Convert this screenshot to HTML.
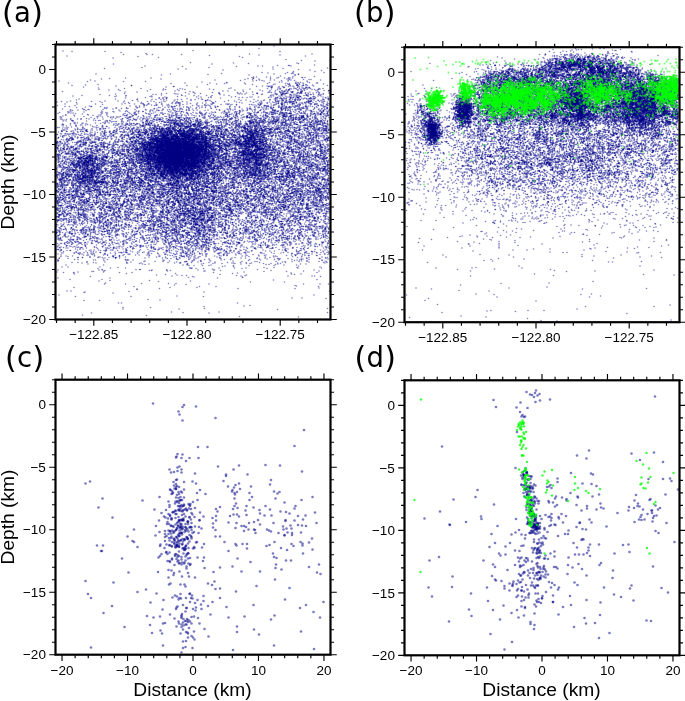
<!DOCTYPE html><html><head><meta charset="utf-8"><style>html,body{margin:0;padding:0;background:#fff}svg{display:block}text{font-family:"Liberation Sans",Arial,sans-serif;font-size:13.5px;fill:#000}.big{font-family:"DejaVu Sans",sans-serif;font-size:27.5px}.pp{font-size:30px}.big{letter-spacing:0.3px}.ax{font-size:19.2px}</style></head><body>
<svg width="685" height="701" viewBox="0 0 685 701">
<defs><marker id="n" markerUnits="userSpaceOnUse" markerWidth="3.2" markerHeight="3.2" refX="1.6" refY="1.6" overflow="visible"><circle cx="1.6" cy="1.6" r="1.6" fill="#000088" fill-opacity="0.5"/></marker><marker id="g" markerUnits="userSpaceOnUse" markerWidth="4" markerHeight="4" refX="2" refY="2" overflow="visible"><circle cx="2" cy="2" r="2" fill="#00ff00" fill-opacity="0.55"/></marker><marker id="N" markerUnits="userSpaceOnUse" markerWidth="5.2" markerHeight="5.2" refX="2.6" refY="2.6" overflow="visible"><circle cx="2.6" cy="2.6" r="2.6" fill="#000088" fill-opacity="0.52"/></marker><marker id="G" markerUnits="userSpaceOnUse" markerWidth="4.8" markerHeight="4.8" refX="2.4" refY="2.4" overflow="visible"><circle cx="2.4" cy="2.4" r="2.4" fill="#00ff00" fill-opacity="0.75"/></marker></defs><path transform="scale(0.5)" d="m472 92 76 0-30 5-132 4 174 2-350 0-66 0-18-1 116 3 50 2-45 2 47 0 11 0 58 0 136-1 125 0-64 2-42 0-99 1-285 1 142 1 203 0 132-1-126 3-168 0-91 1 346 3 31 2 27 1-249 3 216 2-3-1-97 1-30-1-240 2 197 0 205 2-50 1-2 0-22 0-265 1 75 1 108 0 43-1 9 0 57 0-36 2-128 1-134 0-75 2 357 0 89-1-58 3-51-1-174 0-16 0 90 2 174 0 23 1-13 2-43 0-63 2 51 0 11 0 62 0-62 2-3 0-12 0-35-1-93 1-251 1 149 0 75 1 132-1 42 1 7-1 0 1-7 2-92-1-175 0 238 2 25 1 43 0-19 2-5 0-1 0-47 0-16-1-8 0-20 0-6 0-3 1-285 2 32-1 51 0 194 1 11 0 0-1 34 1 13-1 15 0 8 0 1 0 2 0 5 0 37 3-4 0-11 0-28 0-5-1-56 0-13 1-15 0-168-1-119 0-22 2 249 0 51 1 32 0 6-1 5 1 17-1 8 0 14 1 14-1 5 0 7 1 52-1-27 2-38 0-48 0-22 0-215 1-44 0-57-1-15 1-57-1 286 2 49 1 86 0 20-1 5 0 28 0 4 1 5 0 14-1 4 1 16 1-2 0-27 0-8 1-6 0-1-1-12 1-4 0-4 0-36 0-46-1-35 0-5 1-29-1-50 0-28 1-205-1 59 3 219 0 18-1 58 0 14 1 42 0 3-1 27 1 2 0 15-1 1 1 4 0 8-1 5 1 35-1 8 3-30-1-10 1-3-1-5 1-1 0-11 0-1-1 0 1-14 0-8 0-198 0-111 0 0 0-92-1-27 1 88 1 115 1 1 0 165 0 12-1 9 0 3 1 1 0 2-1 4 0 0 1 14 0 7 0 12 0 4-1 5 0 10 0 1 0 7 0 23 0-8 3-1 0-5-1-1 1-13-1-4 1-7-1-19 1-1-1-1 1-23 0-1 0-1-1-148 0-62 0-165 0 30 2 52 1 33 0 78 0 98 0 4-1 73 1 21-1 3 0 2 1 19 0 8 0 3 0 8 0 5-1 2 0 2 1 2 0 2-1 3 0 3 0 3 1 17 0 8 0-6 1-3 1-1 0-7 0-5 0-10 0-6 0-6 0-9-1-10 0-4 1-1 0-5 0-13 0-5 0-12-1-43 0-73 1-8-1-49 1-5-1-10 1-24 0-4-1-26 1-64 0-39 0 20 1 22 1 86-1 32 1 112-1 16 0 34 0 20 1 11 0 13 0 8 0 5-1 1 0 18 0 0 0 6 0 7 1 23 0 16 0 10 0 0 0-1 1-22 0-30 0-1 0-2 1-16 0-4 0-6-1-1 1-5 0-1-1-1 1-4-1-5 1-34-1-38 1-31-1-10 0-66 1-30-1-55 0-170 1 125 1 24 0 97 1 15-1 2 1 37 0 13 0 37 0 30-1 31 1 2-1 2 0 3 1 7-1 10 0 1 1 3 0 2-1 17 1 1-1 1 0 10 1 2 0 4 0 1-1 0 0 2 0 7 1 9-1 13 1 4-1 21 2-19 0-1 0-12 0-10 0-5 1-8-1 0 1-2-1-2 1-4 0-9-1-10 0-2 0-1 0-1 1-1 0-3-1-2 1-1 0-3 0-11 0-36 0-1-1 0 1-21-1-12 0-5 1-37 0-1 0-37 0-11 0-41 0-16 0-10 0-74 0-49 2 31-1 75 1 6 0 40-1 4 0 22 0 62 1 39-1 5 0 6 0 16 1 17 0 2-1 25 0 3 1 1-1 0 1 10 0 2-1 0 0 3 0 11 1 1 0 9 0 3-1 24 0 4 1 1 0 5 0 10 0 1 0 4 0 4-1 1 0-7 3-25-1-2 0 0 1-1-1-4 1-10 0-3 0-8-1-4 0-13 0-7 0 0 0-1 0-16 0-3 0-2 1-83 0-10-1-24 1-11 0-25 0-24 0-1-1-40 0-71 1-33 0-55 0-18 1 84 1 3-1 19 0 48 1 3-1 52 1 16-1 26 0 25 1 49 0 76-1 11 0 7 0 7 1 8-1 3 0 7 0 3 0 0 0 6 1 2 0 0 0 15-1 0 0 11 1 2 0 7-1 6 0 14 2-5 1-5-1-15 1-5-1-5 1-23-1-1 1-1 0-1-1 0 1-1 0-7-1 0 1-5 0-2-1-4 0-8 1-7-1-6 1 0 0-3 0-9-1-3 0-3 1-20-1-13 0-4 0-6 1-9 0-7 0-15-1-41 1-5 0-15-1-9 0-59 1-4-1-4 1-22-1-13 1-40 1 67 0 1 0 7 1 7-1 0 1 41 0 23 0 44-1 110 0 1 1 7 0 3-1 1 1 5 0 4 0 1-1 7 0 1 0 1 0 3 0 6 0 5 0 2 1 5-1 5 1 2-1 3 1 5 0 1 0 3-1 0 1 6 0 0 0 2 0 22-1 5 1 0 1-1 0-8 1-2-1 0 1-21-1-3 0-3 0-5 0-8 0-5 1-1 0-4 0-4-1-2 1 0 0-5 0-5 0-1 0-9-1-5 0-1 0-2 0-8 0-3 1-2-1-9 1-32 0-30 0-73 0-2-1-13 1-8 0-19 0-8 0-27 0-6 0-10 0-8 0-29-1-1 1-43-1-73 0-5 2 112 1 68-1 17 0 32 1 29 0 1 0 3-1 1 0 4 1 37 0 25 0 10-1 24 1 11 0 2-1 11 0 11 1 5 0 9 0 1-1 0 1 7-1 0 1 17 0 1 0 4-1 1 0 3 1 17-1 1 1 4 0 7-1 8 0 1 1 5 0 15-1-8 3-1-1-4 0-5 1-7 0-9-1 0 0-2 1 0 0-1 0-2 0-1 0-4 0-24 0-2 0-2 0-3-1 0 1-2 0-2-1-6 0-6 0-3 0-4 0-3 1 0 0-4-1-30 0-10 1-11 0-32-1-20 1-18 0-8 0-12-1-46 1-11 0-6-1-18 1-3-1-19 1-6-1-7 1-19-1-27 0-13 0-26 0-10 1-17 0-42-1-18 1-9 1 20 0 19 1 51 0 43-1 10 1 26 0 36 0 4-1 22 1 7 0 4 0 4 0 14-1 99 0 6 1 28 0 12 0 4-1 16 0 6 0 3 1 3-1 2 0 4 1 7 0 6-1 0 1 2-1 0 0 2 1 2-1 3 0 1 1 0-1 3 1 3-1 6 0 1 1 16 0 1 0 3 0 2-1 2 0 1 1 8 0 18 0 2-1 9 0 1 3-9 0-13 0-4 0-8 0-2 0-3-1-6 1-7-1 0 0-4 0-7 0-5 0-1 1-2-1 0 1-5-1-11 0-5 0-2 1-5 0-1 0-21-1-1 0-10 0-3 1-37-1-56 0-2 0 0 0-1 0-13 0-7 0-10 0-14 1-21 0-2-1-1 0-3 0-3 1-7 0-32-1-15 1-11 0-4 0-23 0-9 0-120 1 24 0 37 0 14 1 39-1 25 0 17 0 2 1 7 0 3-1 25 0 1 0 13 1 29 0 8-1 19 0 17 1 12-1 2 1 18 0 10-1 3 0 1 1 2-1 6 1 9 0 26 0 4 0 13-1 1 1 4-1 0 1 2-1 19 0 6 1 4-1 1 0 10 1 1-1 0 1 1-1 1 0 9 0 9 1 2-1 3 0 7 1 2-1 2 1 6-1 15 1 2-1 6 1 1 0 2-1 2 1 8 0 11 0 1-1 5 0-3 3-1-1-9 0-4 1-5 0-1 0-24-1-12 0 0 0-6 1-25-1-5 0-6 1-8-1-3 1-11 0-5 0-2 0-9-1-1 1-9-1-4 0-33 0-12 0-42 1-3-1-3 1-4-1-15 0-9 1-25-1-1 0-6 1-19-1-20 0-1 0-1 0-3 1-6-1-10 1-4-1-1 1-138 0-35 0 15 2 9 0 40-1 3 1 1 0 18 0 59-1 12 0 7 0 46 0 11 0 3 0 4 1 1 0 5 0 1 0 9-1 37 0 2 0 6 0 7 0 10 1 9-1 5 1 1 0 24 0 10 0 9 0 34-1 15 0 2 0 3 0 1 1 2 0 1 0 6-1 20 1 2 0 1-1 3 0 3 1 1 0 6 0 6-1 2 1 3-1 1 0 1 0 2 1 1-1 3 0 0 1 13-1 0 1 2 0 4-1 4 0 4 1 8 0 11-1 3 0 2 1 3-1 3 3-1 0-4-1-3 0-13 1-5 0-15-1-2 0-5 0-3 1-6 0-8 0-1 0-7-1 0 1-2-1-1 0-1 1-1 0-3 0-2 0-13-1-2 0 0 0-10 1 0 0-6-1-8 1-10-1-5 0 0 1-2 0-6-1-1 0-9 0-21 1-20-1-28 0 0 1-20 0-7 0-11 0-12-1-4 1-3-1 0 0-7 0-21 0-2 1-7 0-7 0-10 0-3 0-29-1-9 0-4 1-3-1-58 1-43-1-18 1 12 2 44-1 1 0 3 1 19-1 1 0 10 1 10-1 0 0 3 1 18-1 35 1 37 0 4 0 10-1 3 1 15 0 14 0 7-1 22 0 2 1 36 0 11-1 24 0 5 1 2 0 24-1 3 0 4 1 9-1 1 0 1 0 18 0 2 0 0 0 0 0 1 0 4 0 0 0 3 0 0 1 3 0 6 0 15 0 3 0 2-1 4 0 1 1 2-1 1 1 6-1 1 0 14 1 15 0 5 0 5 0 1-1 4 2-5 0-4 1-7-1-5 0-1 1-10 0-13-1-2 0-10 1-2-1-2 1-4 0-3 0-6 0-8 0-6 0-4-1-3 1 0 0-1 0-1-1-16 1-1-1-1 0-8 0-4 1-5 0-5 0-11-1-2 1-6 0-3-1-5 0-11 0-14 1-9-1-5 1-2-1-21 1-48-1-7 0-5 1-8 0-4-1-6 0-9 1-7 0-13-1 0 1-12-1-6 0-17 1-21 0-44-1-20 1-28 0-2 0-7 0-2 0-26 0-16-1 20 3 11-1 16 1 66-1 15 1 39-1 9 0 3 0 10 1 3 0 1 0 6 0 11-1 12 0 3 1 9-1 14 1 4-1 2 1 8 0 7-1 16 1 6-1 23 0 0 0 10 1 12-1 5 0 13 1 8 0 7 0 1-1 15 1 10 0 1 0 24 0 1 0 2-1 1 1 1 0 1-1 0 1 13 0 7-1 0 1 4 0 1-1 4 1 1-1 9 0 11 0 1 0 10 1 4-1 4 1 2 0 19 0 5 0 1 0 1-1 10 0-1 2-4 0-6 1 0 0-6-1-2 0-11 1-4 0-1-1-1 1-11 0-4 0-9 0 0 0-6-1-5 1-6 0-19-1-5 0-1 0-1 1-1 0-5 0-20-1-2 1-22-1-20 0-4 0-2 0-5 1-3 0-14-1-8 1-49 0-36 0-1 0-5 0-4 0-1 0-3-1-8 0-5 1-31-1-6 0-14 1 0 0-8-1-1 1-4-1-18 1-4 0-11-1-14 1-23-1-61 0-2 0-4 1-17 2 19 0 30-1 34 1 3-1 7 1 16-1 30 1 12-1 0 1 30-1 11 0 29 0 11 1 11-1 5 0 7 1 12 0 13 0 14 0 10-1 3 1 4-1 1 1 15-1 4 0 2 1 5 0 2-1 11 0 9 1 1-1 28 1 2-1 5 1 1-1 0 1 1-1 10 1 3 0 2 0 3 0 5-1 2 0 1 0 1 1 2-1 0 1 1 0 3-1 11 0 1 1 3 0 1 0 6 0 10-1 8 1 9 0 4 0 5 0 25-1 3 1 7 0 0-1 1 0 11 0 1 0-1 2 0 1-1 0-6 0-3-1-2 0-7 1-7 0 0 0-1 0-4-1-2 0-1 1-11-1-1 1-3 0-4 0 0 0-8 0-12 0 0 0-2-1 0 1-1 0 0 0-2 0-3-1-1 0-2 0-2 0-3 1-1-1-2 0-1 1-3-1-4 1-3-1-2 1-1-1-6 0-4 1-4 0-2-1-10 0-10 0-10 1-2 0-1 0-1-1-2 0-2 0-17 1-5-1 0 0-4 0-5 1-10-1 0 1-6 0-5-1-24 1-8 0-8-1-1 0-1 1-1-1-6 1-2-1-10 1-7 0-2-1-12 1-7 0-8-1-2 0-14 1-5-1-2 0-2 0-14 0-4 1-10 0-2-1-14 0-9 0-8 1-10 0-35-1-11 1-53 0-5-1-4 0-6 0-20 1 49 1 10 1 27 0 11-1 34 0 8 1 8 0 6-1 1 0 2 0 1 1 24-1 1 0 2 1 14 0 12-1 0 1 10-1 3 1 12-1 3 0 10 1 12-1 28 0 0 0 5 1 2-1 12 0 29 0 0 1 2 0 5 0 0 0 3 0 11 0 0-1 1 0 5 0 7 1 12 0 2 0 1 0 8-1 23 0 6 1 5 0 1 0 1-1 1 1 1-1 4 0 8 1 1-1 6 1 2 0 0-1 1 0 1 1 4-1 8 0 8 1 6-1 15 0 4 0 9 1 3 0 5-1 4 0 4 0 0 1 1-1 0 0 0 0 1 1 5 0 3-1 7 2 0 1-2-1-1 0-4 1-8-1-6 0-5 0 0 1-10-1 0 1-6-1-1 1-7 0-8 0-6-1-6 0-2 0-2 1-2 0-7 0-1-1-3 1-1-1-1 1-2 0-3-1-5 0-27 0 0 0 0 1-4-1-6 1-9-1 0 1-2-1-1 0-7 1-1 0-18 0-11-1-1 1-4-1-12 1-3-1-25 0 0 0-6 1-11-1-4 0-2 1-16 0-4-1-7 0-5 1-3-1-6 1-5 0-4 0-2-1 0 0-4 1-1 0-3-1-1 1-24-1-5 1-3 0-1 0-24 0-14-1-5 1-2 0-12 0-1 0-3 0-3-1-32 0-16 0-12 1-9-1-29 0-16 0-1 0-5 2 23 0 19 1 26 0 2 0 5-1 15 1 25 0 13-1 6 1 5 0 12 0 10-1 11 1 3-1 10 0 19 1 3 0 5-1 1 0 4 1 19-1 30 0 7 0 0 0 9 1 9-1 1 1 11 0 2-1 10 1 10-1 1 1 3-1 1 0 3 1 8 0 5-1 2 0 1 1 13 0 5 0 0 0 1-1 1 0 0 0 9 0 1 0 3 1 7 0 10 0 2-1 5 0 2 0 1 0 1 1 8 0 1 0 2 0 8 0 5 0 5-1 2 1 0 0 1-1 1 1 0 0 2 0 1 0 2 0 6 0 0 0 1-1 1 0 0 0 5 0 5 1 10-1 2 0 0 0 0 0 1 1 2-1 0 0 7 0 1 0 0 1 5 0 10-1 16 1 6-1 2 0 4 3-6-1-5 0-5 0-9 0-2 1-1 0-1-1-4 0-9 0 0 0-8 1-1-1 0 1-1-1 0 1-2-1 0 1-1-1-1 1-3-1-1 1-1 0-4 0-1 0-5 0-3 0-2 0-2-1-3 0-5 0-6 1-1 0-7 0-5-1-3 0-4 1-2-1-5 1-4-1-2 0-3 1-3 0-15-1 0 1-6 0-2-1-1 1-3-1-1 1-1 0-3-1 0 1-1 0-6 0-3 0-14 0-2 0-13-1-1 0-7 0-5 1-5 0-2-1-2 1-8 0-3 0-3-1-10 0-5 1-16 0-1 0-14 0-2-1-9 1-3 0-1 0-2 0-3-1-1 0-1 0-7 0-4 1-2 0-15 0-14 0-1-1-16 0-5 0-6 1-20-1-2 1-1-1-2 1-6 0-13-1-3 0-2 0-6 0-1 0-4 0-1 1-16-1-23 1-60-1-2 0 3 2 50 1 16 0 6-1 36 1 14 0 9 0 1-1 12 1 8-1 11 1 2 0 6-1 5 0 4 0 4 1 7-1 2 0 4 0 6 1 8 0 5-1 16 0 2 1 1-1 0 0 1 1 8-1 2 1 1 0 4-1 1 0 3 0 0 1 1-1 2 0 3 0 10 1 1 0 13-1 0 0 2 0 10 1 7-1 4 0 3 1 13-1 13 1 2 0 1-1 1 0 1 1 7-1 4 0 6 0 11 0 6 0 4 0 6 1 7-1 0 0 3 1 1 0 2 0 0-1 9 1 1 0 15 0 1 0 1-1 5 0 2 0 2 1 9 0 4-1 6 0 5 1 2-1 3 0 3 0 1 0 4 1 4 0 3-1 1 1 2-1 5 1 3-1 12 0 7 1 10 0 6-1 3 1 0 1-6 1-10-1-1 0-3 0-2 0-8 0-1 0-1 0-5 0-2 0-2 1-1-1 0 1-3 0-5 0-1 0-1-1-1 0-5 1-1-1-1 0 0 1-4-1 0 1 0-1-2 1-5-1-3 0 0 1-8-1 0 0-3 1-9 0-2 0-2-1-3 1-2 0-5-1-5 0-9 1-1-1-1 1-5 0-8-1-3 1-2 0-1 0-3 0-3-1-17 1-8 0-6-1-8 1-2 0-1-1-7 0-1 1-3 0-1 0-3 0 0 0-4 0-7 0-3 0-2 0 0 0-28 0-2 0-5 0-8 0-8 0-5-1-4 0 0 1-5 0-1 0-2 0-10-1-1 0-4 0-5 0-4 1 0 0-5-1-8 1-3-1-1 1-1-1 0 1-1 0-9 0-1 0-12-1-5 0-5 0-6 0-7 1-2 0-2 0-1 0-7 0-4-1-12 0-3 1-18-1-18 0-28 0-16 0 0 0-7 0-13 0-1 0-8 1-9 0-3-1 7 2 15 1 2 0 42-1 4 1 6 0 3 0 14 0 5 0 25 0 12 0 3-1 6 1 7 0 13-1 8 1 0 0 1-1 0 1 2-1 5 1 3 0 2-1 6 0 1 0 1 0 2 0 5 0 14 1 3-1 1 0 0 1 2 0 3-1 0 1 0 0 1-1 2 1 1 0 1 0 2-1 1 0 3 1 1 0 4-1 1 1 4 0 2 0 6-1 0 1 4-1 4 0 0 1 10-1 4 0 0 1 17-1 3 0 23 0 8 1 5-1 3 0 3 1 2-1 13 1 0 0 3 0 24 0 3-1 3 1 7-1 1 1 6 0 2-1 1 1 3 0 2-1 3 1 0 0 7-1 3 0 6 1 1-1 5 0 2 0 1 1 1 0 2-1 5 0 4 1 4-1 1 0 0 1 3 0 2-1 3 0 3 0 1 1 2 0 10-1 1 0 2 0 8 1 0-1 0 1 7 0 1-1 9 1 3-1 7 1 2-1 6 1 0 0 5 0 3 0 5 0 4-1-4 3-12-1-1 1-2-1-2 1-1-1 0 1-4 0-2-1 0 0 0 1-5-1-1 0-7 0-14 0-4 1-9 0-4-1-8 0-7 1-1 0-8-1-8 0-1 0-1 1-1 0 0-1-1 0-3 0 0 0-3 1-1-1-2 1 0-1-7 1-6-1-3 1 0 0-2-1-5 0-2 0-6 0-1 0-3 1-3-1-2 0-1 0-1 1 0 0-1-1-2 1-1-1-5 1-10-1 0 1-5-1-3 0-3 0-1 1-3 0-13-1-4 0-8 1-5-1-2 1-10-1-2 1-10-1-9 0-2 0 0 1-3-1-4 0 0 0-2 0-1 0-4 1-4 0-2-1-6 1-4-1 0 0-11 0 0 1-2 0-5-1 0 1-1-1-5 1-5-1 0 0-4 1-2-1-3 0-7 0 0 0-2 1-1 0-4 0-11 0-9 0-7 0-10-1-27 0-11 1-11 0-3 0-4 0-5-1-7 0-3 0-38 0-27 0 0 0-14 0-6 0 24 3 56 0 4-1 5 0 8 0 20 0 4 0 12 0 26 0 1 1 1 0 5-1 3 0 0 0 4 1 5-1 2 0 8 1 14-1 1 1 1-1 0 0 2 1 3 0 1 0 1 0 4 0 3-1 4 1 2-1 0 1 1-1 1 1 17-1 1 0 3 0 2 0 1 0 1 0 1 1 4 0 11 0 2-1 2 0 0 1 2-1 0 1 2-1 3 1 5-1 2 0 0 1 2-1 2 0 0 1 2 0 2 0 12-1 6 1 5-1 1 1 4-1 5 0 1 1 5-1 2 0 5 1 7 0 1-1 8 1 18-1 2 1 0 0 1 0 0-1 1 1 2-1 1 1 1-1 0 0 0 1 0 0 4-1 1 0 1 0 0 1 2 0 0-1 4 1 1-1 1 0 2 0 0 1 2-1 1 0 1 0 4 0 1 0 5 0 1 1 1 0 1-1 2 1 3-1 1 0 2 0 2 0 0 0 1 0 1 1 5-1 0 1 2-1 3 1 2 0 1-1 1 1 1-1 1 1 1-1 1 1 11 0 2-1 3 1 3 0 5 0 6-1 0 0 0 1 1 0 2-1 1 0 2 1 3-1 5 1 2-1 3 0 3 1 1-1 0 0 5 1 4 0 2-1 1 1 1-1 5 0 3 0 1 0 4 0 0 1 6-1-1 3-3 0-2 0-1-1-3 1-5-1-6 0-2 1-2-1-2 1-2 0-5-1-3 0-4 1-13 0-12 0-1-1-6 1-2 0-4 0-4-1 0 1-1-1-6 0 0 1-3 0-11 0-4 0 0 0 0 0-3-1-4 1-3-1-8 0-1 0-9 0-1 0-2 0-3 1-4 0-4-1-3 0 0 1 0 0-3-1-5 1-1 0-1-1-2 1-8 0-3 0-3-1-4 0 0 1-3 0-5 0-1-1-11 1-4-1-8 0-3 0-4 0-18 1-2-1-2 1 0-1-5 0-4 1-1 0-4 0 0 0-6-1-1 1-7-1-3 0 0 1 0 0-7 0-1 0-2 0-2-1-4 0 0 0-1 1-1 0-1-1 0 0-2 0-2 0-1 1-1-1 0 1-2 0-3-1 0 1 0 0-1 0-1-1-1 0-1 0-2 0-1 1-1-1-2 1-1-1-17 1-19-1 0 1 0 0-2-1-3 1-1 0-6 0-5 0-8 0-4 0 0 0-6 0-1 0-4 0-3 0-5 0-2-1-8 1-13 0-14-1-7 0-2 1-8 0-10-1-19 1-6-1-2 1-9-1-5 1-2-1-7 1-16 1 1 1 49 0 53-1 9 0 1 0 5 0 8 0 2 1 1 0 1 0 6 0 2-1 8 1 3 0 6 0 12 0 1-1 0 1 0-1 3 0 1 0 0 1 2 0 3-1 7 0 7 1 12 0 5 0 0 0 5 0 10 0 1-1 0 1 0 0 4-1 0 0 1 1 1 0 0-1 1 0 8 0 1 1 0 0 1-1 2 0 4 1 2 0 3-1 1 0 3 1 0 0 4 0 1-1 1 1 0 0 0 0 0 0 2-1 1 1 0 0 1 0 4 0 1-1 1 0 0 0 2 0 1 1 3-1 1 1 3 0 7-1 0 0 8 1 1 0 20-1 0 1 9-1 2 0 1 0 0 0 3 1 5-1 4 0 5 1 5-1 0 1 2-1 2 0 1 1 10-1 1 1 2 0 0 0 4-1 1 0 2 0 5 0 1 0 4 1 3-1 1 0 2 0 0 0 0 1 7-1 2 0 8 1 2-1 2 1 6-1 6 1 5-1 7 0 2 1 6-1 1 1 2-1 3 1 11 0 2-1 2 0 1 1 0 0 2 0 0 0 15-1 0 1 10-1 0 1 2 0 0 0 4 0 3 0 6-1 1 1 1-1 2 0 0 1 2 0 0-1 5 0 0 0 9 1 1-1 2 2-4 1-3 0-6-1-1 1-9-1-2 0-4 1-6 0-3-1 0 0-5 1-1-1 0 0-3 0 0 1-1 0-1 0-2 0 0 0-6 0-3 0-15-1-2 0-1 0 0 0 0 1-5-1-1 1-1 0-4 0 0-1-3 0-2 1-1 0-1-1-4 1-4 0-29 0-6-1-2 1-3 0-1-1-2 1-3 0-3-1-3 1-2 0-6-1-3 0-2 1-1-1-9 1-1-1-4 0 0 1-1-1-6 0-2 0-5 0-1 0-7 0-9 1-3 0-1 0-2 0-5 0-5 0-8 0-4 0-2-1-9 1-3-1 0 1-1 0-3-1-2 0-3 1 0 0-2-1-1 0-1 1 0 0-4 0-7 0-9 0-1 0-3-1-1 0-1 1-1-1-2 0-1 0 0 1-1-1-1 0-1 0-1 0-2 0-2 0-1 0-4 1-3 0-1-1 0 0 0 1-5-1 0 1-3-1-3 0 0 1-3-1-10 0-1 1-6-1-1 1-3-1-1 1-4 0-1 0-2 0-3-1-4 1-3-1-1 0-2 1 0 0-4 0-10-1-3 1-4 0-5 0-1-1-7 1-1 0-4-1-11 0-1 0-3 1-4-1-22 1-11 0-13-1-10 0-7 0-3 0-9 0 0 1-11-1-14 0-3 0 9 2 19 1 33 0 20-1 8 1 1 0 28-1 0 1 38-1 4 0 0 0 1 1 2 0 1-1 21 0 0 1 2-1 0 1 3-1 1 1 3 0 3 0 8 0 12 0 0 0 1 0 7 0 1-1 0 1 2 0 5-1 2 0 0 1 0-1 1 1 1-1 0 1 3 0 1-1 3 1 1-1 3 1 0 0 1 0 1 0 0 0 1-1 0 1 2-1 1 1 2 0 1-1 0 0 0 1 1-1 1 0 4 0 1 1 2 0 0 0 5-1 1 1 0 0 2-1 0 0 1 0 0 1 1-1 9 1 1 0 2-1 0 1 3-1 3 0 4 0 2 1 1 0 1-1 1 0 4 0 3 0 0 0 10 0 0 1 4-1 1 0 1 0 2 0 11 1 8-1 1 0 0 1 3-1 0 0 3 0 0 0 2 1 4 0 0 0 2-1 3 1 1-1 4 1 2-1 0 1 0-1 1 1 1 0 2 0 1 0 4-1 3 0 1 1 1-1 0 0 2 1 1 0 0-1 1 0 3 1 3-1 1 0 0 1 1-1 5 0 2 1 1-1 1 1 2 0 3-1 1 0 5 0 7 0 7 0 5 1 7-1 3 0 7 1 7-1 11 1 8-1 13 1 1 0 1 0 3 0 1 0 2-1 1 0 1 1 1 0 5-1 14 0 1 0 2 0 2 1 0 0 4 1-2 0-1 0-6 0-3 1-4 0-6-1-5 1-2-1-5 1-1-1-6 1-7 0-8-1 0 0-4 1-6 0-1 0-1 0-4-1-3 1-3 0-1-1-4 0-5 1-4 0-4 0-3-1-1 1-3-1-1 0-7 1-6-1-6 0-3 0-2 1-1 0-1-1-4 1-4 0-3 0-4 0-1-1-6 0 0 1 0-1-3 1-3-1-7 1-1 0-1-1-1 1 0 0-1 0-1-1-2 1-2 0-2-1-2 1-1-1-4 1-3 0-6-1-6 1-10 0-3-1-3 1-4-1-1 0 0 1-2 0-1 0-1-1-4 0-1 0-1 1-3-1-1 1-9 0 0 0-3 0-1-1-1 0 0 1-2 0 0 0-4 0 0 0-2 0-2 0-5 0-1-1-3 0-10 1-2-1-1 0-1 0 0 1-2-1-2 0 0 1-1-1-2 0-4 0-3 1-5 0-4-1-2 1-3-1-1 0-1 1-1 0 0 0-4-1-1 1-2-1-2 1-1 0-1 0-10-1-5 0-7 1-4 0-3 0-5-1 0 1-10-1-1 1-8 0-4 0-3-1-7 1-6-1-8 0-2 1-4 0-1-1-6 0-2 0-8 1-24-1-2 0-8 1-4-1-4 0-22 0-23 0-7 1-10-1-8 1-3 0 15 1 3 0 22 0 10 0 1 0 3 1 15 0 9-1 7 1 6 0 4 0 1 0 7-1 16 1 6 0 4 0 0 0 7 0 6-1 0 0 9 1 1 0 2-1 6 0 13 1 8 0 6-1 2 1 3-1 0 1 2-1 1 0 3 0 0 1 2 0 0 0 0 0 4-1 0 0 4 1 1-1 1 1 1-1 0 1 0 0 3 0 3 0 0 0 1 0 4-1 1 0 0 0 1 1 3 0 2-1 1 1 1 0 3-1 0 1 7 0 0-1 5 1 1-1 0 1 7-1 1 1 2-1 0 1 2-1 1 0 4 0 1 1 2-1 1 1 1 0 1 0 2 0 5-1 0 1 0 0 1-1 3 0 1 1 4 0 3-1 0 0 1 1 1 0 1-1 2 0 1 1 3 0 1-1 1 1 2-1 2 1 9-1 9 0 0 1 0 0 1-1 1 0 0 1 1 0 3-1 2 0 15 0 0 0 4 0 6 0 1 0 8 1 4-1 5 1 1-1 0 1 1-1 1 1 3 0 1 0 1-1 4 0 0 1 9 0 1-1 2 1 1 0 3-1 3 1 3 0 0-1 0 1 1 0 8 0 3 0 0 0 2 0 1 0 6-1 3 0 2 0 4 1 2 0 1 0 1 0 1-1 2 0 4 1 3-1 2 0 2 0 3 1 12-1 7 1 1-1 1 0 5 0 0 1 10-1 2 0 0 1 2 0 1 0 1-1 10 1 3-1 1 0 3 0 5 1 1-1 1 0 1 1 4-1 2 1 2 0 0 0 4-1 0 1 2 0 5 2-2-1-5 0-2 0 0 1-2 0-4 0-5-1-1 1-1 0-1 0-1-1-3 0 0 1-4-1 0 1-3-1-4 0-5 0 0 0-1 1-6 0-3-1-4 1-1 0-3 0-9 0-1-1-7 0-4 0 0 1-1 0-8 0-1-1-7 0-1 1-2-1-2 1 0 0-2-1 0 1-2 0-1-1-1 1-5 0 0 0-1-1-1 0-1 0 0 0-1 0-1 1 0 0-1-1-6 1-2-1 0 0 0 1-3 0-3-1-1 0-4 1-4-1-1 1-2 0-2-1 0 1-6-1-1 1 0-1-2 0-5 1-1-1 0 1-2-1-1 0-1 0 0 0-2 0-12 1-2-1-1 1-2-1-5 1 0-1-2 1-11-1 0 1-1 0-1 0-1 0-1-1-3 1-5-1 0 1-1-1-5 0-1 0-2 0-3 1-1-1-3 0-2 1-5 0-7 0-8-1 0 1-5 0-1-1-1 1 0 0-3 0 0 0-1 0 0-1-1 1-1 0-2-1 0 1-1-1-1 1 0 0-2-1-3 0-1 0-1 0 0 1-1-1-1 1-6-1-4 0-1 0-1 0 0 0 0 0-5 0-1 1 0 0-1 0-8-1-1 0-1 1-2-1 0 0 0 0-1 1-1 0 0 0-4-1-1 0-2 0 0 0-1 0-1 0-1 1-1-1-1 0 0 0-5 1-3-1-1 0 0 1-1-1-2 1-2-1 0 0 0 0-1 0-5 1-5-1 0 0-1 1-3 0-3-1-2 1 0 0 0-1-7 1-1 0-2-1-2 1-5 0-4-1-3 1-2-1-8 0-1 0-1 0-5 0 0 0-3 1-1 0-6 0-9 0-32-1-5 0-2 0-26 1-8 0-3 0-3 0-4-1-1 1-5-1-15 0-10 0 3 2 0 0 4 0 19 0 19 0 2 1 1-1 0 1 9-1 3 0 9 0 6 0 10 1 18 0 0 0 4-1 2 0 0 0 14 1 12-1 5 0 5 0 3 0 2 0 4 0 4 1 5 0 1 0 3-1 1 1 1 0 4-1 3 1 1-1 1 1 2 0 5-1 0 0 2 0 1 0 0 1 1 0 6-1 1 1 1-1 2 0 0 1 0 0 1 0 1-1 2 0 1 0 0 1 0 0 3-1 2 0 3 0 1 1 0 0 0 0 2-1 0 0 1 1 1 0 6 0 2 0 0-1 2 0 1 0 0 0 2 1 2 0 2-1 0 1 1-1 0 1 0 0 1-1 0 1 1-1 1 1 0 0 2 0 2 0 0 0 1-1 1 1 0 0 6 0 1-1 1 0 1 1 1-1 1 1 1 0 0 0 2-1 0 0 1 0 0 1 1-1 0 0 1 0 0 1 1 0 1-1 0 1 1-1 6 0 0 0 0 1 2 0 4-1 0 0 1 1 5 0 10-1 1 0 5 0 0 1 5-1 5 0 0 1 1 0 4-1 0 1 6-1 6 1 1 0 2-1 0 0 1 0 2 1 6 0 1-1 1 1 2-1 5 1 3-1 9 0 1 1 0-1 2 1 1 0 2-1 2 1 4-1 0 1 0 0 2-1 2 0 2 1 1-1 1 0 2 1 2-1 1 1 2 0 0 0 1 0 1-1 0 1 0-1 1 1 5 0 1 0 0 0 3-1 0 1 2-1 0 1 1-1 0 0 0 1 2 0 2 0 0 0 1-1 4 1 3 0 3-1 0 1 8 0 2-1 11 0 10 1 1 0 1 0 3 0 0 0 1 0 12-1 3 1 1 0 2 0 3-1 0 1 1-1 0 0 0 1 10 0 1 0 9 0 9-1 1 1 2-1 0 1 4 0 2-1 2 1 5-1 3 1 1 0 1 0 2 0 1-1 0 1 1-1 3 0 1 0 1 1-4 2-1-1-6 1-4-1-3 0-7 1-3 0-7-1-6 0-2 1-2-1-8 1-14-1 0 1-2 0-1-1-4 1-4 0-1-1-1 0 0 1-1-1-2 0 0 0-3 0-3 1-7-1-3 1-2 0-8-1-6 1-1-1-2 1-7 0-1-1-2 1-2 0-2-1 0 0-2 0-6 0-3 1 0 0 0 0-2 0 0 0 0 0-3-1-2 1-4 0 0 0-1-1-1 0-1 1-1-1 0 1-1-1-1 1 0 0 0 0-6 0-1 0 0 0-1 0-2-1-3 1 0 0-1 0-2-1-3 1-2-1 0 0-5 1-4-1 0 1-1-1-6 0-4 1-2 0-2-1-3 1-4-1-3 0-1 0 0 1-3 0-3 0 0 0-2-1-3 0 0 1-5-1 0 1-4-1 0 1-1 0-2 0-5-1 0 1-1-1-8 1-1 0-1-1 0 0-2 1-1 0 0 0 0-1-2 0-3 0-2 0-1 0 0 0-3 0 0 0-1 1-1-1 0 1 0 0-2 0-1-1-2 0 0 1-2-1-1 1-1-1-2 0 0 1-1 0-1 0 0 0-1-1-4 0 0 1-1 0-1 0-3 0-2-1-2 0 0 1-1 0-2-1 0 0 0 1 0 0 0 0-1-1 0 0 0 0 0 1-1 0-1-1-3 0-1 0 0 0 0 1-3-1-2 1-1-1-1 1 0-1-1 0-1 0 0 1-3-1 0 1-2-1 0 1-1-1 0 1-1 0-3 0 0-1 0 1-5-1-2 1-1 0-1 0 0-1-1 1-3-1 0 1-2 0 0 0-1 0-3 0-1 0-1-1-1 0 0 1-2 0-2 0-6-1-5 1-3 0 0 0-12-1 0 1-1-1 0 1-1 0-6-1-1 0-5 0-1 0-3 0 0 0-12 1-6 0-3 0-7 0-4-1-9 0-11 0-5 1-29 0-1 0-1-1-1 0-6 1-1 0-3-1-1 1-6 0-8-1-3 0-2 1-8 0-1 0-9-1 0 0 0 1-1-1-6 2 30 1 9 0 25-1 3 1 6-1 5 1 10-1 4 0 2 0 2 1 6-1 0 0 1 0 6 0 0 1 1-1 1 1 3-1 2 0 8 0 5 0 0 1 2 0 2-1 3 0 5 0 3 0 5 0 2 1 4-1 1 0 2 1 1 0 1 0 1-1 2 0 2 0 2 1 1 0 0 0 2-1 1 1 1 0 2-1 1 1 1-1 0 0 1 1 1-1 3 0 6 0 0 0 1 0 3 0 1 0 0 1 1-1 6 0 1 1 2-1 1 0 1 0 0 0 1 0 1 0 3 1 1 0 1-1 0 0 0 0 2 0 0 0 1 1 1-1 0 1 2-1 1 0 0 0 0 1 4-1 1 0 0 0 0 1 0 0 1 0 0 0 1 0 1-1 1 1 0-1 1 0 4 1 2 0 2 0 6 0 3-1 0 0 2 0 2 1 1-1 1 0 0 1 1 0 1-1 1 0 0 0 2 0 0 1 2 0 0 0 1-1 1 0 2 1 2-1 1 1 1 0 0 0 1 0 1-1 0 0 0 1 3-1 0 1 3 0 1-1 8 1 0 0 1-1 1 1 0 0 0 0 2 0 2 0 1-1 0 0 0 1 3 0 1-1 4 0 0 0 1 0 0 1 1-1 0 0 0 1 1-1 0 1 0 0 7 0 2-1 6 0 3 1 6 0 1-1 1 0 5 0 1 0 8 1 7 0 4-1 0 1 5 0 1-1 0 1 4-1 13 0 0 1 1-1 2 0 1 0 1 0 2 0 1 1 1-1 1 0 0 1 0 0 3-1 0 1 1 0 3-1 1 0 0 0 2 0 2 1 2-1 0 0 1 0 1 1 2 0 3-1 2 0 1 1 9 0 1-1 2 1 1 0 2 0 1-1 3 1 1-1 1 0 4 0 4 1 4 0 1-1 0 1 1-1 1 0 2 0 5 0 1 0 2 0 7 0 2 0 6 1 5-1 0 1 2 0 3 0 16-1 4 0 5 1 1 0 3 0 1 0 4 0 2 0 13 0 6-1 3 1 2 0-1 1-3 1-4-1-4 0-2 1 0 0-3 0-4-1 0 0-4 1-3 0-9 0 0-1-1 0-1 0-1 0-3 0-8 0-4 1-3 0 0-1-12 0 0 0-1 0 0 1-1 0-1-1 0 0-7 1-3-1-3 0-3 1-2 0-1-1-2 0-7 0-1 0-3 1-1-1-2 0-6 0-1 0-2 0 0 1-2-1 0 0-4 0-2 1-5-1-1 1-1-1 0 1-1-1-1 1-1-1-7 1-1-1-2 1-1-1 0 0-1 1-1-1-1 0 0 0 0 1-2 0-1 0-2 0 0-1-1 0 0 0-2 0-2 1-1-1-2 0 0 1-1 0-2 0-4-1-1 0-7 0-2 1-3 0-11 0-4-1 0 1-3 0-4-1-2 0-1 1-3-1 0 0-4 1-1-1 0 1-6 0-4 0 0 0-1-1-6 1-2-1-1 0-2 0-1 0-1 1-1 0-2 0-2 0 0 0-2-1 0 1-6 0-2-1-4 0-4 1-3-1-1 1-2-1-3 0-1 1 0 0 0 0-1-1 0 0 0 0 0 1-1-1 0 1-2 0-3 0 0-1-1 1 0-1-3 0-2 1-1 0 0 0-2 0-1-1 0 1-1-1 0 1-1 0 0-1 0 0-1 0-1 1-1-1 0 1 0 0-1 0-1 0-1-1 0 1 0 0 0 0-1-1-1 0 0 0-1 0 0 0 0 1-4-1 0 1 0 0-1-1 0 1-1-1-5 1-2-1-1 0-1 1-1-1-1 0 0 0 0 0 0 1-4-1 0 1 0-1-1 0-1 0 0 1-1-1 0 1-3-1 0 1-3 0-2 0-1-1 0 1-1-1 0 1-2-1-1 0-3 0 0 0-1 0-2 0-4 1 0-1-1 1-2 0-2 0-2 0-1-1 0 1-1 0-4 0-4-1-1 1-2 0 0 0 0 0-3-1-7 1-3-1-10 0-1 0-1 0 0 0-9 0-21 1-3 0-9 0-2 0-12-1 0 1-1-1-7 0-11 1-10 0-11-1-6 1-14 0-3 0-2 0-13 0-10 0-7 2 1 0 8-1 7 0 4 0 2 0 3 0 2 0 5 0 5 0 2 1 4 0 12 0 3-1 3 1 7 0 8 0 13-1 5 0 1 0 13 0 5 1 3-1 14 1 0 0 7 0 4-1 2 1 5-1 0 1 1-1 1 0 1 0 3 0 2 1 6 0 0-1 2 1 2-1 0 1 0 0 3-1 7 0 0 1 1-1 4 1 1 0 0 0 1 0 4-1 3 0 0 0 2 0 2 1 8 0 1-1 3 0 1 0 3 0 0 1 1 0 1-1 1 0 0 0 0 1 1-1 1 1 0 0 0 0 2-1 3 0 0 1 0 0 1 0 1 0 1 0 1-1 2 1 2 0 0-1 1 0 0 0 1 0 1 1 1 0 2 0 0 0 1 0 1 0 3 0 2-1 0 1 0 0 5-1 0 1 1 0 1-1 0 1 1-1 0 0 0 0 1 0 0 1 0-1 0 1 1-1 0 0 0 1 1 0 0 0 1-1 1 0 1 1 0 0 0 0 2-1 0 1 2-1 1 0 0 0 0 1 1 0 1-1 2 0 0 1 1-1 0 1 0-1 1 0 1 0 0 0 0 0 0 0 2 1 1-1 2 0 0 1 1-1 2 0 0 1 1-1 3 0 1 1 0 0 1-1 1 1 1 0 1-1 1 0 0 0 0 1 0 0 2-1 0 0 2 0 0 0 0 1 0 0 3-1 0 0 1 1 2 0 1-1 0 0 2 0 0 1 3 0 1-1 0 0 1 0 0 1 1 0 1 0 1-1 1 1 1-1 1 0 8 0 2 1 4-1 0 0 5 0 1 0 0 1 0 0 2 0 1-1 2 1 5 0 6 0 2-1 2 0 1 0 0 0 4 1 1 0 7 0 2 0 1 0 7 0 9 0 0 0 2 0 0 0 1 0 0-1 2 1 0-1 1 0 3 0 2 0 0 0 0 1 0-1 0 1 3-1 4 0 0 0 3 0 0 1 0 0 1-1 0 0 2 0 2 1 1 0 5-1 1 0 1 0 2 1 3 0 1-1 3 0 1 0 7 0 15 1 1-1 8 0 3 0 0 1 3-1 9 0 1 1 9-1 4 0 4 1 2 0 3-1 11 0 0 0 2 1 0 0 5 0 1 0 5-1 2 1 2-1 9 0 6 0 2 3-5 0-4 0-4 0-4-1-2 1-3 0-4-1-2 1-3 0-1 0-3-1-1 1-2-1 0 1-1-1-5 0-9 1-2 0-5-1-1 0-2 0-1 0-8 1-2-1-3 1-2 0 0-1-6 1-3-1-7 1-1-1-5 0 0 1-1 0-4-1-1 1-2 0-3-1-11 0-2 0 0 1-1 0-2-1 0 1-1-1-1 1-2-1-2 0-3 0 0 1-3-1 0 1-1-1 0 0 0 1-4-1-1 1 0 0-1-1 0 1-1-1-1 0-1 0 0 1-1-1 0 1 0-1-1 0-1 1-5 0 0-1-2 1-1 0 0 0-3 0-1 0-2-1-1 1-5-1 0 1-1 0-7-1-1 1 0 0-1 0 0 0-3-1 0 1 0 0-1-1-3 0 0 0-6 1-2-1-3 0-2 0-1 1 0 0-1-1-2 0 0 0-5 0-1 0-4 0-1 1-1-1-1 0 0 0-2 1-1 0-1 0-2 0-1-1-1 1-1 0-1-1-6 0-1 0-6 1-3-1 0 1-2 0-1 0 0 0-1 0-2-1-1 0-2 1-1 0 0 0-2-1-1 0-1 1 0 0 0 0-1-1-1 0-1 0 0 0-1 0 0 0-3 0 0 0-2 0 0 1-3 0 0 0-2 0-1 0 0 0-1-1 0 1-1 0-1-1 0 1 0 0-1 0-1-1-1 0 0 0 0 0 0 1-1 0-1-1 0 0-2 0 0 1-1 0 0 0-1-1 0 1-1 0-1 0-1-1 0 1 0-1-1 0 0 0-1 1-1 0-1-1-4 1-1-1 0 1-1-1 0 0-1 1-1 0-1-1 0 0-1 0 0 1 0 0 0-1-1 0-1 1-1 0-3 0-1-1-1 0-1 1-1-1-2 0 0 0-1 1 0 0-1-1 0 0 0 1-1 0 0 0 0 0-1-1-2 0 0 1 0 0-1-1-1 1-1 0 0-1-1 0-1 0 0 0 0 0 0 1-1 0-1-1-2 0 0 1 0 0 0 0-2-1-2 0-1 1-2-1-2 1-1 0 0 0-2 0 0 0-3 0-2 0-2 0 0-1-5 1-2 0-1-1-4 0-5 0 0 0-2 1-3 0 0 0-1 0 0 0-1-1-1 0-5 0-1 0-4 1-11 0-2 0-1-1-1 1-3 0-1 0-5-1-1 1-2-1-14 1-1 0-2-1-5 0-7 0-2 1-1-1-8 0-12 0-1 1-3-1-2 0-5 0-14 1-3-1-1 1-13-1-10 0-5 1-4 0-7 1 4 0 0 1 3-1 11 1 5-1 6 0 26 1 5-1 0 0 4 0 9 1 10-1 2 0 1 1 8 0 2 0 4-1 2 1 4-1 14 1 7-1 9 0 0 0 1 0 8 1 7 0 0 0 1 0 3 0 1 0 5-1 1 1 11-1 7 0 0 1 1 0 5 0 1-1 1 0 0 1 2 0 2-1 2 1 0 0 2 0 1-1 0 0 2 0 0 1 1 0 1-1 1 0 1 0 0 1 1 0 1-1 0 0 0 1 1-1 0 0 0 1 2 0 0 0 2-1 0 1 1-1 0 1 1-1 2 0 4 1 2 0 1 0 1-1 0 0 1 0 1 1 1-1 0 1 1-1 0 0 0 1 2-1 0 0 0 0 0 1 1-1 0 1 1 0 2-1 0 0 0 0 0 1 1 0 0 0 1-1 0 1 1 0 0 0 3 0 1 0 0 0 1-1 1 0 1 0 0 1 1-1 0 0 0 0 0 1 2-1 0 0 0 0 0 0 0 0 1 0 0 0 0 1 1-1 0 1 1 0 0 0 0 0 2-1 0 0 2 0 0 1 2 0 1 0 1-1 0 0 0 0 0 1 0 0 1-1 1 0 1 0 1 0 1 0 0 0 0 1 0 0 3 0 1-1 1 1 3-1 0 0 1 0 1 1 0-1 1 0 0 1 1-1 0 0 0 0 1 1 2 0 1 0 0 0 0 0 1-1 0 1 3 0 0 0 1-1 2 0 1 0 1 1 1-1 1 1 1 0 0 0 0-1 1 1 1 0 1 0 5 0 2-1 3 1 3-1 2 0 4 0 1 1 0-1 1 1 1 0 3-1 2 1 1 0 1 0 11-1 1 1 1-1 2 0 7 1 0 0 4 0 5-1 4 1 3-1 1 1 1 0 2 0 0-1 1 0 0 0 0 0 0 1 1 0 1 0 1 0 2-1 0 1 2-1 0 1 1 0 0 0 2 0 5-1 1 0 0 1 1-1 0 0 0 0 1 1 1-1 0 0 1 1 1-1 1 1 0-1 3 1 2 0 2-1 0 1 0 0 2 0 1-1 1 1 3-1 0 1 0 0 0 0 7 0 8-1 0 1 3-1 3 0 0 1 2-1 7 1 5-1 3 1 6 0 4-1 0 0 6 0 4 0 0 1 1-1 0 1 3 0 4-1 1 0 3 1 4 0 2 0 0 0 6-1 0 1 4 0 3 0 6 0 15 0 1-1 0 0 0 0 4 0 0 1 4 0 6-1 2 1 6-1 3 2-1 1 0 0-9 0-4-1-12 1-4-1 0 1-1-1-5 0 0 0-9 0-1 0-6 1-9-1 0 1-13 0-1-1-3 0-1 0-3 0-2 1-3-1-4 0-2 0 0 1-5-1-9 1-7-1-15 1-1 0-1-1 0 0-1 0 0 1-1 0 0-1-4 1-1-1-4 1 0 0-2 0-4-1 0 1 0 0-1-1-1 1-1 0 0 0-1-1-2 1-1-1 0 1 0 0-1 0-1-1 0 0 0 1 0-1-1 1 0 0-1 0-1 0 0 0-3 0-1 0-3-1-3 1-1-1 0 1-2 0-1-1-1 0-3 0 0 1 0-1-2 1-1 0-2-1-2 0-3 1 0-1-1 1-2 0-2-1-2 1-2 0-1 0-2 0-3 0 0 0-7-1 0 0 0 1 0 0-2-1 0 0 0 0 0 1-2 0 0 0-3 0-6-1-1 1-3-1-3 1-1-1-2 1-1-1 0 1-1 0-2 0-3-1-3 1-3 0 0 0-1 0-3-1 0 1-1 0-1 0-1-1 0 0 0 1-1-1 0 0-2 0-3 0 0 1-1 0-1-1-2 1 0 0-2-1 0 1-1-1 0 0 0 1-1 0-1-1 0 1-1-1-1 0 0 1-1-1 0 0 0 0 0 1-1 0-1 0 0 0-1-1-1 0-2 0-1 0 0 0-1 0 0 0 0 1 0 0-1-1-1 1 0-1-1 0 0 0 0 1-1-1 0 1 0 0 0 0-2-1 0 0 0 1 0 0-1 0-1-1 0 0 0 0 0 1-1-1 0 0-1 0 0 0-1 0-1 0-1 0-2 0-4 0-1 1-1-1-1 1 0 0-1-1-1 1 0-1 0 1 0 0-1-1 0 1-1 0 0 0-1-1 0 1-1-1-1 0-2 1-1-1 0 0 0 0-1 1-1 0-1-1 0 0 0 1 0 0-1 0-1 0-2-1-1 0-1 1-1-1 0 1-1-1-1 1 0 0-1-1 0 1-1 0-2-1 0 0-1 0 0 0 0 1-1-1 0 1 0 0-1-1 0 0 0 0 0 0-1 1-1-1-1 0 0 0 0 1-3-1-6 1 0 0 0 0-3 0 0 0-1 0 0 0-1 0-1-1-3 1-1 0-1-1-1 0-3 1-2 0 0 0-2 0 0 0 0 0-1 0-3-1-3 1-1-1-1 0-11 1 0 0 0 0-1 0-2-1-5 1-1-1 0 1-2-1 0 1-2 0-1 0-1 0-4 0-9-1-1 1-3 0-1-1-4 0-7 0-3 0-19 0-15 0-6 0-13 1-4 0-5-1-2 1-2 0-2 0-6 0-1-1-5 0-6 1-2 0-16 0-9 0 0 0-1 2 18 0 5 0 2-1 1 1 3-1 10 1 7-1 7 1 1 0 4-1 2 0 2 1 6-1 8 0 5 0 2 0 1 0 3 0 4 1 2-1 2 1 4-1 7 0 2 1 9-1 11 1 0 0 1 0 9 0 6-1 1 1 2 0 3 0 3-1 1 0 4 0 6 0 0 1 2-1 1 0 0 1 2 0 0 0 2 0 3-1 5 1 1 0 6-1 1 0 0 0 1 1 1 0 2-1 1 1 2-1 1 1 2 0 0 0 2-1 0 1 1 0 1 0 2 0 0-1 1 1 2 0 0 0 0 0 1-1 0 0 1 1 1-1 0 0 0 0 1 1 1-1 0 0 0 1 1-1 0 1 1 0 0 0 1-1 0 0 0 1 1-1 1 1 1 0 1-1 0 1 0 0 1-1 0 0 2 0 0 1 0 0 0 0 1 0 1 0 2-1 0 1 2-1 0 1 0-1 1 1 0 0 0 0 1-1 0 1 0-1 1 0 1 1 0 0 0-1 2 1 1-1 1 1 0 0 0 0 1-1 0 1 1-1 0 1 1 0 0-1 2 0 0 1 1-1 1 1 1-1 0 1 3 0 0 0 1-1 0 0 1 0 0 0 0 1 1 0 1-1 1 1 1 0 1-1 0 0 0 1 1-1 0 0 1 0 0 1 1-1 0 1 1-1 1 0 2 1 2-1 0 1 0-1 0 0 0 1 1-1 2 0 0 0 2 0 2 0 0 1 0 0 1-1 0 0 0 1 2-1 1 0 0 1 1-1 0 1 0 0 0 0 1-1 0 1 0 0 1-1 1 0 0 0 0 0 0 0 0 0 0 0 0 1 1-1 0 0 0 1 0 0 3-1 0 1 1 0 1 0 2 0 1 0 0 0 1-1 1 1 0 0 1 0 1 0 0 0 1-1 1 0 2 0 0 0 2 0 0 1 0 0 1-1 0 1 0 0 1-1 0 1 4-1 0 1 1-1 2 0 0 1 0 0 3-1 3 0 3 0 1 0 3 0 3 1 3 0 6-1 2 1 14 0 8-1 1 0 3 0 1 1 4 0 0 0 8-1 1 0 0 1 0 0 3 0 0 0 2-1 1 1 1-1 0 0 0 1 1-1 1 0 1 0 3 1 1-1 0 1 1 0 3-1 0 1 0 0 1-1 1 1 1 0 1 0 0 0 4-1 5 1 1-1 4 0 4 0 0 1 1-1 3 0 0 0 0 0 1 1 4 0 7 0 11 0 4 0 6-1 5 0 0 1 0-1 5 0 3 1 2 0 0 0 3-1 0 1 0 0 6-1 10 1 1-1 1 0 2 0 7 0 1 0 1 1 5 0 2 0 1 0 1 0 3 0 2-1 0 0 6 0 0 0 5 0 1 1 9-1 6 0 1 0 0 1 2-1 1 1 1-1-3 2-1 1-2-1-1 1-1-1 0 1-17 0-6-1-1 1-3 0-5 0-1 0-3-1-9 0-8 0-5 1-2 0-2-1-2 1-3 0-3 0-17 0-1-1 0 0 0 1-1 0-5 0-1-1-5 1-7 0-2 0-1-1-5 1-1 0-5 0-1 0-3 0-1 0-1-1-2 0 0 1-1-1 0 1-1 0-1-1-1 1-1-1-2 1-1 0 0 0-1 0-1-1 0 1-2-1 0 1 0 0-2-1-3 1 0 0-1-1 0 0 0 1 0 0-1 0 0 0-1 0-1-1 0 0-1 0 0 0-1 1 0 0-1-1-1 1-4-1-1 0 0 0 0 1 0 0-2 0-6-1-5 0-2 0 0 1-1-1-2 1 0 0-2 0-6 0-1-1-3 1-2-1-3 1-3 0-1-1-2 0 0 1-2-1 0 1-9-1 0 0-1 1-1-1-1 0-1 1-4 0-3-1-3 1 0 0-2 0-1 0-1 0-1-1 0 1 0 0 0 0-4-1-4 0-1 1 0-1 0 0-2 1 0 0-1-1 0 1-1-1 0 1-1-1-1 1-1-1 0 1-1 0-3 0-1-1 0 1-1-1-1 0-1 1 0 0 0 0-1 0-1-1 0 1-2-1 0 1-1-1-1 0 0 1-2-1 0 0 0 0 0 1 0 0-1-1-1 0 0 1-1-1 0 1 0 0 0 0 0 0-1 0 0 0-1-1 0 0 0 1 0 0-1-1-1 1 0 0-1-1 0 1-1 0-1-1-1 0 0 1-1-1 0 0-1 0 0 0 0 1-1-1 0 0-1 0-1 0 0 1-1 0-1-1 0 1-1 0-1 0-1-1 0 0 0 1 0 0-1-1 0 1-1 0 0-1-1 0 0 0-2 0-2 0 0 0 0 1 0 0-1-1 0 1 0 0-1-1-1 0-1 1-1-1 0 1-1 0-1-1-2 0-1 0 0 1-1 0-1-1 0 1 0 0-1-1 0 0 0 1-1-1 0 1-1 0 0 0 0 0-1-1 0 0 0 1-1 0 0 0-1 0 0 0-1 0-1 0-1-1-1 0-1 0 0 1-1-1 0 1 0 0-1-1-2 0 0 1-1-1 0 1-1 0 0 0 0 0-1-1 0 1-3-1 0 0 0 0-1 1-1 0-1 0-2-1 0 1 0 0-1-1-1 0 0 1-1-1 0 0-3 0 0 0-1 0 0 1-1 0 0 0-2-1 0 0 0 1-1-1 0 0 0 1 0 0-2-1 0 1 0 0 0 0-1-1-1 1-1-1 0 0 0 1 0 0 0 0-1-1-2 1 0 0-1-1-1 0 0 1-1-1-1 1-1 0-7 0-2-1-1 1-5-1-2 0-2 1-1-1-5 1-7-1-5 1-1 0 0 0-2-1-10 1-10 0-1 0-5 0-9 0-10-1-7 0-7 0-2 0-1 1-2-1-2 1-1-1-2 0-8 1-3 0-1-1-1 1-3-1-5 1-21 0-1-1 0 0-1 0-1 0 0 0-5 0-2 1-3-1-1 1-10 0 4 1 5 0 4 0 2 1 0 0 4 0 2-1 17 1 2-1 3 0 1 1 4-1 4 1 2-1 3 0 17 1 1-1 1 0 5 1 0 0 26 0 7 0 7-1 10 0 13 1 3 0 1 0 2-1 1 0 2 1 0 0 8-1 1 1 1-1 1 0 0 1 2-1 1 1 2 0 7-1 1 0 1 1 1-1 3 0 1 0 0 1 2-1 1 0 1 0 0 1 2-1 0 0 0 1 0-1 2 1 0 0 1 0 0 0 0 0 2-1 0 1 0 0 1-1 0 1 1 0 1 0 3 0 0 0 1 0 0 0 1-1 0 0 1 0 0 1 0 0 3-1 1 0 0 1 0 0 0 0 0 0 0 0 1 0 3 0 0 0 0 0 0 0 1-1 0 1 1-1 0 1 0 0 0 0 1-1 0 1 1-1 0 0 0 1 1-1 1 1 0-1 0 1 1 0 0 0 1-1 0 1 1-1 1 0 1 0 1 0 2 1 1-1 1 1 0 0 0 0 1-1 0 1 1-1 1 0 0 1 0 0 1-1 1 1 0 0 1-1 1 0 1 0 1 0 0 0 0 0 1 0 1 0 0 1 1-1 0 1 0 0 1-1 1 0 1 0 0 1 1-1 0 1 1-1 0 1 1 0 1-1 0 1 2-1 0 1 1-1 1 0 0 1 4-1 0 0 1 0 0 1 2-1 0 1 1-1 0 1 0 0 1 0 0-1 1 1 1 0 0-1 2 1 1-1 0 0 0 1 1-1 0 0 1 0 0 0 0 1 0 0 2 0 2-1 0 0 1 0 2 0 0 0 6 0 0 0 2 0 0 1 1 0 1 0 1 0 2 0 2 0 0-1 2 0 0 1 0 0 0-1 0 1 1 0 2 0 0 0 2-1 2 0 1 0 6 0 1 1 1 0 1-1 0 1 1-1 0 1 1-1 0 0 2 1 1-1 2 0 0 1 1-1 2 0 1 1 0-1 6 0 5 1 3-1 3 0 0 0 1 0 4 0 1 0 1 0 1 0 0 1 1-1 1 1 2-1 1 1 1-1 0 1 1 0 1-1 5 1 2-1 0 0 0 1 1-1 6 0 3 1 1 0 1-1 1 1 2-1 0 1 1-1 0 1 1 0 1 0 2 0 3 0 2 0 3-1 0 0 1 1 0-1 4 0 5 0 1 0 0 1 4 0 1-1 0 1 1-1 5 0 0 0 1 1 2 0 3-1 4 1 5-1 14 0 5 0 1 0 16 1 1 0 1-1 4 0 1 0 0 0 3 1 3 0 0 0 3 0 12 0 0 0 5-1 8 1 2-1 3 0 5 1 2 0 2 0 5 0 3 0 3-1 2 0 4 0 2 0 0 1 3 0-4 1-4 0-13 1-2 0-2-1-4 0-3 0-4 0-3 1-2-1-1 0-3 1-3-1-5 0-2 1-11 0-3-1 0 1-1 0-6-1-1 1-2-1-3 0-1 1-3-1-3 0-1 1-3 0-1-1-12 0-5 1-6-1-1 1-9-1 0 1-1 0 0-1-1 1-1 0-2 0-1-1-4 0-1 1 0 0 0 0 0 0-2-1 0 1-2-1-1 1 0 0-1 0-2 0-2-1-1 1-1-1-1 0-1 0 0 1-1-1 0 1 0 0 0-1-2 0 0 1-1-1-1 0-1 0-1 1-1 0 0 0 0 0-1-1-1 0 0 0-2 0-2 0 0 1 0-1-1 0 0 1-1 0 0 0 0 0-1-1 0 0 0 1-1 0-1 0 0 0-1 0-3 0-2-1-3 1-2 0 0 0-1 0-1-1-3 0 0 0 0 1-5 0-1-1-2 0-3 1-1 0-6-1-1 1-6 0-3 0-1-1-1 0-4 0 0 1-4-1-6 0-1 0 0 0-2 1-5-1 0 1-1-1 0 1-2-1-3 0-2 0-1 0 0 0 0 0 0 1-1-1-1 0 0 1 0 0-3 0-1-1-2 1-2-1 0 0-1 0 0 0-2 0 0 0-2 0 0 1-3 0-2 0-2-1 0 0 0 0-1 1-1-1 0 1-1-1-1 0 0 1 0-1-1 0-1 1-1 0-2-1 0 1-1-1 0 0 0 1-1-1 0 1-1-1 0 0 0 1 0 0-1-1 0 1-2 0 0 0 0 0-1-1 0 1 0 0-1-1 0 0 0 0-1 0 0 0 0 1 0-1-2 1 0-1-1 0-1 1 0 0-2-1 0 0 0 1-1 0-1 0-1 0-2 0-1-1 0 0 0 1 0 0-1-1 0 1 0-1 0 1 0 0-1-1 0 1-1-1 0 1-1 0-2 0 0 0 0 0-1-1 0 1 0 0-1-1 0 1-1 0 0 0 0 0 0 0-1-1-1 0 0 1 0 0-1 0 0 0-1-1 0 1-3-1-1 1-1-1 0 1 0 0 0-1 0 1 0-1-1 0-1 1 0-1 0 1-2-1 0 0-1 1 0 0 0-1-1 1-1-1 0 0-1 0 0 0 0 1 0-1 0 1-1-1 0 1 0 0-1-1 0 0 0 1-1-1-1 0-1 0 0 1 0 0 0 0-1-1 0 0 0 0-1 1 0 0-1-1-1 1-1-1 0 1-1-1 0 1 0 0 0 0-1-1 0 1-1-1 0 1-1-1 0 1-1 0-1-1 0 1 0 0-1-1 0 0-1 0 0 0 0 1 0 0-1-1 0 0 0 1-1 0 0 0 0 0-2-1-1 0 0 1-3 0 0 0-1-1-1 0-1 0-1 1-1-1 0 1-2 0-3-1-1 1 0 0-5-1-5 1-3 0-3 0-2 0-1 0-2-1-4 1 0 0 0 0-3-1-3 1-1 0-1 0-1 0-1-1-7 1-1-1 0 1 0 0-7 0-1 0-1-1-2 1-2-1-9 1-2 0-9 0-31-1-5 1-2-1-10 0-9 1-3-1 0 1-1 0-2-1-2 1-20 0 0 0-1-1-13 1-1 0 0 0-5 0-1 0-1 2 1 0 3 0 4 0 8-1 3 1 13 0 5 0 3 0 3-1 1 1 4-1 3 1 3-1 1 0 3 1 1 0 0 0 7-1 6 0 0 1 1 0 1-1 2 1 1-1 0 1 2-1 11 1 0 0 5-1 0 1 11 0 12 0 3-1 1 0 1 0 1 0 18 1 1-1 3 1 4-1 2 0 0 1 5-1 1 0 1 0 1 0 0 0 11 0 0 1 1 0 3 0 1 0 0 0 1-1 0 0 2 0 0 0 0 1 1 0 0 0 0 0 3-1 0 1 1 0 1 0 1 0 1-1 1 1 2 0 0 0 1 0 0 0 2-1 0 1 2-1 0 0 0 0 2 0 4 0 0 1 0 0 1 0 1 0 1-1 0 0 1 0 0 0 0 0 0 0 1 1 2-1 0 0 0 1 1-1 0 0 0 0 0 1 1-1 0 0 0 1 0 0 0 0 1-1 0 1 1-1 1 1 0 0 2-1 0 0 1 1 1-1 0 1 1 0 1 0 0 0 1-1 0 0 0 0 0 1 1 0 0 0 1-1 0 1 0 0 0 0 2-1 0 0 1 1 0 0 1 0 0 0 0 0 1-1 0 0 0 1 0 0 1-1 0 0 0 0 0 1 1-1 0 1 0 0 2 0 0 0 1-1 0 1 1-1 0 1 1 0 0-1 0 0 1 0 0 0 1 0 1 0 0 1 1-1 0 0 0 1 0-1 1 1 0 0 1-1 0 1 2-1 1 0 0 0 1 0 1 0 0 0 0 0 0 1 0 0 1 0 0 0 1-1 1 0 0 1 0-1 1 1 1-1 1 0 0 0 1 1 0 0 1-1 0 1 1-1 0 0 0 1 0 0 1-1 0 1 0 0 0 0 0 0 1-1 0 1 0 0 0 0 0-1 1 0 0 1 0 0 0 0 1 0 1-1 1 1 1-1 1 1 0 0 0 0 0 0 1-1 0 1 0 0 1-1 0 1 0-1 0 1 1-1 0 0 0 1 0-1 0 0 2 1 0 0 1 0 2 0 1 0 1-1 0 0 1 1 0 0 1 0 0 0 1 0 0 0 2-1 3 0 0 0 1 0 0 1 0 0 1-1 0 0 0 0 0 1 1-1 0 1 2-1 0 1 0 0 1-1 0 0 0 1 1-1 0 0 0 0 0 0 1 0 0 0 1 0 0 1 2-1 0 1 0 0 1 0 1-1 0 1 0 0 1 0 0 0 1-1 0 1 0 0 0 0 1-1 0 0 0 0 0 1 1 0 1-1 1 1 1-1 0 1 0 0 0 0 2-1 2 0 0 1 1 0 2 0 4 0 3-1 3 1 2-1 0 1 1 0 2-1 3 1 0 0 1-1 5 0 1 0 6 0 2 0 1 1 2 0 5 0 1-1 1 0 0 1 0 0 2-1 3 0 1 1 0 0 1-1 2 1 1-1 0 1 0 0 2-1 2 1 0 0 1-1 0 0 1 1 0 0 2-1 0 0 5 0 0 1 5-1 2 0 0 1 2 0 1-1 0 1 1-1 1 0 1 1 1-1 3 1 1-1 2 0 1 0 0 0 0 1 1-1 0 1 0 0 1 0 1 0 2-1 1 0 1 0 0 0 1 0 4 0 2 1 0 0 1 0 1 0 0 0 0-1 0 1 2-1 0 0 1 1 0-1 7 1 1 0 11-1 1 1 7-1 0 1 2-1 1 0 4 0 2 0 10 1 1 0 2 0 1-1 0 1 1 0 3 0 1 0 3-1 4 0 2 0 1 1 2-1 1 0 0 1 1 0 1 0 3-1 3 0 1 0 3 1 3-1 4 0 0 1 9-1 0 1 3-1 1 0 1 0 6 0 2 1 2 0 3-1 5 0 8 0-13 2-1 0-3 1-5 0-8-1-1 1-5 0-4-1-2 0-4 0-5 0-1 1-3 0-1 0-9 0-1 0-9-1 0 0-18 0-6 1-3-1-3 0-8 0-1 1-6 0-1 0-1 0-2 0-2-1-1 0-1 1-2-1-1 0-2 0 0 0-1 1-1 0 0 0-3-1-2 0 0 1 0 0-1 0-1-1-1 1 0-1-1 0 0 0-1 0 0 0-1 1-1-1-3 0 0 1-3 0 0 0-1-1-1 1 0 0-2-1 0 1 0 0-1 0 0 0 0 0-1 0-1 0 0 0-1-1 0 0 0 1 0-1-2 0 0 0-1 1-2-1-2 0-1 1-1 0-1 0 0 0-1 0-1-1-2 0-1 1-3-1 0 0-2 0 0 1 0 0-1 0-2 0-2 0-2 0-6-1-1 1 0 0-1-1-2 0-1 0-3 0-3 0 0 0 0 1-2-1-2 1-1-1-1 1 0 0-2 0 0 0-1 0-1 0-10-1-1 0 0 1-6-1 0 0-1 1-4 0-1-1 0 0 0 1-1 0-2-1 0 0-1 0 0 0 0 1-2-1 0 1-2-1-1 0-1 1-2 0-1 0 0 0-3-1 0 0 0 0 0 0 0 0-1 0 0 1-1 0-1 0-3-1-2 0 0 1-1-1-2 0-1 0-1 1-1-1 0 1 0 0 0 0-1-1 0 0-1 0 0 1 0 0-1 0 0 0-1-1-1 0-2 1-2 0 0 0 0 0 0 0-1-1-1 0 0 0 0 1-1-1 0 0 0 0 0 0-2 0 0 0 0 1-1-1 0 1 0 0-1-1 0 1-1-1 0 1 0 0-1-1-2 0 0 0 0 0-1 0 0 1-1 0-1-1 0 1-1-1 0 1-1-1 0 1-1 0 0 0-1-1 0 1-3-1 0 1 0 0 0 0-1-1 0 0 0 0 0 1 0 0-1-1 0 0 0 0 0 0-1 0 0 0-1 0 0 0 0 1 0-1-1 0 0 0 0 0-1 0 0 0 0 1 0 0 0 0-1 0-1 0 0 0-1-1 0 0 0 1-1 0-1-1 0 0 0 1-1 0 0 0-1-1 0 1 0 0-1-1 0 0-1 0 0 0 0 0 0 0-1 1 0 0-1 0-1-1 0 1 0 0 0 0-3 0 0 0-1 0 0 0 0-1 0 0 0 0 0 1-1-1 0 1-1 0-1-1 0 1 0 0-1 0 0 0 0 0 0 0-1-1 0 1-1-1-1 0-1 0 0 1 0 0-1 0-1 0 0 0-1-1 0 1-1 0-1-1 0 0 0 0 0 0-3 1-1-1-1 0-1 0 0 0 0 1 0 0 0 0-2-1 0 1-2 0 0 0-1 0-1 0-1-1 0 1 0 0 0 0-1 0-1 0 0 0-1-1 0 1 0 0-2-1-1 0-1 0 0 0 0 1 0 0 0-1 0 1-1 0-1 0 0-1 0 1-1-1-2 1-2 0-4 0-2 0-1 0 0 0-1 0-1-1-1 0-1 0-1 1-1 0 0 0-1 0-1-1 0 0-2 0 0 1-4 0-1 0-2-1-1 0-4 0-2 1-13-1-21 0-1 0-13 1-3-1 0 1-3 0-1-1-2 1-4-1-2 0-16 1-1-1 0 0-2 0-7 0-1 1-1 0-2-1-1 0-2 0-11 0-2 0-17 0-6 1-5 0-1-1-9 0-2 1 1 1 5 0 3 0 6 1 2-1 4 1 4-1 14 1 2-1 6 1 1 0 1-1 3 1 2-1 1 1 0 0 3 0 20 0 0-1 2 1 3-1 6 0 0 1 0 0 5 0 9-1 1 1 2-1 0 1 3 0 4-1 5 1 1-1 1 1 13-1 1 0 3 1 7-1 2 0 2 0 3 1 1 0 2 0 1-1 2 0 8 1 1-1 2 0 0 0 2 0 1 1 1 0 0 0 1-1 1 1 1 0 1 0 1 0 0 0 1-1 0 1 3-1 0 1 0 0 1-1 1 0 0 0 2 1 0 0 1-1 1 1 0 0 0 0 0 0 1-1 1 1 1-1 0 0 3 0 0 0 0 1 3 0 1 0 1-1 0 0 0 1 0 0 1 0 1 0 1-1 1 0 0 1 1 0 1-1 0 0 1 0 0 1 1 0 0 0 1-1 1 1 0 0 1 0 0 0 1-1 1 0 0 1 0-1 1 0 0 0 0 1 1 0 2-1 0 1 0 0 0-1 1 1 0 0 0-1 0 1 1-1 0 1 0 0 0 0 0 0 1 0 0 0 1-1 0 1 1-1 0 1 0-1 0 0 0 1 0-1 0 1 0 0 1-1 1 0 0 0 1 0 0 1 1-1 0 0 1 1 0 0 0 0 1-1 0 0 0 1 1 0 1-1 0 0 0 1 1 0 0-1 2 0 0 0 0 1 0-1 0 1 0 0 1-1 0 1 0 0 1-1 0 1 0 0 0 0 1-1 0 1 0 0 0 0 1 0 0 0 1 0 0-1 1 0 0 0 0 0 1 0 0 0 0 0 1 0 0 0 0 1 0 0 1-1 0 0 0 0 1 0 0 0 0 0 1 0 0 1 0 0 1-1 0 0 0 0 0 1 0-1 1 1 1-1 0 0 0 0 0 0 0 1 1-1 0 0 0 0 0 1 1-1 1 0 0 0 0 0 0 1 2-1 0 0 0 1 0 0 0 0 1-1 0 1 1-1 1 1 0-1 0 1 1-1 0 1 1-1 1 0 0 0 0 0 1 0 0 1 0 0 0 0 1-1 0 0 0 1 0 0 0 0 1 0 1-1 0 1 0 0 1-1 0 0 0 1 0 0 0 0 0 0 1-1 1 0 0 0 1 0 0 1 1 0 0-1 0 1 1-1 0 0 1 0 0 1 1-1 0 0 0 1 2 0 1 0 0 0 1 0 0 0 1 0 1 0 1-1 0 0 1 0 0 0 0 1 0 0 0 0 2-1 0 1 1 0 1 0 0 0 0-1 2 1 3 0 0 0 1-1 0 1 1 0 1 0 0 0 1-1 0 0 0 1 1 0 0 0 0 0 1 0 1-1 0 1 5 0 0 0 0 0 0 0 1-1 1 0 0 0 0 0 0 1 1 0 0 0 1-1 0 1 1-1 1 0 1 0 0 0 0 0 2 1 1 0 2 0 1 0 1-1 1 0 1 1 1 0 2 0 1-1 1 0 1 1 7-1 1 0 0 1 6 0 3 0 0 0 1 0 1-1 1 1 7 0 1-1 1 1 1-1 2 1 3 0 3-1 0 0 0 1 2-1 2 1 1-1 0 1 1 0 2-1 0 1 0-1 0 0 1 0 1 1 1 0 0 0 1 0 1-1 0 1 1-1 0 1 1-1 2 0 0 1 1 0 1-1 0 1 2 0 3-1 0 1 2-1 0 0 0 0 1 1 0-1 1 1 0-1 3 0 0 1 1 0 3 0 0-1 1 1 1-1 0 0 2 0 0 1 0-1 1 1 1 0 0 0 1-1 2 1 2-1 3 0 1 1 1-1 3 1 1 0 2 0 1-1 0 1 3 0 2-1 1 1 1 0 4 0 2 0 2-1 5 0 5 0 2 0 1 0 2 1 0 0 9-1 7 0 2 0 0 0 5 0 0 1 1-1 0 1 4-1 7 0 4 0 1 0 1 1 1 0 4-1 1 0 1 0 0 1 12-1 9 0 1 1 4 0 9-1 1 1 3 0 2-1 6 1 3-1 0 1-9 1-6 0 0 1 0 0-1-1 0 0-4 0 0 1-12-1-4 1 0 0-3-1-1 0-3 1-2-1-4 1-2-1-1 1-1-1-3 0 0 1-5-1-4 1-12 0-5 0-4-1-4 0-5 0-1 1-5-1-1 0-8 0-3 0-2 0-4 1-1-1-5 1-3-1-1 0 0 0 0 1-1-1-2 0-2 0 0 1-5 0-2-1-1 1-1 0-1 0-1-1-1 0 0 0 0 1-2-1-1 1 0 0-1 0 0 0-1-1-1 0 0 1-1-1 0 0 0 1-4-1-2 1-3 0-1-1-1 0 0 1 0-1-1 1-1 0-1 0-1 0-1-1-1 0-2 1-2 0 0-1-1 0-3 0-3 0 0 1-1-1-3 1-4 0-3 0-4-1 0 1-1 0-1-1-2 0 0 0-1 1-1 0 0 0-1-1-2 0 0 1-1 0-1 0-2-1-2 0-2 1 0 0-4 0-2 0-1 0-1-1-1 1-1 0-1 0-2 0 0 0-4-1-1 0-1 0-2 0-1 1 0 0-1 0 0 0-2-1 0 0-1 1-1-1 0 1-3 0 0 0-1-1 0 0-1 0-1 1 0 0-2-1 0 0-1 0 0 1-1 0-1 0-2 0 0 0-1-1-1 0-2 0 0 0-1 0 0 1-1 0-1 0-1 0-1-1-1 0-1 0 0 0 0 0 0 1-2-1-1 0 0 1-1-1 0 0-1 0 0 0-1 1-1-1-1 0 0 0 0 0 0 1 0 0 0 0-1-1 0 0 0 0 0 1 0-1 0 0-1 0 0 1 0 0 0 0-1-1-1 0 0 1 0-1 0 1-1-1 0 1 0 0 0 0-1-1 0 1 0 0 0-1 0 1 0 0 0 0-1-1 0 1 0 0 0 0 0 0-1-1-1 0 0 1 0 0-1 0-1-1 0 1 0 0 0 0 0-1 0 1-1-1 0 0 0 1 0 0 0 0-1-1 0 0 0 0 0 1 0-1-1 0 0 0 0 1 0 0 0 0 0 0-1-1 0 1-1 0 0-1-1 0 0 0 0 1-1-1 0 0 0 1-2-1 0 1-1-1 0 1-1-1 0 0-1 0 0 0 0 1 0 0 0 0-1-1 0 0 0 1-1-1 0 0-1 0 0 1-1-1 0 1 0 0 0 0-1 0-1-1 0 0 0 1-1-1 0 0 0 0-1 0 0 0 0 1-1 0-1 0-1 0 0 0-1 0 0 0-2 0-1-1 0 1-1 0-1 0 0-1 0 1 0 0 0-1-1 0 0 0 0 0 0 0-1 0 0 0 0 0 0 1 0-1 0 1-1-1 0 0 0 0 0 1 0-1-1 0 0 1 0-1-1 0 0 0 0 1 0 0 0-1 0 1-1-1-1 0 0 1-1-1 0 0 0 0-1 1-1-1 0 0 0 1-1-1 0 1 0 0-3 0-1-1 0 1 0-1 0 0 0 1 0-1 0 1-1-1 0 1 0 0-1-1 0 0-2 0-1 0 0 1 0 0 0 0-1 0 0 0-1-1 0 0 0 1 0 0-1 0 0 0 0 0-1 0 0-1 0 1-1-1 0 1-1 0 0 0 0 0-2-1 0 1 0 0 0 0-1 0-1-1 0 1-1-1 0 1-1-1 0 0-1 0-1 1-1-1 0 0-1 1-3 0 0 0-2 0-1-1-2 0 0 1-1 0-1 0 0 0-1 0 0 0-1-1-1 0-1 0 0 1-3-1 0 1-2 0 0-1-1 0 0 1-2 0-1-1-1 1-6 0-5-1-1 1-4-1-1 1 0 0-3 0-3-1-2 1-5-1-1 1-1 0-2-1-3 0-2 1-2 0-2 0-5-1-1 0-7 0 0 1-1-1-2 1-6-1-3 1-8-1-1 0-3 0-2 0-7 1-10 0-6-1-1 0-6 1-2-1-3 0-6 1-1 0-10-1-15 0-3 0-4 1-8 0-4-1-3 2 4 0 0 0 10 0 7 0 2 1 5 0 2-1 3 1 1 0 8-1 3 0 1 1 2 0 2 0 3-1 11 1 2-1 3 0 2 1 0 0 1-1 3 0 2 1 3 0 3-1 0 0 2 0 4 1 2-1 3 0 0 1 2 0 1 0 14 0 2 0 20-1 5 1 2 0 6-1 2 0 0 0 6 1 2 0 2-1 3 0 6 1 1 0 2-1 1 0 2 1 0 0 0 0 2-1 0 1 1-1 0 0 1 0 1 0 0 1 1 0 2 0 1-1 0 1 0 0 4-1 0 0 1 0 1 1 0 0 1-1 1 0 0 0 0 1 1 0 2 0 2 0 0 0 0 0 1 0 1-1 0 0 1 1 1-1 0 1 2 0 0 0 1-1 0 0 0 1 0 0 1-1 0 1 1-1 0 0 0 0 0 1 0-1 0 1 1-1 0 0 0 1 0 0 1 0 0 0 1-1 0 0 1 0 0 0 0 0 1 1 1-1 0 1 1-1 0 0 0 1 0 0 1 0 0 0 0 0 1-1 0 0 0 1 0 0 2-1 0 0 0 0 0 0 0 1 1 0 0 0 0 0 1 0 0 0 0 0 1-1 0 1 0 0 1 0 0 0 0 0 1 0 0 0 1-1 0 0 0 1 1-1 0 1 0 0 1-1 0 0 0 1 0 0 0 0 1-1 0 0 0 0 1 0 0 1 2-1 0 1 1-1 0 0 0 0 0 1 1 0 1-1 0 1 0 0 1-1 1 0 0 1 1 0 0 0 0 0 0-1 0 1 1 0 1-1 0 0 0 1 1-1 0 0 0 1 1-1 0 0 1 0 0 0 0 1 0 0 0 0 1-1 0 0 0 0 1 0 0 1 0 0 0 0 1-1 0 1 0 0 1-1 0 0 0 1 1-1 0 1 0 0 2-1 0 1 0 0 0 0 1 0 0 0 0 0 0 0 1-1 0 0 0 1 1-1 0 1 1 0 1-1 0 1 0 0 0 0 1 0 1 0 1-1 0 0 0 1 0-1 1 1 0-1 2 0 0 1 1-1 0 0 1 0 0 0 0 1 1-1 0 1 1-1 0 0 0 0 0 1 0 0 0 0 1-1 0 0 1 1 1-1 0 0 0 1 0-1 1 0 0 1 0 0 1 0 0 0 0 0 1-1 0 0 0 1 1-1 0 0 1 1 2 0 1-1 0 1 0 0 2-1 0 1 0-1 1 0 1 0 0 0 0 0 0 0 0 1 0 0 1-1 1 1 1-1 0 0 0 1 1-1 0 1 0-1 1 0 0 1 1-1 0 0 0 1 1 0 0-1 0 1 1 0 0 0 0 0 2 0 1 0 1-1 1 0 0 1 0 0 1-1 0 0 1 0 1 0 1 0 1 1 1-1 0 1 0-1 0 0 0 1 1-1 0 1 0-1 3 0 1 1 0 0 1-1 0 1 1-1 0 1 0 0 0 0 1 0 1 0 1-1 0 1 1-1 0 1 2-1 0 1 0 0 2-1 1 1 0 0 1 0 0 0 1-1 0 1 2-1 0 0 1 1 2-1 1 0 2 0 2 1 1-1 1 1 0 0 1 0 1 0 0-1 1 0 0 0 0 1 3 0 2 0 3 0 3-1 3 0 0 0 1 1 3-1 0 1 0 0 6 0 6-1 1 0 7 0 0 1 0-1 2 0 2 0 0 1 1-1 2 0 0 1 3 0 1 0 1-1 1 1 0 0 2 0 0 0 3 0 0 0 1 0 1 0 1-1 0 0 1 0 2 1 1-1 0 0 1 0 0 0 2 0 0 0 1 0 3 0 0 0 1 0 0 1 1 0 1-1 1 0 0 1 1-1 0 0 0 0 0 0 0 1 4-1 0 0 0 0 1 1 1-1 5 1 1-1 3 1 0 0 1 0 0-1 1 0 1 1 3-1 0 1 2 0 1-1 1 1 0 0 5 0 1 0 2-1 3 0 12 0 1 1 2-1 0 1 5 0 4 0 1-1 11 1 1-1 3 0 1 0 3 0 8 1 0 0 4 0 2 0 1 0 3 0 1-1 1 0 17 0 2 0 5 1 2 0 3 0 5-1 2 1 4-1 1 0 2 0-4 3-4 0-4 0-2 0 0 0-2-1 0 1-1-1-7 0-4 1-4 0-7-1-2 0-6 0 0 1-7 0-6 0-1-1 0 1-3 0-2-1-9 0-2 1-1-1-4 0 0 0-1 1 0 0-1 0-7 0-4-1-5 1-8-1 0 0-1 1-4 0-4-1-1 1-1-1-1 1-4-1 0 1-2 0-3 0-5-1-1 0-1 0-2 0 0 0-1 0 0 0-2 0-1 1-1-1 0 1 0 0-2 0 0 0-2 0 0 0-1-1-4 1-1-1 0 0 0 0-1 1-3-1 0 1-1-1-1 0 0 1 0-1-2 1-1-1 0 0-1 0-1 0-1 0-2 1-2-1-4 0-3 0 0 1-10-1-1 1-9-1-2 0-3 0-5 0 0 0-1 1-2-1-6 1 0 0-2 0-3-1 0 1 0 0-9-1-3 1-1-1-3 0-1 1 0 0-2-1 0 1 0 0 0 0-1-1-2 0-1 0 0 0-1 0-1 0 0 0-1 0 0 0 0 1 0 0 0 0-1-1 0 1 0-1 0 0-3 1-1-1 0 0-1 0 0 1-1-1-1 1 0 0 0 0-1-1 0 0 0 0 0 0 0 0 0 1-2 0-1-1-1 0 0 0-1 0-1 0 0 0-1 0 0 1 0-1 0 1-2-1 0 0 0 1 0 0 0 0 0 0-1 0 0 0 0 0-1-1 0 0 0 1-2-1 0 0 0 1 0 0-1-1 0 0 0 0-1 0 0 0 0 1 0 0-1 0-1 0-1 0 0 0-1-1 0 1 0 0-1 0-1 0 0 0 0-1 0 1 0 0-1-1 0 0 0 1 0 0-1-1 0 1-1-1-1 0 0 0 0 0 0 1 0 0-1-1 0 1 0-1 0 1 0 0 0 0-1-1 0 1 0 0-1-1 0 1 0-1 0 1 0 0 0 0-1 0 0 0 0 0-1-1 0 0 0 0 0 1 0 0-1-1 0 1 0 0-1-1 0 1 0 0 0 0-1-1-1 1-1-1 0 0 0 1-1-1 0 0 0 0 0 0 0 1 0 0-2 0 0 0-1 0-1-1 0 0-1 0 0 0 0 1 0 0 0 0-1-1 0 0 0 0 0 0-1 1-1-1 0 1 0 0-1-1 0 0 0 1-1 0 0 0 0 0 0-1 0 1-2-1 0 1-1-1 0 0 0 1 0 0 0 0-1-1 0 1 0 0-1-1 0 1 0 0-1 0-1-1 0 0-1 1-1-1 0 0-1 1-1-1 0 1-1-1 0 0 0 0-1 0 0 1 0 0-1-1 0 0 0 1 0 0-1 0-1-1 0 1 0 0-2-1 0 1 0 0-1 0 0 0-1-1-1 0-1 0 0 0 0 1-1-1 0 1-1-1 0 0 0 0 0 1 0-1-2 0 0 1 0 0-2 0-1 0-1-1 0 0-1 0-1 0-1 0 0 0 0 1-1-1-1 0 0 0 0 1-1-1 0 0-1 0 0 0 0 1 0-1 0 1-1 0 0 0 0-1-1 0 0 0 0 1-1-1 0 1-1-1 0 0 0 1-1-1 0 0 0 1-1-1 0 0-1 0-2 0 0 0 0 1-1 0-1-1-1 0 0 1-1-1 0 1-1-1 0 1-1-1 0 0 0 0-1 1 0 0-2 0 0-1-2 0 0 0 0 1-1-1 0 0-3 1-1-1 0 1 0-1 0 1 0 0 0 0-2-1-1 1-2 0-1-1-2 1-1 0-3-1-1 1-1-1-7 0 0 0 0 1-4 0-2-1-3 0-1 0-5 0-3 0 0 1-1-1-6 0-4 0-1 0-5 0 0 0-3 1-5 0-3-1-4 1-5 0-4-1 0 0-1 0 0 0-2 0-4 0 0 0 0 1-3-1-3 0-8 1-1-1 0 0-2 0 0 1-28-1-9 1-8 0-2 0-1-1 0 1-1 0-5-1-8 0-1 0-6 1-7 0 0 0-2 1 2 0 1 1 5 0 5 0 0 0 1 0 2-1 5 1 1-1 4 0 8 1 4-1 0 1 1 0 1 0 1 0 4-1 12 1 1-1 3 0 2 1 3 0 3 0 0 0 2 0 2-1 8 1 5 0 9-1 8 1 10 0 0-1 22 0 6 0 4 0 1 0 6 1 1-1 1 1 4-1 1 0 1 1 2 0 0 0 3 0 1-1 0 1 1-1 2 0 0 0 2 0 0 1 3-1 0 0 1 1 1-1 0 1 1 0 0 0 2 0 0-1 1 0 0 0 1 0 0 0 2 1 1 0 1-1 1 1 0 0 1-1 0 1 2-1 0 1 0 0 0 0 1-1 0 1 1-1 1 1 2 0 0 0 1-1 1 0 0 0 1 1 0 0 2-1 0 1 1-1 0 1 0 0 1-1 0 0 0 1 0 0 1-1 0 1 1 0 0 0 0 0 1-1 0 0 0 0 1 0 1 0 1 0 0 0 1 0 0 0 0 1 1-1 0 0 0 1 1-1 0 1 1 0 0 0 1-1 0 1 0 0 0 0 2-1 0 0 0 1 1-1 0 1 2-1 1 1 0 0 2 0 0 0 0 0 1-1 1 0 0 0 0 0 0 1 1 0 0-1 1 0 0 0 0 1 1-1 0 0 0 0 0 0 0 1 0-1 1 1 1 0 0-1 0 1 1 0 1-1 0 1 0-1 0 1 0 0 1-1 0 0 0 1 1 0 0-1 0 1 0 0 1-1 0 1 0 0 0 0 1-1 0 0 0 0 0 1 1 0 1-1 0 0 0 1 0 0 0 0 1-1 0 0 1 0 0 0 1 1 0-1 1 0 0 0 0 0 0 0 0 0 0 0 0 1 0 0 0-1 0 1 0 0 2-1 0 1 0 0 0 0 0 0 0 0 1-1 0 1 0 0 1-1 0 1 0 0 0 0 0 0 1-1 0 0 0 0 0 1 1-1 0 0 0 1 1 0 0 0 0 0 0 0 0-1 1 0 0 1 1 0 0-1 1 0 0 1 0 0 0 0 1-1 0 0 1 0 0 1 1 0 1-1 0 0 0 1 0 0 1-1 0 0 0 0 1 1 0 0 0 0 0 0 0 0 1-1 0 1 2-1 1 1 0-1 1 0 0 0 0 1 0 0 2-1 1 0 0 1 0 0 0 0 0 0 1-1 0 1 0 0 1-1 0 0 0 1 0 0 1 0 0-1 0 1 0 0 1 0 0-1 1 0 0 1 1-1 0 0 0 1 1 0 1-1 0 0 0 0 0 1 1-1 0 0 0 1 2-1 0 0 0 1 1-1 1 0 0 0 1 0 0 0 0 1 1 0 0-1 0 0 0 1 1 0 2-1 0 1 1-1 0 0 0 0 1 0 0 0 1 0 0 0 0 1 0 0 0 0 1-1 0 0 0 1 0 0 1-1 1 0 1 0 0 1 1-1 0 0 0 1 2-1 2 0 0 0 1 0 0 1 1 0 0 0 1 0 2-1 1 1 0 0 0 0 0 0 1 0 3-1 2 0 1 0 0 1 2 0 1-1 0 0 1 1 1 0 3-1 0 0 0 0 3 0 1 1 2 0 1-1 6 0 0 1 1-1 0 1 2-1 0 0 2 1 1 0 1 0 5 0 0 0 4-1 6 1 3 0 0-1 1 1 2-1 0 1 1-1 1 1 7-1 2 0 0 1 0 0 2-1 1 1 2 0 0-1 1 1 2 0 1-1 1 1 2 0 2-1 0 0 0 0 0 1 1 0 1 0 2-1 2 0 6 0 9 0 0 0 2 0 1 0 0 0 1 1 2 0 0 0 2-1 2 1 0 0 1-1 0 1 1 0 1 0 2-1 0 0 8 0 1 0 1 0 1 0 1 0 4 0 1 1 1 0 11-1 0 1 3-1 12 1 1-1 1 0 3 0 0 0 0 0 4 0 1 0 8 1 4-1 4 0 1 0 0 1 1 0 7 0 3-1 8 1 2 0 2 0 4 0 1 0 2-1 9 1 11 0 1 0 6 0 2 1-1 1-2 0-12-1-2 1-1-1 0 0-5 1-5-1 0 0 0 1-3 0 0 0-3 0-8-1-6 1 0 0-3 0-10-1-2 1-5 0-3-1-1 1-1 0-2 0-1 0-4-1 0 0 0 0-2 0-8 1-8 0-5-1-3 0-1 1-1-1-2 1-1-1 0 1-1-1-11 0-1 0 0 0-2 0-1 1-1-1-3 0 0 1-1-1 0 0-2 1-1 0-1-1 0 0-1 0 0 0 0 1-1-1-1 0 0 1 0 0 0 0 0 0-2-1 0 0 0 1-1-1-1 0-1 0 0 1-1 0-1 0 0 0-1-1-1 0 0 1-1 0 0 0-1-1-5 0-1 1-3-1 0 1-1-1-1 1-1 0 0 0-1-1 0 1-3-1-1 0 0 0 0 1-1-1 0 1-3-1-3 1-6-1-5 1-1-1-1 0 0 0-1 0-1 0-6 0 0 0-2 0-1 1-2 0 0 0-1-1-5 1 0 0-1-1-1 0-1 1-1 0 0 0-3-1-2 1-1-1-2 1-1 0 0-1-2 1-4-1-3 1 0 0-1-1-1 1-1 0 0 0-1-1 0 1 0 0-1-1-1 0-1 1-1 0-1-1 0 1-5 0 0 0-1 0 0 0-2-1 0 1 0-1-1 1-1-1 0 0-2 1-1 0 0 0-1-1 0 0 0 1-1 0-1-1 0 1-1 0 0-1 0 1 0 0 0 0-1-1 0 0 0 0 0 1 0-1-2 0 0 1 0 0 0 0-1-1 0 0 0 1-1-1 0 0 0 1-1-1 0 1 0 0-1-1 0 0 0 0-2 0 0 0-1 0-1 0 0 1-1 0-1-1 0 0-1 0 0 1-1 0 0-1-1 0 0 0-1 0 0 0 0 1-1 0 0 0 0 0 0 0-1-1-1 0-1 0 0 1-1-1 0 0 0 1 0-1-1 1 0-1 0 1 0 0 0 0-1-1 0 0-1 1-1-1 0 1 0 0 0 0-1-1 0 0 0 1 0 0-1-1 0 0 0 1 0 0-2 0 0 0-1-1 0 0 0 0 0 1 0 0 0 0-1-1-1 0 0 1 0 0 0 0 0 0 0 0-1-1 0 0 0 1 0-1 0 0 0 1 0 0-1-1 0 1 0 0 0 0 0 0-1-1 0 0 0 1-1-1 0 0 0 1 0 0 0 0 0 0-4 0-1-1 0 1-1 0 0 0 0-1-1 0 0 0 0 0 0 1-1-1 0 1 0 0-1-1 0 0 0 0 0 1-1-1 0 0 0 0 0 0 0 1 0 0 0 0-1-1 0 0 0 1 0 0 0-1 0 0-1 0 0 0-1 0 0 0 0 1 0 0-1 0-1 0-1-1 0 0 0 1 0 0 0 0-1-1 0 0 0 1 0 0 0 0-1-1 0 1 0 0-1-1-1 1 0 0 0 0 0 0 0 0-1-1 0 1 0-1 0 1-1 0-1-1 0 1 0-1-1 0-1 1 0 0-1-1 0 0 0 0 0 0 0 0 0 1-1-1 0 1-1-1 0 0 0 1-1 0 0-1 0 1 0 0 0 0-1-1 0 1 0-1 0 1-1-1 0 1-1 0 0 0 0 0-1-1 0 1-1 0-1-1 0 1 0 0-1-1 0 1 0 0-2-1 0 1 0 0 0-1-2 0 0 0 0 1 0-1 0 1-1-1 0 0 0 0 0 0 0 0-1 0 0 1-1-1 0 0 0 0-1 1 0-1 0 1-1 0 0 0-1 0 0 0-1-1-1 0 0 0-2 0 0 0 0 0-1 1-2-1 0 0 0 0 0 1-1-1 0 0 0 1-1-1 0 1-1-1-1 1-3-1 0 1-1 0-1-1-1 1 0 0-1-1 0 1-2 0-1-1-1 1-1 0-1 0 0 0-2 0-1 0-2 0-1 0 0 0-2-1 0 0-1 1 0 0-1 0-1-1 0 1 0 0-3-1-3 1-3-1-1 0-1 0-1 0 0 0-1 0-2 0 0 1-1 0-1 0-1 0-3-1-1 0-2 1 0-1-1 0-5 1-1 0-2 0-5 0-4-1-1 0-2 1-4-1-2 1-8 0-1 0-1-1-2 0-2 1 0 0-7-1-6 0-4 1-5-1 0 1-1 0-7-1-1 1-9-1 0 0-1 1-4 0-2-1-4 0-12 0-2 0-5 0 0 1-1 0-1 0-1 0-8-1-2 0-1 0-4 0 0 1-1 0-4 0-1 0-1-1-6 1-5 0 5 2 3-1 18 1 4-1 1 1 1-1 7 1 12-1 5 0 12 1 3 0 1-1 5 1 1-1 1 0 0 1 2-1 2 0 0 0 1 0 3 0 7 0 3 0 5 1 9 0 2-1 0 1 2-1 5 1 2 0 7-1 1 0 0 1 2-1 0 0 5 0 0 0 3 0 0 0 2 0 1 1 2-1 3 1 5-1 2 0 2 0 1 0 1 0 0 1 1-1 1 0 2 1 2-1 2 1 2 0 1 0 0 0 2-1 1 0 1 0 0 1 0 0 1-1 1 0 1 0 1 0 1 0 0 0 2 0 1 1 0 0 0 0 1 0 0 0 1 0 0-1 0 1 1-1 0 1 1 0 1 0 1-1 1 1 0 0 1-1 0 1 3 0 1-1 1 1 0-1 1 0 1 1 0 0 0 0 1 0 0 0 2 0 1-1 0 0 0 1 0 0 0 0 1-1 0 1 2-1 0 1 0 0 1-1 0 1 2-1 0 1 0 0 0 0 0 0 1-1 0 0 0 1 1-1 1 0 0 1 0 0 0 0 1 0 0 0 0 0 1-1 1 0 0 1 0 0 1-1 0 0 1 0 0 1 0-1 1 0 0 0 0 1 0 0 1-1 0 1 1-1 0 0 0 1 0 0 1-1 0 0 0 0 0 1 0 0 0 0 1-1 0 1 1-1 0 0 0 1 0 0 0-1 0 1 1-1 0 1 1-1 0 0 0 0 0 1 1-1 0 0 0 1 1 0 0 0 0 0 0 0 1-1 1 0 0 1 0 0 0 0 1-1 0 0 0 0 0 1 0 0 0 0 1-1 0 0 0 0 0 0 0 1 0-1 0 1 1-1 0 0 0 1 1-1 0 1 0-1 0 0 1 0 0 1 0 0 0-1 0 0 1 1 0 0 0 0 1-1 0 0 0 0 1 0 0 0 0 1 1-1 0 0 0 0 1 0 0 0 0 0 0 1 1-1 0 0 0 1 0 0 1-1 0 1 1 0 0 0 0 0 0-1 0 1 1 0 0 0 1-1 0 0 0 0 0 1 0-1 1 0 0 1 0 0 0 0 1 0 0 0 1 0 0 0 1-1 0 1 1-1 0 0 1 0 0 1 2-1 0 0 0 1 1-1 0 0 0 1 1-1 0 0 0 0 0 0 0 1 1 0 0 0 1-1 0 0 0 0 0 0 0 1 1 0 1 0 0 0 1-1 0 1 1-1 0 0 0 1 0 0 0 0 0 0 1-1 0 0 0 0 0 0 0 1 0 0 0-1 1 0 0 0 0 1 0 0 1-1 0 0 0 1 0 0 0 0 0 0 1 0 0 0 1-1 0 1 0 0 0-1 0 0 1 0 0 1 1-1 2 0 1 0 0 1 0 0 0-1 1 1 1-1 0 0 0 1 0 0 1-1 1 0 0 0 0 0 0 0 0 0 0 1 0 0 1-1 0 1 3-1 0 1 1 0 1-1 0 0 1 0 0 0 0 1 2-1 1 0 0 0 0 0 0 1 0 0 1-1 0 1 0 0 1 0 0 0 0 0 0 0 1-1 1 0 0 1 0 0 0 0 1-1 0 1 0 0 1 0 1 0 0 0 0 0 1-1 1 0 3 0 0 0 0 0 0 1 1-1 0 0 1 1 1-1 0 1 4 0 0-1 1 1 4-1 1 0 1 0 1 1 0 0 1-1 1 0 1 0 2 0 0 0 0 1 2-1 2 1 1 0 2-1 1 1 1 0 1-1 2 1 1 0 1 0 8 0 1 0 1 0 1 0 1-1 7 0 6 0 2 0 3 1 1-1 5 1 5 0 0 0 2 0 1 0 1-1 1 0 0 1 3 0 1 0 1 0 1 0 1-1 0 0 1 1 1-1 1 0 3 0 0 1 1 0 4 0 0 0 1-1 0 0 1 1 0 0 2-1 2 0 0 0 1 0 0 1 0-1 0 1 0 0 2-1 2 0 0 0 4 0 2 1 2-1 1 1 3-1 1 0 0 1 1 0 2 0 1 0 2-1 0 1 1-1 1 0 1 0 1 0 1 1 0 0 1 0 1-1 1 0 2 0 3 1 0 0 5 0 3 0 4 0 6 0 2-1 6 0 6 0 1 0 0 1 3-1 6 0 5 0 6 0 2 1 5-1 7 1 5 0 5-1 2 0 5 0 0 1 7 0 0 0 1 0 2-1 3 1 1-1 3 0 2 1 1-1 2 0 1 3-2-1-1 1-4 0-1-1-1 0-4 1-3 0-1 0-1 0-2-1-5 1-12 0-7 0-6-1 0 1-5-1-3 0-10 1-3 0-1 0-1 0-2 0-1 0-3 0-2 0-2 0-6-1-1 0-5 1-4 0-2-1-4 0-3 1-3 0-3-1-10 0-1 1 0 0-3 0-4 0-1-1-1 1-3-1-2 0-1 0-3 0-1 0-1 1 0 0-2-1 0 1-2-1-1 0 0 0-1 0 0 1-1 0-2 0 0 0-3-1-2 1-2-1-1 0 0 1-1-1-2 0-3 0 0 1 0 0 0 0-2-1-1 0 0 1 0 0-1-1-1 1-1 0-1 0-5-1 0 0 0 1-4 0-2 0-2 0-1 0-1 0-9 0-1 0-2-1-3 0-1 0-6 0-1 1-1-1-5 0-2 1-5 0-2-1-2 0 0 1-4-1 0 1-4-1 0 1-1 0-1-1 0 0 0 1-4-1 0 1-1 0-1 0 0 0 0 0 0-1-1 0-1 0 0 1-1-1 0 1-1-1 0 0-1 1-2 0 0 0 0 0-1 0-1-1 0 1-2-1 0 1-1-1 0 0-1 1-1-1 0 1-1-1-1 0 0 0 0 0-1 0 0 0 0 0 0 0-1 1 0 0 0 0-1-1 0 1-1-1 0 0 0 1-1-1 0 1 0 0-2-1 0 1-1-1 0 0 0 0 0 0 0 1-1-1-1 0 0 0 0 0 0 0-1 0 0 0 0 1-1-1 0 0 0 1-1 0 0 0-1-1 0 0 0 0-1 0 0 1 0 0 0 0-1-1 0 0 0 0 0 1 0 0-1-1 0 1 0 0-1-1 0 1-1-1 0 0 0 1 0-1 0 1 0 0 0-1-1 0 0 1 0 0 0 0 0-1 0 1-1 0 0-1-2 0 0 0-2 0 0 0-1 1 0 0-1-1 0 1-1 0 0 0-1-1 0 1 0-1 0 1 0 0 0 0-1-1 0 1 0 0 0 0-1-1 0 1 0 0-1-1-1 0 0 1 0 0 0 0-1 0 0 0-1-1-1 1-1-1 0 1-1 0 0 0 0 0-1-1 0 1 0 0-1-1 0 1-1 0-1-1 0 0 0 0 0 0 0 1 0-1 0 1 0 0 0 0-1-1-1 0 0 1 0 0 0 0-1-1 0 0 0 0 0 0 0 1-1-1 0 1 0 0 0 0 0 0-1-1 0 0 0 0 0 1 0-1 0 0 0 1 0 0-1-1 0 0 0 1 0-1 0 1 0-1 0 1-1 0 0 0 0 0 0 0-1-1 0 0 0 1 0 0 0-1-1 0 0 0-1 0 0 1 0 0-1-1 0 0 0 1 0 0-1 0-1 0 0-1-1 1-1-1 0 1-1-1 0 0 0 0 0 1 0 0 0-1 0 0 0 1 0 0 0 0-1 0-1-1 0 1 0 0 0 0-1-1-1 0 0 0 0 1 0 0 0 0-1-1 0 0 0 1-1-1 0 1 0 0 0 0-1-1 0 1 0 0-1-1 0 1 0 0-1 0 0 0-2-1-1 1-1-1-2 0-1 1-1-1 0 0-1 0-1 0 0 0 0 1 0 0-2 0-1-1 0 0 0 0-3 0 0 1 0 0 0 0-1-1 0 0 0 1-1-1 0 0 0 1-1 0-1-1-1 0-2 1-1-1 0 1-1-1-1 0-1 0-2 0-1 1-1-1-2 0-1 0-1 1-3 0 0 0 0 0-2-1-1 1-2-1-1 1-3-1 0 1-1-1-2 1 0-1-4 0 0 0-2 1 0-1-1 0-1 0-2 0-3 1-1 0-8 0 0 0-1 0-2-1-5 1-1 0-2 0-2-1-3 0-3 1-2-1-2 1-1 0-6-1-2 0-1 0-2 0-4 0-12 1-5-1-5 0-1 0 0 1-1 0-3-1-2 1-6-1-1 0 0 0-4 1-3-1-3 1 0 0-5 0-1 0-2-1-1 0 0 1-3 0-2 0-2 0-2 0-2-1-8 1-4-1-2 1-1-1-7 0-4 0-3 0-4 0-1 0-1 0-4 0 6 3 6 0 1 0 4-1 1 0 12 0 1 1 2 0 3-1 3 1 3-1 0 0 1 1 2-1 1 1 9 0 0 0 5-1 2 1 0 0 1 0 5 0 2 0 2-1 0 1 9-1 4 1 7-1 1 0 2 0 10 0 11 1 0 0 3 0 3-1 0 1 5 0 2-1 12 0 2 0 1 1 0 0 9-1 2 0 2 0 0 1 9-1 4 1 1-1 1 1 2-1 2 1 2-1 1 1 0 0 1 0 1 0 2-1 1 1 1 0 1 0 0 0 1-1 0 0 0 1 0 0 3-1 1 0 0 0 0 1 1 0 1-1 2 0 0 0 0 1 1-1 1 0 0 1 0 0 0 0 1 0 1-1 0 1 0 0 1 0 0 0 1-1 0 0 0 0 0 1 0 0 1-1 1 1 0 0 1-1 0 1 1 0 0 0 0-1 0 1 1-1 0 0 0 1 0 0 0 0 0-1 1 0 0 1 2-1 0 0 0 0 2 0 0 1 0 0 1-1 0 0 0 1 1 0 0 0 1 0 0 0 0 0 1-1 0 0 0 0 0 1 0 0 0 0 0 0 0 0 1 0 0 0 1-1 0 0 0 1 0 0 0-1 0 1 1-1 0 0 0 0 1 0 0 0 0 1 1-1 0 1 0 0 1-1 0 0 1 1 1 0 0-1 1 0 0 0 0 0 1 1 0 0 0-1 1 0 0 1 0-1 0 1 1-1 0 0 0 1 0-1 0 1 0 0 0 0 1 0 0 0 1-1 0 1 0 0 0 0 2-1 0 1 0 0 1-1 0 1 0 0 1-1 0 0 1 0 0 0 0 1 0 0 1-1 0 1 0-1 1 0 0 0 0 0 0 0 2 0 0 1 0 0 1-1 1 0 0 1 1-1 0 0 0 1 0 0 0 0 0 0 0 0 0 0 1-1 0 0 0 1 0 0 1 0 0 0 1-1 0 0 0 0 0 1 0 0 1-1 0 1 0 0 0 0 0 0 1 0 0 0 1-1 0 0 0 0 0 1 0 0 0 0 0 0 1-1 0 1 0 0 0-1 1 0 0 1 1-1 0 1 0 0 2-1 0 0 0 0 0 0 0 0 1 0 0 1 2-1 0 0 0 1 0 0 1-1 0 0 0 0 1 0 0 1 0-1 0 1 0 0 0 0 1 0 0 0 0 0 1-1 0 0 0 1 0 0 0 0 1-1 0 0 0 1 1-1 0 1 1 0 0 0 1-1 0 0 1 0 0 0 0 0 0 1 0-1 0 0 0 1 0 0 1-1 0 0 0 0 0 1 1-1 0 0 0 0 0 1 1-1 0 0 0 0 1 0 0 0 0 1 1-1 0 0 0 1 0 0 1-1 0 0 0 1 0 0 1-1 0 0 1 0 1 0 0 0 0 1 0 0 1-1 0 1 0 0 0 0 1-1 0 0 0 0 0 1 1-1 0 1 1-1 0 0 1 0 0 1 0 0 1-1 1 0 0 0 0 0 1 0 0 1 0 0 1-1 0 1 1-1 0 0 3 0 0 0 0 0 1 1 0 0 1-1 0 0 2 0 2 0 0 1 1-1 0 1 3-1 0 1 0 0 0 0 1 0 0-1 1 1 2-1 0 0 3 0 0 0 0 1 1 0 0-1 1 1 0 0 0 0 1 0 1 0 1-1 2 0 1 0 1 1 2-1 3 0 0 0 3 1 2-1 2 0 1 0 1 0 3 0 1 1 2-1 1 0 7 1 1 0 10-1 2 1 1-1 3 1 1 0 1-1 4 1 2-1 2 0 0 1 1-1 1 0 0 1 0 0 1 0 1 0 2-1 0 1 1 0 0 0 3-1 0 1 1-1 1 0 0 1 3 0 2 0 0-1 3 0 1 0 0 0 1 0 0 1 0-1 1 0 0 1 1-1 0 1 1 0 1 0 4-1 3 0 0 0 0 1 4 0 3-1 0 1 2 0 1-1 3 0 1 0 0 0 0 0 1 0 0 1 1-1 1 1 0-1 2 0 1 0 3 0 5 1 1 0 1 0 2 0 4 0 5-1 1 1 1-1 3 0 3 0 4 1 1 0 3 0 7-1 7 1 1-1 3 0 3 0 1 1 1-1 1 0 1 0 1 1 2 0 0 0 1-1 1 0 3 1 4-1 1 0 2 1 6-1 0 0 5 0 21 0 3 0 2 1 2-1 8 3-4-1-1 0-2 0-5 1-1-1 0 1-2-1 0 1-9-1 0 1-1-1 0 1 0-1-9 0-4 1-3-1-1 0-4 1-5 0-4 0-4 0-5-1-1 0-6 0-1 0-9 1-3-1-4 0-1 1-1 0-1 0-6 0-1-1 0 1 0 0-3-1-1 0-4 0-2 0 0 0-3 0-2 0-4 1 0 0-2-1-3 0-3 0-5 1-1 0-1 0-3-1 0 1-4-1 0 1-1 0-2 0-2 0 0 0-1-1 0 0 0 0-1 1 0 0 0 0-1 0-2 0-2-1 0 0 0 1-2 0-1-1 0 0-1 1-1-1-1 1-2-1 0 1 0-1-1 1-1-1-1 0-2 0-1 0 0 0 0 1-3-1 0 1-1-1-1 0-1 1 0 0-1 0-2-1-4 0 0 1 0-1-2 1-2-1 0 0-15 0 0 1-5 0-1 0-2 0-1-1-2 0 0 1-11-1 0 1-3 0-1 0-3 0-1-1 0 0 0 1-2-1 0 1-1-1 0 1-2-1-2 0 0 1-2 0-1-1-1 0-3 1 0 0-1-1 0 1-1-1-1 1-1-1 0 0 0 1 0 0-1 0-1-1 0 1-2 0-1-1-3 0 0 0 0 1-3-1-1 0 0 1 0 0-1-1 0 0-1 0 0 0 0 0 0 1-1-1 0 0 0 1-1-1-1 0-1 1 0 0-3-1 0 0 0 1 0 0 0 0-2-1 0 0 0 0 0 1 0 0 0 0-1-1 0 0 0 0 0 1-1-1 0 0 0 1-1 0-1 0 0 0 0-1 0 1 0 0-1 0-1-1 0 1 0-1-1 1-1-1-1 0 0 0 0 1 0 0-1-1 0 1 0-1 0 1-1-1 0 1-1-1 0 0 0 1 0 0 0-1-1 0 0 1 0 0 0 0 0-1 0 1 0 0 0 0-1-1 0 0 0 1 0 0-1-1 0 1 0 0 0 0-1 0-1-1 0 0 0 1 0 0 0 0-1-1 0 0-1 0 0 0-1 0 0 0 0 0 0 1-1-1-1 0-1 0 0 1 0 0-1 0 0 0-1-1 0 0 0 0 0 1-1-1 0 1 0 0-1-1 0 0 0 1-1-1 0 1 0 0-1 0 0 0-1-1 0 0 0 0 0 1 0 0-1 0 0 0 0 0-1 0 0 0 0-1 0 1 0 0 0 0 0 0-1-1 0 0 0 1 0 0-1 0-1-1 0 1 0 0 0-1 0 1-1-1 0 0 0 1-1 0 0 0-1-1 0 0 0 0-2 0 0 0 0 1 0 0-1 0 0 0-1-1 0 0 0 0 0 1 0 0-1-1 0 0-1 0 0 0 0 1-1-1 0 1 0 0 0 0 0 0 0 0-1-1 0 1 0 0 0-1-1 0 0 1 0 0-1-1 0 0 0 0 0 1 0 0-1-1 0 0 0 0 0 0 0 0 0 0 0 1 0 0-1-1-1 0 0 0 0 1-1-1 0 0-1 0 0 1 0 0 0 0 0 0-1-1 0 1-1-1 0 1-1-1 0 0 0 0 0 1 0-1-1 0 0 0 0 0 0 0 0 1 0-1-1 0-2 1 0 0-1-1 0 0 0 0 0 0 0 1-1-1 0 0 0 0 0 1-1-1 0 0-1 1 0 0-1-1 0 1 0 0-1 0-1-1 0 1-1-1 0 1 0 0-1-1 0 1-1-1-1 0-1 0 0 1 0 0-1-1-1 0 0 0 0 0 0 1 0 0-1-1-1 0-1 1-2 0 0-1-1 0-1 1-2-1-3 1 0 0-1 0-1 0 0 0-1 0-4 0 0 0-2-1-1 1 0 0-2 0-1-1-5 0 0 1 0 0-3-1-1 0-1 1-2-1 0 1-1-1-1 1-2-1-1 1-4-1-3 0-4 0 0 1-2 0-1-1-4 1-5 0-5 0-3 0-2-1 0 0 0 1-5 0-1-1 0 1-2 0-5 0-1-1 0 0-1 0 0 1-2-1-6 0 0 0-3 1-6-1-3 0-8 0-3 1-4 0-1 0-1 0-1-1-2 0-2 0-9 1-4 0-8 0-3 0-8 0-1 0-3 0-1-1-1 0-2 0-3 1-2-1-1 0-1 1 0 0-1-1-2 1 0 0-1 0-9 0 0 0-9 2 1 0 2-1 1 1 1 0 11-1 3 1 3 0 6 0 3 0 1 0 3 0 1 0 1-1 0 1 1-1 6 0 3 1 2 0 3 0 1 0 1-1 5 0 6 1 3-1 3 0 5 0 2 0 9 0 3 1 6 0 4 0 1-1 15 0 1 1 3-1 3 1 0 0 6-1 1 1 1-1 0 1 1 0 1-1 1 0 3 1 5 0 5-1 9 0 1 1 0 0 1-1 2 0 0 1 1 0 1 0 3 0 0 0 3 0 1 0 0 0 1-1 4 0 2 0 3 0 0 1 0-1 1 1 0-1 0 1 2 0 0 0 2 0 0-1 1 0 0 1 1 0 0 0 1-1 1 0 1 1 1-1 1 0 0 1 0 0 1 0 0-1 1 0 1 1 0 0 1-1 0 0 1 1 4-1 0 1 1-1 1 0 0 1 1-1 0 1 0 0 1-1 1 0 0 0 0 1 1-1 1 0 1 1 0 0 1-1 0 1 1-1 0 1 1 0 0-1 1 0 0 1 0 0 0-1 0 1 1-1 0 1 1-1 0 0 1 1 1-1 0 0 0 1 1-1 0 0 1 0 0 0 1 0 0 1 0 0 1 0 1-1 0 1 0 0 1-1 0 1 0-1 1 1 1-1 0 0 0 1 0-1 0 1 1 0 1-1 0 1 0 0 0-1 0 0 1 0 0 0 0 1 0 0 0 0 1 0 1-1 0 1 1-1 0 0 0 1 0 0 0 0 0 0 0 0 0 0 0 0 1 0 0-1 0 1 0 0 1-1 0 1 0 0 0 0 1-1 0 1 0 0 1 0 1-1 0 1 0 0 1-1 0 0 1 0 0 0 0 0 0 1 1-1 0 0 0 0 1 1 1-1 0 0 0 0 0 1 0 0 1-1 0 1 0-1 1 0 0 1 1-1 1 0 0 0 0 0 1 0 0 1 0-1 0 1 0 0 1-1 0 0 0 0 0 1 1-1 0 0 0 1 1 0 1-1 0 0 0 1 0-1 0 1 2-1 0 0 0 0 0 1 0-1 0 1 1-1 1 0 0 0 0 0 0 1 0 0 1 0 0 0 1 0 0 0 0 0 1-1 0 1 0 0 0 0 1 0 0 0 0 0 0 0 0 0 1-1 0 0 0 0 0 1 0 0 0-1 0 1 0 0 0 0 1-1 1 1 0 0 1-1 0 1 0 0 1-1 0 1 1-1 0 0 0 1 0 0 1 0 1-1 0 0 0 0 0 1 0 0 0 0 1-1 0 1 0 0 1-1 0 0 0 1 0 0 0 0 1-1 0 1 0 0 0 0 1 0 0 0 1 0 0 0 1-1 0 1 1-1 0 1 0 0 0 0 1-1 0 0 0 0 0 1 2-1 1 0 1 0 0 0 0 1 1-1 0 0 0 1 0 0 1 0 0 0 1-1 0 0 0 1 0 0 1 0 1 0 0-1 1 0 0 0 0 0 1 0 0 1 0 0 0 0 0 0 1 0 1 0 0 0 1 0 1-1 1 0 0 1 1 0 1-1 1 0 1 0 0 0 1 0 0 0 0 0 0 0 1 1 0 0 1 0 1-1 0 0 0 0 0 0 3 0 1 0 1 0 1 0 0 0 1 0 2 1 0 0 0 0 1-1 0 0 1 0 0 1 1-1 3 0 1 0 3 1 0 0 2-1 0 1 0 0 3-1 1 1 1-1 0 0 6 1 4 0 0 0 1-1 0 0 1 0 1 1 2-1 0 1 1-1 1 0 3 0 2 0 9 0 0 1 2 0 5 0 2-1 0 1 7-1 0 1 2 0 1-1 0 0 0 1 0 0 0 0 1-1 0 1 1-1 0 1 1-1 0 1 0 0 1 0 1-1 2 0 1 1 0-1 0 1 2-1 0 1 1-1 0 1 2-1 0 1 1-1 0 0 0 1 2 0 1-1 0 0 0 1 0 0 1 0 2 0 0 0 1-1 0 1 1 0 3 0 1-1 0 1 0 0 1-1 1 1 2-1 1 1 1-1 0 1 1-1 1 0 0 1 1 0 0 0 0-1 0 1 1-1 1 0 0 1 1-1 1 1 3 0 4-1 0 1 2-1 3 1 2 0 2-1 0 1 2-1 11 1 1-1 5 0 5 0 1 0 2 0 1 0 0 1 1-1 4 0 0 1 3 0 6-1 4 0 10 1 0 0 3 0 1-1 0 1 5 0 4 0 1-1 2 0 1 0 9 1 6 0 5 0 2 0 4-1 6 0 2 1 5-1 5 2-8 0 0 1-4-1-4 1-1 0-1 0-1-1-4 0-1 1-3-1 0 1 0 0-1 0-2-1-3 1-1-1-3 0-2 1-1-1-3 0-1 0 0 1-8-1-6 0-1 1-4 0-9 0 0 0-1 0 0 0-4 0-2 0-14-1-2 1-6-1-1 0 0 1-3-1 0 1-3 0-2-1 0 1-3 0-3 0-1-1 0 1-3-1-1 1-1 0-2 0-3-1 0 0-1 1-1 0-1-1 0 0-1 0 0 1-1-1-1 1-2-1-2 0 0 1-3-1-1 1-1-1 0 0-1 1-1 0-1-1 0 0-1 0-4 0 0 0 0 1-1-1-2 0 0 1 0 0-3 0-1-1 0 0-1 0 0 1-1-1 0 1 0 0-2-1-2 0-1 0-2 0 0 1 0 0-1-1-1 0-4 1-1 0 0 0-2-1-1 0 0 1-1 0-1-1 0 1 0 0-2 0-2 0-1 0-2-1-3 0-3 0-1 1-2-1-7 1-1 0-2-1-10 0 0 0-1 1-1-1-1 1-3-1-2 1-1 0-1 0-1-1-1 0-1 1-1 0-2-1-1 1-1-1-1 0-1 1 0-1-2 0 0 1-2-1-3 0 0 1-1-1 0 1-1 0-1 0 0 0-1-1-1 1-1-1 0 0 0 0-1 0 0 0 0 1-2-1-1 0 0 1 0 0-1-1 0 0 0 0 0 1-1-1-1 0 0 0-1 1-2-1 0 1-1-1 0 0 0 0-1 0-1 1 0-1 0 1-2 0 0 0 0 0-1 0 0 0-1-1-1 0 0 0-1 0 0 0 0 1-1 0-1 0-1 0-1 0 0 0-1-1 0 0 0 0 0 0 0 1 0 0-1-1 0 0-1 0 0 1-1 0 0 0-1-1 0 0-1 0 0 0 0 1-1 0-1-1 0 0 0 0 0 1-1-1 0 0 0 1-1-1 0 0 0 0-1 0 0 1 0 0 0 0-1-1 0 0 0 1 0 0-1-1 0 1 0 0 0 0-1-1 0 0 0 1 0 0 0 0-2-1 0 0 0 1 0-1 0 1 0-1 0 1-1 0-1-1 0 0 0 1-1-1 0 1-1-1 0 0 0 1 0 0-1-1 0 0-1 0 0 0 0 1 0 0-1 0 0 0-1 0 0 0-1-1 0 0 0 0-1 0-1 0 0 0 0 0 0 0 0 1 0 0-1-1 0 1 0-1 0 1-1 0-1 0 0 0 0 0-1-1 0 0 0 1-1-1 0 0 0 0 0 1 0 0 0-1 0 1-1-1 0 0 0 1 0-1 0 1 0 0 0 0-1-1 0 1 0 0-1 0 0 0 0 0-1-1 0 0 0 1-1-1 0 0 0 0 0 1 0 0 0-1 0 1-1-1 0 0-1 0 0 1-1-1 0 0-1 0 0 0 0 1-1-1 0 0 0 0-3 0 0 1 0 0-1-1 0 0 0 0 0 0 0 1 0 0 0 0 0 0 0 0-1-1 0 0-1 1-1-1 0 0 0 1-1-1 0 0 0 0 0 1-1-1 0 1 0 0 0 0 0 0-1 0 0 0-1 0-1-1 0 1 0-1-1 0 0 1-1-1 0 0 0 0-1 1 0 0-1 0 0 0-1-1-1 1 0 0 0 0 0-1-1 0-1 0-1 0 0 0 0 1 0 0-1-1 0 1 0 0-1-1 0 0-1 1-1 0-1 0-1-1 0 0 0 0-1 0 0 0 0 1-1-1-1 0-1 1-1 0-2 0-1-1 0 1-1 0-1 0 0 0-1-1 0 0-1 0 0 1 0 0 0 0-1-1-1 0-1 1-2 0 0 0-2 0 0 0 0 0-1 0-1-1-1 0 0 1-1 0-1 0-1-1 0 0-1 1-1 0-1-1 0 1-1 0 0 0-1 0 0-1-1 1-2-1-1 1 0 0-1-1 0 0 0 1-1-1 0 0 0 1-2-1 0 0-1 0-1 0-1 0-1 0 0 1-2-1-2 0 0 1-7-1-2 0-3 1-4 0 0-1-2 1-3 0-4-1 0 1-8 0-3 0-2-1 0 0-7 1-4 0-10 0-5-1-2 0-2 1-5 0-2 0-1-1 0 0-5 1-7 0-1-1-1 0-1 1 0 0-2-1 0 1-2 0-1-1 0 1-3-1-1 0-3 1-2 0-7-1-1 0-7 1-1 0-2-1-1 1-2-1-3 0-5 0-19 0-1 1-3 0-1 0-1-1 1 3 4 0 6-1 14 1 4 0 1 0 7 0 3-1 7 1 3 0 1-1 1 1 0 0 2-1 0 1 4-1 0 0 3 1 0 0 2 0 1-1 1 0 1 0 0 1 3 0 2 0 0 0 3-1 2 1 1-1 1 1 14 0 2 0 2 0 0-1 1 1 3 0 3 0 7-1 0 0 7 1 8 0 4-1 5 1 1 0 1-1 1 0 5 0 3 1 2-1 0 1 2-1 3 0 1 0 4 0 0 1 2-1 1 1 2-1 1 1 2 0 1 0 0 0 3-1 0 0 1 1 1 0 5 0 2 0 1-1 1 0 1 1 0-1 1 1 1 0 1-1 0 0 0 0 0 1 1-1 0 1 0 0 1-1 0 1 1-1 1 1 0 0 1 0 0 0 3 0 0 0 1-1 0 0 0 1 1-1 0 0 1 1 0 0 2-1 1 0 0 1 1 0 2 0 1-1 0 1 1 0 0 0 1-1 0 1 1 0 0-1 0 1 1-1 1 0 0 0 0 1 1-1 0 1 0-1 0 1 0 0 1-1 1 0 0 1 0 0 1-1 0 1 0 0 0-1 0 1 1-1 0 0 0 0 0 0 1 1 0 0 1-1 0 0 1 0 0 0 0 0 0 1 1 0 0-1 1 0 0 1 1 0 0 0 0 0 1-1 0 1 0 0 1 0 0-1 0 1 0 0 0-1 0 1 1-1 0 0 0 0 0 1 1 0 0-1 1 0 0 0 0 0 0 1 0 0 0 0 0 0 0 0 1-1 1 0 0 1 1 0 1-1 0 1 1-1 0 1 1-1 0 1 1 0 1-1 0 0 1 0 0 1 0 0 0-1 1 0 0 0 0 0 0 1 0 0 0-1 0 1 0-1 0 1 1 0 1-1 0 0 1 1 0 0 2-1 0 0 0 1 0 0 1 0 0 0 1-1 0 1 0 0 0-1 0 0 1 1 0 0 0 0 0 0 1-1 0 0 0 1 1 0 1-1 0 0 0 1 0-1 0 1 0 0 0 0 0 0 1-1 0 0 1 0 0 0 1 0 2 0 0 0 0 0 0 1 1 0 1-1 0 0 0 0 0 0 1 0 0 0 0 0 0 0 0 0 0 1 0 0 0 0 1 0 0 0 1-1 0 0 0 0 0 1 1-1 0 0 0 1 1-1 0 0 0 1 2-1 1 0 0 1 1-1 0 0 1 1 0 0 0 0 0 0 1-1 0 0 0 1 0 0 0 0 0-1 1 0 0 1 0 0 1-1 0 1 0 0 1 0 0-1 0 1 0 0 0 0 1-1 0 0 0 1 0-1 0 1 1-1 0 1 0 0 1-1 0 0 0 1 0-1 0 1 0 0 2 0 0 0 1-1 1 0 0 1 0 0 1-1 0 0 0 1 0 0 1-1 0 0 1 0 0 1 1-1 0 1 0 0 1-1 0 1 0 0 1 0 0-1 0 1 1-1 0 0 1 0 1 0 0 0 0 1 0 0 1-1 0 0 1 0 2 0 0 1 0 0 1 0 1-1 0 1 1 0 0 0 1 0 1-1 0 1 1 0 1 0 0 0 1-1 1 1 0 0 1-1 0 1 2 0 1-1 0 0 1 0 0 1 1-1 0 1 1 0 1 0 1 0 0 0 1 0 1-1 2 0 0 1 0 0 0 0 1 0 1-1 0 1 1 0 3 0 1-1 1 1 4-1 1 1 1 0 3 0 1-1 1 0 0 1 2 0 8 0 1-1 0 0 1 0 0 1 6-1 0 1 2 0 3 0 2 0 3-1 1 1 3 0 0 0 2 0 9-1 3 0 0 0 2 0 0 1 3 0 1 0 3-1 0 0 0 0 1 1 6-1 3 0 1 0 0 1 0 0 1-1 0 0 0 0 0 1 1-1 1 1 1-1 0 1 0 0 1-1 0 1 1-1 5 0 1 1 2-1 3 0 4 1 0 0 2-1 0 1 0 0 2 0 2 0 2-1 9 1 1-1 1 0 1 1 1-1 7 1 2 0 0 0 1-1 9 0 4 1 5 0 12 0 1-1 6 0 0 0 3 1 1-1 2 1 1 0 1 0 2-1 1 0 0 0 2 1 3 0 1 0 1 0 2 0 1 0 1 0 6-1 1 0 3 1 4 0 2 0 2 0 5-1 5 0 3 1 1-1 8 0-4 3 0 0-5-1-2 0 0 1-5 0-3-1-1 1-1-1 0 1-1-1-5 0 0 1-1 0-8 0-2 0-3 0-5-1-4 1-1-1-1 0-6 1 0 0-1 0-5-1-6 1-4 0-8 0-6 0-1-1 0 1-2 0-5-1-7 0 0 1-1-1-2 1-6 0-2-1-2 1-4 0 0 0-2-1-2 0-1 0 0 1-4 0-1-1-1 0 0 1 0-1-1 1-1 0-1-1 0 0-1 1-1-1-1 0 0 1-1-1-1 0-1 1 0-1-1 1-1-1 0 1-2-1 0 0 0 1-2-1 0 0-1 1-1-1 0 0-2 1-2-1-1 0 0 0 0 1-1-1-1 1-1-1-2 0-1 0 0 1-2 0-1-1-2 0 0 1-1 0-1-1-1 1-4-1-3 0-3 0-2 0-2 1-1 0-1-1-2 0-1 1-1-1-2 0-4 1-3-1-4 0 0 0-5 1 0-1-3 0 0 0-2 0-1 0-1 0 0 1-1 0-5 0-1-1-2 1-1-1 0 1-1-1-3 1-1 0-1-1-3 0-1 0-2 1-3-1-1 0-1 1 0 0-1-1-1 0-2 1-2-1 0 0-1 0-2 1-1 0-2-1 0 0-1 1 0 0 0-1-1 0 0 1-2 0 0 0 0 0-1 0 0 0-2-1-1 0 0 1-1-1-1 0 0 1-1-1 0 0 0 0 0 0 0 0 0 1-1-1 0 1 0-1 0 1-1-1 0 1-1 0 0 0-1-1-1 0 0 1-1-1 0 1 0 0-1 0-1-1 0 0-1 0 0 1-1-1-1 0 0 1-1 0 0 0 0 0-1-1 0 0-1 0-1 0 0 0 0 1 0 0-1 0 0 0-1-1 0 0 0 0 0 0 0 0 0 0 0 1 0 0-1-1 0 0 0 1 0-1 0 0 0 1-1-1 0 0 0 1 0 0-1-1 0 0 0 1-1 0-2-1 0 0-1 1 0 0 0 0-1-1 0 1 0 0 0 0-1-1 0 0 0 1-1 0 0 0 0 0-1-1 0 1-1 0 0 0-1-1-1 1 0 0-1-1 0 0 0 1 0 0-2-1 0 0 0 0 0 0 0 1 0 0-1-1 0 0 0 1 0 0 0 0 0 0 0 0-1 0 0 0 0 0 0 0 0 0-1-1 0 1 0 0 0 0-1-1 0 1 0 0 0 0-1-1 0 1 0 0-1-1 0 0 0 0 0 1 0 0 0 0 0 0-1-1 0 0 0 0 0 1 0 0 0 0 0-1 0 1-1 0 0 0-1-1 0 0 0 1 0 0-1-1-1 0 0 0 0 0 0 1 0-1 0 0 0 1-1-1 0 0 0 1-1-1 0 0 0 1 0 0 0 0-1-1 0 1 0-1 0 0 0 1 0 0 0 0 0 0-1 0-1-1 0 0 0 0 0 1 0 0 0-1 0 1 0 0 0 0-1-1 0 1 0 0-1-1 0 1 0-1 0 0-1 0 0 0 0 1-1-1 0 1-1 0 0 0 0 0 0 0-1-1 0 1 0-1 0 1-1-1 0 1-1-1-1 0 0 1 0 0 0 0-1 0-1 0 0-1-1 0 0 1 0 0-1 0 0 0-1-1-1 0 0 0 0 1 0 0-1 0 0 0 0 0-1-1-1 0 0 0 0 0 0 0 0 1 0 0-1 0 0 0-1-1 0 0 0 0 0 1 0 0 0 0-1-1 0 0 0 0-1 0 0 1-1-1 0 0 0 1 0 0 0-1 0 1-1-1 0 1-2-1 0 1 0-1 0 1-1 0 0 0-1-1 0 1 0 0-1-1 0 1 0-1-1 1 0 0 0 0-1-1 0 0 0 1-1-1-2 1-1-1 0 1 0 0-2 0 0 0-1 0-2-1 0 0-1 1 0 0-3-1 0 1-2 0-2 0 0-1-1 0-1 0-1 0-1 0 0 1-1 0-1 0-1 0-1-1 0 0-2 0 0 0 0 1-1-1-1 1-1-1 0 0-6 1-1 0-1-1 0 0-3 1-1-1-5 1-1 0 0 0-1-1-6 0-4 0-1 1-2 0-6 0-22 0 0 0-2 0-2 0-6 0-1 0-1-1 0 0 0 0-1 0-1 1-3-1 0 0-3 0-2 0-6 1-3-1 0 1-1-1-1 1-2 0-6 0-1 0-2-1-1 0 0 0 0 0-1 0 0 0-3 0 0 1 0 0-2 0-1 0-1 0-8 0-1 0-2-1-3 0-1 1 0 0-6-1 0 1-1 0-12-1-5 0-3 0 0 0-1 0-1 1-3-1-8 0 0 1-3-1 3 3 1-1 3 1 8 0 6 0 3 0 5 0 4 0 6 0 3-1 0 0 1 1 1 0 0 0 1 0 0 0 1-1 0 0 0 1 1-1 1 0 2 0 0 0 3 1 0-1 0 1 1 0 0 0 1 0 1 0 2-1 1 1 0 0 0 0 0 0 1 0 0 0 1 0 0 0 0 0 1-1 2 0 1 1 1 0 1-1 0 1 1-1 1 0 1 1 0 0 0 0 1-1 2 1 1 0 1 0 1 0 1-1 0 0 1 0 2 1 5-1 1 1 4-1 0 0 1 1 1-1 2 0 5 0 0 0 1 0 6 1 5-1 14 1 2-1 1 1 2 0 1-1 8 0 0 1 2-1 1 1 5-1 1 1 2-1 6 0 2 0 1 1 2 0 2 0 2 0 2-1 1 0 2 0 2 0 1 0 0 1 3 0 3-1 0 1 1-1 0 1 0 0 1 0 1 0 1-1 0 0 0 1 0 0 1 0 2-1 1 0 1 0 1 0 0 0 1 0 0 1 0 0 2 0 1-1 0 1 2 0 0-1 0 0 1 0 1 0 0 0 2 0 1 1 1-1 0 1 0-1 1 1 1-1 1 1 0 0 0-1 0 1 0 0 2 0 0 0 0 0 0-1 1 1 1-1 0 1 1-1 0 0 0 0 0 0 0 1 0 0 1 0 0-1 0 1 1-1 0 0 0 0 0 0 0 1 1-1 0 0 0 1 1-1 0 0 0 0 0 1 1-1 1 0 0 0 0 0 0 1 0 0 2-1 0 0 0 0 0 1 1-1 1 1 0 0 1-1 1 0 1 1 1 0 0 0 1-1 0 0 0 1 0 0 1 0 1-1 0 0 0 0 0 0 1 0 0 0 1 0 0 1 0 0 1-1 0 0 0 1 0 0 1-1 0 0 0 1 0 0 1 0 0 0 1-1 0 0 0 0 0 0 1 0 0 0 0 1 0 0 0 0 1-1 0 1 1 0 0-1 0 1 0 0 1-1 0 1 0 0 1-1 0 1 0 0 0 0 0 0 1-1 0 0 1 0 0 0 0 0 0 1 1-1 0 0 0 0 0 1 0 0 0 0 0 0 0 0 1-1 0 0 0 1 0 0 0 0 1 0 0 0 0 0 1 0 0 0 1-1 0 0 0 1 0 0 1-1 1 0 0 0 0 1 0 0 0 0 0 0 0 0 1-1 0 1 0 0 1-1 0 1 0 0 1-1 0 0 1 0 0 1 1-1 0 1 0 0 0 0 1-1 1 0 0 0 0 0 0 1 1-1 1 0 2 0 0 0 1 0 0 1 1-1 0 1 1-1 0 0 1 0 1 1 0 0 0 0 0-1 1 0 0 0 0 0 0 0 0 1 0 0 1-1 0 0 0 0 0 0 0 1 1-1 0 1 1-1 0 1 0 0 0 0 1 0 0 0 1-1 0 0 0 0 1 0 1 0 0 1 1-1 0 1 0 0 1-1 0 1 1-1 0 1 0-1 0 0 0 1 1-1 0 1 1 0 1 0 0 0 1-1 1 1 1 0 0 0 0-1 1 0 1 1 0 0 1-1 1 0 0 0 1 0 1 1 1 0 2-1 1 0 1 0 0 1 1-1 0 1 1 0 2-1 1 0 0 0 0 1 0 0 0 0 1 0 1 0 1-1 0 0 1 0 1 0 0 0 0 1 0 0 1-1 1 0 1 0 0 0 0 1 1-1 2 1 0 0 4 0 1-1 1 1 0 0 1 0 1-1 1 0 4 0 3 0 1 0 0 0 2 1 2-1 1 1 1 0 3-1 1 1 3-1 1 1 1-1 0 1 13 0 3 0 1-1 2 1 4-1 1 1 1-1 1 0 2 0 0 0 0 0 1 0 0 0 5 1 1-1 0 1 1-1 0 0 3 1 0 0 3-1 2 1 3-1 0 1 1 0 1 0 1-1 0 1 2-1 1 1 1-1 0 0 1 0 2 0 1 1 0-1 1 0 2 0 0 0 0 0 2 1 1-1 0 1 1-1 0 1 1 0 1 0 2-1 0 1 1-1 1 0 1 0 2 0 0 0 2 0 3 1 1 0 3-1 2 1 0 0 2-1 9 0 1 1 3 0 2 0 1-1 4 0 3 0 1 0 2 0 15 0 3 1 2-1 1 1 3-1 1 0 5 1 3 0 1-1 1 1 0 0 5-1 3 1 4 0 2-1 5 0 5 1 7 0 10 0 1 0 3-1 0 1 1 0 2 0 1 0 1-1 1 1 1 0 1-1 0 0 1 0 4 2-10 1-2 0-1 0-6-1-7 1-5-1 0 0-3 1-11 0-1-1-2 1-2 0-1 0-2 0-4 0-2-1-2 1-4-1 0 1-9 0-11-1-2 0-3 1-3-1-3 0-4 0-7 1-3 0-3-1 0 0-1 0 0 1-3 0 0 0-4 0-3-1-1 1-1 0-2-1-4 1-3-1-1 0-1 0-1 0-3 0-1 1-3 0 0 0-1-1-1 0-1 0 0 1-2-1-1 0-1 0-2 0-2 0-2 0-1 0-1 1-1-1-1 1-1 0 0 0-1-1 0 1 0 0-1 0 0 0-1-1-1 1 0-1 0 1-1-1-2 0-1 1-1-1-2 0-1 0-4 1-3-1-2 1-4-1-4 0-1 0-3 0-3 0-2 1 0-1 0 1-3 0 0 0-2 0-1-1-1 0-4 0-1 0-3 0-4 1-2-1-1 0-2 1-5-1-1 0 0 1 0 0-1-1 0 1-1-1 0 1-2-1-3 0-1 0 0 1-2-1-1 0-2 0 0 0-1 0-1 1-1 0 0 0 0 0-2-1 0 0-1 1-2 0 0 0-1-1-1 1 0 0-1 0-2 0 0 0 0 0 0 0-1-1 0 0-1 0 0 1-1-1-3 1 0-1-1 1-1-1-1 0-1 1-1-1-1 0 0 1-1 0 0 0 0 0-1-1 0 1-1-1 0 0 0 0 0 1 0-1-1 0 0 1-1 0-1-1 0 1 0 0-1 0 0 0-1-1 0 0 0 1 0 0 0 0-1-1-1 0-2 0-1 0 0 0-1 0 0 1-1-1 0 0 0 1-1-1 0 0 0 0 0 0-1 0 0 0 0 1-1-1-3 0 0 0 0 1-1-1 0 0-1 0 0 1-1 0 0 0-1-1 0 0 0 1 0 0 0-1 0 1 0 0-1 0 0-1-1 0-1 0-1 1-1-1 0 0 0 1 0 0 0 0 0 0-1-1 0 0 0 1-1-1-1 1 0 0-1-1 0 1 0-1-1 0 0 0 0 0 0 1 0 0-1-1 0 0 0 0 0 0 0 1-1-1 0 0 0 1 0 0 0 0-1-1 0 0-1 0 0 0 0 1 0 0-1-1-1 0 0 0 0 1 0 0 0 0-1 0 0 0 0 0 0 0 0 0-1-1-1 0 0 0 0 1 0 0 0 0-1-1 0 0 0 0 0 1 0 0-1-1 0 1-1 0 0 0 0-1-1 0 0 0 0 0 0 1-1-1 0 1-1 0-1-1 0 0-1 0 0 0-1 1 0 0-1-1 0 1 0 0 0-1-1 1-1-1 0 1 0 0-1-1 0 0-1 0 0 1 0-1 0 0-1 1 0 0-1 0 0-1-1 0 0 1-1 0-1-1 0 1 0 0-1-1 0 0-2 0-1 0 0 1 0 0 0 0-2-1 0 1-1-1 0 1-3-1 0 0 0 1-1-1 0 0 0 1-1-1-1 1 0-1-1 0 0 1 0 0-2-1-1 0 0 0 0 0-2 0-1 0 0 1 0 0-2-1 0 1-1 0 0-1 0 1-2-1 0 0 0 1 0 0-1-1 0 1-1-1 0 0-1 0 0 0-2 1 0 0 0 0-1 0 0 0-3-1-2 1 0-1 0 1-1 0-2 0-2-1 0 1-1 0-1-1-1 1-1-1 0 1 0 0-3 0-1 0-4 0 0 0-1 0-5 0-1 0-2-1-1 0 0 0-3 1-1 0-1-1 0 1-9-1-1 1 0 0-8-1-1 1-7 0-3-1-11 1-11-1-2 0 0 1 0 0-2-1-4 0-1 1 0-1-4 0 0 0-1 1-1-1 0 1-1 0 0 0 0 0-5 0-5 0-2 0-1 0-2 0-4 0-1-1 0 0-3 1-5-1-2 0-1 1-12-1-3 0-5 0-2 1-3 0 0 0-3-1-7 0-7 1-1-1-3 0 0 2 3 1 9 0 5-1 11 1 0 0 7-1 4 0 4 0 2 1 1-1 2 0 1 1 1-1 0 1 1-1 3 1 2-1 0 1 1 0 0 0 0 0 1 0 1 0 3-1 1 1 1 0 1 0 1 0 1-1 0 0 0 1 1-1 0 1 0 0 2-1 0 1 1-1 0 0 4 0 0 1 6-1 0 1 5 0 3-1 1 0 2 0 1 0 1 1 0-1 1 0 2 0 1 1 4 0 7-1 5 0 2 1 0 0 3 0 2-1 1 1 3 0 1-1 8 1 11 0 1 0 2 0 2 0 1-1 0 0 2 0 2 0 4 1 2 0 3 0 1-1 2 1 1-1 1 0 0 0 0 0 1 0 2 1 2-1 1 1 1 0 1-1 2 1 1 0 0 0 1-1 0 1 0 0 1-1 3 0 2 1 1 0 1 0 1 0 0 0 1 0 0-1 1 0 1 0 1 0 1 0 0 1 1 0 1-1 0 0 1 0 1 1 1 0 0 0 1-1 0 0 1 1 1 0 0 0 0 0 1-1 0 0 0 0 1 0 0 0 1 1 0 0 1 0 2-1 0 0 1 1 0 0 1-1 0 1 0 0 2-1 1 0 0 0 0 0 0 1 0 0 0 0 1-1 0 1 1-1 0 0 1 1 1 0 2-1 0 0 1 0 0 0 0 1 0 0 0 0 1-1 1 0 0 1 1-1 1 0 0 1 0 0 0-1 1 1 1-1 0 1 0-1 0 1 1-1 0 1 0-1 1 0 0 1 0 0 0-1 0 0 1 0 0 1 0 0 0 0 0 0 0-1 1 1 0 0 0 0 0 0 1-1 0 1 1-1 0 1 0 0 1 0 1 0 0 0 0 0 0 0 1 0 1-1 0 0 0 0 0 1 0 0 1 0 1-1 0 1 1-1 0 1 1-1 0 1 0 0 0 0 0-1 0 1 1 0 0 0 1-1 0 0 0 1 0 0 1-1 0 1 0 0 1-1 1 0 1 0 0 0 0 0 0 1 0 0 1 0 1-1 0 0 0 0 0 0 0 1 1 0 1-1 1 1 0-1 0 1 0 0 1-1 1 0 0 0 0 0 1 0 1 0 1 0 0 0 1 0 0 0 0 0 0 1 0 0 1-1 1 0 0 0 0 0 0 1 1 0 0 0 1-1 0 1 0 0 2 0 1 0 1 0 1-1 0 0 0 1 2-1 0 1 0 0 1 0 1 0 0 0 2 0 0 0 1-1 0 1 0 0 1-1 0 0 1 1 0-1 0 1 0 0 1-1 0 0 0 0 2 0 0 0 0 1 0 0 0 0 0-1 1 0 0 0 2 0 0 1 1-1 0 0 0 0 0 1 0 0 0 0 1-1 2 1 1 0 0 0 2-1 1 0 0 0 1 1 2 0 0 0 1-1 0 1 2-1 0 0 1 1 3-1 1 1 2-1 0 0 3 1 4-1 0 1 2-1 1 0 1 1 1 0 0-1 0 1 4-1 3 0 1 1 3 0 4 0 2 0 0-1 1 0 0 1 1-1 2 1 1-1 5 0 0 1 7-1 7 1 3-1 1 0 0 1 2-1 1 1 2 0 2-1 3 0 0 1 2 0 1-1 1 0 0 0 1 0 0 1 1 0 3-1 0 1 2 0 1-1 0 0 2 0 0 0 0 0 0 1 1 0 1-1 0 0 1 1 2-1 2 0 1 1 2-1 2 0 2 1 0 0 1-1 0 1 0 0 1-1 1 0 0 1 0 0 1 0 1-1 1 1 1-1 1 1 2-1 3 1 2-1 1 1 9-1 1 0 0 1 3 0 2-1 2 0 0 1 0 0 2-1 1 0 2 0 1 0 1 1 2-1 2 1 4-1 1 0 0 1 3-1 0 0 2 0 9 0 0 1 5-1 0 0 8 0 5 1 2-1 4 0 8 0 1 0 2 0 5 1 1-1 3 0 0 0 4 0 6 0 3 1 3 0 1 0 7-1 5 0 0 0 4 0 5 1 2 1-3 0-2 0-1 0-4 1-1-1 0 1-5 0-9 0-2-1-11 1-4-1-6 1-4-1-2 0-3 0-4 0-1 0 0 1 0 0-5-1-3 0-2 0-2 1-1-1-3 0-6 1-1-1-5 0-1 1 0 0-5-1 0 0 0 1-1 0 0 0-2 0-3 0-3 0-1 0-1-1 0 1-5 0-4-1-6 1-7-1 0 0-4 0-1 0-2 0 0 1-1-1 0 0-4 1-1-1-2 0 0 0-1 0-1 1 0 0-2-1 0 1 0 0-4-1-4 1-1-1-3 1 0 0 0 0-2-1-3 0-5 0-1 1-1-1 0 1-6-1 0 0-3 1-1 0-1-1 0 0-1 0-2 1-1-1-4 0-1 1 0 0-2-1 0 0 0 1-2-1-1 0-1 0-1 1-1-1-1 1-2 0-1 0-3-1-2 0-8 1-2 0-1 0-1-1 0 1-2 0-4-1-5 0 0 0-1 0 0 0-1 0-3 0 0 0-2 1 0 0 0-1 0 1-2-1 0 1 0 0-4 0-2 0-2-1 0 0-1 0 0 0 0 1 0 0-1 0 0 0-5-1 0 1-1-1 0 0 0 1-1-1 0 1-2-1-1 1 0 0 0 0-1-1 0 1 0 0-1-1 0 0-1 0 0 0-1 0-1 0 0 0-1 0-1 1 0 0-2 0 0 0 0 0 0 0-1 0 0 0-1-1-2 0 0 1-1-1 0 1-1-1-1 1-1 0 0 0-1-1-1 0-1 1 0 0-1 0-1-1 0 1 0-1 0 0 0 1 0 0-1 0 0-1 0 0-1 0 0 1-1 0 0 0-1-1 0 0 0 0 0 1-1 0 0-1 0 1-1-1-2 0 0 1 0 0-2-1 0 0 0 1-1-1 0 0 0 1-1-1 0 1-1-1-1 1 0 0-1 0-1-1 0 1 0 0-1 0 0-1-1 0 0 1 0 0-1-1 0 1 0 0-1 0 0 0 0 0-1-1 0 0 0 1 0 0-1-1-1 1 0 0-2-1 0 0 0 1-1 0 0 0 0 0-1-1-1 0 0 0 0 0 0 0 0 1 0 0 0 0-1 0-2 0-1 0 0 0-1 0 0 0-2-1 0 0 0 0 0 0 0 1 0-1-1 0 0 1-1 0 0 0-1-1 0 0-2 0 0 0 0 1 0 0-2-1 0 1 0 0-1-1 0 0-1 0 0 0-1 0 0 0 0 1-1 0 0 0-1-1-1 1 0 0-1-1 0 1-1-1 0 0 0 0 0 1-1-1 0 1-1-1 0 1 0 0-1-1 0 1-1-1 0 1-1 0-1 0-1-1 0 0 0 1 0 0-1-1 0 1 0-1 0 1 0 0-2-1 0 0 0 0-1 0-1 0 0 1-2 0-1 0-2 0-1-1 0 0-2 1-1 0-1 0-3 0-1-1 0 0-1 0-2 1-1-1 0 0-1 1-2 0-1-1-1 1 0 0 0 0-2 0-1-1-1 0-1 1-2-1-4 1-4-1-1 0-2 1-2 0-4 0-1 0-3 0-5-1-3 1-4 0 0 0-2 0-4 0-11 0-1-1-9 1-7 0-1-1-4 0-1 0-1 0-6 1-1 0-2-1-2 0-3 0-6 0 0 1 0 0-4-1 0 1-1-1 0 0-1 0-2 0 0 1-2 0-1-1-2 1 0 0 0 0 0 0-1 0-1 0-1 0-1-1-1 0-1 1-1-1-3 1-3-1 0 1-3 0-4-1 0 1-1-1-1 0-3 0-2 0-2 0-1 0-1 0-1 1-5-1-8 0 0 1-3 0-4-1-1 0 0 1-4 0-2 0-2 1 1 1 12 0 4 0 3-1 3 1 3-1 2 1 2 0 3 0 6-1 1 0 0 1 2-1 0 0 0 0 2 0 2 0 0 0 0 0 2 0 2 1 1-1 0 1 2-1 0 1 0 0 1 0 0-1 1 1 1 0 2-1 0 0 0 1 0 0 1 0 1 0 0 0 2 0 0 0 3 0 4-1 2 0 2 1 1 0 5 0 6-1 5 0 1 0 0 1 2-1 1 0 4 0 3 1 2 0 1-1 2 0 1 0 0 0 2 1 1-1 3 0 1 1 2-1 2 0 0 0 1 1 0 0 3-1 1 1 2-1 4 0 5 0 0 1 5 0 2 0 1-1 1 0 3 0 0 1 3-1 2 1 0 0 5-1 4 1 2-1 1 0 0 1 3 0 0 0 1 0 1-1 1 0 1 0 2 0 7 0 0 1 2-1 0 1 0 0 0 0 0 0 0 0 1-1 1 0 0 0 0 1 2-1 1 0 4 0 0 1 3-1 0 1 0 0 1-1 3 0 0 1 1-1 0 0 1 1 0 0 2-1 0 1 0 0 1 0 1 0 0-1 0 1 0 0 1-1 0 1 1-1 0 1 1-1 0 1 0 0 1 0 1-1 0 1 0 0 0-1 0 1 0 0 1-1 0 0 1 0 0 1 0 0 0 0 1 0 0 0 1-1 0 1 1-1 0 0 1 1 1-1 0 1 0 0 1 0 1-1 0 0 1 1 1-1 0 0 1 1 0 0 0 0 0 0 0 0 1-1 0 0 2 0 0 0 0 1 1-1 0 1 0 0 0 0 1 0 1-1 0 1 0 0 2-1 0 0 0 1 1-1 0 1 1-1 0 1 0 0 1 0 0 0 1-1 0 0 0 1 1-1 0 1 1-1 0 1 0 0 1-1 0 1 0-1 0 1 0 0 1-1 0 1 0 0 1-1 0 0 0 1 1 0 0 0 2-1 0 1 0 0 1-1 0 1 1 0 0 0 1-1 0 1 0 0 1-1 0 1 0 0 1-1 1 1 0 0 1-1 0 0 1 1 0-1 0 0 1 0 0 0 0 1 1-1 0 0 0 1 1-1 0 1 0 0 1-1 0 0 0 0 1 0 1 1 0 0 0 0 1-1 0 0 1 0 1 1 0-1 1 1 1-1 0 1 1-1 0 1 0 0 2-1 1 0 0 1 1 0 2-1 1 1 0 0 1-1 0 0 1 1 0 0 0 0 0 0 0-1 1 1 0 0 0 0 0 0 1-1 1 0 0 0 2 0 0 1 1 0 1 0 0 0 1 0 1 0 0 0 0 0 1-1 0 1 1-1 0 0 0 1 1-1 0 0 1 0 0 1 1 0 1-1 0 1 2-1 0 1 1 0 0 0 0 0 1-1 0 0 0 1 1 0 0-1 1 1 0 0 0 0 1-1 1 1 1 0 1 0 2-1 1 0 1 1 1-1 3 0 1 1 2-1 2 0 1 0 0 1 1-1 0 1 2-1 4 0 1 1 2-1 2 0 0 1 2 0 2 0 1-1 1 1 3-1 2 0 4 0 0 0 1 0 0 0 1 1 0 0 0 0 1-1 1 1 2-1 2 0 0 0 3 0 2 0 4 1 2 0 4 0 7-1 1 0 0 0 2 0 4 0 0 1 1-1 0 1 1 0 2 0 1-1 2 0 1 0 0 0 2 0 1 1 2 0 0 0 1-1 1 1 1-1 1 0 2 1 2 0 1 0 1-1 1 1 1 0 0 0 1-1 1 1 2 0 3-1 2 0 0 1 1 0 1-1 0 0 0 1 6 0 2-1 4 0 2 1 7-1 3 1 5-1 0 1 5 0 1-1 0 1 2 0 6 0 3-1 4 1 1-1 1 1 2 0 10-1 0 1 1 0 2-1 2 0 1 0 4 1 2-1 3 1 3-1 1 0 0 1 3 0 3 0 2-1 3 0 2 1 5 0 2 0 10-1 2 0 6 0 10 1 1-1 0 1-6 1 0 0 0 1-2-1-6 0-14 1-2-1-2 0-2 1-4-1 0 0-1 0-2 1-3-1-2 0-1 0-6 0-9 1-4 0-3 0-11-1-2 1-4-1-1 0-2 0-10 0-5 1-1-1-2 1-1 0-3-1-5 0-4 0 0 0 0 0-1 1 0-1-1 1 0 0-2-1-2 0-6 0 0 1-2 0-1-1-1 1-2-1 0 0 0 1-2 0-2-1 0 1-1 0 0 0-1 0-1 0-1 0 0 0-1-1-1 0-5 0-4 0-1 0 0 0 0 1-3 0-2-1 0 1-2-1 0 1-3 0 0 0-1-1 0 1 0 0 0 0-1 0-1-1-2 1 0 0-1 0-2-1 0 1-1-1-1 1-4-1 0 1-7 0-1-1-3 1-2-1 0 1-1-1 0 1-1 0-1-1-3 0-3 0 0 1-2-1 0 0-2 0-1 0-3 0-2 1-2 0-2 0-4-1-6 0 0 0 0 1-1 0-2-1 0 0 0 0-1 0 0 1-1 0 0 0-2-1 0 1-6-1 0 0-1 0-2 1-1 0-1-1 0 1-1-1 0 0-1 1 0 0-1-1 0 1 0-1 0 1-1-1 0 1-1-1 0 1-1-1 0 1-1-1-2 0-1 0-3 0 0 1-1-1 0 1 0 0-1 0-1 0 0 0 0 0-1-1 0 0 0 0 0 0-1 0 0 0 0 0 0 1-1 0-1-1 0 0 0 0 0 1 0 0-1 0 0 0 0 0-1 0 0 0 0 0-1 0 0 0 0-1-1 0 0 0 0 0 0 0 0 1-1-1-1 0 0 0-1 0-1 1 0 0 0 0 0 0-1-1 0 1 0 0 0 0-1-1 0 1 0 0-1-1 0 0 0 0 0 0-1 0 0 1 0 0 0 0 0 0 0 0-1 0 0-1-1 0 0 1 0 0-1-1 0 1-1-1 0 1-1 0 0 0-1-1 0 0 0 1-1 0 0 0-1-1 0 1-2-1 0 0 0 0 0 1-1-1-1 1-1 0 0 0-1-1 0 1 0 0-1-1 0 1-1-1 0 0 0 0 0 0 0 0 0 0 0 1-1-1 0 0 0 0 0 1 0 0 0 0-1-1 0 0 0 1 0 0 0 0 0 0-1-1 0 0 0 0 0 1 0 0 0 0 0 0-1-1 0 0-1 1 0 0 0-1 0 1 0 0-1-1 0 1 0 0 0 0-1-1 0 0 0 0 0 0 0 0-1 1-1-1 0 1 0 0-1-1 0 1 0 0-1 0 0 0-1-1 0 0 0 0 0 1 0 0 0 0 0 0 0 0 0 0-1-1 0 1 0 0 0-1-1 0 0 0 0 0 0 0 0 1-1 0 0-1-1 0-1 0 0 1 0 0-1 0 0-1 0 1 0 0 0 0-1-1 0 0 0 1 0 0 0 0-1-1 0 0 0 0 0 1 0-1-1 0 0 1-1-1 0 0 0 1-1-1 0 1-1 0 0-1-1 0-1 0 0 0 0 1 0 0-1-1 0 0-1 0 0 0 0 1-1-1 0 1-1-1 0 0 0 1 0 0-1-1 0 1 0 0-1-1 0 1-1-1 0 0-3 0 0 1-1 0-1 0-1-1-2 0 0 1-1-1 0 1-2 0 0 0-1 0-1-1-1 1-1-1-1 0 0 0-1 0 0 0-1 0 0 0 0 0 0 0-3 0-1 0 0 1-1 0-5-1 0 1 0 0-1 0-1 0-1 0-1-1-1 0 0 1 0 0-1-1-1 1-1 0 0-1-2 1 0 0-4-1-2 0-3 0-1 1-2 0-1-1 0 0-2 1-1-1 0 0-5 0-1 1-2 0 0 0-2-1 0 1-3-1-2 1-1-1-1 1-3-1-2 1-2 0 0-1-1 0-3 1-2 0-9-1 0 0-4 1-3-1-5 1-1 0-2-1-1 0-4 1-3 0-1-1-2 1-2-1-2 0-1 0-1 0-4 0-1 1-1 0-1 0-5 0-1 0-1 0-2-1-1 0 0 1-2-1 0 1-1-1-3 1 0-1-4 0 0 1 0 0 0 0-3-1-2 0-1 0-2 0 0 1 0 0-1 0-1-1 0 1-2 0-2 0-2-1-2 0 0 0-1 0-2 1-2 0 0-1-1 1-3 0-2-1-2 0 0 1-1 0-2-1 0 1 0 0-6-1-8 0-1 0-2 1-4-1-1 1-3 2 12-1 2 0 1 1 5-1 3 1 4-1 1 1 1 0 3 0 3-1 0 1 3-1 0 0 0 1 2-1 0 1 0 0 1 0 4-1 2 0 0 1 2 0 0 0 1-1 1 0 1 1 0 0 2 0 1-1 0 0 0 0 0 1 1 0 2-1 2 1 1 0 2 0 2-1 0 0 1 1 1 0 0 0 1-1 1 1 1-1 6 0 0 1 1-1 0 1 2 0 2-1 3 0 0 0 0 1 1-1 2 0 2 1 1-1 1 0 1 0 0 1 5 0 7 0 5-1 8 1 1 0 7 0 1 0 1 0 3-1 0 0 1 1 2-1 1 1 15-1 0 1 3 0 0 0 12-1 0 1 1 0 1-1 4 0 1 0 0 0 1 1 4 0 0 0 2-1 1 0 0 0 0 0 1 1 3-1 0 1 2-1 1 0 1 0 1 0 0 1 2 0 1-1 3 0 0 1 0 0 2 0 2 0 1-1 0 1 0 0 1-1 0 1 0 0 1 0 1-1 0 1 2 0 0 0 0-1 0 1 1 0 1-1 1 1 1-1 0 1 1 0 1-1 0 0 1 1 1-1 1 1 1 0 0 0 0-1 1 0 0 0 0 0 1 1 1-1 0 1 0 0 2-1 0 0 0 1 1 0 1-1 0 0 0 1 1-1 1 0 0 0 1 0 0 0 0 0 0 0 1 1 1 0 1 0 0-1 0 1 1 0 1 0 0-1 0 0 1 0 0 1 0 0 1 0 1-1 0 0 0 0 0 0 0 0 0 1 0 0 0 0 1-1 0 0 0 1 0 0 1 0 0-1 0 1 1 0 0 0 1-1 1 0 1 0 0 1 0 0 0 0 2-1 0 1 0 0 0 0 0 0 1-1 0 1 1 0 1-1 0 1 0 0 0-1 0 1 0 0 1-1 0 1 1-1 0 0 0 1 3 0 0-1 0 1 2 0 1 0 0 0 1-1 0 1 1-1 0 0 0 1 1 0 0-1 0 1 0 0 1-1 0 1 0 0 1-1 0 0 0 1 0 0 1-1 0 0 0 1 1-1 1 0 0 1 1-1 1 0 0 1 1-1 0 0 0 0 0 1 1 0 0 0 1-1 1 0 0 0 0 1 0 0 1-1 0 1 0 0 0 0 0 0 1 0 0 0 1-1 0 0 2 1 0-1 2 0 0 0 0 0 1 0 0 0 0 1 1 0 1 0 1-1 1 1 3-1 0 0 0 1 1 0 1 0 2-1 2 0 0 1 0 0 1-1 1 1 0 0 2 0 1 0 1-1 1 1 2-1 0 1 3 0 0 0 0 0 2-1 0 1 1 0 2 0 1 0 1-1 0 0 5 0 3 0 10 0 1 0 2 0 0 0 0 1 2-1 4 0 0 0 4 1 1 0 3 0 2-1 1 0 0 0 2 0 1 0 9 0 0 0 2 1 2 0 1-1 2 0 0 0 3 1 3 0 1-1 1 0 1 1 4 0 0 0 2-1 1 0 1 1 4 0 4-1 1 1 2-1 0 1 1 0 1-1 3 0 0 1 0 0 1 0 1-1 1 0 1 1 1-1 0 1 1-1 2 0 0 1 1-1 0 0 0 0 2 1 3-1 0 1 1 0 2-1 1 1 1 0 1-1 1 0 1 1 1-1 2 0 0 0 0 0 4 0 0 0 5 0 1 0 2 1 2 0 3-1 0 1 13-1 2 0 0 1 7-1 1 1 13-1 0 0 2 0 7 0 5 0 1 0 0 1 4-1 1 1 6-1 6 1 0 0 7-1 1 0 0 1 3-1 4 0 3 0 4 1 1-1 5 1 4-1 1 1 0 0 0 0 3 0-3 2-2-1 0 1-13-1-2 0-3 1-1-1-1 0-3 0-3 0-1 1-2 0 0-1-2 0-3 0 0 0-3 1-2 0-1-1 0 1-4-1-8 1-8-1-4 1-6 0-1-1-3 0-3 1-2 0-2 0 0 0 0 0-3 0 0 0-2-1-4 1-4-1-4 1-9-1-5 1-1-1-7 0 0 1-1-1-1 0 0 1 0-1-1 1 0 0-2-1-1 1-2-1 0 1-1 0-2-1-2 0 0 1-1-1 0 1-1-1 0 0-1 0 0 1-1-1-1 1 0 0 0 0-4-1 0 0 0 0-1 1-5-1-1 0-2 0-3 1-2-1 0 0-2 1-1-1 0 0-2 1-3-1-6 1-1-1-2 1-1 0-2-1 0 1-3-1-3 0-2 1-1-1-3 1-4 0-1-1-1 1-1 0 0 0 0 0-2-1-2 0 0 1 0 0-4-1-3 0 0 1-2-1 0 0-3 0 0 1-2-1 0 0-2 0-3 0-1 1-1-1-3 0 0 1-1 0-4-1-3 1-2 0-1-1 0 1-1-1 0 1-1-1 0 1 0-1 0 1-2 0-1 0-1 0-1-1-3 1-2 0-1-1-1 1-3 0-1 0-2-1 0 1 0 0-2 0 0 0-3-1 0 0-1 0 0 1-2-1 0 1-1 0-1-1 0 0 0 1-1 0 0-1 0 1-1-1 0 0 0 1 0 0-1-1-1 1-1-1 0 1 0 0 0 0-1 0-1 0 0 0-1-1 0 0 0 0-1 0-1 0 0 0 0 0 0 1-1-1-1 0 0 1 0 0 0-1 0 1-1-1 0 0 0 0 0 1-2-1 0 0 0 0 0 0-2 0 0 1 0 0-1-1 0 1-2 0-1-1 0 0 0 1 0 0-1-1 0 0 0 0 0 1 0 0 0 0-1-1-1 0-1 1-1 0 0-1-1 0 0 0 0 0-1 0 0 0 0 1 0 0-2 0-1-1-1 0 0 1-1 0-1-1 0 1-1-1 0 0-1 0 0 0 0 1 0 0 0 0-1 0-1-1 0 1-1-1 0 0 0 1 0-1-1 0 0 0 0 0 0 0 0 1-1 0 0-1 0 1-1 0 0 0 0 0-1 0 0 0 0 0 0 0-1-1 0 1-1-1 0 0 0 0-1 0-1 0 0 1-1 0 0 0-1-1 0 1-1 0-1-1 0 1 0 0-1-1 0 1-1-1 0 1-1 0-1 0 0 0 0 0-1 0-1 0 0 0 0 0-1-1 0 0 0 0 0 1-2 0 0 0 0 0-1-1 0 0 0 1-1-1-1 1 0 0-1-1-4 0 0 0 0 1 0 0-2 0 0 0-2 0-1-1-1 1-1 0-1-1 0 0 0 1-2 0-1 0-1-1 0 1-3 0-3-1-2 1-1 0-1-1 0 1 0-1-3 1-1-1-3 1-1-1-3 0-8 1 0 0-9-1 0 1-1 0-3-1-4 0 0 1 0 0-6-1-4 1-2 0 0 0-1-1 0 1-4 0-8-1-2 0-5 1-1-1-1 1-3 0-2 0-5 0-7-1-4 0-3 1-2-1-1 0-4 1-2 0-2 0-1-1 0 1-1-1-6 1-1-1-1 0 0 1-1 0-3-1 0 0-2 0-2 0 0 1-2-1 0 1-1-1 0 1-4 0 0 0-2 0-1-1-2 0 0 1-5-1-2 0 0 1 0 0-4-1-2 0-2 0 0 0 0 1-1-1-1 0-1 0-1 0-4 0 0 0-1 0-4 1-11-1-1 0-5 0-1 0-3 1 3 1 1 1 1-1 1 0 5 1 9-1 3 1 8-1 0 0 5 1 1-1 1 0 0 1 1-1 0 1 2-1 3 0 0 0 1 1 1-1 0 0 3 0 0 1 3-1 2 0 2 0 0 1 1-1 1 0 1 0 0 1 1-1 0 1 6-1 2 0 1 0 2 1 1-1 0 1 1-1 2 0 4 1 1-1 3 0 1 1 2-1 1 1 2-1 0 0 2 0 1 0 8 0 1 0 5 1 3-1 0 1 2 0 1 0 1-1 0 0 3 1 1-1 0 0 3 1 1 0 2-1 5 0 1 1 1 0 3 0 0 0 2 0 2-1 5 1 9-1 2 0 0 0 0 0 4 1 1-1 0 1 5-1 0 0 2 0 3 0 0 1 1-1 0 0 3 0 0 1 1 0 3 0 5 0 0 0 4-1 0 1 1 0 1 0 1-1 2 1 0 0 1 0 2-1 2 0 0 1 0 0 1-1 0 1 0-1 1 0 2 1 1 0 0 0 2-1 1 0 1 0 1 0 0 1 0 0 1 0 1 0 2-1 2 1 1-1 1 1 0-1 0 0 0 1 1 0 1-1 0 1 1-1 0 0 0 1 1-1 0 1 2-1 0 1 1-1 0 1 0 0 1 0 1 0 0 0 1 0 1-1 0 0 0 0 1 0 0 1 0 0 1-1 0 1 0 0 1-1 0 1 3-1 1 1 1-1 1 1 0-1 1 1 1-1 1 0 0 0 0 1 0 0 1 0 1-1 0 0 0 1 0 0 0-1 1 0 0 0 0 1 0 0 1-1 0 1 1-1 0 1 1-1 0 1 1 0 0-1 1 0 0 0 2 0 0 0 0 1 1-1 0 1 0 0 1 0 1 0 0 0 0 0 0 0 2-1 0 0 1 0 1 0 0 0 0 0 1 0 0 1 0 0 0 0 0-1 1 0 1 1 0 0 1-1 0 1 0 0 1-1 0 1 2 0 1-1 0 0 0 0 0 0 1 0 0 0 0 1 1-1 0 1 1-1 0 0 1 0 1 0 0 1 0 0 1-1 0 0 1 0 0 0 0 0 0 0 0 0 0 1 1 0 0 0 1-1 0 0 0 0 1 1 0-1 0 1 1 0 0 0 1-1 0 1 0 0 1 0 0 0 1-1 1 1 0 0 1-1 1 0 0 1 0 0 0 0 1-1 0 0 0 1 2-1 0 1 0 0 1 0 0 0 1 0 1 0 1-1 0 1 1 0 2 0 2-1 1 1 1-1 0 0 0 0 1 1 0 0 3-1 3 1 1-1 1 1 1 0 1 0 2-1 0 0 1 1 1-1 0 0 5 0 0 0 2 1 0 0 2 0 0 0 2-1 1 0 3 0 0 1 0 0 2 0 1 0 0-1 2 1 0 0 1 0 4-1 1 1 2 0 3 0 5-1 1 0 1 1 1-1 1 1 0-1 11 0 3 1 3-1 0 0 0 1 1-1 4 0 1 0 0 1 2 0 0 0 1-1 1 1 1-1 1 0 0 1 2-1 1 1 2-1 2 0 1 1 1 0 7-1 0 0 1 0 0 0 2 1 1 0 0 0 2-1 0 1 5-1 5 1 2 0 2 0 2-1 1 0 3 1 4-1 0 0 2 0 6 1 2-1 2 1 2 0 3-1 0 1 2-1 1 0 3 1 2-1 1 1 2 0 1-1 3 0 0 0 0 1 9 0 2-1 3 1 5-1 1 1 2-1 7 1 9-1 10 1 1 0 0 0 1 0 2-1 0 1 1-1 1 1 1-1 4 1 5-1 13 1 0 0 2 0 2 0 3 0 3-1 0 3-2-1-4 0-1 0 0 1-6-1-5 1-2-1-2 0 0 0-1 1-1-1-1 0 0 0-10 0-4 1-1 0-4 0-13-1-1 0-6 0 0 1 0 0-4-1-6 0 0 0-2 0-10 1-1-1-5 0-6 1-4 0-1-1 0 1-1-1-4 1 0 0-1-1-4 0-3 1-1 0-5-1 0 0-2 0-2 0 0 1-3 0-2-1-5 1-1 0-1-1-3 0 0 1-1 0-1 0-2 0-4 0 0 0-3-1 0 1-1 0-2-1 0 1-1 0-2-1-2 1 0-1-1 1 0-1-6 0 0 0 0 1-2-1-1 1-1-1-1 1-5 0-3-1-1 1-1 0-1 0-2-1-3 1 0 0-3 0 0 0-4-1-4 1-1 0-14-1-6 0 0 1 0 0-2-1 0 1-7-1 0 1-1 0-1-1-8 0 0 1 0 0-1 0-1-1-2 1-1-1-3 0-1 1-2-1-1 1-1-1 0 0-4 1-1 0-1 0 0 0-1 0-1-1 0 1-1-1 0 0 0 1-1-1-2 1 0 0-1 0-2-1 0 0-1 1-1-1 0 1 0 0-2 0-2-1-1 0 0 1-1-1-1 0-1 0 0 1 0 0 0 0-1-1 0 1-1-1 0 1-1 0 0 0-1 0-1-1 0 1-1-1-2 1-1-1-1 0 0 0 0 1-1-1 0 1-1-1 0 0 0 1 0 0-1-1 0 0-1 1 0 0 0 0-2-1 0 0-1 0 0 1 0 0-2-1-1 0 0 1-1-1 0 0-2 0 0 0 0 0 0 1 0 0 0-1-1 1-1-1-1 0 0 0 0 1-1 0 0 0-1-1 0 0 0 1 0 0-2 0 0 0 0-1-1 0 0 0 0 0 0 1 0 0-1-1 0 0 0 0 0 1-1-1-1 0-1 0 0 1-1 0 0-1-1 1-1 0 0 0-1-1-1 0-1 1 0 0-1-1 0 1 0-1 0 1-1-1 0 0 0 1-1 0 0 0 0 0-1-1-1 0 0 1 0 0-1-1 0 1 0 0 0 0-1-1 0 1-1-1 0 1-1-1 0 0 0 1-1 0-2 0-2-1 0 1 0 0 0 0-3 0 0 0-3 0 0 0-2-1 0 1 0 0-1-1-2 0 0 1 0-1 0 0-1 1-1-1 0 1-1-1-1 1 0 0-1-1 0 0-5 0-1 0-1 0-3 0-1 1-2-1 0 0-1 0-2 0-3 0-6 1-2-1-3 1 0 0-8 0 0 0-8-1-1 1-3 0-6 0-12 0-6-1-2 0-2 1-1-1-2 0-4 0-1 0-20 1-3 0-2 0-2-1-1 1-1-1-1 1 0 0-1-1-2 0-1 0-1 1 0-1-8 0-2 1-2-1-1 1-2-1-3 0 0 0-2 1-3 0 0-1-3 0-1 1-2-1 0 1-3-1-2 1-1-1-1 0-3 0 0 0-1 0-5 1-4-1-1 0-3 1-2 0-1 0-2-1-1 1-2-1-1 1-3 0-3 0-4-1-3 3 1-1 16 1 2-1 3 0 2 1 3-1 4 0 7 0 0 0 1 0 7 1 1-1 0 1 1-1 4 0 2 0 2 0 0 1 4-1 0 0 1 1 0 0 1-1 3 0 5 0 0 1 0 0 0 0 2-1 1 0 1 0 0 0 6 0 1 0 0 1 2-1 0 1 2-1 1 1 0 0 4-1 6 1 1 0 1-1 2 1 3 0 9 0 3 0 5 0 1 0 3-1 3 0 2 1 11-1 1 1 4-1 3 1 3-1 3 0 1 1 3-1 3 0 8 1 0 0 0 0 4 0 3 0 3 0 2-1 0 1 4 0 1 0 1 0 0 0 1-1 0 0 1 0 0 0 0 1 2 0 1 0 2-1 1 0 3 1 1-1 0 0 0 1 1 0 1-1 2 0 1 1 0 0 0 0 1 0 2-1 0 1 1-1 0 0 0 0 1 1 4-1 0 1 1-1 2 0 0 1 0 0 0 0 2-1 0 0 0 0 1 0 0 1 0-1 0 0 1 0 1 1 2 0 1 0 0 0 1 0 0 0 1-1 0 1 0 0 1-1 1 0 0 1 0-1 1 0 0 0 0 1 1-1 1 1 0 0 1-1 0 1 1-1 2 0 0 0 0 1 1-1 0 1 1 0 0-1 1 1 1 0 1 0 0 0 0 0 2-1 0 0 1 0 0 1 1-1 0 0 0 0 1 1 2 0 0 0 2 0 0 0 1-1 0 0 1 0 0 0 0 1 1 0 0 0 2-1 0 0 1 1 1 0 1-1 2 1 1 0 2-1 0 0 1 0 0 1 0 0 1 0 0 0 1 0 2 0 1 0 0 0 1 0 0 0 1 0 0 0 0 0 1-1 0 0 0 1 0 0 0 0 1-1 1 0 2 0 0 1 0 0 1-1 1 0 0 1 1-1 0 1 0 0 1 0 3-1 0 1 1-1 3 0 0 1 0 0 2 0 1-1 1 0 0 0 1 1 2-1 3 1 2 0 8 0 1-1 1 0 0 1 1-1 0 1 1-1 1 0 1 0 1 1 2-1 0 1 1-1 0 0 0 1 1 0 4-1 0 1 1-1 1 1 2 0 3-1 0 1 1 0 1-1 0 0 1 0 1 0 1 0 0 0 2 1 3-1 4 0 4 0 4 0 2 0 2 0 0 1 2-1 1 0 0 0 0 1 2-1 1 1 1 0 2-1 4 0 2 0 1 1 6 0 2 0 0 0 1 0 1 0 1 0 4-1 3 1 0 0 2-1 1 0 0 0 2 0 1 1 2 0 1-1 2 0 1 0 0 1 0-1 2 0 1 1 3-1 0 1 0-1 6 1 1-1 4 1 3 0 2-1 0 0 0 1 2 0 1 0 2 0 2-1 1 0 24 1 1-1 1 1 2-1 3 1 1 0 2 0 0 0 2-1 7 1 1-1 1 1 2 0 0 0 3-1 2 0 0 1 3 0 1-1 0 1 2 0 2-1 9 0 1 0 1 0 7 1 1-1 2 0 3 1 3 0 4 0 1-1 3 1 2 0 2 0 2-1 0 1 3 0 1 0 1 0 0 0 0 0 6 0 3 0 0 0-3 1-3 1-2-1-1 1-2-1 0 1-1 0-5-1-2 1-3-1-2 1-8-1-5 0-3 0-1 0-4 0 0 1-5 0-2 0-8 0-1-1-1 1-1 0-3 0-7 0 0 0-1 0-3-1 0 1-5 0-6-1-4 0-2 0 0 1-7-1-3 1-3 0 0 0-2-1-1 1-1-1 0 1-4-1-2 1-1 0-1-1-3 0-1 0 0 0-3 1-4-1-3 0 0 1-4 0-1 0-2-1-1 1-2-1 0 0-1 0 0 0 0 1-2-1-1 1-2 0-2 0-1 0-1-1-2 1-2-1-1 1-6 0-3 0-3-1-4 0 0 0-1 0-6 0-1 0-3 0-1 0-1 1-1-1 0 1-2-1-6 1-4 0-1-1-3 0 0 1-4 0-1 0-1-1-2 1-5-1-3 0-2 0-1 1-2-1-1 0-2 0-3 0 0 1-1 0-1-1-1 1-1 0 0 0-3 0-1 0-1 0-1-1-2 0-1 0-1 0 0 1-1 0-1-1 0 0-4 0 0 1-2 0-2-1 0 0 0 1-4-1-1 0-2 0-1 0-1 1-7-1-1 1-1-1-1 1-1 0 0 0 0 0-1-1-2 1-1 0-2-1 0 1-2-1-1 1-1-1 0 1-1-1 0 1-1 0 0 0-1-1-1 0-1 1 0 0-1-1 0 1 0-1 0 1-1-1 0 1-1-1 0 1-1 0-1-1 0 0-1 0 0 1-1 0-1-1 0 1-1 0-1 0-1-1 0 1-1-1-1 0 0 1-1 0-1-1 0 1 0 0 0 0-1-1 0 0 0 1-1-1 0 0 0 0-1 0 0 0 0 0 0 1 0 0-2 0 0 0 0 0 0 0-1 0-1-1 0 1 0 0-1 0-1-1 0 0 0 0 0 1-1 0 0-1 0 1-1 0-1-1 0 1 0 0-1-1 0 1-1 0 0 0 0 0-1-1 0 1-2 0-2-1-2 1 0 0-3-1 0 0-1 1-1 0-1 0-2 0-3 0 0 0-2-1 0 1-1-1 0 0 0 0-1 0-1 1 0 0-1 0-1 0-3-1 0 1-4 0 0 0-1-1-2 1-2-1 0 0-2 1 0-1-1 0 0 1-1-1 0 0-2 0 0 1 0-1-2 1-3-1 0 1 0 0-4-1-1 0-3 1-3-1-7 1-1 0-6-1-2 0-1 1 0-1-2 1-1 0-1-1-1 1 0 0-2-1-7 1-2 0-4 0-3 0-2-1 0 1-1 0-3 0-5 0-1-1-3 0-12 1-2 0-10-1-2 0-3 1 0 0-1 0-1-1-2 0-2 0-1 1-1-1-3 1-3-1-1 1-2 0-2 0-1-1 0 1 0 0-1-1-1 0 0 0-3 0 0 0-2 0 0 0 0 1-1 0-1-1-1 1-3-1-4 0-6 0-2 1-4 0-1 0-1-1-3 1-2-1 0 1-4 0-1 0-7-1-2 0-1 0-11 2 9 0 1 0 3 0 6 0 4 1 3-1 3 0 2 0 0 0 3 1 0 0 0-1 1 0 0 1 0 0 2 0 0 0 2-1 2 0 5 1 1 0 1-1 3 0 1 0 1 1 1 0 3-1 1 1 3-1 0 1 2-1 2 1 1 0 1 0 0 0 1-1 1 0 0 1 1 0 1-1 0 0 1 1 2 0 1-1 0 1 2 0 1 0 1-1 0 0 4 0 0 1 3-1 0 0 3 1 0-1 8 0 1 1 0-1 9 0 0 0 2 0 1 0 1 1 3 0 4-1 0 0 0 0 8 1 1 0 5-1 1 1 2-1 3 1 0 0 3-1 2 0 0 1 5-1 3 0 8 1 0 0 1-1 3 0 1 0 4 0 4 0 0 0 0 1 3-1 5 1 1 0 4-1 0 1 0 0 1-1 4 0 2 1 2 0 1-1 3 0 3 0 1 1 1-1 0 1 1 0 0 0 5-1 0 1 3 0 2-1 0 1 0-1 1 0 0 1 1-1 1 0 1 1 0-1 2 0 0 1 0 0 1-1 0 1 1 0 0 0 1-1 1 0 0 1 3-1 0 1 2-1 0 1 0 0 2-1 0 1 0 0 1-1 0 1 0 0 0 0 1-1 0 1 1-1 0 0 0 1 1 0 1-1 1 0 0 0 1 0 0 0 0 1 1-1 1 0 0 1 1-1 1 1 0 0 1-1 0 1 1-1 0 0 1 0 0 0 1 1 0 0 1 0 2-1 2 1 1 0 1-1 0 1 0 0 1-1 2 0 1 0 1 0 0 0 0 0 0 1 0-1 0 1 0 0 1-1 0 1 1 0 2-1 1 0 0 0 0 1 1-1 1 1 1-1 0 1 0 0 1-1 0 1 1-1 0 0 1 0 0 0 1 0 0 1 1 0 0 0 2-1 0 1 1-1 0 0 2 1 0 0 3 0 1-1 0 1 1 0 1-1 0 0 1 0 1 1 2-1 0 0 0 0 1 0 0 1 2 0 0-1 0 1 1 0 1-1 3 0 0 0 3 1 2 0 0 0 1-1 0 0 2 0 0 1 7-1 4 1 6 0 4-1 1 1 10 0 7 0 7-1 4 1 2 0 0 0 6 0 2-1 4 1 3 0 4-1 0 1 3 0 2 0 1-1 2 1 1-1 1 0 3 0 0 1 3 0 3-1 0 0 0 1 2-1 2 1 1-1 2 1 0 0 4 0 0 0 4-1 0 0 0 0 3 1 2 0 2 0 2-1 1 0 3 0 9 1 0 0 2 0 3-1 1 0 2 1 13 0 2 0 1 0 6-1 2 1 3 0 9 0 2-1 7 0 2 0 0 1 4 0 4-1 2 0 0 0 2 0 7 1 2-1 4 0 1 1 1-1 2 1 5-1 1 1 3-1 2 0 2 0 0 1 1 0 5 0 0 0 1 0 1 0 3-1 1 1 2-1 1 0 3 1-1 1 0 1-1-1-4 0-3 0-4 0-1 1-17-1-13 0-2 1 0 0-2 0-3-1-7 1-2 0-2-1-7 1 0-1-1 0-4 1-6-1 0 0-1 1 0 0-2-1 0 0-2 0-3 1-4 0-3-1-1 1-2 0-4-1-1 0-5 0 0 0 0 1-2 0-8 0-1-1-7 0-3 0-1 1 0 0-4-1 0 1-2-1-2 0-1 0 0 0 0 1-1-1 0 1-3 0-1-1-2 0-1 0-4 0 0 1-1-1-1 0-4 1-2-1-2 0-2 0-3 0 0 0-1 0 0 1-3-1-1 0-7 0 0 1-4 0-1-1-1 0-4 1-7-1-3 0-7 1-2-1-7 1-1-1-4 0-1 1-1-1 0 1-3-1-2 0-2 1-1-1-14 0-4 1 0 0-1-1-1 0-2 0 0 1-2-1 0 0 0 0 0 0-1 0-2 1-1 0-1-1 0 0 0 0-2 1 0 0-3 0-3 0-1 0-1-1 0 1-1 0-2 0 0 0-1-1 0 1-1 0-1 0 0 0-3-1-1 0-1 1-3-1-1 1-1 0 0 0-1 0-1-1-1 0 0 0 0 1-1-1 0 0-1 0 0 0 0 1-1-1-2 0-1 1-2-1 0 1-2-1-1 0-1 0 0 0-1 0 0 1-1 0-2-1 0 0 0 1 0 0-1 0-1-1-1 0 0 0 0 0-1 0 0 1-2-1-2 1-1 0-1 0 0 0-1 0 0 0-1 0 0 0-1-1-1 0 0 1 0 0-1-1 0 0-2 0 0 0 0 1 0 0-1-1-1 0-1 1 0 0 0 0-1-1-2 0-2 0 0 1-1-1 0 1 0 0-1 0-1-1-2 0 0 1 0 0-1-1-2 1-1 0-1-1 0 0-1 0-2 1 0-1-1 1 0 0-1-1-1 1-2-1-3 1-1-1-1 0 0 0-2 0 0 1 0 0-1-1-2 0-1 0-1 0-2 0-1 0-3 0-2 0-3 1-1 0 0 0-1 0-2-1-1 1-1-1 0 0-2 1-5 0-4 0-1-1-6 1-1-1-1 0-1 1 0 0-5-1-1 1-6 0-8 0-2 0-1 0-2 0-1 0-2 0-3-1-9 0-1 1-1 0-2-1-2 0-1 0-4 1-2-1-3 0 0 1-1 0-1 0-5-1-8 0 0 0-1 1-2 0-1 0-1 0-1-1-1 0-1 0 0 1-2 0 0 0-1 0-1-1 0 0-2 0 0 0-1 1 0 0-1 0-3-1-1 0 0 1 0 0-1 0-5-1-1 0 0 1-6-1-1 1-2-1-2 0-3 0-1 0-2 0-2 1 0 0-6-1 0 0-2 0-3 1-2-1-9 0 0 1-8 0-1 2 4 0 0 0 9 0 0 0 3-1 2 1 3-1 5 1 1-1 6 0 0 1 0 0 5 0 3 0 3-1 0 1 2 0 3-1 2 0 1 0 1 1 0 0 0 0 4-1 0 1 2-1 0 0 3 0 0 1 1 0 6-1 0 1 0 0 2-1 1 0 2 0 1 1 1-1 0 1 2 0 3 0 1 0 2 0 1-1 3 0 0 0 1 1 2 0 0 0 1-1 8 1 5 0 8-1 1 1 1 0 2 0 3-1 0 1 0 0 2 0 2-1 6 1 1-1 4 1 0-1 1 0 5 1 1 0 1-1 2 0 1 1 4 0 2-1 4 0 4 1 1 0 2-1 2 1 2-1 10 0 1 1 1 0 4 0 4-1 2 1 3 0 2-1 1 0 4 1 2 0 0 0 4-1 1 0 1 1 2-1 0 1 0-1 0 1 1-1 4 0 0 1 2 0 0 0 2-1 2 1 1-1 1 0 0 0 1 1 3 0 0 0 0 0 1-1 1 0 0 1 1-1 1 1 2 0 0 0 0 0 1-1 0 1 1 0 1-1 1 0 0 0 0 1 0 0 2-1 0 1 1 0 0 0 1 0 0 0 1 0 0 0 0-1 2 1 1-1 1 0 0 1 1 0 1-1 0 1 0 0 1-1 0 1 0 0 2-1 1 1 3-1 1 1 1 0 0 0 1-1 2 0 0 1 1 0 3-1 2 1 1-1 3 0 0 1 2-1 1 0 0 1 2-1 1 0 2 0 0 0 0 1 0-1 2 0 0 0 2 0 1 0 0 0 2 1 1-1 0 0 5 1 0 0 1 0 2-1 0 1 3 0 0 0 1 0 0-1 0 1 1 0 2 0 4 0 0 0 1-1 4 0 1 1 1-1 1 0 2 1 1-1 0 1 1 0 2-1 6 0 2 0 3 0 0 1 8-1 1 0 0 1 3-1 3 1 0 0 7-1 2 0 4 0 3 1 2 0 2 0 9-1 2 1 1-1 4 1 0 0 2 0 0 0 3-1 1 0 0 0 0 1 0 0 1-1 1 0 1 1 1-1 4 0 2 0 0 0 1 0 0 0 0 0 1 0 6 1 0 0 2-1 0 1 0 0 1-1 1 0 6 1 0 0 1 0 3 0 3-1 1 0 0 0 0 1 4-1 3 1 1-1 1 0 2 1 4-1 20 1 5 0 1 0 0 0 0 0 1-1 0 1 9 0 2 0 2-1 1 0 2 0 0 1 2-1 1 0 1 0 4 1 1 0 0 0 3-1 1 0 0 1 2 0 3 0 3-1 5 1 1-1 5 0 3 0 8 1 4-1 10 0 2 0 2 1 4 2-3-1-1 1-2-1-2 0-9 1-5 0-1-1 0 0-1 0-3 1 0 0-4-1-4 1-4-1-4 0-9 0-1 1-1 0-6 0 0 0-11-1-2 0-1 0 0 1-2-1 0 1-1-1-4 0-1 0-1 1-1-1 0 1-2 0-1-1-6 0 0 1-2-1-3 1-1-1-3 1 0 0-1 0-6 0 0-1-1 1 0 0-5-1-1 0-2 1 0-1-1 0-4 1 0 0-1 0-5-1-2 1 0 0-4-1-3 1 0-1-1 0-2 0-1 1-1-1-4 1 0 0-1-1-3 0 0 1 0 0-1-1 0 1-2-1-3 1 0-1-3 0 0 1-2-1-3 0 0 0 0 1-2-1-3 1 0 0-1-1 0 0-1 1-2 0-3 0-1-1-7 0 0 0-3 1-1-1-1 0 0 1-4 0-1-1-3 1-4 0-1-1 0 0-1 0-2 1-7 0-2-1-2 0 0 1-4-1-3 0 0 1 0 0-3 0-2-1 0 1-2-1-1 0-1 0-2 1-1-1-1 1 0 0-1 0-4-1-3 1 0 0-5-1-6 0-1 1-3-1-4 1-1-1-1 0 0 0 0 1-2 0-1-1 0 1-1-1 0 0-1 1-1-1 0 0 0 1-1 0-1-1-1 1 0 0-1-1 0 0 0 1-2-1-1 0-1 0-2 0-1 1 0 0-1-1 0 1 0 0 0 0 0 0-2-1 0 1-1 0-1-1 0 1 0 0 0 0-1 0-1 0 0 0-1 0-2 0 0 0-1-1 0 0 0 0 0 0 0 0-1 0 0 0 0 1 0-1 0 1-1-1 0 1 0 0-1-1 0 1-1-1 0 0 0 0-1 1-1-1 0 1-4-1-1 0 0 1 0 0-1 0-1-1 0 1-4 0 0 0-2-1 0 1-1-1 0 0 0 0-1 1-1-1-1 0 0 0 0 0-2 1-1 0-1-1-1 0 0 0-2 0 0 1-1-1 0 1-1 0-1-1-2 0-1 0-1 1-1-1 0 1-1-1 0 0-1 0-2 0 0 1 0 0-1 0-1 0 0 0-4 0-1-1 0 0 0 1-3 0 0 0-2 0-2 0-3 0-1-1-1 1 0 0-1-1-2 0-1 1-3-1-1 1-2-1 0 0-1 1 0-1-1 1-1-1-6 0-6 1-3 0-2-1-1 0-2 1-2 0-1 0-1-1-2 1-3 0-6 0-1-1-4 0-6 1-4 0-1-1-2 0 0 0-1 0-5 0-1 0-2 0-2 0 0 1-4-1-1 1-1-1 0 1-2-1-1 0-2 1-3 0-6-1-3 1-4 0-1-1-1 0 0 0-4 0 0 0-3 1-1-1-1 1 0-1-1 1-1-1-1 0-1 1-1-1 0 1-1-1-1 0-1 0-2 0 0 0-1 0-1 1-4 0-3 0-1 0-1-1 0 1-1 0-3-1-5 0-1 0-3 0 0 0-12 1-7-1 0 1-4 0-2-1-3 0-1 1 0 0-5-1-1 0-1 1-5 2 1 0 2-1 3 1 3-1 0 0 2 0 1 0 6 0 1 0 2 0 0 1 3 0 0 0 1-1 3 1 0 0 3-1 4 1 0 0 1 0 2-1 3 1 0 0 2 0 2 0 4 0 1-1 0 0 0 1 0 0 1-1 1 0 4 1 1-1 1 1 2-1 3 0 3 1 0 0 2-1 1 0 0 0 0 1 3 0 2 0 1-1 6 0 0 1 0 0 1-1 0 1 5 0 1-1 8 0 14 0 3 1 1 0 5-1 3 1 2 0 2 0 2-1 5 0 0 1 1-1 4 0 3 0 0 1 2-1 6 0 3 1 3-1 0 0 4 0 8 0 1 0 0 1 2 0 3 0 3-1 1 1 4 0 3-1 1 0 0 1 3 0 1-1 0 1 0-1 0 1 4 0 1-1 0 0 0 0 1 0 0 0 0 0 1 0 1 0 1 1 6-1 0 0 1 0 3 0 0 0 0 1 1-1 0 0 1 0 1 0 0 0 1 1 0-1 0 1 0 0 1-1 1 1 1-1 0 1 0 0 2 0 2 0 1-1 0 1 0 0 3-1 1 0 1 0 0 1 2-1 0 1 2-1 1 1 0 0 0 0 1 0 0-1 0 1 0 0 1 0 1 0 2 0 0-1 2 0 1 0 1 0 1 1 2-1 2 1 1 0 1-1 0 0 0 1 2 0 0 0 2 0 1 0 1-1 0 1 1-1 1 0 0 0 1 0 0 1 0 0 1 0 0 0 1-1 0 1 1-1 0 0 0 0 1 1 3-1 0 0 0 1 1 0 1-1 0 0 0 0 1 1 1-1 0 1 2-1 0 0 2 0 0 0 2 1 0 0 5-1 0 0 0 1 0-1 2 0 0 1 1-1 2 0 1 0 0 1 1 0 1-1 0 1 0 0 1 0 3 0 3-1 0 1 1-1 2 0 0 1 2 0 1-1 0 1 2-1 1 0 6 1 1-1 1 1 1-1 1 0 0 1 1-1 1 1 2-1 0 1 4 0 0 0 3 0 0 0 3-1 0 0 4 1 1 0 3-1 8 0 5 1 1-1 6 0 2 0 0 1 2 0 5-1 0 1 3-1 0 1 3-1 1 1 0 0 3-1 2 0 3 1 1-1 0 1 2-1 0 1 5-1 0 1 2 0 1-1 1 0 0 1 2-1 0 0 0 1 3-1 1 0 0 1 2-1 0 1 1-1 2 1 1 0 4-1 2 1 2-1 1 0 3 1 4-1 2 0 5 1 6 0 4-1 0 1 4 0 1 0 0 0 6-1 3 1 0 0 2-1 0 1 1-1 7 0 1 0 0 0 2 0 0 0 3 1 1-1 4 0 2 0 4 0 1 0 1 0 5 0 5 0 0 1 1 0 6 0 8 0 7 0 2 0 5 0 4 0 0 0 3-1 0 1 8-1 2 1 6-1 2 0 2 3-3-1-3 0-13 0-3 0-4 1-2 0-3-1-9 1-1 0-6 0-1 0-2 0-5 0-3 0-2 0-1-1-2 1-3 0-3 0 0 0-2-1 0 1-1-1 0 1-3-1-3 0 0 1-1-1-3 1-1-1 0 0-7 1-3-1-21 0-3 0-1 0-1 0-1 0-5 1 0 0-1 0-1-1 0 0-1 1-1-1 0 0 0 1-2 0-1 0-3 0 0 0-2-1-1 1-3 0 0-1-2 0-1 1 0 0-3-1 0 1 0 0-1-1 0 1-2-1 0 1-1-1-2 0 0 1-1-1-2 1 0 0-2 0-3 0-3-1-4 0 0 0-5 1 0 0-8 0-2 0-1-1-2 1-2 0-3-1-3 0-4 1-5-1-3 0-3 0-1 1 0 0-1-1-5 1-2 0-4-1 0 1-5-1 0 1-2-1-1 0-1 1-1 0-4-1-3 1-2 0-1 0 0 0-1 0-4-1-1 1-1-1 0 1 0 0-1 0-1-1-3 0-1 1-2-1-2 0 0 1 0-1 0 1-2 0-1-1-3 1-4 0-1-1-1 0-2 0 0 0 0 1-1-1 0 1-1 0 0 0-1-1-1 0-1 0 0 1-1-1-1 1-4-1 0 0-1 0 0 1-1 0-1 0-1-1 0 0 0 0 0 1-2 0 0-1-1 0-1 0 0 1-1 0-4-1 0 1-3 0-1-1-2 0 0 1-2 0-2 0-1-1 0 1 0 0-1 0-1-1 0 1-1-1-3 0-1 0 0 1-2 0-1 0-5 0-1 0-1 0 0 0-1 0 0-1-5 1-2-1 0 0-1 1 0 0-1 0-1-1 0 0 0 0-1 1-5-1-2 1 0 0-2 0-2 0-1-1 0 0 0 1-2-1-1 1-3-1-3 1-1-1-1 1-2-1-3 1-1-1 0 1-4-1-1 0-3 0-9 0-1 1-2 0-1-1-7 1-3 0-3 0-1-1-1 1-2-1-4 1-5 0-5 0-2 0-2 0-1-1-1 1-3-1-9 0 0 1-5 0-1 0-3 0-1-1-2 1 0 0-10 0-5-1-4 0-1 1-3-1-2 0 0 0-1 0 0 0-1 1-1-1-1 1-2 0-1 0-1 0-1 0-3 0-1-1 0 1-1-1 0 1-3 0-3 0-3-1-1 1-4 0-2 0-1-1-2 1-1 0-6-1-2 0 0 1-4 0-3-1 0 0-2 0 0 0-1 0-4 0-1 0 0 1-2-1-1 0 0 1-7-1-3 0 0 0 0 2 0 1 5-1 4 0 1 1 7 0 0 0 1 0 4-1 1 1 1 0 1-1 1 0 0 1 3 0 8-1 2 0 2 1 1-1 0 1 0 0 2-1 2 0 0 1 1-1 4 0 2 0 0 0 0 0 0 0 1 0 0 1 1 0 1 0 3-1 1 1 1 0 1-1 2 1 1 0 2-1 2 0 1 0 0 0 1 0 1 0 2 1 3 0 1 0 0 0 1 0 1-1 3 0 0 1 1 0 2-1 4 1 1-1 1 1 1-1 0 0 5 0 2 1 2-1 0 0 3 1 1 0 3-1 3 1 6-1 0 1 4-1 3 0 4 0 1 1 11-1 1 0 0 1 1-1 3 1 1 0 10 0 5 0 6-1 0 1 1 0 2-1 4 0 0 1 2 0 0 0 1-1 1 1 1-1 0 0 4 0 5 0 0 1 2-1 9 1 1-1 1 0 0 0 6 0 0 0 1 0 1 1 0 0 0 0 1-1 1 0 1 0 0 1 1 0 3-1 1 0 2 0 1 0 1 0 2 1 4-1 0 1 2 0 1-1 2 0 0 0 2 1 1 0 1-1 0 0 0 1 2 0 0 0 3 0 0-1 1 0 0 0 1 0 2 0 0 1 1-1 1 0 0 1 2 0 1 0 2-1 2 0 2 1 0-1 1 1 2-1 5 0 0 1 0 0 2-1 1 0 1 0 1 0 0 1 1 0 1-1 0 0 1 1 1-1 3 1 1-1 2 0 1 0 1 0 0 0 0 1 3 0 4 0 2 0 3 0 6 0 2 0 1 0 7 0 1-1 4 1 0 0 5 0 0 0 1-1 3 1 3 0 4-1 5 1 1 0 9-1 0 0 10 1 2 0 3-1 1 0 1 0 2 0 1 0 1 1 0 0 4-1 3 0 2 0 0 0 0 1 2-1 4 1 0 0 3-1 5 0 1 0 6 0 0 0 1 1 4 0 2 0 1-1 0 1 2 0 1 0 4-1 2 1 1-1 2 0 4 0 1 0 1 0 0 1 6-1 10 1 1-1 5 0 0 1 0 0 1 0 3 0 1-1 0 1 0 0 4-1 3 0 0 1 1-1 1 1 1 0 1 0 3-1 2 0 1 0 0 1 3 0 1 0 4-1 0 1 9 0 2-1 2 0 2 1 1-1 3 1 1 0 2-1 4 1 4-1 0 1 1 0 1 0 3-1 3 1 3-1 0 1 4-1 1 1 8 0 5 0 2-1 7 0 0 3-11 0-1-1-5 0-1 0-7 0 0 1-1 0-3 0 0 0-2 0-1-1 0 1-4 0-5-1-4 1-10-1-3 1-10-1-1 1-1-1 0 0 0 1-3-1-3 1 0 0-4 0-1-1 0 0-1 1-2 0-6-1 0 0-2 0 0 0-1 0-2 1-2-1-2 1 0 0-1 0-2-1 0 0-1 0-2 0 0 0-1 0-1 1-1-1-3 0-9 0-2 0-2 0-1 1 0 0-1-1-5 1-1-1-2 0-7 0-7 1 0 0-5-1 0 0-1 1-1 0-1 0-3-1 0 0-1 1 0 0-1-1-2 1-4-1-2 0-1 1 0-1 0 1-7-1-2 0-1 0 0 1-1 0-8 0 0 0 0 0-1-1 0 1-1 0-5-1-8 1-1 0 0 0-4 0 0 0-5-1-2 0-3 0-1 1-4-1-2 1-2 0 0-1-3 1-3 0-6 0 0 0-3-1-3 0-1 0-2 1-2 0-3-1 0 0-1 0 0 1-2-1-2 0-1 0-1 0 0 1-1-1 0 0-2 1-3-1 0 0-6 0 0 0 0 1-1-1 0 1-1-1 0 0-2 0-1 1 0 0-3-1-2 1 0 0-4-1 0 1-3-1-2 1-4-1 0 1-2 0-1 0-2 0 0 0-2-1 0 1-1 0-1-1-3 0 0 0 0 0-1 0-1 1-2 0-1-1 0 1-1-1 0 1 0 0-1 0-5-1-2 1-3-1-1 0-2 0 0 1-1 0-2-1-2 0-3 0-1 0-1 0-1 1-3 0-2-1-1 0-4 0-2 0-1 1-4-1-1 0 0 0-3 0 0 1-3 0-2 0-2-1-1 1-11 0-1 0 0 0-7 0-1 0 0 0-4-1-3 1-2 0-1-1-2 1-1-1 0 1-3 0 0 0-6 0-4-1-4 0-1 1-2 0-4-1-1 1-2-1-4 1-3 0-6 0-3-1-3 1-1 0-3-1-4 0-4 1-2-1-3 0-1 0-1 1-4-1-1 0 0 0-1 0-1 0 0 0-1 0 0 1-1 0 0 0-1 0 0 0-2 0-1 0-1 0-2 0 0 0 0-1-1 0-1 0-1 0 0 1-1-1 0 0 0 1-1 0-1-1 0 0-1 1-1-1 0 1-1-1-1 0 0 0-4 0-3 1 0 0-2-1-2 0-3 1-1-1-2 0 0 0-1 1-3-1-6 1-6-1-1 0-2 1-1 0-1 0-2 0 0-1-2 0-8 1 0 1 5 0 2 1 3-1 0 1 2-1 1 1 5-1 0 1 2 0 11-1 0 1 5-1 1 1 3-1 0 1 2-1 1 0 1 1 2-1 0 1 1 0 1 0 2-1 0 1 1-1 0 0 1 0 1 0 2 0 1 0 2 1 1 0 5-1 0 1 5-1 1 0 9 0 0 1 1-1 2 0 1 0 2 0 4 0 4 1 0 0 1-1 2 1 3-1 1 0 6 1 5 0 1 0 2-1 2 0 3 1 2 0 15 0 4-1 4 1 1 0 1-1 3 1 1 0 3 0 1 0 4 0 1-1 0 0 5 0 0 0 0 1 1-1 0 1 4 0 4 0 4-1 1 0 0 0 1 0 1 0 4 0 4 0 1 0 1 0 0 1 1 0 2-1 4 0 0 1 4-1 2 1 0-1 1 1 0 0 2 0 1-1 4 0 0 0 0 1 1 0 1-1 1 1 0 0 0 0 1 0 1-1 0 0 0 0 5 1 1 0 3 0 1 0 2-1 1 0 0 0 1 0 1 1 1 0 0 0 0 0 3 0 2-1 3 1 1-1 0 0 0 1 0 0 1-1 0 0 1 0 1 0 1 0 0 0 1 1 4 0 2-1 7 0 0 0 0 0 0 1 1-1 1 0 0 1 2-1 2 0 1 1 1-1 0 1 0 0 1 0 0 0 0 0 1 0 3-1 2 0 1 0 0 1 1-1 2 1 1-1 0 1 1-1 4 1 2 0 0-1 4 1 1 0 3 0 4-1 2 1 2-1 9 1 1-1 1 0 1 0 0 1 6 0 2 0 0 0 2-1 2 0 0 0 3 0 2 1 4 0 3 0 2-1 3 0 2 1 3 0 1 0 2-1 5 0 3 0 8 0 4 0 1 0 2 1 1 0 4-1 2 0 10 1 2-1 3 0 0 0 4 1 0-1 2 0 0 0 0 1 4 0 1-1 0 1 2 0 2 0 3-1 1 0 1 0 4 0 3 0 2 0 3 1 2-1 6 1 1 0 7 0 3 0 6-1 5 1 6-1 10 0 0 0 5 1 8-1 3 0 4 0 3 0 0 0 3 1 0-1 4 0 2 1 1 0 2 0 1-1 2 0 0 1 0 0 3-1 3 0 1 1 3-1 2 1 1-1 4 0 2 1 2 0 8 0 2 0-2 1-2 1-3 0-1-1-1 1-1-1-2 0 0 1-1 0-10-1-2 0-2 0-3 1-8 0-1-1-4 1-9-1-1 0-1 0-1 0 0 1-10 0-3-1-2 0-4 1-5-1-3 1-3-1 0 0-1 0-2 0-2 0 0 1-5 0-3-1-1 1 0 0 0 0-2-1-2 1-1 0-4 0-6 0-3-1-1 0-2 1 0-1-2 0-1 1-1 0-5-1-1 1-1-1-2 1-2-1 0 1-4-1 0 1-2-1 0 1-3-1-1 0-4 1-1-1-7 1-5-1-2 0-7 0-3 1 0 0-2-1-9 0-3 1-1-1-3 0 0 1-2-1-3 0-2 0-1 0-5 0-2 0-6 1-5-1-1 1-1 0-1 0-4-1 0 1-4-1-1 0-5 1-2 0 0-1-2 1-2 0-3-1-1 0-1 0 0 0-3 1-3-1-5 1-2-1-2 1 0-1-2 0 0 0-5 0 0 1 0 0-1-1-1 1 0-1 0 1-2 0 0-1-1 0 0 1-4-1-1 0-1 0-1 1-2-1-1 0 0 1-1-1-1 0 0 1-2-1-1 0-5 0-4 1-3-1-3 1-1 0-3-1 0 0-1 1-1 0-2 0-6 0-3 0 0 0-2-1-2 0-1 0-1 0-5 1-6 0-4-1-4 0-1 1-1-1 0 1-1 0-13-1 0 1-5-1-1 0-1 0 0 1 0 0-7 0 0 0-1 0-2 0 0 0-16-1 0 0-1 1-1-1-4 1-1-1-4 0-7 0-4 1-1 0-5-1-2 0-4 0-5 0-4 0-12 1 0 0-1-1-2 0-1 0 0 1-1 0-1 0-1 0-6-1-1 1-7-1-2 0 0 0-2 0-3 0-1 0 0 0-2 0 0 1-2-1-1 1 0 0-1 0-3-1-1 0-4 0-1 0-1 0-1 1-1-1 0 0 0 1-1 0-1-1-1 1-1-1 0 1-3 0-2-1-1 1-2-1-3 1 0 0-7 0 0 0-5-1-2 0-8 0-1 1-2-1 0 0 0 1-2 0-1-1-1 1-1 0 2 2 1 0 1-1 2 0 3 1 1-1 2 0 1 1 3 0 3-1 1 1 1 0 2-1 1 0 5 0 0 1 2 0 4-1 1 1 0 0 4-1 1 0 7 0 0 1 2-1 0 1 2-1 1 1 1 0 1-1 0 1 2 0 1-1 1 1 3-1 1 0 3 0 0 1 1-1 0 1 1-1 1 0 2 0 0 1 2 0 3-1 0 0 0 0 0 1 4 0 8-1 0 1 3-1 7 0 9 0 1 1 0 0 1 0 0 0 6 0 3 0 1-1 7 1 4-1 2 0 0 1 1-1 2 0 1 1 2-1 0 1 1 0 4-1 3 1 1 0 1-1 0 1 4-1 5 1 3 0 1-1 5 1 1 0 0 0 1 0 0 0 1 0 6-1 1 0 2 1 2-1 2 0 0 0 2 0 0 0 1 0 0 1 1 0 2 0 1 0 2-1 4 1 1-1 11 0 0 1 1-1 2 0 0 1 3 0 3 0 3-1 2 1 2-1 0 1 1-1 0 1 1 0 2 0 1-1 1 0 3 1 1-1 2 0 2 1 0 0 0 0 1 0 2 0 0 0 3-1 1 1 2-1 0 1 2-1 4 0 0 0 1 0 2 1 0 0 1-1 1 0 1 0 1 0 0 1 2-1 1 0 0 1 2-1 2 0 0 0 4 1 1 0 4-1 5 1 4 0 4 0 3 0 6-1 2 0 1 1 8 0 1-1 2 1 3-1 5 1 2 0 2 0 0 0 2 0 0 0 1-1 0 1 20 0 2-1 1 0 3 0 1 1 1 0 3-1 5 0 5 1 1 0 8-1 0 1 3-1 2 0 4 1 5 0 3 0 4 0 0-1 7 0 15 0 11 0 4 1 7 0 2-1 4 0 0 0 3 1 0 0 1 0 2-1 2 1 0 0 2-1 7 0 2 0 0 0 4 0 4 0 1 0 10 0 3 0 0 0 0 1 3 0 3 0 4-1 1 1 1-1 2 1 4-1 0 0 2 0 1 1 3-1 6 0 9 0 0 0 6 1 4-1 1 1 1 0 1-1 1 2-1 0-7 0-12 1-15-1-3 1-3 0-13 0-8-1-9 1-2-1 0 1-1 0 0 0-4-1-2 1-7-1-5 0-3 0-2 1-1-1 0 1-9 0-7 0-1-1-1 1-4-1-1 1-5 0-3 0-1-1-2 0-3 0 0 1-1-1-1 0-1 0 0 1-1 0-9 0 0 0 0-1-1 0-2 0-5 1-6-1-3 0-2 0-1 0-1 0-3 0 0 1-13 0 0 0-6-1-2 1-8-1-5 0-5 0-3 0-4 0-5 0-1 1-6-1-1 0 0 1-2-1 0 1 0 0-8 0 0 0-2-1 0 0-2 0 0 1-3 0-2-1-1 1-2-1 0 1-4 0-4-1 0 1-3-1-4 1 0-1-4 0-2 1 0 0-1 0-1 0-8 0-2 0-2 0-4-1-2 1-1 0-1 0-4 0-2 0-1-1 0 0 0 1-1 0-1 0-2 0-3 0-5-1-7 1 0-1-3 1-5 0-2-1-5 1-3 0-1-1-2 1-2 0-2-1-1 1-1 0-3 0-1 0-2 0-1 0-1-1-2 0-2 0-9 1-1-1-1 1-2-1 0 1-2-1-1 0-2 1-1-1-6 0-2 0-4 1 0 0-5 0-2 0-2 0-1 0-2 0-2-1-2 1-2 0-5 0-1 0-1 0-1 0-5 0-4-1-3 1-1 0-1 0-8-1-6 1-1 0-1-1-1 1-2 0-1 0-2 0-1 0 0 0-2-1-1 1 0 0 0-1-2 0-1 0-5 0-1 1-1-1-1 1 0 0 0 0-4 0-2-1-2 1-1-1 0 0-1 0 0 0-1 1-2 0-4-1-1 0-2 0 0 1-1 0-1-1 0 0-1 0 0 1-1-1 0 1-1-1-1 1-1 0-1 0-2 0-1 0-2-1-1 0 0 1-4-1-2 0-4 1-2-1-9 1-3-1-2 0-1 1-5-1-1 1-2-1-1 3 3 0 0-1 2 0 4 0 1 1 1-1 5 1 3-1 0 0 15 1 1-1 2 0 3 1 0 0 2 0 1 0 0 0 4-1 4 0 0 1 0 0 5-1 0 0 0 1 1-1 1 1 2 0 4-1 2 0 2 0 2 0 1 1 0 0 1-1 0 1 1-1 2 1 1-1 0 0 0 0 1 1 1 0 1-1 0 0 0 1 1 0 2-1 1 0 0 1 1-1 0 1 1-1 0 1 1-1 0 1 2-1 0 0 0 1 1 0 3 0 2 0 3-1 1 0 2 0 1 1 5-1 1 1 1 0 2 0 1 0 1-1 0 1 5-1 0 0 0 1 1-1 12 1 1 0 3 0 3-1 5 0 2 0 2 0 2 1 0 0 1-1 1 0 1 1 1 0 5 0 0 0 1 0 3-1 0 0 2 1 0 0 0 0 1 0 5 0 2 0 6 0 5-1 1 1 8 0 2-1 2 1 1-1 1 0 0 0 2 0 4 1 14 0 3-1 1 0 3 1 4-1 0 0 4 0 2 0 0 1 3-1 0 0 1 1 1-1 1 0 3 0 3 0 0 1 0 0 2-1 1 1 2-1 10 0 0 1 1 0 6-1 0 1 0 0 2-1 0 1 3 0 1-1 3 0 2 1 1-1 0 1 1 0 2 0 6 0 1 0 2 0 2 0 1-1 5 0 4 1 1 0 0-1 3 1 2 0 0 0 2 0 2 0 1-1 1 0 3 1 1-1 1 0 20 0 2 0 0 1 2-1 2 0 0 1 3 0 3 0 2 0 4 0 1-1 2 1 8-1 6 1 13-1 0 0 1 0 4 0 1 1 0 0 1 0 3-1 0 1 3 0 5-1 4 1 13-1 5 0 5 0 1 1 7-1 7 0 1 0 1 0 1 0 3 1 4-1 1 0 2 0 5 0 2 1 3 0 5 0 2-1 12 0 3 0 1 0 6 1 3 0 2 0 1-1 4 0 4 0 4 1 5-1 6 1 4-1 2 0 3 2-1 1 0 0-5-1-4 0-7 0 0 1-1 0-1-1-6 1-2 0-2-1-3 1-3 0-1 0-2-1 0 0-8 1-7-1-2 1-3 0-4-1 0 1-2 0-7 0-2 0 0-1-6 0-2 1-10-1-3 0-3 1-7 0-5-1-1 0-2 0-5 0-2 0-5 1-2-1-7 1-7 0-1-1 0 1-8-1-3 0 0 0 0 0-5 1 0 0-3-1 0 1-1-1-3 1-4-1-4 1-5-1-1 0-3 0 0 1-2 0-8-1-2 0-3 0-5 1 0 0-4 0-6-1 0 0-3 1-1 0-6-1-3 0-1 1-5-1-2 0-1 1-3-1-1 0-1 0 0 0 0 1-4-1-1 1-1 0-1-1-3 1-1 0-1-1 0 1-10 0-1-1-2 1 0 0-1-1-1 0 0 1 0 0-4 0-3 0-4 0-1-1 0 0-2 0-4 1-1 0-5-1-2 0-4 1-1 0-5-1 0 1-2 0-2-1-2 0-1 0 0 1 0 0-1-1 0 1-1 0-1-1 0 1-2 0-2-1-2 0 0 0 0 1-1-1-1 1-3 0 0 0-1 0-2 0-9 0-6 0-7-1-1 1-12 0-1-1 0 1-1-1-1 0-3 0-2 0-1 0-2 0-1 1-2-1-2 0 0 1-3-1 0 1-8 0-1-1-3 0-2 0-2 1-2 0-1-1-4 0-2 0-2 0 0 1-1 0-1-1-1 0-1 1-12 0-1 0 0 0-1-1-1 0-1 0-3 1-1-1-5 1-7 0-1-1-1 0-1 0-1 1-2-1-2 0-2 1-2 0-1-1-4 1-3-1-2 0-1 0 0 0-1 0 0 1-1 0-1 0-2-1-1 1-2-1-2 0-1 0-2 1-1 0-1-1-5 1-2 0-2 0-1 0-1-1-2 0 0 1-1-1-1 0-2 1-2-1-2 0 0 1-6 0-1 0-4-1 0 0-2 0-1 0 0 0-5 1-14-1-1 0-8 1 0 0-1 0 0 2 5-1 4 1 1-1 0 0 3 0 0 0 2 1 6-1 0 1 9 0 2 0 3-1 1 1 2-1 7 1 1-1 1 0 1 1 6-1 3 0 3 1 2-1 1 0 2 1 1-1 1 0 1 1 1 0 4-1 3 0 1 1 2 0 1-1 7 1 0 0 2 0 1 0 8-1 2 0 0 1 4 0 9-1 6 1 1-1 6 1 1 0 0 0 3-1 1 1 2-1 3 0 1 0 4 0 5 1 3-1 2 1 1-1 2 0 3 1 2 0 7 0 0-1 7 1 9-1 2 1 2 0 5 0 1 0 0 0 4 0 3 0 2-1 1 0 1 0 1 1 1 0 1 0 2-1 1 0 1 0 6 0 3 1 0 0 3-1 0 1 1-1 0 0 0 1 2-1 1 0 1 1 0 0 2 0 0 0 2 0 0 0 1 0 3-1 0 0 3 1 2-1 3 0 0 0 6 1 0 0 2-1 6 1 7 0 2 0 2-1 2 1 1-1 0 1 1 0 1 0 2-1 4 1 5-1 0 1 2 0 0-1 1 1 2-1 2 0 6 0 0 1 6 0 0-1 1 0 0 0 4 1 6 0 0 0 1-1 2 0 2 1 1 0 8 0 11 0 2-1 3 0 8 1 2-1 1 0 8 0 5 0 5 0 2 0 2 0 6 0 4 1 2 0 1-1 1 0 4 0 2 0 2 0 1 0 1 0 5 1 2-1 2 1 3-1 17 0 6 0 14 0 0 1 0 0 2 0 1 0 1-1 0 0 5 1 1 0 5-1 5 1 8 0 3 0 2 0 4-1 1 0 5 0 4 1 3 0 1 0 2-1 7 1 8-1 2 0 4 1 4-1 1 1 9-1 0 1 2-1 3 1 1 0 1 0-2 1-2 0-3 0 0 1-4-1 0 1-1 0-1-1-4 0-4 1-1 0 0-1-3 0-7 1-1 0-2-1-1 0 0 1-1-1-3 0-4 1-4 0-3-1-2 1-1-1 0 0-3 1 0 0-4 0-3-1-2 0-15 0-2 1-3 0-2-1-12 0-1 0-3 0-4 1-1-1-8 1-3 0 0 0 0 0-1-1-3 0 0 0-6 0 0 1-10 0-8 0-1 0 0 0-7 0-4-1-2 0 0 1-5-1-5 0-5 1-3-1-2 1-8-1-3 0-1 0 0 0 0 1-3-1-1 1-4-1-4 1-3 0 0 0-8 0-4-1-3 1-1 0-6 0 0 0-4 0-10 0-3 0-1-1-2 1-2-1 0 1-2-1-4 1-1 0-6 0-1-1-2 0-11 0-2 0 0 0-3 0 0 1-1-1-2 0 0 1-4-1 0 0-1 0-1 0-1 0-2 0-2 1 0-1 0 1-2-1-3 0-1 0-1 0 0 1 0 0-2 0-1 0-3 0-1-1-1 0 0 0-1 1-2-1 0 1-4 0-1 0-1 0-5 0 0-1-4 0-2 1-2 0-1 0-2-1-5 1-5-1-2 0-2 1-3 0-2 0-2-1 0 0-1 0 0 1-2 0-5-1-2 1-4-1-2 0 0 1-2 0-1 0-2-1-3 0-1 0 0 0-5 0-3 1-1-1-1 0-12 0-6 1-1 0-4 0-6 0-2 0-2-1-5 0 0 1-3-1 0 1-1 0-7 0-1-1-5 0-1 1-3-1-13 1-2-1-2 1-1-1-2 1-10-1-1 1-2 0-2-1-2 0-3 0-3 1-1 0-7 0-2 0-5-1 0 1 0 0-1 0-2 0-1-1-7 0-2 1-1-1 0 1-2 0-1-1-2 1-4-1-3 0-3 0-2 0-2 0 1 2 1 1 2 0 3-1 1 0 2 0 0 0 1 0 1 0 20 1 5-1 4 1 0 0 1-1 2 0 0 1 1-1 1 0 5 1 4 0 3 0 0 0 0 0 1-1 0 1 0-1 2 1 1-1 1 1 1-1 3 0 6 1 2-1 0 1 0 0 2-1 4 0 0 0 1 1 1-1 2 0 2 1 1 0 7 0 3-1 6 1 3-1 0 1 3-1 1 1 3 0 2-1 1 0 8 0 3 0 6 0 0 1 3 0 0 0 2 0 2-1 4 0 1 1 1-1 0 0 9 1 1-1 1 1 4-1 0 1 3-1 2 0 0 0 0 1 3-1 1 1 1 0 3 0 0 0 6 0 1-1 1 0 3 0 1 0 1 0 2 0 5 1 3-1 6 0 3 0 4 0 0 0 2 0 0 1 1-1 1 0 0 1 8-1 7 1 3-1 0 1 2-1 5 0 2 0 0 1 1-1 2 0 1 1 3 0 2-1 2 1 0 0 3-1 4 1 3-1 0 0 0 1 2-1 3 0 0 0 2 1 1-1 4 0 1 1 5-1 1 1 2 0 5-1 0 1 2 0 1-1 1 1 3 0 0 0 2-1 0 1 1 0 1 0 1-1 0 0 7 1 4 0 0 0 4 0 0 0 0 0 15-1 6 0 3 1 3-1 1 1 1 0 4-1 4 1 1-1 0 1 23-1 2 0 3 0 1 1 1 0 1-1 4 0 1 1 0 0 1-1 1 1 10 0 0 0 6-1 0 1 0-1 6 1 4-1 2 1 0 0 2-1 1 1 7 0 2-1 5 1 9-1 3 1 7 0 4-1 2 0 1 0 0 0 5 1 2 0 2-1 1 0 0 1 3 0 6 0 1-1 3 0 6 0 1 1 3-1 1 1 4-1 3 1 0 0 0 0 9 0 2-1 8 0 4 1 5 0 3-1 1 1 5 0 4 0 0 1-6 0-1 0-5 0-2 0-11 0-1 0-2 1-1-1-2 1-2-1-2 1-4 0-13-1-2 0-1 1-1-1-10 0-9 1-1-1-3 1 0 0-4-1-12 0 0 1-2 0-2 0-1-1-9 0-1 0-1 0-1 1-2-1-9 0-1 0-1 1-1-1-1 1-1 0-2 0-8-1-2 1-8 0-3-1-3 1-3 0-12-1-8 0 0 1-1 0-5-1 0 1 0 0-2-1-2 1-2-1-4 0-2 1-1 0-10-1-1 1-2-1 0 1-1 0-3-1 0 0-3 0-2 0-2 0 0 1-2 0-5-1-2 1-3-1-4 0-3 1-2-1 0 1 0 0-3 0 0-1 0 1-2-1 0 0 0 1-3 0-2 0-11 0-2-1-1 0-1 1-1 0 0 0-8 0 0 0-1 0-7-1-1 0 0 1-1 0 0-1-3 0 0 1-1-1 0 1-2 0 0-1-4 1-2 0-2-1 0 0-1 1 0 0-6-1-1 0 0 0-3 1-1 0-3 0 0 0 0 0-2 0-4 0-3 0-3-1 0 1-2-1-6 0-3 1 0-1-1 1-8-1-4 0-2 0-2 0 0 0-1 1-2 0-4-1-5 0-2 0-5 0-7 1-2 0-8-1 0 0-4 1-3 0-3-1-3 1-6-1-3 1-3-1 0 1 0-1-3 0-14 0-4 1-7 0-2 0 0 0-1-1-2 0-2 1 0 0-6-1-4 0-1 1-3-1-1 0-1 0-7 1-1-1 0 1-2 0-1 0-4 0-1 0-7 0-3 0-3-1-3 0-2 1-4 0-8 0-1-1-6 1-8 0-3-1-4 1 0 0-4-1-6 1-1-1 10 2 5 1 11-1 2 1 3-1 2 0 4 0 3 0 1 1 3-1 2 0 9 0 1 1 5-1 2 1 0 0 2-1 2 0 6 1 0 0 3-1 1 1 3-1 5 0 8 1 5-1 9 1 2 0 3 0 3 0 4-1 1 0 2 1 7-1 3 0 3 0 1 0 3 1 1-1 5 0 6 0 2 0 4 1 1 0 1-1 0 0 2 1 4-1 3 0 5 1 6 0 2-1 3 1 2 0 2-1 1 0 1 0 1 1 7 0 7-1 3 1 3-1 0 0 2 1 1-1 0 1 2 0 7-1 4 0 0 1 1-1 2 0 2 1 1-1 2 0 2 1 2 0 0 0 1 0 1-1 0 1 1 0 2-1 1 1 3 0 6-1 1 0 0 0 1 1 0 0 5-1 1 1 1-1 6 0 1 1 2 0 4 0 0 0 2-1 1 1 8 0 1 0 2-1 1 1 0 0 4 0 10-1 0 0 3 1 2-1 5 0 1 0 1 0 0 1 1-1 0 0 4 1 2 0 3 0 1-1 3 0 3 1 4-1 5 0 3 0 2 0 0 1 5-1 1 0 0 1 1-1 0 1 23 0 1 0 7 0 13 0 6-1 1 0 0 1 3 0 2 0 1-1 3 0 7 0 3 0 5 0 1 1 1-1 0 1 0-1 4 0 1 1 5-1 3 1 8-1 11 1 1 0 1 0 5 0 1-1 3 1 1 0 4 0 2 0 4 0 1 0 5 0 6 0 8 0 0 0 1 0 4 0 1 0 5-1 4 0 0 0 0 1 2-1 1 0 1 1 5-1 0 0 3 1 0 0 2-1 0 1 4 0 1 0 1 0 0 0 2 0 1 0 0 1-8 0-2 0-4 0-3 1-1-1 0 0-1 1-2-1 0 0 0 1-3-1-2 0-1 1-15 0-4-1-9 1-5-1-1 0-2 1-3-1-1 0-1 1-1 0-2-1-1 1-14 0-7-1-4 0 0 0-5 0 0 0-4 0-6 1 0 0-2-1-2 1-2-1-11 1-1 0-1 0 0 0-4-1 0 1-6 0-1-1 0 0-7 0-1 0 0 1-2-1 0 1-2-1-2 1-8-1 0 1-1 0-1 0-5-1-11 1-3 0-15 0-1 0-5-1-2 0-4 0-4 1-9-1-5 0-2 0-3 0-1 0 0 1-8 0-1 0-6 0-1 0 0 0-3-1 0 0-4 0 0 1-2 0 0 0 0 0-1-1-3 1-6-1-2 1 0 0-1-1 0 1 0 0-7 0-1-1-4 1-3 0-6 0-1-1-3 1-1-1-1 0-9 0-3 1-3 0-1 0-3 0-4 0-1 0-2 0-2 0-1 0-2 0-2 0-1 0-3 0 0 0-2 0-1 0-2 0-2 0-5 0-2 0 0-1-6 1-1 0-1 0 0 0-1-1-3 0 0 1-1 0-1-1 0 1-2 0-2-1-7 1-2-1 0 1-2 0-6-1-5 1-5 0-5-1-1 0-1 1-12-1-5 1-1 0-1-1-1 1-4-1 0 0-2 0-9 0-5 0 0 0-14 0 0 1-2-1 0 0-2 1-1 0-3 0-1 0 0 0-1 0-8 0-2-1-1 0-2 1-1 0-4 0-2 0-8-1 0 1-2-1-4 1-3-1 0 0 0 0-4 0-6 1-10 0-4 0-1-1-4 0-3 1 0 0-2-1-2 0 0 0-4 3 0 0 2 0 4-1 9 0 1 1 0 0 0 0 1-1 8 0 1 0 2 0 6 1 3-1 1 0 1 1 2 0 0 0 3 0 1-1 2 1 5 0 2 0 10-1 1 0 1 0 4 1 2 0 1 0 2 0 1-1 1 0 0 1 3-1 1 0 0 1 1-1 2 1 1 0 3 0 3-1 1 0 10 1 5-1 4 1 4 0 1 0 1 0 5-1 1 0 3 0 4 0 2 1 2-1 2 1 1 0 1-1 2 0 9 0 3 0 1 0 2 0 8 0 3 0 2 0 4 0 11 0 2 1 1 0 2-1 5 1 5-1 16 0 1 1 2-1 0 0 8 0 1 0 4 1 2 0 2-1 3 1 3 0 1-1 0 0 2 1 0 0 11 0 3-1 0 1 1-1 2 1 0 0 3 0 10-1 0 1 0 0 0 0 2-1 1 1 1 0 3 0 0 0 1-1 3 1 1 0 1 0 4-1 2 0 9 1 1 0 1 0 1-1 8 1 1 0 1 0 2 0 3-1 0 1 1 0 3 0 3-1 8 0 2 0 2 1 2 0 3-1 0 0 10 1 9 0 8-1 1 0 3 1 2 0 14 0 1-1 1 1 1 0 7-1 2 0 0 1 1 0 6 0 0 0 2 0 1-1 4 1 1 0 14-1 1 1 3-1 0 0 2 1 0 0 1 0 3 0 1 0 5-1 4 1 1-1 4 0 6 0 1 0 0 1 1-1 0 0 6 0 0 1 2-1 7 1 2 0 2 0 3 0 2-1 4 1 4 0 5-1 2 1 0 0 5 0 11 0 0-1 0 1 1-1 2 1 2-1 0 1 0 0 3-1 13 1 4-1 1 1 1-1 0 2-1 1-7-1-1 0 0 0-2 1-5 0-1 0-2-1-1 0-3 1-2 0-1-1 0 1-3-1-3 0 0 0-2 1-1 0-4-1-1 1-1-1-2 0-3 1-2-1-6 1-1 0-1-1-1 1-1 0-3 0-3 0-1 0-1-1-2 0-1 1-1 0 0 0-3 0-8 0 0-1-4 0-2 0-17 1-1-1-3 0-3 1-3 0-5 0-1-1-2 1-3-1-2 0-4 0-7 1 0 0-1 0-2-1-1 1-6 0-2-1-1 0-1 1 0 0-5 0-1 0-1 0-1-1 0 1-5-1 0 1-1 0-2-1-3 0 0 0-1 1-1-1-2 0-4 0-1 0-5 0-1 1-8 0-14-1-1 1-4-1 0 1-1 0-2 0-2-1 0 1-8-1-1 0-2 1-1 0 0 0-1 0-2 0-1-1 0 0 0 1-1-1-1 0 0 0 0 0 0 1-4-1-6 0 0 1-2 0-1 0-4-1-1 1-1 0-3-1-4 0-1 1-1-1-1 0-1 0-1 0-4 0-3 0-6 1-1-1-4 0-14 0 0 0-6 0 0 0-1 1-2 0-1 0-3-1-1 0-1 0 0 1-1 0-2 0-3-1-1 1-1-1 0 1-1 0-4 0-7-1-2 0-2 1-3-1 0 1-2-1-1 1-10-1-2 0-3 1-4-1-2 1-2-1-3 0 0 1-3-1-7 0-6 1 0 0-1-1-2 0-8 0-11 0-2 1-1-1-3 1-1-1 0 1-4-1-1 1 0 0-2-1-6 0-3 0-2 1-3-1-2 1-5-1-7 0-2 1-1 0-1 0-5 0-4 0-8 0-6 0-1-1-1 0 0 1-1 0-3-1 0 1-1-1-2 1 0 0-1-1-3 0-1 0-12 0 0 1-2 0 0 0-2 0-1 0-2 0-2-1 0 0-1 1-3 0-5 0 0-1-6 0-4 0-4 0-7 1 0 0-3 0 0 1 2 1 6-1 1 1 0 0 4-1 2 1 1 0 3-1 3 0 2 1 2-1 5 0 2 0 5 1 2-1 2 1 4 0 2-1 5 1 3 0 3-1 5 0 4 0 1 0 7 1 3-1 1 0 4 0 1 0 0 1 1-1 0 1 1 0 4-1 1 0 1 1 3-1 2 1 1 0 1-1 0 0 1 0 1 1 0 0 4 0 1-1 6 0 4 0 1 0 4 0 1 1 9-1 1 1 1 0 8-1 2 1 3 0 1-1 0 0 3 0 4 1 15-1 1 0 0 1 5-1 5 1 0 0 1 0 8-1 0 1 0 0 2-1 1 1 0 0 7-1 1 1 2-1 2 1 5 0 1-1 2 1 1 0 2-1 4 1 1-1 0 0 2 1 3-1 7 1 2 0 4-1 1 1 1 0 3 0 1-1 2 0 1 0 0 0 4 0 7 1 0-1 4 0 0 1 2 0 0 0 8-1 2 1 4 0 5 0 6-1 1 0 2 0 2 0 2 0 1 0 3 0 1 0 10 0 1 1 0 0 1 0 1 0 1-1 2 1 1-1 3 0 2 1 1 0 0 0 3-1 6 0 0 0 1 1 7-1 1 1 1-1 2 0 1 1 1 0 10 0 8-1 1 1 7-1 2 0 4 1 6-1 2 0 12 0 1 1 3-1 2 0 4 1 0 0 5-1 1 0 0 0 2 0 5 0 0 1 8-1 4 0 3 1 0 0 4-1 5 0 5 0 8 1 9-1 1 1 2 0 0 0 5 0 2 0 2-1 2 0 0 0 7 1 6 0 6 0 0 0 4 0 1-1 1 1 4 0 1 0 3-1 0 1 7 0 1-1 2 0 0 1 0 0 2-1 2 0 0 0 4 1 5-1 3 1 1 0 2 0 0 2-4 0-3-1-4 0-6 1-2 0-6-1-1 0 0 0-4 0-9 1-6 0 0-1-4 0-4 0 0 1-7 0-7 0-3-1-2 1-1-1-2 0 0 0-1 1-1 0-1 0-1 0-3-1-3 1-1-1-7 0-1 1-6-1-3 0-1 1-12 0-5-1-4 1-1-1-3 0-8 1-8-1 0 1-3-1-1 1-2 0-7 0-14-1-4 1-2 0-3-1 0 1-1-1-2 1-4-1 0 1-2 0-2-1 0 0-4 1-3-1 0 1-1-1-2 1-2-1 0 0 0 1-3-1 0 0-1 1 0 0-3 0-4 0-3-1-1 0-2 0-5 0-7 1-5 0-6 0-2 0-1-1 0 1-4 0-2 0-4 0-1 0 0 0-4 0-4 0-1-1-1 1-2 0-1-1-1 0-5 1-3 0-1-1 0 1-5-1 0 1-1-1 0 1 0 0-2 0-1-1-1 0 0 1-3-1-1 0-1 1-1-1-4 1-3 0-2-1 0 0-1 0-5 0-2 1-1 0-1-1-1 1-5 0-1 0-1 0-4-1 0 0 0 1-5 0-3-1 0 1-4 0-1 0-1 0-7 0-3-1-1 0 0 0-1 0 0 1-1 0-2-1-2 1-3-1-1 0-3 1-5-1-1 1-3 0-9 0-4 0-4 0-16-1-1 1-5-1 0 1-2-1-3 1-29-1-3 1-7 0 0 0-3 0-3-1-10 0-5 1-4 0-1-1-2 0-6 1-4 0-1 0-1 0-7-1-2 0 0 1-9 0-12-1-6 0 0 1-3-1-2 0-1 2 1 1 6-1 2 1 5 0 3 0 1 0 1 0 1 0 0 0 1-1 3 1 6 0 1 0 3-1 1 1 1-1 6 0 1 0 2 1 1 0 1 0 1-1 0 0 0 0 2 0 0 1 9-1 1 1 0-1 4 0 4 0 7 0 4 1 0 0 2 0 1 0 0 0 5 0 3 0 1 0 1 0 4-1 0 0 3 1 1-1 0 1 2-1 0 1 1 0 4 0 1 0 3 0 0 0 3-1 2 1 10-1 1 1 4-1 19 1 7 0 3-1 8 1 3-1 4 0 0 0 5 1 9 0 1 0 1 0 4-1 4 0 3 1 3-1 1 0 0 1 1 0 1-1 6 1 1 0 1 0 5 0 1 0 0 0 2-1 6 1 2 0 1-1 1 0 7 1 9 0 6 0 1-1 0 0 0 0 1 0 1 1 2-1 1 0 0 0 2 0 3 0 1 1 1-1 2 1 2 0 1-1 5 0 2 0 1 0 0 0 9 0 3 1 4-1 2 1 2-1 3 0 3 0 10 0 7 0 7 1 1-1 4 0 8 1 1 0 0 0 8 0 2-1 5 1 3-1 3 0 3 1 2-1 0 0 0 1 2-1 0 1 20 0 5 0 3 0 1-1 1 0 0 1 4-1 1 1 3-1 0 1 2-1 1 1 8 0 4-1 1 1 9 0 3 0 2-1 3 0 2 0 0 0 2 1 1 0 2 0 4-1 0 1 4-1 10 1 3-1 2 0 1 0 3 1 2-1 0 0 1 0 0 0 0 1 1-1 3 1 3 0 1-1 6 1 2 0 1 0 7-1 4 0 0 1 5-1 2 0 1 1 1-1 6 0 0 1 1-1 10 0 1 1 3-1 0 2-5 1-7 0-1-1-3 1-2 0 0 0-7-1-4 1-3-1 0 0-1 1-3-1-1 0-9 0-2 0-3 1-6-1 0 1-9-1 0 1-1 0-4-1 0 1-8-1-3 1-4-1-5 1-5 0-2 0-5-1-5 0-3 1-7 0-6-1 0 0-8 1-1 0-5-1-3 0-1 0-6 1-9 0-1 0-3 0-2-1-1 1 0 0-2 0-4-1-2 0-5 1-2-1-4 0-8 0-12 0-2 1-1 0-6-1-3 0-1 0 0 0-6 1-5-1-1 0-3 0-5 1-2 0-5 0-1-1 0 1 0 0-1-1-10 0 0 0-6 0 0 1 0 0-3-1-2 0 0 1-2-1-10 0-1 0-2 0-8 0-6 0 0 0-1 0 0 1-5-1-1 0 0 1-1-1 0 1-1-1-1 0-6 1-3 0-5-1-7 1-3-1-2 1-4-1-1 1-1-1-2 0 0 1-14-1-3 0-2 0-1 1-3-1-3 1-4 0 0 0-3 0-3 0-1 0 0-1-13 0-1 0-3 0-1 0-3 1-1-1 0 1-1 0-1-1 0 0-5 1-1-1-1 0-4 0-3 0-2 1-9-1-4 0-10 1 0 0-1-1-2 0-3 0-3 1-1 0-5-1-2 0 0 0-3 0-2 1-1 0-4-1-1 0-1 1-6 0-3-1-2 1-11-1-5 1-8-1-5 1-3 0-2 0 0 0-1-1-1 1-5-1-3 0-1 0-1 1-1 0-4-1-4 1-1 0-4-1-1 1-4 0 1 2 10-1 1 1 15-1 3 0 1 0 3 1 4-1 1 0 0 0 2 1 1 0 1 0 0-1 4 0 4 1 1-1 18 0 8 0 0 0 2 1 10 0 3 0 10 0 11 0 3-1 1 1 3 0 1-1 3 1 1-1 1 0 2 0 2 1 2-1 4 1 1 0 0 0 3-1 3 1 4-1 1 0 2 0 3 0 0 1 5 0 5 0 1 0 2 0 1 0 2 0 0 0 3 0 2-1 1 1 7 0 4-1 1 1 2 0 3-1 5 0 1 1 2 0 1 0 3 0 5 0 2-1 1 0 0 1 0 0 8-1 1 0 7 1 1-1 4 1 2 0 3 0 3-1 1 1 1 0 3-1 0 0 0 1 1-1 0 1 2 0 6 0 0 0 1-1 5 1 3-1 2 0 1 1 1 0 1 0 1 0 1-1 0 0 0 1 2 0 1-1 0 0 1 0 4 0 0 1 3-1 2 1 1-1 3 0 1 1 4-1 0 1 4-1 3 1 3-1 2 1 2-1 1 1 1 0 0 0 2-1 3 1 5-1 2 1 4-1 1 1 2-1 1 1 1 0 3-1 0 0 3 0 1 1 8 0 1-1 4 0 1 0 5 0 0 1 2-1 1 1 6 0 7 0 4-1 1 1 3 0 0 0 6-1 2 0 4 1 0 0 4-1 0 1 0 0 8 0 2-1 3 0 1 0 0 0 1 1 1-1 1 1 3 0 5-1 0 1 2 0 2-1 0 0 6 1 3 0 5-1 1 0 5 1 11 0 2 0 3-1 1 0 2 1 1 0 0-1 1 1 3 0 2-1 6 0 4 1 4-1 0 1 1-1 2 1 3-1 5 0 9 0 9 1 6-1 1 0 1 1 1-1 1 0 1 0 1 1 2-1 3 1 3 0 2 0 4 0 1 1 0 1-2-1-1 1-3-1 0 0-4 1-5-1-2 1-6 0 0 0-4-1-2 0-6 0-1 1-2 0-2-1-1 0-6 1-1 0-2 0-6-1 0 1-3-1-1 0-5 1-2-1-5 0-2 0-1 1-6 0-1-1-1 0-2 0-2 0 0 1 0 0-1-1-1 0-1 1-8 0 0 0-4-1-1 0-1 0-2 1-6-1 0 0-3 1-1 0-6-1-6 0 0 0 0 1 0-1-4 1-4-1-2 1-1-1-3 0-3 0-3 0-11 1-1-1-1 0-1 1-1 0-3 0-1 0-5 0-1-1-7 1-4-1-5 1-10 0-3-1-2 1-1 0-12 0-1-1-1 0-4 0-1 1-1-1-2 0-1 1-2-1 0 1-8 0 0 0-1 0-6 0-2 0-2-1-2 1-6 0-10-1-1 0-1 0-5 1-1-1-3 1-2-1 0 0-7 1-6 0-2-1-7 0-5 0 0 0-3 1-1 0-2-1-4 0-3 0-2 0 0 1-8 0-2-1-3 1-2-1 0 1-1-1-1 0-2 0-1 1-1 0-6-1-1 0-1 0-6 1-2-1-1 1-2-1-4 0-1 1-2 0-1 0-1 0 0 0-7 0-1 0-1-1-6 0 0 1-5-1-3 0-9 0-1 1-22 0-4 0-1 0 0-1-21 0-6 1-3-1-1 0-2 0 0 0-3 0-1 1-2 0-3-1-4 0 0 0-1 1-9 0-3-1-2 0-1 0 0 0 0 1-2 0-2-1-2 0-3 0-4 0 0 1-1 0-4 0-1-1-3 0-3 0-2 0-4 1-2-1-1 0-1 1-5 0-3 0 0 0 0-1-1 1-4 0-2 0-1 2 4-1 10 1 0 0 4 0 7 0 0-1 1 0 5 1 2-1 0 0 1 0 1 1 2-1 8 1 2-1 13 1 3 0 2 0 7-1 8 1 0 0 2-1 4 1 8-1 3 0 0 0 3 1 10 0 2-1 5 1 0 0 4-1 3 1 2-1 2 0 9 1 7 0 9-1 2 0 3 0 6 0 0 0 3 0 1 1 2 0 1-1 5 1 0 0 4 0 3 0 1-1 3 0 4 1 5-1 0 0 13 0 0 0 11 0 8 1 5 0 2-1 1 0 0 1 2 0 2-1 1 1 1 0 3-1 2 0 3 0 1 1 5-1 3 0 1 1 1-1 4 0 0 1 2-1 1 1 3-1 1 0 6 0 1 1 1-1 0 0 0 0 1 0 1 1 2-1 1 1 0 0 3 0 0 0 1-1 0 1 2-1 1 0 1 1 4-1 2 1 1-1 1 0 11 0 0 1 2-1 1 1 1-1 0 0 8 1 7-1 0 1 1 0 5-1 5 1 4 0 8 0 1 0 5 0 1-1 2 1 14-1 1 1 2 0 3-1 0 0 3 1 5 0 3 0 0-1 2 0 6 0 1 0 1 1 3 0 7-1 0 1 2-1 2 1 1 0 9-1 2 0 1 1 2-1 0 0 0 0 1 0 4 0 1 1 5 0 8 0 4 0 1 0 9 0 2 0 2-1 3 0 2 1 6-1 4 0 2 0 2 1 2-1 2 1 2-1 8 0 1 0 10 0 1 1 3-1 0 0 10 1 1-1 0 0 2 0 0 0 3 0 3 0 0 1 5-1 2 1 0 0 0 2-5-1-7 1-4 0-1 0-7-1-1 0-5 1-4 0-5-1-3 0-2 1-7 0 0 0-5 0 0 0-3-1-4 0-9 1-4-1-3 0-1 0-1 1-1 0-2-1-3 1-11 0-3 0-3-1-6 1 0 0-5 0-6 0 0 0-16 0-2 0-5-1-1 0-1 1 0 0-3-1-3 1-2 0-2-1-7 0-10 1-4 0-4-1-2 1-4 0-4 0-3 0-1-1-1 0-5 1-4 0-1 0-5-1-4 0-2 0-2 0-1 0-2 1-2 0-5-1 0 1-1-1-5 0-3 1-1-1 0 1 0 0-3 0-7-1-5 0-1 1-5 0-4-1-3 0-1 0 0 1-1-1 0 1-1-1-8 1-1 0-1-1-1 1-1 0-1 0-3 0-2 0 0 0-2-1-1 0-8 0-3 0-1 1-4 0-2 0-7-1 0 0-2 0-1 1-4-1-3 1-3-1-9 0-7 0 0 1-1 0-7 0-4 0 0 0-1-1-10 0-1 1-1 0-3 0-1-1-6 0-7 1-3 0-6-1-4 1-2 0-2 0-3-1-11 0-1 0-3 0-17 0-3 0-3 0-4 1-6 0-2 0-20 0-1-1-2 0-4 0-1 1-3 0-4 0-3 0-4 0 0-1-8 1-6 0-2 0-12 0-4-1-1 1 0-1-1 1-4-1-2 0 0 0-5 0 1 3 2 0 1-1 2 0 3 0 0 1 4-1 4 1 3-1 15 1 0-1 1 1 11 0 1 0 1-1 1 1 5 0 1-1 4 0 1 1 1 0 4-1 8 0 1 1 5 0 1-1 3 0 7 1 8-1 1 1 11 0 3-1 4 0 0 1 7-1 0 1 1 0 9-1 8 0 0 1 1 0 6-1 0 0 2 1 4-1 1 0 1 0 2 0 6 1 0-1 2 0 0 1 2-1 2 0 2 0 1 0 3 0 6 1 1-1 9 0 1 0 4 1 1-1 1 1 0 0 2-1 1 1 2-1 2 0 2 1 1 0 6-1 5 1 2 0 1-1 0 1 14 0 1-1 0 0 0 1 2 0 0 0 1-1 0 1 5-1 0 1 1 0 1-1 3 0 1 0 7 1 1 0 1 0 2 0 5-1 3 1 0 0 1-1 1 1 4-1 3 0 1 1 3 0 2-1 6 1 4 0 6 0 2 0 4-1 2 1 1-1 0 0 0 0 7 0 3 0 6 0 2 0 1 1 1-1 0 1 1-1 3 0 2 0 14 0 0 1 1 0 1-1 2 1 2-1 0 1 0 0 7 0 3 0 0 0 2 0 4-1 2 1 3-1 7 1 1-1 2 0 1 1 6 0 0 0 7-1 1 0 1 1 4-1 3 0 2 0 11 0 1 1 8-1 7 0 1 1 1-1 7 0 1 1 2-1 0 0 5 0 0 0 3 0 8 1 5 0 5-1 2 0 0 1 1 0 2-1 1 0 6 1 1 0 1-1 1 0 9 0 0 1 1-1 2 0 8 0 3 0 2 1 2-1 0 0 4 0 0 1 3-1 0 1 4-1 6 0 0 1 1-1-10 2-2 0-2 0-12 1-2-1-9 0-10 1-1-1-1 0 0 0-13 0-2 0-8 1-2-1-2 1 0 0-2-1 0 0-4 0 0 1-1 0 0 0-3 0-1-1-4 0-4 1-1 0-1 0-1-1-1 1-4 0-2-1-3 0-1 0-1 0-1 0-4 0-11 1-8 0-2-1-2 0-13 1-4 0-1 0-2 0 0 0-6 0-3 0-14 0-3 0-13 0-1-1-1 0 0 1-2 0-6-1-1 1-1 0-3-1-1 1-5 0-1 0-3-1 0 1-5-1-3 0-8 0-1 1-1 0 0-1-1 1-5 0-7 0 0 0-1 0-4-1-8 1-4 0-4-1-5 0-3 0-1 1-1-1-6 0-3 0-2 0-1 1-1 0-5-1-4 0-2 1-7-1-1 0-1 1-3-1-1 0 0 1-6-1-4 0-2 0-2 0-1 1-3 0-1-1 0 1-1 0-2-1-2 0-1 0-8 0-4 0-1 1-11 0-1-1-1 1-1-1 0 1-5-1-2 0-5 0 0 0-5 0-5 0 0 1-3-1-1 1-5-1 0 1-1-1-1 1-8 0-5 0-5 0-1 0-3-1-3 1-5 0-9 0-4 0-2 0-1-1-3 1-5-1-6 0-9 1-1-1 0 0-1 1-1-1 0 1 0 0-1 0-3 0-3 0-1-1-1 0-1 1-3-1-5 1-9-1-1 0-2 1-4-1-2 0-1 1-2 0-2 0-5 0 0 0-1-1-9 1-4-1 0 1-2 1 1 0 2 0 0 1 2 0 1-1 3 1 9 0 8-1 2 0 7 0 1 0 4 1 1-1 5 0 5 1 2 0 2 0 1-1 0 1 2 0 2-1 1 1 7 0 3 0 3-1 2 1 1 0 3-1 0 1 2-1 2 1 0 0 9 0 5-1 1 1 1-1 5 1 2 0 5-1 3 0 5 1 1 0 13 0 1-1 1 1 1 0 2-1 2 0 7 1 1-1 20 1 2 0 9-1 1 0 0 0 5 1 1 0 2-1 4 1 2 0 12-1 7 1 2-1 4 0 0 0 4 0 1 0 0 0 4 0 1 0 1 0 1 0 0 0 2 0 1 1 3-1 5 0 0 0 0 0 1 0 0 1 0 0 1 0 0 0 3-1 3 0 2 0 1 0 2 0 0 1 7 0 1-1 1 1 0 0 1-1 2 0 1 1 6-1 0 0 4 0 3 1 3-1 0 0 9 1 1 0 1-1 2 1 2 0 2-1 5 1 2 0 1 0 4 0 1 0 1 0 8-1 2 1 0 0 1-1 1 1 4 0 4 0 1-1 1 1 6 0 2 0 2 0 4-1 5 0 2 0 0 1 1 0 1 0 1-1 0 0 0 1 1-1 4 0 0 0 5 0 9 0 0 1 0 0 3-1 16 0 4 1 4-1 11 1 1 0 1 0 2-1 13 0 4 1 6-1 0 1 0 0 0 0 1-1 2 1 2-1 0 1 2 0 1 0 1 0 13-1 5 0 3 1 0 0 7-1 1 1 4-1 7 0 13 0 2 0 2 1 1-1 0 0 2 0 3 1 1-1 4 0 3 0 3 1 2-1 2 1 12 1-4 1 0 0-9-1-6 0-5 0 0 1-2-1-2 1-1-1-2 1-4 0-1-1-6 1-3-1-10 1-1 0-1 0 0-1-5 0-1 0-6 1-2-1-15 0 0 0-20 1-3-1-4 1 0 0-3 0-2 0-2 0-2-1-2 0-7 0-2 0-2 1-1 0-1-1 0 1-5-1-5 0-7 1-3-1-1 1-4 0 0 0-2-1-4 1-5 0-8-1-6 0-1 0-16 1-11-1 0 0-2 1-1-1-7 1-1-1-5 0-3 0-1 1-2 0-3-1-3 0-1 0-1 0-4 1-2 0-3-1-3 0-3 0-1 1-1-1-1 0 0 1-3 0-3-1-2 0-1 1-3 0-3 0-7 0-1 0-1-1-2 1 0 0-4 0-3-1-3 1-1 0-11-1 0 1-6-1-4 0 0 1-1-1 0 0-1 0-16 0 0 0 0 0-4 0 0 1-1 0-2 0-7-1-5 0-3 0-1 0-1 1-4 0-5-1-1 0 0 1-4-1-2 0 0 0-4 1-12-1-1 1-1-1-6 1-1-1-6 0-1 1-6 0-8 0-2 0-1 0-4 0-13-1 0 1-1 0-1 0-3 0-1 0-6-1-6 0-1 0-1 0-3 1-11-1-6 1-3 0-2 0-5-1-3 1 0-1-2 0-1 1-4-1-16 1-2-1-1 1-3-1-6 1-9 0-1 0 1 1 14 1 9-1 2 0 2 0 4 1 1 0 3 0 5 0 4 0 2 0 6-1 4 0 4 0 1 0 7 1 0 0 1 0 0 0 6-1 1 1 0 0 9 0 1-1 3 1 1 0 4-1 8 0 1 0 2 0 2 1 4 0 1-1 5 0 2 0 0 0 3 0 5 1 2-1 1 0 1 1 11 0 5-1 0 1 0 0 2 0 1-1 4 1 3-1 2 0 2 1 6 0 1 0 2 0 7-1 0 1 6-1 2 0 2 1 1 0 2-1 6 0 5 0 2 0 2 0 2 1 1 0 1-1 2 0 2 0 0 1 4-1 1 1 2-1 1 0 1 1 7 0 1 0 3-1 0 0 1 0 0 0 0 0 1 0 8 1 2 0 0 0 6-1 2 0 1 0 2 1 1 0 3-1 2 1 9-1 1 1 6-1 1 0 1 0 0 0 2 0 0 1 1-1 2 1 1-1 3 0 4 1 10 0 6-1 2 0 0 1 4 0 6-1 3 0 0 1 1-1 4 0 2 1 9-1 2 0 0 0 1 1 1 0 1-1 6 0 2 1 0 0 6-1 4 1 3-1 1 0 1 0 3 0 3 1 6 0 1-1 5 0 3 0 1 0 2 0 5 1 11-1 1 0 1 1 4 0 1-1 4 1 3-1 2 0 4 1 8-1 8 1 2-1 0 1 4 0 0 0 3-1 7 1 5-1 1 0 2 0 1 1 0 0 2 0 3-1 5 1 6 0 2-1 1 0 3 0 0 0 1 0 5 0 0 1 2-1 0 1 1-1 10 0 1 1 10 0 1-1 7 0 3 1 3 0 0 0 7-1 1 0-2 2-2 1-2 0-1-1-5 0 0 0 0 1-1-1-1 1-2 0-2-1-6 1-1 0-1-1-1 0 0 1-2 0-1-1 0 1-3-1-5 1-5-1-2 1-1-1-8 1-1-1-2 0-3 1-5-1-3 0-1 0-10 0-1 0 0 0-7 0-1 1-1 0-2-1 0 1-2-1-4 1-4-1-1 0 0 1-10 0-4-1-12 0-4 0-4 1-1 0-3-1-2 0-1 1-4-1-3 0-3 1 0 0 0 0-1-1-2 0-1 0-8 1-8-1-2 0 0 1-3-1-3 1-1-1 0 1 0 0 0 0-1-1 0 0-4 0-2 0-4 0-4 0-1 1-2 0-4-1-2 1-1 0-11-1-3 0-1 0-3 0-1 0 0 1-5 0-1-1-12 0-4 0 0 0-2 1-1-1-1 0-3 0-2 0 0 0-3 0-1 0-8 0-2 0-4 0 0 1-3-1-3 0 0 1-3-1-1 0 0 1-1-1-2 1-3-1-1 1-5 0-2-1 0 0-3 0-8 0-1 1 0 0-2 0-1 0-8-1-7 0-1 1-5-1-4 1-5-1-6 1-2 0-3-1 0 1-1 0-6 0-2 0-4 0-5-1-5 0-2 1-1-1-2 0-2 1-2 0-7-1-2 1-7-1-2 0 0 1-9-1 0 1-1-1-1 0-1 1-1-1 0 1-4-1-3 0 0 1-2-1-2 0-5 1-3-1-3 0-10 1-1 0-3 0-24-1-2 0-2 1-3 0-4-1-2 1-3-1 0 0-3 1-4 0-7 0-9 0-16 0-3-1 0 1-2 0-1 0-2 0-2-1 1 2 3 0 2 0 12 0 2 0 0 1 2 0 1-1 0 0 3 1 0-1 5 1 5 0 1-1 11 1 8 0 7-1 6 0 1 1 2-1 10 0 1 0 1 1 7-1 0 1 6 0 3-1 2 1 1 0 3 0 10-1 13 0 0 1 4 0 2 0 1-1 0 1 8-1 9 0 8 0 0 1 6 0 4 0 2-1 12 1 4-1 3 1 4-1 6 0 6 1 2 0 0-1 1 1 2-1 4 0 0 0 6 1 2 0 2 0 14-1 1 1 3-1 3 0 1 1 1-1 2 0 2 0 1 0 0 1 10 0 1 0 1 0 1-1 8 0 3 1 7-1 3 1 4-1 1 1 2 0 1-1 5 0 2 1 12-1 2 0 5 1 1-1 4 0 8 0 1 1 1-1 1 0 2 1 0 0 3-1 5 1 2-1 1 1 2 0 1-1 1 0 4 0 0 1 4 0 0-1 2 1 5-1 0 1 6 0 4 0 3 0 9-1 4 1 0-1 3 1 9 0 2 0 1 0 2-1 0 0 0 1 8-1 16 0 9 1 1 0 1 0 0 0 6 0 0 0 5-1 0 1 1 0 7-1 3 0 4 1 1 0 13-1 8 0 1 0 2 0 2 0 6 0 4 1 4-1 0 0 3 1 0 0 3 0 4 0 8 0 8 2-2 0-4 0-5-1-2 0-3 0-4 0-12 1-10 0-2-1-1 1 0 0-16 0-3 0-16-1 0 1-2 0-3-1-2 0-2 0 0 1-1 0 0 0-1-1-1 0-5 0-2 0-2 0-4 1-2-1-2 1-9 0-3-1-3 0 0 1-4-1-2 1 0 0-6-1-11 0-1 1-1-1 0 1-6 0-2 0-10-1-7 1-2-1-11 0-7 0-4 1-1 0-3-1-3 0-4 0-6 0-3 0-12 1-5 0-2-1 0 1-3 0-5-1-2 0-2 0-8 1-6-1-4 1 0 0 0 0-4-1 0 0 0 1-1 0 0 0-1 0 0-1-1 0-12 0-2 1-5 0-4 0-2-1 0 1-5-1-4 1-1-1-4 0 0 1 0 0-2-1-1 1-7 0 0 0-2 0 0 0-7 0-1-1 0 0-4 1-18 0-5 0-8 0-2 0-4-1-1 0-4 0 0 0-1 1-12-1-2 0-2 0 0 0-3 0-17 0-1 0-4 0-2 1-2 0-2 0-3-1-3 1-1-1 0 0-4 1-1-1 0 0-1 0-1 1-2-1 0 0-2 0 0 1 0 0-7-1-1 1-2-1-6 0-2 1 0 0-11 0-1-1 0 0-1 1-1 0-3-1-9 0-5 0 0 1-2-1-1 1-8 0 0 0-3 0-1 0-3-1 0 0-1 0 0 1-1-1-1 1-1 0-7 0-1-1 0 1-2-1-7 1-3-1-7 1 0 2 2 0 3-1 0 1 5-1 5 0 7 1 4-1 2 1 1 0 5-1 7 1 1-1 5 0 9 1 1 0 3-1 7 0 6 0 12 1 0 0 4-1 1 1 2 0 11 0 1-1 2 0 0 1 1-1 4 1 6 0 6 0 0 0 0 0 1 0 2-1 3 0 9 0 0 1 2 0 4-1 10 0 6 0 7 1 6-1 6 1 0-1 1 0 0 1 1 0 6 0 1-1 6 0 3 1 11 0 4 0 5 0 8 0 7 0 1-1 5 0 8 1 1 0 3 0 0 0 0 0 3 0 3 0 2-1 2 1 1 0 1-1 4 1 2 0 3 0 2-1 1 1 2-1 1 1 3 0 6-1 0 1 3 0 1-1 7 0 0 0 2 1 1-1 1 1 2-1 1 0 2 1 1-1 0 1 8 0 3 0 5 0 4 0 1-1 3 0 1 0 1 0 2 1 2 0 5 0 1-1 2 0 1 0 1 1 11 0 4-1 2 0 1 1 1 0 1 0 6 0 2-1 3 0 3 1 12 0 1 0 1-1 3 0 10 0 1 0 2 1 7-1 2 1 10-1 5 0 3 1 0-1 2 1 3-1 2 0 0 1 2 0 0 0 5 0 1-1 2 0 7 0 8 0 1 0 1 1 3-1 4 1 4-1 0 0 3 1 3-1 1 0 6 0 0 1 3 0 2-1 1 1 1 0 2-1 0 1 2-1 0 0 11 0 3 1 6-1 9 1 2-1 2 1 3 0 0 2-1 0-3-1-5 0 0 1-7-1-2 0-2 1-5 0 0 0-1-1-1 0-1 0-13 1-2-1 0 0-1 1 0 0-8-1-3 0 0 1-3-1-2 1-3-1-5 0-1 1-5-1-1 0-7 0-2 1-1-1 0 1-6 0-5 0-6 0-1 0-5 0 0-1-1 0-1 1-4 0-3-1-2 0-1 0 0 0-3 1-2 0-3 0-3-1-4 1-4-1-13 0-8 0-3 1-7-1 0 0-1 0-5 1-4 0-3 0-1-1-3 0-3 0-2 1-2 0-3 0 0 0-1-1 0 0 0 1-1 0-1 0-3-1 0 1-2 0-4-1-2 1-1-1-18 1-1-1-5 1-2-1 0 1-1-1 0 1 0 0-2-1-2 0-4 1-2-1-3 1 0-1-4 1-2 0-1-1-1 1-2 0-4-1 0 1-1 0-5-1-1 0-3 0-6 0-1 1-3-1-2 0 0 1-5 0-4-1-1 1 0 0-3 0-1-1-3 0-8 1-1-1-1 0-8 0-1 1-8 0-1 0-19-1-2 0-1 0-3 0-3 0-14 1-4 0-2 0-2-1-2 0-5 0-2 0-2 1-1 0-1 0-2-1 0 1-3-1-1 0-10 0-2 1-5 0-2 0-5-1-4 1 0 0 0-1 0 0-4 0 0 0-13 1-2-1-7 0-2 1-9 0-5 0-1-1-3 0-6 0-2 1-2 0-4-1-1 0-1 1-1 0-1 0-2-1-1 1-2-1-1 1-1 0-3-1-6 0-4 0-1 1-10 0-5 0-3-1-11 0 0 1-1-1 2 2 1 1 1-1 3 0 1 1 5 0 5 0 7 0 3 0 8 0 5 0 3 0 5 0 5 0 2 0 1 0 7-1 1 0 3 0 1 0 6 1 1-1 13 0 0 0 1 0 5 1 1-1 6 0 2 1 3 0 0 0 1-1 1 1 7 0 9 0 0 0 12-1 7 1 8-1 1 1 19-1 3 0 1 0 13 0 2 1 0 0 3 0 3 0 3-1 3 1 11 0 2-1 7 0 1 1 1-1 10 0 3 1 1-1 0 0 0 1 2 0 1 0 0-1 3 0 2 0 5 1 1 0 2 0 6-1 0 1 2 0 2-1 1 1 2-1 1 0 0 1 4 0 0 0 1 0 4-1 4 0 5 1 3 0 2 0 2-1 3 1 3-1 1 0 0 1 3 0 1-1 2 0 2 0 2 1 1 0 3 0 4-1 2 1 8 0 1-1 0 1 1 0 4 0 1 0 8-1 1 1 1-1 0 1 1 0 2-1 4 1 1 0 12 0 11-1 1 0 1 0 2 0 2 0 2 0 7 1 1-1 0 0 3 0 0 1 3-1 7 0 0 0 10 1 2 0 1 0 0-1 5 0 7 0 2 0 7 1 4 0 8 0 4-1 0 0 2 0 9 1 0 0 4-1 11 0 2 0 1 0 0 1 23 0 13-1 4 0 4 0 1 0 2 0 4 1 10 1-1 1-3 0-2-1 0 1-9-1-1 1-6 0-8-1-4 0-5 0-1 1-1-1 0 0-2 1-5 0-1 0-2-1-7 1-4-1-7 0 0 1-8-1-3 1-2-1-1 0-15 0-1 0-9 1-4 0-1-1-2 0-3 1-4-1-3 1-3-1-4 0-5 1-7 0-5 0-3 0 0 0-1 0-2-1-4 1-7 0-2-1-11 0-7 1-2-1-7 1 0-1-1 1-1-1 0 0-13 1-4-1-9 1-5-1-3 1-13-1 0 0-1 1-3-1 0 1-1 0-1-1-4 1-1 0 0 0 0-1-2 1-2 0-1 0-4-1-3 0-1 0-2 1-2 0-6-1 0 0-2 1-1-1-1 0 0 1-1-1 0 0-1 0-2 1-3 0-2 0-2-1 0 1-2 0-3 0 0 0-6 0-6-1 0 1-2 0-4-1 0 0-3 0-3 0 0 0 0 0-2 0-2 0-1 1-7-1 0 1-1-1-3 0 0 1-7-1-6 0-1 0-3 0 0 1-11-1-2 1-1-1 0 1-5 0-24-1-6 1-3-1-2 1 0 0-9 0-1-1 0 1-3 0-1-1-9 0-6 0 0 0-3 0-7 1-1-1-36 0-2 0-5 1-1-1-10 0-13 0-7 1-7-1 0 1-2 0-2 0-5 0-1 0-1 1 6 1 5 0 1 0 18 0 4 0 5 0 0 0 9 0 2-1 8 0 6 1 7-1 1 1 8 0 5 0 0 0 6-1 5 0 13 0 1 0 3 1 1-1 0 1 1-1 8 0 8 1 2-1 3 0 0 1 3 0 3-1 0 0 2 0 3 1 2 0 8 0 10 0 2 0 7-1 5 0 3 0 4 1 4-1 1 0 2 0 8 0 1 0 1 0 1 0 0 1 1 0 1-1 0 0 6 0 0 1 1-1 5 1 0 0 1 0 1-1 9 1 7-1 0 1 1-1 1 1 12 0 1-1 2 0 4 1 2-1 0 0 2 1 1 0 2 0 4-1 0 1 1-1 2 1 2 0 1-1 3 0 0 1 1-1 2 0 1 0 1 1 2-1 2 1 0-1 1 0 3 0 6 1 0 0 4 0 8 0 0 0 4-1 18 1 2-1 0 1 2-1 1 1 3-1 4 0 0 0 2 1 9-1 3 0 5 1 3-1 3 1 8-1 4 1 3 0 2 0 5-1 3 0 3 1 2-1 1 0 1 0 5 1 2 0 1-1 2 0 1 1 0 0 1-1 3 1 3 0 0 0 2-1 3 1 3 0 1 0 3-1 0 1 13 0 0 0 1 0 1 0 17-1 3 0 3 0 5 0 0 0 2 0 2 1 1-1 0 1 1-1 0 1 1-1 2 0 4 1 2-1 3 0 11 0 12 1 2-1 2 1 1 0 2 0 18 1-4 0-1 0-2 1-1-1-3 1-1 0-7 0-13 0-2 0 0-1-1 1-5 0-2-1-2 1-1-1-5 0-19 0-2 1-8-1-3 0-16 0-5 0-12 0-11 0-1 0-3 0-4 0-1 0-3 0-18 0-1 0-4 0 0 1-5 0-8-1-3 1-2 0-1-1-10 1-3-1 0 1-1 0-1-1-1 0-21 0-1 1-1-1 0 1-2-1 0 0-4 0-2 0-4 0-2 1 0 0-1-1-1 1-5-1-1 0-3 0-4 1-1 0-1-1-2 1 0 0 0 0-2-1 0 1-2 0 0 0-2-1-3 0-4 0 0 0-6 1-2-1-4 1-1 0-3-1-2 1-4-1 0 1-1 0-2-1 0 1 0 0-2-1-2 0 0 1-1 0-1-1-1 1-1 0-2 0-6-1-6 1-4-1-4 0-2 1 0-1-1 0-9 0 0 1-5-1-12 0-3 0 0 0-13 1-2-1-3 0-7 1-9-1-8 1 0 0-2-1-5 1-18-1 0 0-5 0 0 0-6 0 0 1-2-1-1 1-10 0-1-1-4 0-6 1-4 0-1-1-14 1-19 0-1 0-3-1-4 1-1 0-1 0-5-1-10 1-1 0 0-1-2 0-3 1-4-1-5 1-1 0-10-1-1 0 0 1 3 2 1 0 2 0 0 0 3 0 1-1 3 0 6 0 1 1 2-1 1 0 5 0 16 1 0 0 3 0 0 0 7 0 1-1 1 0 2 0 13 1 1 0 2-1 8 0 6 0 1 0 3 1 2 0 2-1 2 0 0 1 1-1 0 0 6 0 4 1 4 0 1 0 1-1 0 1 6-1 7 0 7 0 1 1 1-1 2 1 2 0 5-1 1 1 9-1 2 1 3 0 3 0 3-1 0 1 0-1 2 1 1 0 5 0 8 0 4 0 5-1 0 0 12 0 1 0 3 0 4 1 3-1 6 1 5 0 3 0 5 0 0 0 2 0 0-1 8 0 2 0 1 0 4 0 3 0 0 0 1 0 0 1 3-1 1 1 0 0 1-1 0 0 3 0 5 0 1 1 1 0 2-1 2 0 1 0 6 0 0 0 5 0 0 0 1 1 1-1 0 0 1 0 2 0 3 0 5 0 1 0 3 0 12 0 2 1 4 0 1 0 6 0 4 0 4 0 4-1 0 0 7 0 1 1 9 0 5-1 7 0 13 1 4 0 1-1 21 1 2-1 9 0 0 1 1-1 2 1 5-1 0 1 3 0 7-1 1 1 2-1 2 1 3-1 1 1 8-1 5 0 8 0 5 1 10-1 4 1 0 0 1-1 2 1 12 0 3-1 1 0 0 1 3-1 10 0 0 1 20-1 0 2-3 1-22 0-3-1-5 1-13-1-16 1-3 0-1-1 0 1-4-1-18 1-2 0-8-1-2 0-5 0-2 0-1 0-1 0-1 0-3 0-7 0 0 1-4 0-4-1-10 0-6 1 0 0-6-1-5 0-19 1-6 0-1 0-4-1 0 1-8-1 0 1-2-1 0 1-3 0-1 0 0 0-1-1-2 0-12 0-7 0 0 1-2-1-2 1-2-1-1 1-2-1-3 0-4 1 0 0-1-1-5 0-1 0-2 0 0 1-1 0-2 0-2-1-2 0-4 0-3 0-1 0-2 1 0 0 0 0-1 0-2-1 0 0 0 1-1-1 0 0-3 1-3 0-2 0 0 0-1-1-6 1-2-1-1 0-3 0-2 0 0 0-2 1-1 0-3-1-1 1-1-1-2 0-3 1-4 0-4 0-7-1 0 1-2 0-1-1-5 0-3 1-1-1-2 0-13 1-2-1-1 0-8 1-8-1 0 1-1 0-3-1-1 1-1 0-4 0-3-1-1 1-6-1-9 1-2-1 0 1-4-1-2 1-9-1-4 1 0 0-2-1-6 1-4 0-2-1-2 1-3 0-2-1-9 1-8-1 0 1-2-1-10 0 0 1-1-1-6 0-6 0-3 0-1 0-2 1-2-1 0 0-3 0 0 0-1 0-1 0 0 1-5-1-1 0-3 0-8 0-6 1-5-1 0 0-6 0-1 1-5-1-2 0-1 1-1-1-5 3 3 0 0 0 3-1 9 1 0 0 2 0 2-1 10 0 5 0 1 0 3 1 6 0 2 0 8 0 2-1 2 1 2 0 13-1 2 1 11-1 1 1 3-1 0 1 2 0 7-1 1 1 4 0 12-1 2 1 2 0 2 0 1 0 1 0 2-1 0 1 6 0 5-1 2 1 5-1 18 0 0 1 5-1 22 1 0 0 2-1 3 1 0-1 2 1 1-1 2 0 5 1 1 0 4 0 2 0 4 0 7-1 12 1 5-1 1 1 2 0 0 0 3-1 0 1 2-1 7 0 2 0 1 0 1 1 1-1 5 1 1-1 1 1 0 0 1-1 9 1 2-1 0 1 0 0 0 0 6 0 2 0 0-1 1 1 1-1 2 1 3-1 3 0 1 0 5 1 1-1 6 0 1 0 0 0 1 0 1 0 5 1 10 0 1-1 5 0 0 1 0 0 1-1 0 1 3 0 2 0 1 0 8-1 2 1 1 0 5-1 4 0 0 0 4 0 1 1 18-1 0 0 1 0 2 1 5-1 7 0 4 1 12-1 1 0 3 1 4-1 6 1 7 0 3-1 0 0 1 1 4-1 3 0 7 1 7-1 9 0 2 1 0 0 1-1 2 1 3-1 3 0 1 1 1-1 1 0 5 1 0 0 1 0 1-1 3 1 3 0 3-1 4 0 1 0 1 1 2 0 5-1 0 1 9-1 7 1 6-1 1 0 3 1 1-1 6 3-2-1-5 0-14 0-1 1 0 0-6 0-1-1 0 1-2 0-3-1-4 0-6 1-2-1-2 0-1 0-4 0-3 1-2 0-9 0-1-1 0 0-9 0 0 0-21 1-4 0-4 0-5 0 0 0-12-1-5 1-9-1-6 0-1 1-2 0-1 0-8-1 0 0-1 0-9 1-1 0-17-1-17 0-6 1-1-1-1 1-7 0-3-1-2 1-1-1-7 1-3 0-1-1 0 0-1 0-1 0 0 1-1-1-2 1 0 0-1-1-1 1-3-1 0 1-7 0-1-1-8 1-1 0-2 0-2 0-11-1-2 0-2 0-4 1-1-1-1 0-5 1-9 0-1-1-3 1-1 0-1-1-10 1-1-1-1 1-8 0-1 0-2 0-2-1 0 1-3-1-1 0 0 0-3 1-3-1 0 1-5-1-7 0-1 1-1 0-1-1-1 1-8-1-5 1-7 0-7-1 0 1-4 0-2 0 0 0-11-1-1 0-4 0-1 1-8-1-4 1 0 0-4 0-4 0-7 0-3 0-11-1-2 1-2 0-3-1-2 0-2 1-3-1 0 1-5 0 0 0-17-1-6 1 0 0-2-1 0 0-5 1-3-1 0 1-5 0-4 0-3-1-2 1-4 0-1-1-1 1-22-1-1 0 0 1-4 0 10 2 5 0 4 0 5 0 18-1 2 0 1 1 8 0 7-1 1 0 6 0 3 1 10 0 1-1 6 0 0 0 6 1 1 0 3-1 12 1 2-1 7 0 2 1 7-1 1 0 11 0 0 1 3-1 1 1 0 0 10 0 1-1 9 1 6 0 0-1 14 0 3 0 0 1 5 0 7-1 2 0 3 0 3 0 4 0 6 1 5-1 1 1 0 0 1-1 2 1 8 0 1-1 3 0 1 0 1 1 3-1 0 1 4-1 7 1 0 0 3-1 4 1 3-1 2 1 2-1 4 1 0 0 1 0 1-1 0 0 0 1 1 0 0 0 1-1 1 0 0 1 0 0 2 0 3 0 0 0 1-1 1 1 2 0 2-1 2 0 2 0 2 1 1-1 2 0 4 0 5 0 1 1 0 0 4 0 1-1 9 1 0 0 0 0 24-1 1 0 4 1 15 0 16 0 6 0 3-1 10 0 4 0 18 0 1 1 4-1 1 1 7 0 3 0 1-1 0 1 4-1 9 1 4 0 2-1 7 1 0-1 3 0 8 1 5-1 1 1 1 0 3-1 2 0 1 0 0 0 8 0 2 1 2-1 3 0 12 1 1 0 0 0 1 0 1-1 5 1 1 0 13-1 8 2-1 1-3-1-3 0-1 1-8 0-7 0-15 0-14 0-4 0-1 0 0 0-2 0-6 0-2-1-1 1-3-1-9 1-4 0-3-1-4 0-2 1-11-1-4 0 0 0-2 1 0 0-2 0-6-1 0 1-1-1-15 0-3 0-17 1-12-1-7 1-8-1-2 0-9 1-2 0-1-1-11 1-3 0-3-1-1 1-2-1-2 0-5 1-7-1 0 0-1 1-5 0-2 0-3 0-1 0-2 0-5 0-2-1 0 0-2 1 0 0 0 0-2-1 0 1-1 0-1 0-1 0-3 0-2-1 0 0-1 0-1 1-1-1-1 1-1 0-1 0-3 0 0 0-3-1-8 1 0 0-5 0-2-1 0 1-3 0-3 0 0 0-9 0-5 0-9 0-5 0-1 0-13-1-2 1-2 0-3-1 0 0-6 1-5 0-27-1-6 0-2 0-7 0 0 1 0 0-4-1-7 1-1-1-1 0-6 0-9 1-1 0-8-1-3 0-5 1-6-1-5 1-6 0-4-1 0 1-2-1-4 1-1-1-1 0-7 0-4 1-1 0-1-1-3 0-1 1-1-1-11 1-8-1-2 0-1 1-4 0-4 0-6-1-1 0-2 0-2 1-1 0-3-1-3 0-2 0-5 2 0 0 2 1 1-1 0 0 1 1 3 0 4-1 2 1 6-1 3 1 3-1 5 0 7 0 7 0 2 0 0 0 9 1 4 0 9 0 2 0 7 0 4 0 3 0 3 0 5-1 9 0 0 0 0 1 2-1 6 0 2 0 3 0 5 1 2-1 10 0 6 0 2 0 2 1 3-1 3 0 3 0 3 1 3 0 11 0 1-1 9 1 5 0 1-1 2 1 1 0 2-1 3 1 9-1 0 1 0 0 5 0 1 0 1-1 8 0 6 0 2 1 0 0 8-1 0 0 2 1 2-1 0 1 1 0 5-1 0 1 2-1 3 1 1-1 3 1 1-1 0 1 2 0 1-1 0 1 0 0 3 0 4-1 3 1 3 0 2-1 0 1 5-1 4 0 1 0 5 1 0-1 3 1 1-1 1 1 1-1 0 0 1 0 2 1 1 0 4-1 4 0 0 1 2-1 1 0 0 1 1 0 1 0 1-1 2 1 3 0 1-1 4 0 6 0 13 1 1 0 2 0 2 0 6-1 9 0 1 0 8 0 9 1 6 0 9 0 7-1 0 1 1 0 1 0 7 0 1 0 1 0 3-1 2 0 6 1 11-1 3 0 1 0 1 0 8 0 0 1 12-1 7 1 0 0 1-1 4 1 3 0 2 0 10 0 1 0 9-1 7 0 1 1 1 0 4-1 7 1 2-1 1 1 3 0 11-1 4 1 11 0-8 2-14-1-3 1-2-1-1 0-5 0-1 0-6 0 0 0-20 0-2 0-5 0 0 1-5 0-2-1-4 1-5-1-1 1-1 0-1-1-6 1-3 0 0 0-1 0 0 0-2 0-13-1-10 1-9-1-1 0-4 1-5 0-9-1-1 1-1-1-4 0-5 0-1 0-2 0-9 0-2 1-5-1-2 0-20 1-6 0-1 0-7 0-6-1-7 0-5 0-9 0 0 0-1 0 0 1 0 0-2 0-1-1-1 1-3 0-4 0-5 0-5-1 0 1 0 0-4 0-1-1 0 0 0 0-1 1-1 0-2-1-3 0 0 0-8 1-4-1-3 0-3 0-3 0-2 1-1-1-9 1-1-1-2 0-2 0-1 1-2-1-1 0-15 0-2 0 0 0-1 0-1 1-1-1-3 0-1 0 0 0-9 1-1-1-4 1-1-1-2 1-1 0-2 0-1-1 0 0-7 0-1 1-2 0-2-1-7 0-1 1-1-1-1 1-2-1 0 0-7 0-23 0-3 0 0 0-1 1-7-1-4 1-9-1-5 1-1-1-7 0-2 1-3-1 0 1-4-1-6 0-1 0-8 0-5 1-9 0-1-1-6 0-6 0-4 0-6 1-1-1-4 1-15 0-8-1 0 2 18 0 4 1 1-1 1 0 8 1 0-1 2 0 1 0 1 1 2 0 12-1 10 0 7 0 2 0 2 0 3 0 1 1 1 0 1 0 3-1 4 0 1 1 2 0 2-1 5 1 1-1 1 1 1-1 4 1 4-1 1 1 8 0 3-1 1 1 4-1 7 0 1 0 14 1 19 0 14 0 7 0 4-1 4 0 3 0 0 0 1 0 1 0 2 0 3 0 9 1 1 0 2 0 5-1 9 0 2 0 2 0 0 1 2-1 1 0 2 0 7 0 7 0 0 1 10-1 2 0 1 1 8-1 1 0 2 0 1 1 3 0 1 0 3-1 3 1 1-1 2 1 6-1 0 1 5 0 8-1 1 1 1 0 2-1 5 1 4 0 3 0 1-1 1 1 16 0 4-1 4 1 0 0 4-1 9 1 10 0 4-1 3 0 1 1 4-1 0 1 5-1 5 0 4 1 9 0 5-1 17 1 3-1 10 0 0 0 22 0 0 0 10 0 1 1 6 0 1 0 13-1 11 1 17 0 1-1 7 0 2 0 9 0 0 3-3-1-3 1-2 0-17 0-11-1-3 0-18 1 0 0-1-1-1 0-10 0-6 0-4 1-2 0-3-1-9 1 0 0-1 0-17-1-4 1-7 0-14-1-3 0-11 0-3 0-2 1-3-1-9 1-1 0-7-1-11 1-7-1-4 0-9 1 0-1-1 0-5 0-1 1-8-1-7 0-4 1-2-1-2 0-8 0-2 0 0 1-2 0-1-1-4 1-2-1 0 0-11 1 0 0-1-1-1 1-2-1-5 0 0 1-1-1-4 1 0-1-3 1-2-1-1 0 0 1-1-1 0 0-1 0-1 1-6-1-2 0-2 0-1 1-1-1-14 0-1 0-1 0-8 0-5 0-4 0 0 1-2-1 0 1-2 0-8 0-3 0-2 0-3 0-11 0-7 0 0 0-11 0-10-1-13 0-2 1-26-1-1 1-1-1 0 0-2 0-3 1-4-1-6 1-1-1-6 0-1 1-8 0-3-1-13 1-6-1-3 1-3-1 0 1-4 0-10 0-21-1-15 3 0 0 9-1 5 1 10 0 7 0 4-1 2 0 2 0 13 1 18 0 24-1 1 1 5-1 4 1 5 0 11 0 4-1 7 1 7-1 1 1 1 0 4 0 30-1 1 1 1 0 2 0 10 0 1 0 4-1 0 1 3 0 1 0 6 0 1 0 4 0 2-1 7 0 2 1 1-1 1 1 0 0 1-1 8 1 1-1 2 0 3 0 2 0 2 1 8-1 1 1 9 0 3-1 5 1 2-1 1 0 0 1 5-1 0 1 3 0 1 0 0 0 2-1 0 1 1-1 1 0 0 1 0 0 1 0 2-1 4 1 2-1 1 0 1 1 10 0 8-1 3 1 6 0 5-1 0 0 3 1 3 0 7 0 2 0 0 0 11 0 2 0 6-1 9 0 1 0 12 1 9 0 0 0 2 0 6-1 3 1 7 0 2-1 1 1 1 0 9 0 6-1 2 0 17 0 2 0 1 0 1 1 6 0 1 0 2-1 4 0 8 1 10-1 1 0 6 0 1 1 7-1 9 1 0 0 11 0 1-1 2 1 20-1 2 2-8 1-15-1-7 0 0 0-2 0-1 0-3 0-6 0-15 0-6 1-3 0-5 0-3 0-2 0-2-1-7 1-1-1-4 0-13 0 0 1-1 0-5 0 0 0-1 0-8-1-2 0-3 0-3 0-3 0 0 0-1 0-5 1-1 0-7-1-2 1-22-1 0 1-3 0-7-1 0 1-9 0-12-1-5 1-6-1 0 1-1 0-2-1-5 0-1 1-6-1-2 1-3-1 0 1-2-1-3 1-3-1-5 0-4 1-2 0-1 0-2-1-3 1-2 0-4-1-1 0-2 0 0 0-5 1-15-1 0 0-6 1-1-1 0 0-3 1-1-1-6 1-3 0-1-1-2 0-3 0-6 0-2 0-1 0 0 0-4 1-4 0-1-1-1 0-4 1 0 0-6 0-2-1-4 1-1-1-1 0-1 1-8 0-4 0 0 0-2 0-1 0-2-1 0 1-4 0-2-1-1 0-5 0-6 1-9 0-4-1-1 0 0 0-4 1-4-1-7 0-1 1-5-1 0 1-4 0 0-1-1 0-2 0-3 1-6-1-1 0-5 0-1 0-1 1-1-1 0 1-9 0-4-1-2 0-9 1-5-1-10 1-12-1-6 0-9 1-6-1-5 0-9 0-10 0-3 3 9 0 1-1 1 0 5 1 18-1 23 1 11 0 8 0 14 0 3 0 1-1 0 0 5 0 2 0 3 0 13 0 3 1 6 0 4-1 6 1 2 0 10 0 20-1 3 0 4 0 3 1 10-1 3 0 3 1 1 0 1-1 8 1 0 0 3 0 1 0 2-1 4 0 13 0 3 1 3-1 7 1 4-1 0 0 4 1 5-1 2 1 1-1 1 1 2-1 11 1 1 0 4-1 0 1 0 0 10-1 1 0 0 0 0 0 5 0 4 0 0 1 1 0 5-1 2 0 4 1 17 0 2 0 0-1 1 1 2 0 4 0 12-1 0 0 1 0 8 0 5 1 19 0 1-1 1 1 7 0 3-1 7 0 6 1 4 0 1-1 1 1 12 0 0 0 6 0 2 0 6 0 4-1 0 0 2 1 0-1 7 0 1 1 2-1 12 0 2 0 11 0 10 0 4 0 1 1 2 0 1 0 4 0 1 0 2-1 2 1 4 0 6-1 2 1 0 0 1-1 5 1 4 0 1 0 1 0 1 0 3-1 10 1 5 1-3 1-4-1-1 1-3-1-2 0-2 0-12 0-15 0-1 1-4-1-11 0-2 1-19-1-1 0-12 1-1-1-1 1-1-1 0 1-1 0-3 0-15 0 0 0-11 0-9-1-9 0-1 1-2 0-8 0-4-1-4 1-4 0-6 0-15-1-22 0 0 1-1 0-6-1-1 0-6 1-6-1-6 0-3 0 0 1-1-1-2 1-1-1-2 1-2-1-3 0 0 0-1 1-2 0-2 0-1 0-2-1-8 1-1 0-3 0 0 0-1-1 0 1-1-1-3 0 0 1-10 0-11-1 0 1 0 0-2-1 0 1-3 0-5 0-1 0-2-1 0 0-5 1-4 0-5 0-1-1-1 1-2 0-2 0-2-1-1 1-1 0-2-1-5 0-1 0-4 1-15 0-3 0-7 0-1-1-3 0 0 0-3 1-4-1-1 1-16-1-4 0-1 0-5 1-6 0-18-1 0 1-3 0-4-1-4 0-2 0-8 1-6-1-1 0-3 0-2 1-4-1-3 0 0 1-11-1-3 1-4 0-4 0-13-1-1 0-9 1-25 0 2 1 2 1 9-1 0 1 12-1 0 0 23 1 0 0 2-1 9 0 3 0 8 1 11-1 2 1 7 0 2 0 0 0 5-1 6 1 1 0 3-1 2 1 2-1 10 1 4-1 1 0 4 0 0 1 20-1 3 0 0 0 1 0 5 1 3-1 1 1 7-1 0 1 10-1 1 1 2-1 1 1 0 0 4-1 1 1 1-1 14 1 1-1 5 1 5 0 1-1 4 1 7 0 4 0 8 0 3-1 5 0 10 0 3 1 1-1 2 1 2-1 0 0 0 1 9-1 3 0 3 0 0 0 3 1 4-1 2 1 1-1 1 1 1-1 6 0 6 0 3 0 1 0 2 0 21 1 1-1 0 0 7 1 0-1 2 0 7 0 8 0 6 1 1 0 5 0 3-1 1 0 6 0 8 0 6 0 13 0 6 1 3-1 5 0 3 0 19 0 8 1 12 0 5 0 1 0 17 0 14 0 2-1 3 0 2 1 9-1 3 0 4 1 2-1 3 0 0 1 6 0 1 0 0 0 7 0 0 1-1 0-6 0 0 1-2 0-17-1-9 1 0 0-3 0-1-1-2 1-6 0-4 0-1-1-2 0-4 1-4 0-1 0-7 0-5 0-1 0-7-1-8 1-13 0-5-1-5 1-1-1-5 1-1-1-13 0-6 1-1-1-17 1-3-1-2 1-2-1 0 1-1-1-11 0-6 1-5 0-4 0-9-1-9 0-3 0 0 0-14 0-2 0-2 0-5 1-3 0 0 0-2-1-5 1-3 0-5 0-5 0-1-1-4 0 0 0-1 0 0 1-3 0-3-1-2 0-2 1-1 0-22 0 0 0-7-1-1 1-1-1-1 1-2-1 0 0-1 1-3 0-6-1-9 1-5-1-6 1-4 0-1 0-3 0-3 0 0 0-5 0-1-1-4 1 0 0-6 0-13-1-6 0-8 1-7 0-8 0-10 0-2 0-1-1-4 0-1 0-23 0-1 1-3-1-7 0-8 0-1 1-1-1 0 1-3 0-1 0-4-1 0 1 0 0-7 0-7 0-2 0-13 0-3-1-1 1-1 0-4-1-9 1-4 0-1 0-7-1-6 2 2 0 3 1 4-1 10 0 16 1 5-1 0 1 6 0 1-1 2 1 1-1 2 0 2 0 0 1 4-1 0 0 2 0 8 1 6 0 11 0 14-1 1 0 2 1 1-1 2 1 0 0 5-1 0 1 2-1 6 1 2-1 3 1 7 0 22 0 11-1 8 1 9-1 3 1 1-1 2 1 4 0 3-1 7 0 3 0 4 1 4 0 6-1 1 0 5 1 2 0 3-1 1 0 2 0 0 1 1 0 3-1 0 0 0 1 4-1 1 1 3-1 8 1 1 0 3-1 0 1 2-1 3 1 7-1 5 0 3 1 4 0 4-1 0 1 1-1 0 0 3 1 1 0 1 0 3 0 3-1 2 1 3-1 3 1 1-1 1 0 1 0 1 0 0 0 5 1 1-1 2 1 1-1 0 0 8 1 6 0 2-1 4 0 0 0 0 1 1-1 14 0 7 0 1 1 6-1 6 1 4-1 1 0 1 0 1 0 0 1 4-1 0 1 8 0 3 0 1-1 7 1 9-1 2 0 3 0 1 0 3 0 13 0 6 1 6 0 4 0 1-1 1 0 4 0 4 1 2-1 0 0 3 0 4 1 4 0 9 0 6 0 1-1 11 1 2-1 1 1 5-1 4 0 5 0 1 1 4-1 12 0 2 1 4 0 5 2-4 0-4 0-3-1-1 1-8 0-2-1-9 1-16 0-7 0-6-1-5 0-9 0-4 1-3 0-5 0-6 0-9 0-17-1-1 0-8 0-16 1-2 0-3-1 0 0-1 1-1 0-9 0-4 0-2-1 0 0-2 1-12 0-8 0-2-1-5 0-9 0-22 1-3-1-3 0-3 0-3 1-1 0-9-1-3 0-4 1-4-1-1 0-1 0-1 0 0 0-1 1-1 0-2-1-8 0-8 0-7 0-1 1-1-1-1 1-3 0-4-1-6 1 0 0 0 0-2 0-1 0-9-1-7 0 0 1-1-1-6 1-2-1-10 0-5 0-2 0-3 1-2 0-12 0-5 0-4-1-7 0 0 1-1 0-2 0-7 0-1 0-18 0-10-1-2 0-2 0-8 1-5-1-4 0 0 1-3 0-2 0-1 0 0 0-4 0-1 0-2-1-5 1-6-1-5 0-6 0-1 0-3 0-4 1-9 0-1-1-18 0-24 1-1 0-2-1-3 2 0 1 6 0 5 0 9-1 5 0 0 0 2 0 9 0 6 1 6 0 4-1 2 0 0 1 4-1 9 1 3 0 3 0 1-1 2 0 16 0 10 1 7 0 7-1 0 0 3 0 24 1 7 0 5-1 10 1 7 0 11-1 4 0 14 0 2 0 2 1 6-1 0 1 3-1 0 0 2 0 1 1 1 0 0-1 0 1 10-1 0 0 7 1 1-1 3 1 1 0 3-1 1 0 0 0 15 1 3 0 1 0 1-1 0 1 1 0 3-1 3 1 9 0 2 0 1 0 3 0 1 0 7-1 0 1 3-1 5 0 7 0 1 1 3 0 2-1 1 0 5 1 4-1 2 1 1-1 0 1 1-1 5 0 0 1 3 0 4-1 5 0 6 0 1 1 13 0 1 0 7-1 5 0 7 1 3-1 1 0 2 1 6-1 5 0 4 0 9 0 2 1 9-1 4 1 3 0 2-1 1 0 0 1 5 0 9 0 2 0 9 0 15-1 6 1 3 0 1 0 2-1 12 1 9-1 1 1 4 0 0 0 17-1 5 0 6 0 0 1 0 2-1 0-6 0-10 0-3-1-6 0 0 0-3 1-28 0-1-1-1 1-12-1-1 1-5 0-8-1-5 1-3 0-6-1-10 1-12-1-1 1-8 0-11-1-3 0-8 0-2 1-1 0-1 0-2 0-3-1-5 0-3 0-2 0-3 1-2-1-1 1-7 0-1 0-5 0-3-1-9 0 0 1-1 0-1-1-1 1-1-1-25 0-11 1-1-1 0 1-6-1-2 0-7 0 0 0-1 1 0-1-6 1-1 0-1-1-1 1-1-1-13 0 0 1-2-1-1 0-1 0-12 0-2 1-2-1-3 1-3 0-2-1-1 0-1 0 0 0-1 1-5-1-3 1-4-1-9 0-2 1-1 0-5-1 0 1-3-1-1 1-31-1-7 1-20-1-1 0-5 1-3 0-24-1-2 0-3 1 0 0-17-1-8 0-9 1-9-1-1 0 0 1-5 0-3-1-12 1-6 0-1 0-1 0-3 0-1-1-1 0-7 0-12 0-6 0 0 0 7 3 9-1 2 1 12-1 1 1 6-1 9 1 7-1 4 1 6-1 0 1 5 0 10-1 3 1 2 0 7-1 0 0 5 1 1 0 9 0 1 0 2-1 10 0 4 0 0 1 10 0 3 0 7 0 7-1 5 1 3-1 0 1 2-1 2 0 7 1 0-1 20 1 4 0 3-1 8 0 6 0 2 1 8-1 1 1 0-1 2 0 2 0 13 1 5 0 1 0 2 0 2 0 4 0 1 0 8 0 2-1 1 0 3 1 12 0 4-1 4 0 0 1 1-1 1 0 1 0 4 1 5-1 0 1 3-1 4 1 1 0 1-1 7 1 1 0 5 0 2-1 11 0 20 0 2 1 11 0 7-1 6 0 6 1 11 0 0 0 6 0 1 0 5-1 5 0 5 1 8 0 0 0 1-1 1 0 3 0 0 0 2 1 8-1 11 0 1 0 17 0 1 0 13 0 4 1 2-1 7 0 15 1 3 0 9 0 9-1 0 1 5-1 2 3-1 0-5 0-4 0-15 0-1 0-1 0-5 0-7 0-3 0-7-1-5 1 0 0-9 0-19 0-1 0-2 0-2-1-4 0-1 1-2 0-12-1-4 1-11-1-9 0-6 1 0 0-7 0-23-1-15 1-4 0 0 0 0 0-7-1 0 0-2 1-6-1-7 0-2 0-9 1-2-1-3 0-2 0-3 1-3-1-3 1-7-1-3 1-1-1 0 1-1-1-1 0-9 0-1 0-5 0-12 0 0 0-1 0-2 1-1-1-5 1-3 0-2 0 0 0-3-1-2 0-5 1-3-1-2 1-4-1-3 0-4 1-2 0-5 0-2 0-6-1-3 1-10-1-3 1-8 0-3-1-2 0-3 1 0 0-8 0-15 0-1-1-4 1-12 0-5 0-9-1-3 0-2 0 0 0-9 1-19-1-1 0-29 0 0 0-45 1-1-1-10 0-2 1-1 0 0 1 12 0 3 1 6-1 9 0 2 0 1 0 19 0 2 1 1 0 0 0 2 0 5-1 3 0 4 1 5 0 22 0 5 0 2 0 1 0 11-1 0 0 16 1 5 0 13-1 21 1 27-1 10 1 3 0 3 0 3 0 3 0 0 0 4 0 2-1 4 0 7 1 1-1 8 1 5-1 0 1 8 0 7-1 2 0 0 1 4-1 0 1 0 0 1-1 4 0 1 0 2 0 3 0 2 0 0 0 2 1 4-1 2 1 1-1 4 1 2 0 12 0 2-1 5 0 20 0 0 0 6 0 1 1 4 0 2-1 3 0 16 1 13 0 6 0 3-1 3 0 9 0 1 0 4 0 14 1 1 0 10 0 9 0 16 0 0 0 3-1 1 0 4 1 7 0 5-1 0 0 1 1 8-1 1 0 1 1 6 0 15-1 2 1 9-1 9 1 4-1 4 1 3 2-7 0-3-1-1 1-4 0-9-1-3 0-14 0-8 1-12 0-7-1-2 1-16 0-5 0 0 0-2 0-2-1-6 0-4 1-1-1-15 0-8 1-9 0-1-1-3 1-7 0-1 0-3 0-6-1-7 0-11 1-8 0-9 0-5-1-3 0-1 0-7 1-9-1-20 1-2 0-7 0-2-1-2 0-1 0-8 1 0 0-5-1-2 0-3 0-4 0-9 1 0 0-2-1-5 1 0-1-2 0-2 1-1-1-8 0-10 1-13 0-2-1-13 1-2 0-3-1 0 1-2 0-2-1-9 1-12 0-2-1-3 1-12-1 0 1-7-1-3 0-6 0-2 0-27 1-5-1-12 0-15 1-4-1-2 1-5-1-11 0-1 1-3 0-9 0-2-1-1 0-12 0-7 0-3 0-7 0-4 1-7-1 3 2 3 1 1 0 20 0 18-1 22 1 1 0 4-1 3 1 4-1 2 0 1 0 8 1 22-1 7 0 25 1 2 0 2-1 12 1 8-1 4 0 2 1 5-1 2 1 4-1 5 0 7 1 6 0 4-1 11 0 0 1 0-1 6 1 7 0 0 0 2-1 6 0 2 0 4 0 2 1 16 0 7-1 1 0 4 1 6 0 2-1 1 1 19-1 2 1 5-1 4 0 6 1 8-1 2 0 5 1 0-1 1 1 2 0 12-1 2 0 4 1 5-1 8 0 4 0 9 0 1 1 2-1 6 0 18 0 4 1 19-1 7 1 10-1 1 0 5 0 3 0 3 0 0 1 3 0 1-1 8 1 2 0 8-1 1 0 1 0 1 1 8 0 9 0 0 0 3 0 12 0 9 0 13 0 5 0-23 1-4 1-10-1-3 1-4 0-17-1-7 1-3-1-5 0-5 0-3 1-1-1-1 0-3 1-11-1-12 0-4 0-4 1-6-1-13 1-6 0-1-1-2 0 0 1-2-1 0 1-9-1-15 0-5 0-2 0-3 1-37-1-4 0-4 1-7 0-1 0-7 0-1 0-1-1 0 0 0 1-4-1-1 0-3 0 0 1-1-1-5 1-3 0-3 0-1 0-2 0-7-1-1 1-1-1 0 0 0 0-10 0-11 0-5 1 0 0-1-1-5 1-7-1-7 1 0 0-9-1-2 0-8 0 0 0-4 0 0 1-2-1-10 1-12-1 0 1-3-1-16 1-4 0-8-1-2 1-2 0-30 0-4 0-17 0-4-1-4 0-15 0-6 1-11-1-1 0-2 0-4 0 0 0-1 1-7 0-1 0-3 0-6 0-16-1-4 0-2 0 3 2 2 0 3 0 1 1 15-1 2 0 4 0 2 0 20 1 13-1 5 1 4 0 5 0 11-1 7 1 8-1 0 1 2-1 6 0 6 1 4-1 9 1 3 0 9 0 2-1 18 0 10 1 3 0 5 0 2 0 6-1 9 1 11-1 3 0 2 1 1-1 5 1 10-1 1 1 3-1 0 1 11 0 7-1 3 1 9 0 12-1 1 1 2 0 6-1 10 0 1 0 6 0 1 0 0 0 4 0 33 1 1 0 5-1 17 0 3 1 2 0 27 0 3 0 1 0 22-1 1 0 5 1 8 0 2 0 3-1 1 0 1 1 6-1 1 0 11 1 17-1 5 0 9 0 43 0 7 1 0 2-6 0-34-1-2 0-14 0-11 1-3-1-28 0-4 0-2 0-16 1-10 0-13-1-1 0-6 1-3 0-4 0-5-1-6 1-21-1-5 0-10 1-11-1-14 1-8-1-6 0-2 1-1 0-5 0-2 0-1-1-9 1-5-1-1 0-3 1-7-1-1 1-1-1 0 1-9 0-1-1-3 1-1 0-5-1-1 0-2 0-1 0-2 1-1-1 0 1-3-1-2 1-3 0-10-1-1 1-1-1-13 1-2 0-6-1-4 1-1 0-15 0-16-1-1 0-1 1-5 0-14 0-6 0-1 0-21 0-30 0-2 0-1 0-7-1-28 1-2-1-4 1 0 0-8 0-2-1-5 1-3 2 2-1 4 1 5 0 2 0 6 0 3-1 3 0 13 1 1 0 5-1 7 1 12-1 3 1 3-1 5 0 0 1 2-1 0 1 2-1 15 1 4 0 12-1 7 0 20 1 11-1 16 1 7-1 2 1 4 0 18-1 5 1 2 0 4-1 5 0 0 1 9-1 6 0 2 1 14 0 0 0 2-1 3 0 1 1 1-1 3 0 3 1 9-1 0 1 1-1 9 0 2 0 2 1 0 0 3-1 1 1 1 0 4 0 3 0 3-1 3 0 20 1 2-1 0 1 2-1 4 1 10-1 8 0 1 1 2 0 1 0 1 0 0 0 10 0 10-1 6 1 7-1 12 1 4 0 15-1 8 1 7 0 8 0 3 0 1-1 1 1 2-1 7 0 0 1 2-1 23 1 13-1 1 1 3-1 1 0 21 0 2 1 1-1 1 1 10 1-1 1-1-1-10 0-14 1-10 0-2-1-5 1-8-1-2 1-21-1-2 0-9 1-28-1-13 0-1 1-8 0-42-1-1 1-1-1-1 1-10-1-6 0-3 1-1 0-1-1-4 0-2 0-5 0-8 1-5 0-3 0-1-1-10 1-1-1-1 0-2 1-16-1-2 0-1 1-2 0-1 0-2 0-3 0-3-1-6 1-2-1-4 1-3 0 0 0-10-1-2 1-3 0-13-1-2 0-1 1-1-1-9 1-15-1-18 0-2 1-3 0-27-1-8 0-1 0-2 0-5 0-11 0-2 1-2 0-8-1-5 1-6-1-10 1-6-1-12 1-2 0-14-1-6 0-2 0-1 0-1 0-13 1-8-1-3 1-6-1 0 1-6 0-2 0-6 0 15 2 13 0 1-1 13 0 7 1 10-1 31 0 5 1 16 0 12-1 8 0 0 1 2-1 16 0 8 1 30 0 6 0 3 0 17-1 2 1 8 0 5 0 1-1 7 0 11 0 0 1 1-1 10 0 1 1 7 0 11-1 4 0 9 0 2 1 2 0 2 0 0-1 11 1 0 0 6-1 2 0 15 1 15-1 1 0 5 0 3 0 6 1 9 0 21-1 3 0 3 0 20 1 15 0 7 0 11 0 3 0 8-1 5 0 2 1 9-1 2 0 5 0 19 1 16-1 6 1 5-1 11 2-16 0-10 0-7 0-6 0-9 1-27 0-5-1-7 0-2 1-4 0-13-1-4 1-8 0-2-1-4 1-5-1-5 1 0 0-1-1-3 0-35 1-9-1-56 0-4 1-1 0-3 0-2-1-2 1-3 0-3-1-5 0 0 1-1 0-4-1-2 0-3 1-4-1-3 1-1 0-37-1-42 1-15 0-1 0-1 0-5 0-1-1-53 0-3 1-7-1-18 0-23 0 0 0-16 0-20 1-1 0-15-1-2 2 17 1 6-1 3 1 7 0 22-1 0 1 34 0 2-1 11 0 20 1 2-1 7 0 13 0 3 1 5-1 4 1 9-1 3 1 2-1 1 0 5 0 10 0 1 1 30-1 7 0 1 0 4 1 3 0 4-1 2 0 4 1 3 0 22 0 2-1 5 0 1 1 5 0 7-1 0 1 3-1 2 1 9-1 3 1 11-1 11 1 10 0 2-1 1 1 4 0 4 0 10-1 11 0 20 0 18 0 13 0 0 1 4-1 26 0 39 1 6-1 11 0 9 1 1 0 4 0 9-1 7 1 8 0-3 1-3 1-1-1-43 1-15 0-8 0-16-1-4 1-14 0-16-1 0 0-2 1-1 0-11-1-2 1-4-1-10 0-4 0-9 1-5-1-7 0-17 0-6 1-24 0-5-1 0 1-3 0-10 0-3 0-1-1-5 1-4-1-1 0-3 1-17 0-8-1-4 0-1 0-4 1-2-1-2 1-10 0-3-1-1 0-5 1-3-1-4 0-3 0-6 1-18-1-2 1-3 0-1 0-8 0-13-1-1 0-14 1-5-1 0 0-6 1-11-1-10 0-6 0-1 1-6 0-16-1-12 1-4-1 0 0-25 1-1 0-6-1-2 1-3-1-6 0-19 1-5-1-3 1-4-1 5 2 12 0 4 0 24 0 1 0 12 0 22 1 16-1 3 0 1 0 3 1 9-1 0 1 3-1 3 1 5-1 28 1 2 0 35 0 4-1 11 0 4 0 1 1 11-1 6 1 11-1 3 1 9-1 7 0 1 1 3-1 12 1 6-1 2 0 4 1 7-1 7 1 6 0 12 0 1 0 4-1 4 0 4 1 17-1 11 1 1 0 23 0 14-1 0 1 1 0 1-1 13 0 16 1 3 0 2-1 0 0 1 0 26 1 13-1 1 0 15 1 6 0 8 0 2-1 30 0 11 0 1 1-6 1-23 1-23-1-4 0-27 0-6 0-12 1-46-1-24 1-16-1-18 0-10 1-1-1-3 1-3-1 0 0 0 1-2-1-8 0-9 0-1 0-1 0 0 1-3 0-9 0-1-1-3 0-9 0-11 0-2 0-2 0-3 0-8 0-4 1-4 0-10-1-9 0-12 1-7-1-2 1-6 0 0-1-2 0-1 0-12 1-15 0-16-1-13 0 0 0-6 0-33 1-47-1-6 1-9-1-34 1-1 0-2 0 8 1 0 0 1 0 11 1 6 0 1 0 14-1 24 1 3-1 6 0 9 0 4 1 7 0 3 0 1-1 1 1 8-1 3 0 2 0 9 1 18-1 1 1 25 0 37-1 17 0 0 1 5-1 5 1 21-1 3 1 9-1 2 0 8 0 1 1 4-1 19 1 8 0 15-1 1 0 7 0 8 1 0-1 12 0 1 1 6 0 12-1 2 1 10-1 12 1 22-1 39 0 5 0 1 1 0-1 22 0 7 1 2 0 7-1 32 0 9 0 6 2-10 0-17 1-5 0-1 0-11 0-15 0-3 0-1-1-20 0-1 0-23 0-9 0-9 0-28 0-11 0-15 1-9 0-7-1-2 0-6 1-1 0-5-1-16 0-3 0-16 1-1-1-7 0-8 1-11 0-5-1-3 0-6 1-6-1-10 1-3-1-13 0-4 0 0 0-3 0-24 1-3-1-3 0-2 0-39 0-9 0 0 0-41 1-24 0-5 0-10-1-45 1-7-1 32 2 1 0 7 1 8 0 7 0 17-1 8 1 1 0 29-1 8 1 3 0 2 0 4-1 4 1 2 0 1 0 11-1 10 0 3 0 7 1 3-1 9 0 31 1 5-1 6 1 26-1 1 1 1-1 8 0 6 1 4-1 1 0 24 0 19 0 13 1 10-1 2 1 10 0 11 0 4-1 9 1 2 0 5-1 3 0 23 1 22 0 24 0 9 0 22-1 12 1 0 0 3-1 12 0 8 1 9 0 5-1 7 1 4-1 0 1 0 2-24-1-16 1-4 0-13 0-3 0-2 0-2-1-10 1 0 0-22-1-14 1-20 0-4-1-2 0-31 0-13 1 0 0-19-1-3 1-6-1-10 0-2 0 0 1-3 0-31 0-4 0-1-1-10 0-8 1-7-1-1 1-1-1 0 1-4-1-5 0-2 0-8 0-6 1-5-1-26 1-1-1-12 1-5-1-2 0-21 1-31-1-13 1-10-1-11 1-1 0-21 0-2-1-4 0-22 1-3 0-1-1-7 0-1 0-22 0-3 0-7 2 43 1 5-1 11 0 8 0 2 1 25 0 38 0 8-1 2 1 2-1 36 0 34 0 0 1 2-1 17 1 2 0 3-1 8 0 9 0 5 1 2 0 6-1 1 1 4-1 11 0 11 0 2 0 1 0 23 0 10 1 1-1 6 0 17 0 11 0 10 0 14 1 84 0 4 0 11 0 4-1 15 0 16 1 9-1 1 0 6 1-22 2-1 0-15 0-1 0-7 0-19 0 0 0-8-1-10 1-41-1-3 1-12-1-23 1-22-1-18 1 0-1-6 0-1 1-8 0-27 0-7-1-15 1-10 0-6-1-1 1-10 0-3 0-15 0-5 0-5-1-17 0-19 1-1-1-4 0-16 0-7 0-25 1-7 0-9-1-4 1-11-1 0 0-8 0-18 0-12 0-3 1-7-1-45 0 0 3 10-1 4 1 9-1 35 1 9-1 36 1 2 0 12-1 0 1 79 0 2-1 32 1 10-1 2 1 1 0 2 0 1-1 6 1 4 0 5-1 17 1 12 0 17-1 13 0 42 0 7 0 7 1 20-1 29 0 4 0 3 1 31 0 19-1 51 3-4 0-7-1-26 1-15-1-8 1-47-1-8 1-9-1-61 1-31 0-5-1-37 0-7 0-2 0-11 1-8-1-10 1-6-1-5 0-17 0-18 0-15 0-47 0-18 1-2 0-4-1-9 1-13 0-5-1-3 0-1 1-16 0-15 0 0 0-9 0 0 0-38 2 1-1 17 1 74-1 21 0 0 0 8 0 51 0 35 0 7 0 3 1 7 0 11 0 7 0 21-1 11 1 4-1 44 0 2 1 22-1 18 0 9 0 23 1 1-1 15 0 25 1 2 0 3 0 16 0 37-1 1 1 25 0 1 0 12 0 4 1-38 1-12-1-3 1-1-1-18 1-25 0-10 0-15-1-15 0-20 1-37-1-1 1-12 0-31-1-9 1-21-1 0 1-10-1 0 1-22 0-1 0-2-1-102 1-36 0-8-1-51 1-7 0-34 1 1 0 1 1 70-1 4 0 17 1 43-1 3 0 1 0 2 0 9 0 60 0 2 1 60 0 13 0 18-1 23 0 55 1 24-1 36 0 32 1 5-1 5 0 15 1 30-1 0 1 9 2-3-1-12 1-24 0-11-1-5 1-14 0-14 0-18 0-38 0-4 0-26 0-18-1-45 0-19 0 0 1-17-1-1 0-11 1 0 0-3 0-31-1-13 1-16 0-20-1-2 1-114 0-58 0 28 2 12 0 18 0 13 0 23-1 43 0 9 0 74 1 17-1 8 1 9-1 13 1 13-1 22 1 12-1 25 1 26 0 11 0 27 0 46-1 6 1 47-1 29 1 7 0-4 1-89 1-6-1-13 1-15 0-24-1-3 1-7 0-23 0-3-1-3 0-20 1-14-1-4 1-19 0-32 0-14-1-2 0-10 0-67 0-3 1-24-1-2 0-61 0-28 0 12 2 109 0 5 1 8-1 76 1 1-1 28 0 79 0 50 1 6 0 13 0 5-1 45 0 11 0-19 2-25 0-20 1-50 0-31 0-45-1-4 1-13 0-17 0-10 0-3-1-9 0-159 0-75 0 313 3 5-1 17 1 130-1 43 2-46 1-46 0-20 0-292 0-36-1-64 0-12 0 72 3 25-1 30 0 128 0 2 0 2 1 1-1 8 1 15 0 31-1 31 0 15 1 8-1 42 1 62-1 47 0-128 3-90-1-144 1-2 0-7 0-68 0-88 1 82 0 7 0 5 1 89 0 4 0 1-1 29 0 1 0 7 1 55-1 31 0 2 0 12 1 101 0 86-1 10 2-31 0-34 1-45 0-118-1-2 0-73 0-127 0-21 1-3 0-70 1 13 1 21 0 8-1 51 0 32 1 25 0 163 0 61-1 146 1-52 1-107 0-10 1-114 0-98 0-106-1 2 2 182 1 109 0 143-1 6 1 13-1-109 2-3 1-17 0-100 0-9 0-10-1-41 0-132 3 163-1 41 1 97-1 94 0 48 0 5 0 12 1-156 1 0 1-97-1-11 1-261 1 104 0 215 0 199 3-430 0-64 0 80 2 79 0 248-1-166 2-64 1-119-1 303 2 68 0-217 3-15 0-54 0-72-1-2 2 42 0 121 1 46-1 189 0 33 0 17 0-67 3-241-1-81 3 131 0 33 0 161-1 44 1-243 2-54 0-192 0 171 2 157 0 114 0 48-1-364 3 0-1 385 4-401 1-116-1-8 0 34 3 2-1 238 0-182 2 402 4-510 0 33 3 111 0 92-1 53 1 177 3 20 0 48 1-356 2-128 2 31 0 121-1 155 6-232 0-6 0 263 5-92 2 80-1-187 3-55 0 163 2 246 0-100 2-197-1-112 0 97 6 23 1 72-1 217 1-237 1-235 0 110 5-128-1 314 3 118 1" fill="none" marker-start="url(#n)" marker-mid="url(#n)" marker-end="url(#n)"/><path transform="scale(0.5)" d="m1151 97 49 0 8 0 33 2-56-1-22 1-6 0-51 0 38 1 9 0 72 0 5 1 2 0 31 2-47 0-75-1-8 1-7-1-27 1 9 2 13 0 26-1 69 1 48-1-39 3-7 0-3 0-30 0-2 0-13-1-28 1-63 2 12-1 0 1 31 0 8 0 4 0 6 0 3 0 10-1 3 0 29 0 0 1 20 0 27-1 3 1 81 2-88 0-13 0-3-1-1 0-5 0-10 1-8 0-9-1-6 0-11 0-5 0-1 0-5 1-1 0-4-1-4 1-8-1-4 1-1-1-15 1-5 0-19-1 15 2 4 1 10 0 5 0 4 0 11-1 2 0 3 0 5 1 5 0 11 0 5-1 6 1 3-1 1 1 2-1 5 1 8-1 1 0 1 1 1 0 14 0 1-1 13 0 1 0 22 3-4-1-1 1-7-1-1 0-2 0-12 0-10 0-9 1-8 0-2-1 0 0-4 0-3 1-6-1-2 0 0 1-1-1-1 0 0 0 0 1-2-1-3 0-1 1-1 0-9-1-1 0-5 0-5 0-1 1-2-1-2 1-13 0 0 0-4-1 0 1-6 0-7-1-28 1-91-1 9 2 84 1 21 0 1 0 1 0 3 0 4 0 11 0 1-1 2 1 2 0 4 0 3-1 2 0 1 0 3 1 5-1 4 1 1 0 0 0 3 0 1-1 4 0 3 1 1 0 7-1 0 0 6 0 2 0 2 0 2 0 0 0 1 1 1 0 4 0 3 0 1-1 8 0 2 0 1 1 2 0 1-1 11 1 0 0 10-1 10 0 3 1 16-1 15 2-7 1-5 0-30-1-3 0-11 1-3 0-1 0-5 0-1-1 0 1-10-1-2 0 0 1-3 0-1 0-4 0-2-1-3 0-1 1-6 0-1-1-7 1-1 0-1-1 0 1 0 0-1 0 0 0 0 0 0 0-1-1 0 1-3-1 0 1-3 0-1 0 0 0-1-1-1 0-1 0 0 1 0 0-1-1 0 0 0 1 0 0-1 0-4-1-5 1 0 0-3 0-4 0-1-1-4 0-1 1-4 0-7-1 0 1-8-1 0 0-1 1-1 0-1-1-4 0-2 0-1 0-4 0 0 1-5 0-18-1-8 1-40-1-48 3 115 0 5 0 3 0 2 0 8-1 2 1 2-1 1 0 1 0 11 0 2 1 2 0 2 0 1 0 1-1 1 1 5 0 1-1 0 1 7 0 1-1 1 0 1 0 0 1 3-1 0 0 2 0 0 1 1 0 1 0 1 0 2 0 2 0 1-1 6 0 1 0 4 1 0 0 1-1 1 1 3-1 2 0 1 0 3 0 2 1 11 0 0 0 2 0 1-1 1 0 3 0 2 1 4-1 1 1 1-1 5 0 2 0 0 1 2-1 14 1 17 0 11 0-6 2-31 0-1-1-4 1-5 0-2-1-1 0-5 0-3 0-1 0-6 1-4-1-1 0 0 1-1 0 0 0-3-1-3 0-2 1-1 0-1 0-3 0 0 0-1 0-1 0-1-1 0 1 0 0-2 0-1-1 0 1-3 0-4 0-1-1 0 1-1 0 0 0-1 0-2 0 0 0-1 0-1 0-4 0 0 0 0 0-5 0 0 0-1-1 0 1-1-1-2 1-2 0-2-1 0 1-1-1-6 0 0 1 0 0-3 0-6-1-2 0 0 1-1 0-3-1-2 1-2 0-4 0 0 0-6-1 0 1-1-1 0 1-1 0-11 0-2-1-1 0-8 0-79 0-17 3 89-1 1 0 2 0 4 1 1-1 4 1 3 0 1 0 2 0 0 0 1-1 3 1 2 0 4 0 1-1 0 1 0 0 1-1 4 0 2 1 1-1 0 0 3 0 0 1 2 0 0 0 0 0 1 0 0 0 1 0 0 0 3-1 3 0 1 1 1 0 1 0 1-1 2 0 1 0 1 0 0 0 1 1 2 0 3 0 2-1 0 1 1-1 1 1 3-1 0 1 2-1 0 1 1-1 0 1 2 0 0 0 1-1 3 0 3 1 1 0 2-1 1 1 1 0 1-1 0 1 7-1 0 0 0 1 2-1 1 0 0 0 1 0 1 0 1 1 1-1 3 1 2-1 6 0 3 0 2 1 1-1 1 1 2 0 2-1 2 0 3 0 3 0 3 0 4 1 2-1 3 1 1-1 0 1 14 0 0 0 7-1 3 1 16 1-3 0-1 0-14 0-8 0-1 1-2 0-3-1-1 1-6-1-1 0-1 0-1 0-2 1-2-1-1 0 0 1-2 0-1 0-2 0-1-1 0 0-2 0 0 1-1 0-1-1 0 1-2 0-1 0-3 0-3-1 0 0-1 0 0 1-1 0-1-1-2 0-3 1-1 0-7-1-1 0 0 0-2 1-2 0-1 0 0 0-1 0-3 0-1-1 0 0-2 1-3-1 0 1 0 0-2-1 0 1 0 0-1-1 0 0-1 0 0 0-4 1 0 0-1-1-1 0 0 1 0 0-2-1 0 0 0 0 0 1-1-1 0 0-1 0 0 0-1 0-1 1-1-1 0 0-2 0 0 1 0 0-1-1-1 0-1 0-1 0 0 0 0 1-1 0-1-1-1 1 0 0-1 0 0-1-1 0-3 1-1-1 0 1-1-1-2 1-2-1 0 1-1 0-5 0-1 0 0 0-1 0 0 0 0 0-1-1 0 0 0 1-1 0-1-1 0 0-1 0 0 0-2 1-2-1-1 1-3 0 0-1 0 1-1-1 0 0-8 0 0 0 0 1-3 0-2 0-1-1-1 1-6-1-17 0-20 0-9 0-25 0-8 0-25 0-127 1 113 2 8 0 35 0 20-1 6 1 4-1 36 0 11 0 0 0 1 0 0 1 3-1 4 1 3 0 0 0 2 0 2 0 3 0 1 0 4-1 0 1 2-1 1 0 1 1 2-1 1 0 2 0 0 1 1 0 1-1 0 1 3-1 0 1 4 0 1 0 2-1 1 0 0 1 0 0 3 0 1-1 0 1 0 0 1-1 0 1 1-1 1 1 1-1 0 0 0 1 0 0 1-1 0 0 0 1 1-1 0 0 0 1 1-1 1 1 2 0 0-1 1 0 0 1 2-1 1 0 0 1 1 0 1-1 0 0 1 1 1-1 4 0 1 0 1 0 1 1 1 0 6-1 3 1 0-1 0 1 2-1 1 0 1 0 1 0 0 0 0 0 2 0 0 1 6 0 2-1 0 0 5 0 1 0 2 0 5 1 0 0 2-1 5 0 4 0 1 0 0 0 0 1 2 0 2-1 4 0 0 0 1 1 1-1 8 1 0 0 2-1 0 0 5 0 1 0 10 0 5 1 3 0 39 0-26 1-6 0-12 0 0 0-4 0-5 0-1 0 0 1-1 0-1 0-3 0-1 0-1-1-3 0-3 0-5 0-1 0 0 0-1 1-1-1-2 1 0 0-3-1 0 1-2 0-1 0-5-1-3 1-2-1-4 1-2 0-3-1 0 1-3-1 0 1-1-1-2 1 0 0-3 0-4 0-2 0-1 0-1 0 0 0-1 0-1-1 0 1-1-1-1 0 0 1-1 0 0 0-1 0-2 0-1-1-3 0 0 1-2-1-1 0-1 1-1-1-2 1-1-1 0 1-1-1 0 1-2-1 0 0 0 1 0 0-4-1 0 1-1-1 0 1-1-1-1 0-1 0 0 0-1 0 0 0 0 0 0 1-2 0-1-1 0 0 0 1-1-1 0 1-1 0-1 0-2-1 0 1-1 0-1 0-1-1-1 1-1 0 0 0-2 0-2-1-1 0-2 0 0 1-2 0-2-1 0 0-1 1-1-1-1 0 0 1 0 0-4-1 0 0-3 0-1 0-3 0 0 1-1 0-3-1-3 0-1 1 0 0-4 0-1-1 0 1-2-1-1 0-4 0 0 1-1 0-1 0-7-1-5 0-2 1-1 0-7 0-9 0-1 0-4 0-6-1-4 0-18 0-12 0-2 1-2 0-10-1-8 1-1-1 0 1 0 0-24-1-6 0-22 3 38-1 34 1 10-1 1 0 1 0 0 1 3 0 22 0 2-1 8 0 5 1 1-1 0 0 11 0 10 0 3 1 1-1 5 1 3-1 1 1 1-1 2 0 0 1 1 0 1 0 2-1 3 1 3-1 0 1 1 0 1-1 2 0 3 0 6 0 1 0 0 0 1 1 0 0 2-1 0 0 1 1 1-1 1 1 0 0 1-1 4 0 1 0 1 0 1 0 1 1 1-1 0 1 0 0 0 0 0 0 1-1 0 0 0 1 1-1 0 0 0 1 2-1 0 1 3 0 2 0 1-1 1 1 4-1 2 0 0 0 1 0 0 1 2 0 1-1 0 1 1-1 2 0 0 1 1-1 2 0 2 1 1-1 1 1 1-1 2 1 1 0 1-1 1 1 1-1 0 0 0 0 1 1 1 0 2-1 0 1 1-1 0 1 0 0 1-1 0 0 1 1 2 0 1 0 3-1 2 1 1 0 0-1 0 1 0 0 4 0 0 0 1 0 0 0 1 0 3-1 2 0 1 0 1 0 1 1 0 0 5 0 1-1 0 1 1 0 5-1 0 0 0 0 0 1 1 0 2-1 0 1 2 0 0-1 2 0 1 1 1-1 2 1 4 0 0 0 1-1 5 1 0 0 1 0 1 0 2-1 0 1 2-1 7 1 3-1 3 0 0 0 4 0 10 3-1 0-1-1-4 1-1 0-4 0-2 0-1-1-1 1-2 0-1 0-3-1-1 1-4 0-3 0-3 0 0 0-2-1-5 1-4 0-2-1-4 0 0 0-1 1-1-1-2 0 0 1-3-1-10 1 0 0-1-1-1 0 0 1 0 0-2-1-2 1-2 0-1 0-1 0 0 0-1-1-1 0 0 0 0 1-1-1 0 1-1-1 0 0 0 1 0 0-2-1 0 0-4 1-1 0-1 0-2-1 0 0 0 1 0 0-1 0-2 0-1-1 0 0 0 1-2 0 0 0-1-1 0 0-1 1-3-1-2 1-2-1-2 1-1 0-1-1 0 1-3-1-1 1 0 0-1 0-1-1 0 1-1-1-1 0 0 1 0 0-4-1-2 0-3 0-7 0-1 0 0 0-1 0 0 1 0 0-1 0 0 0-1-1 0 1-1 0-3-1 0 1-1-1-1 0 0 0-1 0 0 1-1 0-1-1 0 0 0 1-1-1-1 1 0 0-2-1-1 0 0 0 0 1-2-1-2 1-5 0-1-1-2 1-5-1-3 0-1 0 0 1-1-1-2 1-3-1-3 1-2-1 0 1-2 0-4-1-1 0 0 0 0 1-2 0-10-1 0 0-5 1-30 0-31 0-23-1-7 0-1 1-39-1 20 3 20 0 2 0 14-1 13 0 14 0 1 1 4 0 1 0 20 0 1 0 4-1 1 1 10 0 14-1 4 0 0 1 6 0 1-1 1 1 3 0 4 0 4 0 2-1 1 0 0 0 5 0 2 0 1 1 0 0 2 0 0 0 1-1 2 1 1 0 0 0 1 0 0 0 1 0 1-1 1 0 0 0 0 0 0 0 1 0 1 1 2-1 0 0 3 0 1 0 0 1 0 0 1-1 1 0 5 0 0 1 2-1 1 1 4-1 0 1 0 0 3-1 1 1 1 0 3 0 4 0 2-1 2 1 4-1 3 1 4-1 1 0 0 0 0 0 0 1 1 0 1-1 2 0 6 1 1-1 1 0 0 1 0 0 3 0 1 0 2 0 1-1 0 1 1-1 0 0 1 1 0 0 0 0 5-1 1 1 0 0 0 0 0 0 1 0 0 0 1 0 1 0 2-1 0 1 1 0 1-1 0 1 1 0 1-1 0 1 0-1 2 0 7 0 1 0 3 0 1 0 1 1 1-1 0 0 0 1 1 0 0 0 6-1 1 0 0 1 0 0 0 0 1-1 0 1 2-1 1 1 0 0 0 0 3-1 0 1 0 0 3-1 4 1 0 0 3-1 1 1 3-1 0 1 1 0 3-1 0 0 0 1 2-1 0 0 9 1 1-1 1 0 2 0 6 0 10 0 17 3-18-1-7 0-3 1-1 0-6-1-11 1-1 0-2 0-2-1-2 0-11 0-2 0-2 0-1 1-1 0-1-1-1 0-1 1-3-1-1 1-5 0-1 0 0 0-1-1-1 1-2-1 0 1-1 0 0 0-1 0-4 0-2-1-1 1-2-1 0 1-1-1 0 0-1 1 0-1 0 1-1-1 0 1 0 0-1-1 0 1-3 0 0 0-1-1 0 0-6 0-1 0-1 0-1 0 0 0-2 0-1 1 0 0 0 0-1-1 0 1-1-1 0 0-1 0 0 1-1-1-7 0 0 0 0 1-1 0-1-1-1 1-3 0-1 0-2-1-2 0-1 1 0-1 0 1-3 0-3 0-1 0-1-1-2 0-1 0-2 1-1-1 0 1 0 0-3 0-1-1-1 0 0 1 0 0-2-1-1 0 0 0-4 0 0 0 0 1-4 0-2 0-4-1 0 1-1 0-1 0-1 0-2 0-1 0-1 0-1-1 0 0-1 1-2-1-1 0-1 0 0 1 0 0-2-1-2 0-2 0 0 0-2 1-3-1 0 0-2 1-1-1 0 1-6 0-1-1-3 0 0 0-3 1-1 0-1-1-2 0-2 1 0 0 0 0 0 0 0 0-2-1-4 1-1-1 0 1-3 0-1 0-1-1-5 1-6-1-1 0-7 0-1 1-1-1-3 1-15-1-2 1-1 0-3 0-1-1-2 0-1 1-1-1-25 1-9 0-19 0-13-1 17 2 32 0 4 1 7 0 2-1 2 0 2 0 1 0 1 0 4 1 1-1 1 1 4 0 1-1 1 1 5-1 6 0 7 0 0 0 0 0 3 0 1 0 2 1 1-1 5 0 5 1 2 0 2 0 2-1 7 1 0 0 0 0 2-1 1 0 2 0 1 1 1-1 2 0 1 1 1-1 1 1 1-1 4 0 1 0 0 1 2 0 4 0 6 0 1 0 5 0 3-1 3 0 0 0 2 1 1-1 0 0 2 1 1 0 2-1 1 0 1 0 4 0 0 1 3-1 1 1 4-1 2 0 1 1 3-1 1 1 5-1 6 1 1-1 0 1 2 0 1-1 1 0 2 0 3 0 2 0 3 0 0 1 2 0 1 0 1-1 0 0 0 0 1 0 1 1 1-1 1 0 1 0 0 0 1 0 0 1 1-1 2 0 0 1 0 0 3 0 0 0 3 0 1-1 0 0 1 0 0 1 2-1 0 1 0 0 1-1 0 0 0 1 1-1 0 0 1 1 2-1 1 1 1 0 3-1 0 0 0 1 1 0 0 0 6 0 1-1 0 1 4-1 0 1 0-1 0 1 1-1 1 1 2 0 1 0 1-1 0 0 0 1 1-1 1 0 1 1 1 0 3-1 0 1 2 0 5-1 1 1 1-1 0 0 0 1 8-1 2 0 0 1 1 0 8-1 3 0 1 1 5-1 1 0 0 1 0 0 5-1 1 0 3 0 0 1 15 0 7 2-25-1-1 0-5 1-12-1 0 0-2 0-3 1 0 0-1 0-12 0 0 0-1 0-2-1 0 0 0 1-1-1-2 0-2 1-1-1-6 0 0 1-1-1 0 0-1 0 0 0-2 0 0 0 0 1-1 0-1-1-2 1 0 0-1-1-1 0 0 1-2-1 0 1-2-1 0 1-2 0-1 0 0 0-1-1-2 1-1 0-1-1 0 0 0 1 0 0-2 0-1-1-1 0-1 0-1 0 0 0 0 1-2 0-6 0-1-1-2 0-1 1-1-1 0 0-2 1 0-1-1 0 0 1-1-1 0 0 0 1 0 0 0 0 0 0-1-1 0 0 0 1-3 0-1-1-3 1-2-1-1 0-5 0-1 1-1-1-1 0-2 0 0 0-1 1-1 0-7-1-8 0 0 0-4 0-4 0-1 1-1-1 0 1-1-1 0 0-1 0-1 0-1 1-4 0-4 0-2-1-4 0-2 0 0 1-1-1 0 1-2-1 0 1-3-1-2 0-1 1-1 0 0 0-2-1-2 1 0 0-3 0-1 0-2-1-1 0-1 0 0 0 0 1-5-1-5 1-3 0-2-1-1 0-2 0-2 1-7 0-5 0-1-1 0 0-2 1-2-1-2 0-5 0-1 1-4 0 0 0-2-1 0 1 0 0-4 0-4-1-5 0-3 1-1-1-2 1 0 0-6 0-1 0-1 0-1 0-6 0 0-1 0 1-2 0-2-1-8 1-2 0-3 0-1 0-2 0-6-1-4 0-5 0-1 1-18 0-131 0 102 2 25-1 29 0 4 0 6 1 2-1 8 1 0 0 6 0 0 0 1 0 1 0 6-1 1 0 2 0 2 0 0 1 0 0 2 0 7-1 0 1 2 0 3-1 2 1 1 0 1-1 3 1 0 0 2 0 1-1 0 1 3 0 2 0 1-1 4 1 1 0 2 0 1-1 2 1 7 0 0 0 9-1 4 0 0 0 0 0 0 1 0 0 1-1 2 1 6-1 0 1 2-1 3 0 0 1 1 0 1 0 1-1 1 0 4 1 0 0 1-1 1 1 1 0 1-1 0 1 1-1 1 1 0 0 1 0 1-1 2 1 0 0 1 0 2 0 1-1 1 1 1 0 1 0 1-1 0 1 1-1 4 0 10 1 2-1 0 0 0 0 2 1 1 0 15 0 1-1 1 0 3 0 0 0 1 1 1 0 1-1 0 0 4 0 1 0 7 0 1 1 3 0 0 0 1-1 0 1 0 0 1 0 3 0 1 0 1 0 1 0 1-1 1 1 0 0 2 0 1-1 0 1 2-1 0 0 0 0 2 0 2 0 0 0 1 0 1 1 0 0 1-1 0 1 1-1 0 1 0 0 1-1 0 1 1 0 0-1 1 0 0 0 1 0 0 0 0 1 0 0 1-1 0 0 0 1 0 0 1-1 0 0 0 1 1-1 0 0 0 1 0 0 1-1 2 1 1-1 0 1 1-1 1 0 0 1 1 0 1 0 1 0 0 0 4 0 0 0 1-1 1 1 3-1 0 1 1-1 1 1 0 0 2-1 0 1 1 0 3 0 0-1 1 0 2 1 2 0 2-1 0 0 2 1 2-1 0 1 3 0 1 0 2 0 4-1 0 0 2 1 2 0 1-1 1 0 1 0 0 0 1 0 1 0 0 0 0 0 0 0 2 1 2-1 0 0 2 1 0 0 2-1 7 1 1-1 3 0 9 0 2 0 1 1 7 0 12-1 16 0-23 3-5-1-3 0-5 1-7 0-1 0-5 0-2-1 0 1-4-1-6 1-1-1-3 0-1 0-1 0-1 1-2-1-1 1-3 0-1-1 0 0-1 1-1-1-1 0-1 1 0 0-2-1-1 1-3 0-2 0 0 0-1-1 0 1-3 0-6-1 0 0 0 0 0 1-1-1 0 1-1-1 0 1-1-1 0 1-1 0 0 0-1-1-1 0 0 0 0 0-2 0 0 0 0 1-5-1-2 0 0 1-3-1 0 1-1-1 0 0 0 0 0 1-2-1 0 1-2-1 0 1-1 0-1-1-1 0 0 1-3 0 0 0-1 0-1 0-1-1-1 0 0 0 0 1 0 0-1-1-2 0 0 0-5 0 0 0 0 0-1 0-2 0 0 1 0 0-1-1 0 0 0 1-1 0-2-1-1 0-1 1-2-1-4 1 0 0-1-1-5 0-4 1-5-1-1 1-1-1 0 1-5-1-2 0-8 0-2 0-4 0-8 0-2 1-2 0-5-1-6 1-5-1 0 1-1-1 0 1-1-1-7 0 0 0-1 0-3 0-1 1-9 0-2-1 0 0-2 1-1 0-7-1-3 0 0 1-7-1-1 1 0 0-1 0-5 0-4-1-2 0-1 1 0 0-1-1 0 1-1-1-6 1-3-1-3 1-2-1 0 0-4 0-8 1-4-1 0 1-1 0-1-1 0 0-1 1-4-1-7 0-1 1-2-1 0 1-2 0-1-1-5 0-5 0-1 1-3 0-4-1-1 1-2-1-6 0-4 0-48 1 14 2 23-1 16 0 8 0 2 0 0 1 0 0 1 0 1 0 2-1 5 1 1-1 1 1 3-1 5 1 3-1 3 0 1 0 0 1 2-1 0 1 1-1 1 0 0 1 6-1 1 0 2 1 6-1 5 1 1-1 0 1 5-1 3 0 1 1 0 0 2-1 0 0 1 1 1-1 3 1 3 0 1 0 4 0 6-1 0 0 1 0 1 1 5 0 6-1 2 1 1-1 0 1 2 0 2-1 1 0 0 1 6-1 2 1 0-1 1 0 4 1 2-1 4 0 0 0 1 1 1-1 0 0 2 0 0 1 1-1 0 0 1 1 2-1 0 1 3-1 4 1 3 0 2-1 1 1 2-1 2 1 1-1 4 0 2 1 0 0 1 0 0 0 2 0 1-1 0 1 0 0 0 0 1 0 5 0 3-1 1 0 1 1 0 0 0 0 1-1 0 0 1 0 1 0 2 0 0 1 1-1 0 1 1-1 1 0 0 1 1-1 0 0 2 0 2 0 0 1 4 0 1 0 3 0 0-1 2 1 0-1 0 1 1-1 0 0 0 1 1-1 0 1 0 0 0 0 5-1 1 0 1 1 0 0 2 0 1-1 1 0 1 1 1 0 4-1 1 0 5 1 0 0 0 0 1-1 2 0 1 0 0 1 3-1 0 0 0 1 1 0 1-1 0 0 0 0 0 1 4-1 1 0 1 1 1 0 2 0 1 0 1-1 0 0 1 0 3 0 1 0 1 1 1 0 1-1 4 1 1-1 0 1 3 0 5-1 6 0 2 1 1 0 1-1 0 0 1 0 1 1 1-1 5 1 1-1 0 0 2 1 1 0 1 0 3-1 0 0 1 1 4-1 0 0 0 1 1-1 3 1 2-1 0 1 1-1 0 1 1 0 5-1 5 0 0 1 5 0 2-1 1 1 4-1 1 0 2 1 1 0 2 0 1 0 4 0 3 0 7-1 1 1 2 0 29 2-34 0-9-1-4 1-1 0-1 0-2-1-1 0-2 1-2 0 0 0-4 0-15-1-4 0-1 1-1 0-1 0 0 0-2-1-5 1-2 0-2-1 0 1-1 0-1 0-6-1 0 1-6-1 0 1 0 0-1 0-1-1 0 1-3 0-1 0-2-1-2 0-5 1-3-1 0 1-2-1 0 1-1 0 0 0-1-1-1 0-2 1-2-1-1 1-2 0-2-1 0 0 0 1-2-1-2 1-2-1-7 0 0 1 0 0-1-1 0 1-1-1 0 1-2-1 0 0-2 1-1-1 0 0 0 1-1-1 0 1-2-1-1 1-3-1-1 1-2-1 0 0-1 1-1-1 0 0-1 1-3 0-1-1 0 1-1-1 0 1-1-1 0 1-1 0 0 0-1-1-1 0-1 0-1 0-1 0-1 1-2 0-1 0-5 0-1-1-2 0 0 1-2-1-1 1-1-1-2 1-1-1-2 1-1-1 0 0-1 0 0 1-3 0-2 0-1-1 0 0 0 1-3-1-1 1-1-1-2 1-7-1 0 1-3 0-1 0 0 0-2-1-1 0-1 1-1 0-1-1-2 0 0 0 0 1-2-1-1 1 0 0-2 0-1-1-1 1-2-1 0 1 0 0-1-1-3 1-3 0-1-1 0 0 0 1-3 0-2 0-2-1-1 1-4-1-1 1-4-1-1 1-4 0-1-1-2 1-1 0-1-1-1 0-4 0-2 0 0 1-1 0 0-1 0 0-4 0-3 1-3-1 0 1-1 0 0 0-2-1 0 1-4-1-8 0-2 1-5-1-1 0-7 1-4 0 0 0-1-1-1 0 0 1-5-1-2 0-4 1-1-1 0 1-4-1-2 1 0 0-1 0-1-1-1 0-4 1-2 0-2-1-1 0-8 0 0 1-4-1 0 1-1-1 0 1-7-1-26 3 21 0 7 0 1 0 2-1 2 1 4 0 4-1 0 0 1 1 1 0 4 0 3 0 1-1 0 1 2 0 2 0 2 0 0 0 1 0 9 0 1 0 2-1 1 1 1-1 0 1 1-1 0 0 0 1 2-1 1 0 6 0 0 1 3 0 1-1 3 1 3-1 5 0 0 1 3 0 4-1 1 1 0 0 1 0 0 0 2-1 0 0 1 0 0 0 4 0 1 1 1 0 1 0 1 0 5 0 1 0 1-1 1 0 2 1 3-1 3 1 1-1 0 0 1 1 1-1 2 0 3 0 2 0 0 0 0 1 0 0 0 0 1 0 1 0 1-1 4 1 3-1 0 1 4-1 2 1 2-1 0 0 2 0 1 0 1 0 1 1 1-1 1 1 1-1 0 1 0 0 1-1 1 1 2 0 4-1 1 1 2-1 4 0 1 0 1 0 0 1 1 0 0 0 2 0 0 0 2 0 1-1 5 0 4 0 0 0 7 0 1 1 0 0 3 0 1-1 0 1 1-1 7 0 0 0 0 0 4 0 0 0 1 1 0 0 1-1 5 1 2-1 0 1 1-1 0 1 1-1 0 0 2 0 1 0 0 0 1 1 0 0 1-1 1 0 1 0 2 1 0 0 4-1 2 0 2 0 2 0 0 0 0 1 4-1 1 1 1 0 1-1 1 0 2 0 1 0 0 0 0 0 0 1 2-1 2 0 3 1 1-1 0 1 3-1 0 1 1-1 3 1 2-1 2 1 1-1 1 1 1-1 0 1 1-1 1 1 2 0 1 0 0-1 4 0 2 0 1 1 3 0 2-1 0 1 0 0 1-1 1 0 1 1 2 0 0 0 1 0 1 0 3 0 1-1 0 0 2 0 2 0 2 0 1 1 0 0 1 0 3-1 0 1 3-1 1 1 4-1 0 0 2 1 5 0 1-1 0 1 1 0 1-1 1 1 8-1 1 1 3-1 1 1 1-1 0 0 0 1 0 0 2 0 1 0 1-1 2 1 9 0 3-1 6 1 5 0 19-1-1 2-12 1-9-1-3 0-6 1-2 0-1-1-3 0 0 0-1 1-1 0-2-1-10 0-2 0 0 1-6-1-3 1-3-1-2 1-4-1-2 0-2 1-4-1 0 1-1 0-3-1-3 0 0 0-3 0-1 0-1 1-3-1-3 1-2-1 0 0 0 1-4-1-4 1-1-1-1 0-2 0-1 1-1 0-1-1-2 1-6-1-4 0-1 0-2 0 0 1-1 0-2 0-1-1-1 0 0 1-1-1-1 1-8-1 0 1-1-1-1 0 0 0-1 0-3 0 0 0-4 0-1 1-3-1-5 0-1 1-2-1-1 0 0 0 0 0-2 0 0 1-1 0-1 0-2 0-2-1-1 0 0 1-5-1 0 1-1 0-2-1-3 0 0 1-3-1-5 1-3-1 0 1-1-1-2 1-2 0 0-1-1 1-3-1-1 1-1-1 0 1 0 0-1 0-2 0-3-1 0 0 0 1-3 0-2-1-1 0-3 0-2 1-6-1-2 0 0 1-1-1-2 0-1 0 0 0-1 0-2 0-1 1-4 0-1-1-6 0-3 1-2-1 0 1-2-1-2 1-5 0-1-1-1 0 0 0-3 0 0 1-1 0-1-1 0 1-2 0-1-1-3 1 0-1-1 1-2-1 0 1-1-1 0 1-6-1-3 0 0 1-1 0 0 0-1 0-1 0 0-1 0 1-2 0 0 0-5 0-3 0-5 0-1-1-3 1-2 0-1 0-1-1 0 0-1 1 0 0 0 0-1-1-1 0 0 1-2 0-1-1-6 0-3 0 0 1-1-1-1 0 0 1-1-1-2 0-1 0-4 0-1 0 0 1-1-1-1 1-4-1-2 1-2-1-4 0-1 1-2 0-1-1-1 0-2 1-2 0-3-1-1 1-1-1-2 0-1 1-3-1-2 0-2 1-1-1-3 1-4 0-3 0-50 2 49-1 5 1 2-1 12 1 1-1 2 0 1 1 1-1 1 0 0 0 3 0 1 0 1 1 1 0 6-1 6 1 1-1 5 1 1 0 1-1 3 1 1-1 0 1 7 0 3-1 0 0 1 1 2 0 2-1 0 1 1 0 1-1 1 1 0 0 1 0 2-1 0 0 1 1 1 0 2 0 6-1 0 1 3 0 5-1 2 0 0 0 0 1 4-1 1 1 0 0 2-1 1 1 1-1 2 1 0 0 1 0 0 0 6-1 0 0 0 0 0 0 0 1 4-1 4 1 1-1 1 1 1-1 5 1 1 0 2-1 1 1 2-1 2 0 2 1 8-1 2 0 1 0 8 1 3-1 0 1 1 0 1-1 4 0 3 1 0 0 1 0 3-1 0 1 4 0 3-1 1 1 2-1 3 0 4 1 2-1 2 0 2 1 3 0 1-1 1 0 3 0 2 0 1 0 2 0 0 1 5 0 1 0 2-1 4 0 4 1 2-1 3 0 0 1 0 0 1 0 0 0 1 0 1 0 0 0 6-1 1 1 3 0 3 0 2-1 3 0 0 0 0 0 0 0 2 0 1 0 1 0 4 1 1-1 1 0 1 0 3 0 1 1 1 0 2 0 1-1 1 1 4-1 0 0 1 0 0 1 1-1 1 0 0 0 1 0 1 0 4 0 1 0 0 1 1-1 0 0 1 0 0 1 9-1 0 0 1 1 1-1 2 0 6 1 1-1 0 1 4-1 0 1 2-1 7 0 0 0 0 0 0 1 2-1 3 0 1 1 0 0 13-1 1 1 0 0 4 0 1-1 1 0 0 0 1 0 0 1 1 0 2-1 1 1 6 0 1-1 5 1 0 0 1 0 1 0 3-1 1 0 2 0 3 0 3 1 11-1 9 1 4 1-3 1-6 0 0 0-4 0-4-1-7 0 0 1-1-1-6 0-1 0-7 1-5-1-1 0-1 0-2 1-2-1-1 0-1 1-1-1-1 0-1 1-1-1 0 1-1-1 0 1 0 0-2 0-1 0-1 0-1 0-3 0-3-1-1 0 0 1-1-1-3 1-3 0-2-1 0 0 0 1 0 0-2-1 0 1-5 0-1-1-3 1-1-1-7 0-2 0 0 1-3-1-1 1-5 0-1 0-5 0 0 0-1-1-1 1-2-1-3 0-1 0-1 1-1-1 0 0-4 1-2-1 0 1-1-1-4 0-1 0-2 1-1 0 0-1 0 1-2 0-1 0-1 0-1-1-1 0-1 0-1 1-1-1-2 1 0 0-1 0-3-1-1 0-1 0 0 1-1-1-1 0-1 1-1 0 0-1 0 1-1-1-2 0-2 0-2 0-1 1-1 0 0 0 0 0 0 0-1-1 0 1 0 0-1-1 0 0-1 1 0 0-2-1 0 1 0 0-2 0 0-1-2 0 0 1 0 0-1-1 0 0 0 1-1-1 0 0-1 0-3 0 0 1-2 0 0-1-1 0 0 0 0 1-1-1-1 0-3 0-3 1-1 0-1-1-2 0-4 0-1 1-1 0 0 0-3 0-1-1 0 0 0 1-3 0-2-1 0 1-2 0-2-1 0 1-1 0-1-1-5 1-1 0-1-1-4 1-4-1-10 0 0 0-4 1-3-1-2 1-1-1-2 1 0 0-4-1-9 0-1 0 0 0-3 0 0 1-2 0-5 0-3 0-1-1-3 1-2 0-1 0-2-1-1 1-1 0-6 0-1-1-2 1-1 0 0 0-2 0-1-1 0 1-1-1 0 0 0 0-1 0 0 0 0 1 0 0-3-1-2 0 0 1-3 0-1 0-1 0-1-1-1 1 0 0 0 0-2-1-1 1-2-1 0 0-3 0-1 1-1-1-5 0 0 0-3 0-1 0 0 0-2 1 0 0-3-1 0 0-2 1-1 0 0 0-4-1 0 1-2-1-6 0 0 0-1 1-6 0-1-1-2 1-3-1 0 1-4-1 0 0-2 1-1 0 0 0-3 0-2-1-3 1-10 0-10-1-3 1-77 2 68-1 15 0 1 0 3 1 3-1 3 0 0 1 5-1 0 0 3 0 0 1 6-1 2 1 1 0 3-1 2 0 0 1 5 0 3-1 2 1 1 0 0 0 0 0 1-1 3 0 2 0 1 0 0 1 1-1 0 1 3-1 3 0 1 0 1 1 0 0 3-1 0 0 0 1 2 0 1 0 1-1 0 1 0 0 1-1 0 0 0 0 2 0 0 1 1-1 3 1 4 0 1-1 0 0 1 0 0 1 5 0 2 0 2 0 1-1 1 0 2 0 3 0 1 1 0 0 1 0 1-1 3 0 1 0 2 1 0 0 2-1 1 0 2 0 0 1 1 0 0 0 1-1 0 0 0 1 1 0 0 0 4 0 4 0 1-1 0 1 1 0 0 0 1-1 0 1 0 0 1 0 7 0 2-1 3 0 0 1 2-1 2 1 1 0 3-1 0 0 0 1 5-1 1 1 2-1 1 0 0 1 1 0 4-1 0 0 1 1 0 0 4 0 7 0 3-1 0 1 8 0 0 0 1 0 1 0 2-1 3 0 6 1 7 0 1-1 3 1 0 0 1 0 0 0 7-1 1 0 1 1 1 0 1 0 1 0 1-1 2 0 4 0 4 0 4 1 0 0 1-1 1 0 0 1 0 0 1 0 2-1 0 0 0 1 2 0 0 0 0 0 2-1 1 0 1 1 4 0 1-1 2 0 2 0 0 0 1 0 1 1 2-1 1 0 0 0 1 1 2-1 0 0 4 1 1-1 0 1 1-1 0 0 1 0 0 1 1 0 1-1 1 0 2 1 0 0 7-1 3 1 1-1 1 0 1 1 1-1 0 1 1-1 0 1 2 0 2 0 1-1 1 0 9 1 2-1 2 1 1 0 3-1 1 1 2-1 0 1 1-1 3 0 1 1 3-1 1 0 1 1 1-1 2 0 1 0 3 0 1 1 3 0 0 0 13-1 1 0 0 1 2 0 5-1 2 0 2 0 0 1 4 0 1 0 3 0 0 0 1-1 2 0 1 0 4 1 1 0 5 0 1-1 2 1 12 0 3-1 4 0 1 2-1 0 0 1-10-1-2 1-2 0-8-1-10 1-3-1-1 0-1 0 0 1-1-1 0 1 0 0 0 0-1-1-1 1 0 0-1-1-1 0 0 0 0 1 0 0 0 0-3-1-1 1 0 0-3-1-4 0-1 0 0 1 0 0-1-1 0 0-4 1-6 0 0 0-4 0-4-1 0 1-1-1 0 1 0 0-1 0-1 0-1 0 0 0-1-1-3 1-1 0-4 0-2-1-9 0-1 1-1-1-3 1 0 0-1 0 0 0 0-1-9 0-1 0-1 0 0 1-1 0-1-1-3 1-1 0-1-1-2 0-4 1-3 0 0 0-4 0-4-1-2 1-1-1 0 1-2 0-1 0-1-1 0 1-1-1-1 0 0 0 0 0 0 1-1 0-1 0 0 0-2-1 0 1-1-1 0 1-6-1 0 1-1-1 0 0-1 0-2 1 0 0-2-1-2 0-3 1-1 0-1-1-1 0-1 0 0 1-1-1-2 0-1 0-3 0-3 0-1 0-4 0-4 0 0 1-1 0-2-1 0 1-1 0-1 0-1 0-1-1 0 0 0 1-1 0-3 0-1 0-1 0-1 0-4 0-1-1-2 1-1 0-1 0-7-1-1 1-1-1-2 1-2 0-4-1 0 0-1 0-4 0-3 1 0-1 0 0 0 0-4 1-4 0 0 0-3-1 0 1-1 0 0 0-2-1 0 0-4 1-1 0 0 0-1-1 0 0 0 1 0 0-1 0-6 0-2-1 0 1-2-1 0 1-1 0-3-1-2 1-4-1-1 0-4 0 0 0-5 1-1 0-2-1 0 0-2 0-1 0-2 0-2 1-1-1 0 1-3 0-4-1 0 0-3 0-2 0 0 1-1-1 0 0 0 1-1-1 0 1-1-1-1 0-2 1-7-1-1 1-2 0 0 0-2-1-1 1-2 0 0 0 0 0 0 0-2-1 0 1-2 0-6-1-4 0-1 1-2 0-1 0-2-1-2 1-1-1-2 1-2 0-1-1-6 0-3 1-2-1 0 0-2 0-3 1 0 0 0-1-5 0-4 1-3 0-2 0-5-1-1 3 0 0 6-1 2 1 2-1 0 1 2 0 1-1 0 1 1 0 7-1 2 0 0 1 0 0 1-1 2 0 0 0 5 0 2 1 7 0 1-1 2 0 1 1 4-1 0 1 1-1 2 0 0 1 0 0 2 0 1 0 1-1 0 1 1 0 2-1 1 0 1 0 5 0 1 1 2 0 4-1 2 0 2 0 0 0 1 0 3 0 4 1 1 0 1-1 3 1 0 0 1-1 0 0 1 0 0 0 2 0 0 1 1-1 0 0 2 1 2 0 0-1 2 1 0 0 1 0 1-1 1 0 0 1 1-1 1 0 0 1 0 0 0 0 2 0 0-1 0 1 2-1 0 1 2-1 1 1 1-1 0 1 1 0 1-1 2 0 1 1 1-1 3 1 2 0 1-1 0 1 5-1 2 1 3 0 2-1 0 1 2 0 2 0 0 0 1-1 1 0 1 0 5 0 1 1 1-1 2 1 2-1 1 0 6 0 0 0 2 1 6 0 2 0 6 0 7-1 5 0 1 0 3 0 0 0 0 1 1-1 0 1 1 0 1-1 1 0 2 0 1 0 0 1 1 0 0 0 1-1 0 1 0 0 0 0 2 0 0 0 1-1 0 1 1 0 1 0 0 0 1-1 1 0 4 0 0 1 1 0 1-1 0 0 3 0 4 0 0 0 4 1 0 0 1 0 1-1 0 0 0 1 2 0 1-1 0 0 1 0 2 0 1 0 0 1 1 0 2-1 0 1 0 0 0 0 1-1 1 0 0 1 1 0 1 0 0 0 1-1 0 0 0 0 0 0 0 1 3 0 1-1 0 0 4 0 0 1 0 0 1 0 3 0 1 0 0-1 0 1 3-1 0 1 2-1 1 0 3 0 2 0 3 0 2 0 1 0 0 1 7-1 0 0 1 0 1 0 4 1 4-1 2 0 0 0 2 1 0 0 2-1 0 1 4 0 1-1 2 0 3 0 1 0 0 1 5 0 2-1 0 1 2-1 0 0 0 1 5 0 0 0 0 0 2-1 1 1 1-1 0 1 5-1 5 1 2 0 4 0 1 0 6 0 1 0 1 0 0 0 2-1 1 0 0 1 2 0 3-1 0 1 2 0 6-1 6 0 0 1 5 0 6 0 1-1 6 1 1-1 2 0 5 2-1 1-8 0-1-1-4 1-4-1-5 0-1 1-2-1-1 1-2 0-1 0-3 0-1 0-5-1 0 0 0 1-1-1-1 1-1 0 0 0-5 0-1-1-1 0 0 0-2 0-1 0 0 0-4 0 0 1 0 0-3 0-2 0-4-1-1 0-4 1-2 0-1-1-1 0 0 1-9 0-2 0 0 0-5-1 0 1-1 0-1-1 0 1-2 0-2 0-1 0-1-1 0 1 0 0-2-1-3 0-2 0-4 1-4-1 0 1 0 0-1-1 0 1-1-1-5 1 0 0-1-1 0 1-1 0-2-1-1 0-3 0-2 1-1-1 0 0-1 0-6 0-1 1-1 0-1 0 0-1-1 1-1-1-1 1-2-1 0 1-1-1 0 1-2 0-1-1 0 0 0 1-1-1-4 0-1 0 0 0 0 1-4-1-2 0-1 1 0 0-4 0-1 0-4 0-1-1-1 1 0 0-2 0-3 0-3-1-1 0 0 1-3 0 0 0-1-1 0 0 0 1-1 0-1-1-1 0-2 1-1-1-1 1 0 0-3 0-2-1 0 1 0 0-1 0-1-1-2 0 0 0 0 1-1 0 0-1-2 1-2-1-1 1 0 0-2 0-1-1-1 0 0 0 0 1 0-1-1 0 0 1-3 0-2-1 0 1-2 0-2 0-3-1-1 1-6 0 0 0-1 0-3-1 0 0-4 0-4 0-1 1 0 0-2 0-1-1 0 1-1-1 0 1-1-1 0 1-1 0-1-1-1 0-1 0-1 1 0 0-1-1 0 0-1 0 0 0 0 1-5 0-1-1-10 1-3-1 0 0-2 0 0 1-2 0-1-1-3 0 0 0-7 0-1 1-2 0 0-1-1 0 0 0 0 1-2-1 0 1-3 0-1 0-2 0-1-1-1 1-2 0-1 0-1-1 0 0-5 0 0 1-1-1 0 1-1 0-3-1-2 1-1 0-4-1 0 1-1-1-1 1-1 0-1-1-3 0-2 1-3 0-2 0-2-1-2 0-1 0-1 0-4 1-2-1-1 0-3 0 0 1-3-1-4 0-2 1-2 0-6-1 0 0 0 1-5 0-2-1-1 0-1 1-2-1 0 1-1 0-2-1-3 0-11 0 1 3 5-1 4 0 1 0 0 0 1 1 3 0 1-1 0 1 1-1 2 0 0 1 5 0 0 0 3-1 1 0 1 0 3 0 2 1 1 0 1 0 0 0 1-1 5 1 2-1 2 1 2-1 1 0 1 1 1 0 1 0 2-1 1 1 0 0 2 0 2 0 2-1 0 0 3 0 4 0 0 1 2-1 0 1 5-1 1 0 4 0 4 0 1 1 1-1 0 0 0 1 3-1 1 0 0 0 1 0 2 1 0 0 1-1 0 0 1 1 5 0 4-1 1 1 1 0 1-1 5 0 0 1 6-1 2 1 3-1 4 0 3 1 6-1 1 0 2 0 0 1 0 0 3-1 1 0 1 0 0 0 1 1 1-1 0 1 1 0 0 0 3-1 4 0 1 0 1 1 6-1 0 1 4-1 2 0 3 0 4 1 1-1 0 1 3 0 0-1 4 1 1 0 0 0 5-1 0 0 1 0 1 0 1 1 1 0 1-1 1 1 1-1 0 0 0 1 1 0 1-1 1 1 1-1 0 0 1 0 1 0 1 1 1-1 1 1 1-1 0 1 1 0 2-1 0 0 0 1 4-1 3 0 0 0 2 1 0-1 2 1 1 0 1-1 1 0 4 0 3 0 0 0 2 0 0 0 1 0 0 0 1 0 0 1 2-1 0 0 1 0 0 0 0 1 1-1 0 1 0 0 1 0 1 0 2-1 3 1 3 0 5 0 9-1 2 1 1-1 0 0 4 0 0 1 0 0 1-1 2 0 5 0 0 0 3 1 3-1 4 1 3 0 1-1 1 1 1-1 0 1 1-1 1 1 1 0 1 0 2-1 0 0 2 0 0 0 2 0 2 0 3 0 1 1 3 0 1 0 0 0 1-1 0 1 0 0 3 0 3-1 1 0 1 1 3 0 2-1 0 1 3-1 0 0 1 0 2 1 0 0 2-1 0 0 1 0 0 1 1 0 4-1 0 0 1 0 0 1 1-1 2 0 0 1 3-1 2 1 0-1 0 1 0 0 2-1 0 0 2 0 0 1 2-1 1 0 0 1 2 0 3 0 0-1 0 1 1-1 1 0 0 0 1 1 2-1 2 0 0 1 0 0 1 0 8-1 0 1 2-1 0 1 1 0 1-1 1 1 3-1 3 0 0 1 1 0 1 0 1 0 5-1 3 1 2-1-3 2-1 0-2 1-2-1 0 0 0 1-1-1 0 0-4 0 0 0-1 0-1 1-2-1-1 1 0-1-3 0-3 0 0 0-2 1-8 0-2 0-1 0-1 0-5-1-2 0-1 0 0 0-2 0-1 1-1-1-7 1-3-1-1 1-2-1-2 0-1 1 0 0-2-1 0 1-1 0-3 0-1-1-1 1-1 0-1-1-2 0 0 1 0 0 0 0-1-1-1 0 0 0-3 1-2 0-2-1 0 1 0 0-2-1-1 1-2-1 0 1-2-1-2 1-2-1 0 1-1 0-2 0-1-1-1 0-1 0 0 1 0 0-2 0-3 0-1 0-1 0-1 0-1-1-4 0 0 1-4 0-1 0 0 0-3-1-2 1-1-1-3 1-1-1-5 1-2-1-1 1-1 0 0 0-2-1-1 1-1 0-2-1-1 0 0 0 0 0-1 0 0 1-1-1-1 1-1-1 0 0 0 1-2-1-1 0-1 0 0 1-2-1 0 0 0 1-4-1-3 0-2 0 0 0-3 0-3 1-3 0-5 0-1 0-1-1 0 0 0 1-2-1 0 0 0 0-2 1-2-1-1 1 0 0-1-1 0 0-1 0-3 1-1-1-1 1-2 0-3-1-3 1 0 0 0 0-3-1 0 0-1 0 0 1-1-1 0 0-1 1 0 0-3 0-2-1 0 1-1 0-1 0 0 0-2 0-1-1-1 0 0 1-2-1 0 0-3 0-1 1-5-1 0 1-1 0 0 0-7-1 0 0-1 0 0 1-4-1-2 0-1 0-2 0-1 0 0 1-1 0-5-1-5 1-2 0-2-1 0 1-2 0-2 0-1 0-1 0-1 0-3 0-5-1 0 0 0 0 0 1-1 0-1 0-1 0-1-1-1 1-2 0-1 0-1-1 0 1-4 0-1 0-2-1 0 1-2-1-2 0-1 1-1-1 0 1 0 0-4 0-1 0-4-1 0 0 0 1-1 0-2-1-2 0-7 0-3 1 0 0-2-1-2 1-2-1-1 1-1-1-1 0-4 1-2-1-1 0-2 1-2-1-3 0 0 1-1 0-1-1-1 1-1 0 0-1 0 0 0 1-2-1-3 0 0 1-1 0-2-1-1 1-4 0-4 0-1-1-5 0-3 0-1 0-1 1-2 0-4 0-6-1-2 0-3 1-2 0-1 0-6-1-99 0 101 2 1 0 1 0 17 0 1 0 2 1 1-1 0 0 0 0 1 0 1 0 1 1 1-1 2 1 2 0 1-1 1 1 5 0 2 0 1-1 4 0 2 1 0 0 5-1 3 1 1 0 1-1 6 1 0 0 2-1 6 1 1-1 0 0 5 0 3 1 2-1 3 1 0 0 1-1 0 1 0 0 4 0 3 0 1-1 0 1 1 0 0 0 2 0 2 0 8-1 1 0 1 0 1 0 0 1 2 0 1-1 4 1 1-1 2 1 4 0 6-1 4 0 0 0 1 0 2 0 1 1 2-1 0 1 1 0 1 0 1-1 1 0 0 0 2 0 1 1 3 0 3 0 4 0 2-1 0 1 0 0 1-1 2 0 0 0 4 1 0 0 1 0 2 0 0 0 2 0 1-1 6 0 0 1 2-1 2 0 2 0 1 0 0 0 0 1 1-1 0 0 2 1 1-1 0 0 0 1 1 0 1-1 1 1 2-1 6 0 2 0 0 1 4 0 0 0 2-1 1 0 0 0 2 0 2 0 0 1 4 0 2-1 1 0 0 1 0 0 1 0 1-1 0 1 0 0 1-1 0 1 1-1 1 1 0 0 1-1 0 0 0 0 0 1 6 0 2 0 4-1 2 0 0 0 0 1 1-1 1 1 0 0 1-1 0 0 0 1 1 0 2 0 1 0 1 0 2-1 0 0 0 1 1-1 0 0 1 1 4-1 1 0 0 0 1 1 1-1 1 0 0 0 1 0 0 1 1 0 2-1 3 0 0 1 1-1 1 0 1 0 0 0 3 1 1-1 0 0 0 1 0 0 2-1 0 0 1 0 0 0 1 0 1 0 0 1 2-1 0 1 4 0 0 0 8 0 4-1 0 1 1 0 1-1 2 1 3 0 1-1 0 1 4 0 0 0 1 0 1-1 2 1 1-1 0 0 2 0 0 0 1 1 2-1 0 0 0 0 2 1 2-1 2 0 1 1 2-1 0 0 2 0 1 0 0 1 2 0 3-1 0 0 0 1 1-1 1 1 1-1 3 1 2-1 1 1 5 0 4-1 3 0 2 0 1 0 3 0 0 0 0 1 4 0 1-1 0 1 1-1 0 0 0 0 2 1 4 0 0 0 3 0 1-1 2 0 2 1 1 0 1 0 1 0 0 0 1-1 2 1 1 0 1-1 0 0 4 0 0 1 1-1 5 0 4 0 0 1 2 0-1 1 0 1-3-1-1 0 0 0-1 1-3-1-2 1-2-1-1 1-2-1-1 0-7 0 0 0-4 1-3 0-3 0-6-1-2 0 0 1-1-1-1 0 0 0 0 1-5-1 0 1 0 0-3 0-1 0-1-1-2 1-3 0-2-1-1 0-1 1-1-1-3 1-1-1 0 1-1-1 0 0 0 0-3 1-1 0 0 0 0 0-2 0-2-1-1 1-2-1-6 0-1 0-1 1-3-1 0 1-1-1-1 0-1 0 0 1-1 0 0 0-1-1-1 0-1 0 0 0-1 0-1 0 0 0 0 1-1-1-1 1-1-1 0 1 0 0-2 0-3-1-1 1-1 0-1 0 0 0-1 0-1 0-1 0-2-1-2 1 0 0-1-1 0 1-3 0-1-1-4 1-2-1-4 0-1 1-1-1 0 0-1 0 0 0-2 1-1 0 0 0-1 0 0 0-2-1 0 0-2 0-2 0-1 0 0 1 0 0-4 0 0-1 0 0-1 0 0 1-2-1 0 1-1 0 0 0-2-1-2 1-3-1 0 0 0 1-1 0-1-1-3 0 0 1-1-1 0 0-1 1-1-1-1 0 0 1-2 0-1-1-1 0-3 0 0 0 0 1-1 0-1 0-1 0-1 0-1-1 0 1 0 0-1 0 0 0-1-1 0 0-2 1-1-1-1 0-1 0-4 0 0 1-1-1-2 1-1-1 0 0-2 0-1 1-2-1 0 1-1-1 0 1-3 0 0-1-3 1 0 0-1 0-4 0-3-1-1 0-3 0-1 0-1 0-2 1-3 0-1-1-1 0-1 0-1 1-5-1-2 0-2 1-4-1 0 1-3-1-1 0-9 0-2 0-3 1 0 0-1 0-4-1-3 1-2 0-2 0-2 0-3-1-2 0-1 1-1-1-3 1-1 0 0-1 0 1-5-1-1 0 0 1-1 0-6 0-5 0-1 0-2-1-3 0-1 1-1 0-4-1-2 1 0 0-1-1-2 0-1 0 0 0-2 0-3 1-5-1-3 1-3-1 0 1-1-1-10 1-2 0 0 0-2 0 0 0-3-1-3 0-2 0-4 0-3 1-1-1-2 1 0 0-1 0-1 0-1-1 0 1-1-1 0 1-1-1 0 0-2 1-1 0 0 0-1 0-1 0-3 0-3-1-3 1-2 0 0 0-12-1-1 0-8 0-8 0-57 1-24 2 14 0 76 0 9-1 0 1 2 0 1-1 4 1 1-1 8 1 8-1 0 0 1 0 0 1 3 0 3-1 1 1 5 0 3-1 0 1 1 0 1 0 0 0 3-1 4 0 0 0 2 1 1-1 2 0 4 0 2 0 0 0 1 1 3 0 3-1 4 0 0 0 4 0 4 1 1-1 2 0 0 1 2 0 5 0 0 0 1 0 1 0 2 0 1-1 2 0 4 1 1-1 0 1 3-1 1 1 1-1 1 1 1 0 1-1 0 1 1 0 2-1 2 1 2 0 0 0 5 0 4 0 3 0 0 0 2 0 1 0 1-1 1 0 1 0 0 0 2 0 2 1 2-1 2 1 1 0 0-1 1 0 1 0 1 1 3-1 0 0 2 1 7 0 0 0 1-1 2 0 1 1 1 0 1 0 1-1 1 0 0 0 5 0 1 0 1 1 2-1 3 0 4 0 1 0 1 0 0 0 0 1 1-1 1 0 1 0 0 0 2 0 1 1 1-1 1 1 1 0 0 0 1-1 0 1 2 0 1 0 2-1 0 0 4 1 2 0 1 0 0 0 1 0 1 0 1-1 3 1 4-1 7 1 1-1 3 0 0 1 1-1 1 0 0 0 0 1 2-1 3 1 1 0 1 0 0-1 0 1 1 0 3-1 0 1 2 0 0 0 0 0 1 0 1-1 1 1 1 0 1-1 2 0 4 1 1-1 2 1 0 0 1 0 1-1 4 1 0 0 2-1 1 0 2 0 0 1 2 0 0 0 0 0 7-1 4 0 0 1 2-1 0 1 1-1 2 0 1 0 1 1 0 0 0 0 2 0 0 0 1 0 1-1 4 1 0 0 5-1 3 0 0 0 0 1 1 0 0 0 0 0 4 0 0 0 0 0 2 0 0-1 0 1 1-1 0 0 1 0 1 1 2 0 0 0 2-1 0 1 0 0 0 0 1 0 0 0 1 0 0 0 3-1 1 1 3 0 1-1 0 0 1 1 1-1 3 0 1 1 0-1 1 0 0 1 1 0 1-1 1 1 1 0 1 0 0-1 1 0 1 1 1-1 3 1 0 0 1-1 0 0 2 0 2 0 0 1 3-1 0 0 0 1 1-1 1 1 1-1 0 1 2 0 0 0 1 0 1-1 3 0 2 0 7 0 1 0 2 1 1 0 7 0 1 0 1 0 6-1 2 0 1 0 1 1 4 0 4-1 2 0 2 1 0-1 0 1 1 2-3 0-1-1-2 0 0 1-2-1-2 0-1 0-1 1-1-1-9 0-2 1-3 0 0 0-2-1 0 1-4 0-1 0-1 0-1-1-1 0-3 1-2-1-4 1 0 0-1 0-3-1 0 1-2-1 0 1-1-1-3 1-4 0-1-1-1 0-1 0 0 0 0 1 0 0-1 0 0 0-1-1-1 0 0 1 0 0-1-1 0 1-1 0-1-1 0 1-1-1 0 1 0 0-2 0-1-1 0 1 0 0-1-1 0 1 0-1-1 0 0 1-2-1-1 0 0 0 0 0 0 1-5 0-3 0-2-1-1 0 0 0-3 0-2 1-2 0-3 0-1-1-3 1 0 0-3-1-1 0 0 1-3 0-1-1 0 1-1-1-1 0-3 0-1 0-1 1-2-1-4 0-1 1-6-1-1 0-5 0-3 0 0 1-4 0-2-1 0 1-1 0-2-1-2 0-1 1 0 0-1 0-2-1-5 0-6 1 0 0-2-1 0 0-1 1-1-1-2 1-1-1 0 0 0 1-1-1-1 0-2 0-4 1-1-1-2 1 0 0-1-1-6 0 0 0-2 1-3-1 0 1 0 0-3 0 0 0-1-1 0 1-2-1 0 0-2 1 0 0-4-1-1 1-1-1-1 0-3 0 0 1-1-1-1 0-1 1 0 0-1-1 0 0 0 1-1-1 0 1 0 0-1-1-1 0-1 1-1-1 0 0-4 0-2 0-1 0 0 1-3-1-1 0 0 1-1 0-3-1 0 1-3-1-6 1-1 0-1 0 0 0-2 0 0 0-1-1-2 0-2 1-3 0-3 0 0-1 0 1-4-1 0 1-2-1-1 0-1 0 0 0 0 1-1-1 0 1-3-1 0 1-5 0-1 0-2 0-2-1-2 1-1 0-4 0-1-1 0 0-2 0-3 0-5 1-3-1-2 1-5-1-1 0-3 1-1-1-2 1-1 0-1-1 0 1-3-1-1 0 0 1-1 0-1-1 0 0-2 1 0 0-1 0-2 0-4-1-2 0-1 1-4-1 0 1-6 0 0 0-8-1-2 0-2 1-2-1-1 0 0 1-11 0-1 0 0 0-6-1 0 1-1 0 0 0-2 0-3 0-3-1-6 1-41 2 20 0 5 0 6 0 9 0 4-1 2 0 0 1 1 0 1-1 1 1 1-1 0 1 6 0 2-1 1 1 0 0 1 0 5 0 1-1 1 0 2 1 1-1 1 1 0 0 2-1 0 0 0 1 3-1 0 1 2-1 7 1 0-1 3 1 1 0 2-1 0 1 1 0 2 0 1 0 4 0 0 0 0 0 2-1 1 1 5 0 1-1 10 0 2 1 1-1 3 1 6-1 0 0 2 0 0 1 6-1 1 0 0 0 0 1 4 0 6 0 1-1 1 0 0 0 2 0 1 1 3-1 1 0 0 0 0 0 2 0 0 1 0 0 1-1 0 0 1 0 0 0 3 1 1-1 0 1 3-1 0 1 0 0 1-1 9 0 2 1 4-1 1 0 3 0 1 1 3-1 0 0 3 0 0 0 3 0 1 0 1 0 1 0 0 1 0 0 4-1 0 0 0 1 3 0 0 0 1 0 2 0 1 0 1 0 2-1 2 1 1 0 0 0 1-1 0 1 1 0 2 0 2 0 2-1 0 0 0 0 2 0 1 0 0 1 0 0 1-1 1 1 1-1 3 1 1-1 1 1 1 0 1-1 1 1 4-1 2 1 2-1 1 0 0 0 3 1 1-1 0 1 4-1 0 1 1 0 1-1 0 0 0 1 1 0 1-1 1 1 1 0 1-1 2 1 4 0 2 0 2-1 1 0 0 1 2-1 0 1 1-1 0 0 0 1 3 0 4-1 1 0 0 1 0 0 1-1 0 1 2-1 0 1 1-1 2 0 1 1 2 0 8 0 5-1 1 1 1 0 2-1 0 0 0 1 2-1 1 0 0 0 0 1 0 0 2-1 1 0 0 1 2 0 1 0 2-1 0 0 2 0 2 1 2 0 6-1 0 0 0 1 1 0 2 0 3 0 1 0 1 0 0 0 2-1 0 1 0 0 0 0 1 0 0 0 1-1 1 0 0 1 0 0 1 0 0 0 1-1 0 1 3-1 1 0 2 1 0 0 2 0 1-1 0 1 0 0 2-1 1 0 1 1 0 0 1-1 1 0 1 0 0 0 1 0 1 0 0 1 1-1 0 1 4-1 0 0 2 0 0 0 0 0 1 0 1 1 0 0 0 0 3-1 0 1 0 0 1 0 1-1 1 0 0 0 1 0 0 0 1 1 0 0 2 0 1 0 1 0 1 0 0 0 1-1 2 0 2 1 2 0 1-1 0 0 5 0 3 0 1 1 2-1 5 0 0 1 2 0 6-1 1 0 1 0 1 1 4-1 1 1 5-1 2 0 0 3-2 0-1-1-3 0-6 0-1 0 0 1-3 0-1 0 0 0-1 0-1-1-1 1-1-1 0 0-2 0-1 1-2-1 0 1-1 0-1-1 0 1-1-1 0 0 0 1-1 0-5 0-1 0-1-1-3 0-1 0-2 1-3-1 0 1 0 0-1-1-2 0 0 1-1-1-2 0 0 0 0 1-2 0-1-1 0 0 0 1-1 0-1 0-4-1 0 1 0 0-1-1 0 1 0 0-1-1 0 1-1-1 0 0-1 0 0 1-1 0-2 0-1-1 0 1 0-1-1 0 0 0-1 1 0 0-1 0-1 0-1-1 0 1-1-1 0 0 0 1 0 0-1-1-1 0 0 0 0 1-4-1 0 1-1 0-1-1 0 1-2-1-1 1 0 0-1 0-1 0-1-1-4 1-3-1-1 0-1 1-1 0-2-1 0 0 0 1-1 0-1 0-1-1-2 0 0 1-2 0-1 0-2 0 0 0-2-1-1 1-1 0-1 0-2-1-1 1-2 0 0 0-1-1 0 1-2-1-1 1 0 0-1 0 0 0-2 0 0 0-3 0 0 0-4 0-2 0-2-1 0 0-1 1 0 0-1 0-1 0-3-1-2 1-5-1 0 1-1 0-2-1-1 1-1-1-8 0-5 0 0 0 0 1-1 0-1-1 0 1-1-1-1 0-2 0 0 0-2 0-6 1-1 0-1-1 0 0-1 0-1 1-2-1-1 0-1 0 0 0-3 1 0 0-1-1 0 1-1-1-1 1-1 0-1-1-1 1 0 0-1-1 0 1-5-1-1 0-2 1-1-1 0 1-1-1-1 0-1 1-4-1-2 0-2 0-1 0 0 0-1 0-4 0 0 0 0 1-6-1-2 0 0 0-15 0 0 1-1 0-12-1-4 1-2-1-2 0-1 0 0 1-2 0-2-1-1 1-1 0-1-1-4 1 0 0-1-1-3 1 0 0-1 0-2-1-1 1-5-1-2 1-4 0-2-1-1 0-3 0-8 1-1-1-1 0-3 0-4 1-4 0-3-1 0 0-1 0-4 1-2-1-2 1-6 0-1-1-2 0-1 0-4 0-1 1-1-1-3 0-1 1-5-1-3 0-2 0-3 0 0 0-1 1-2 0-3-1 0 0 0 1-3 0-2 0-3-1 0 1-4-1-1 0-6 1-12-1-17 1-75-1-20 0 86 2 7 1 6-1 15 1 0 0 5-1 3 1 2-1 0 1 7-1 4 0 4 0 0 0 3 0 7 1 3-1 1 0 2 0 1 0 0 1 1-1 0 1 0 0 4 0 3-1 1 0 0 1 6 0 0 0 1-1 4 1 9 0 2-1 0 1 1-1 1 0 0 1 5 0 1-1 2 0 2 0 1 0 1 0 1 1 1 0 2-1 1 1 2-1 1 0 1 0 0 1 2 0 3-1 2 1 5-1 3 0 0 0 4 1 1-1 1 1 2 0 1-1 4 0 1 0 3 0 0 1 0 0 4-1 2 0 3 1 4-1 0 0 0 1 2 0 9-1 0 0 1 1 4-1 0 1 10-1 5 1 1-1 0 1 1 0 1-1 0 1 3-1 1 0 2 0 1 1 2-1 1 1 1-1 1 0 1 0 2 0 0 0 3 0 3 0 0 0 0 1 1 0 1-1 1 0 2 0 0 0 0 1 1-1 0 0 2 0 0 1 0 0 3 0 0 0 1-1 1 0 0 0 0 1 1-1 0 1 2-1 1 0 0 1 1 0 0 0 0 0 1-1 0 0 1 0 0 0 0 1 1 0 0 0 0 0 1-1 0 0 3 0 0 0 0 1 1 0 1-1 1 1 1-1 1 0 2 1 6-1 0 1 3 0 2-1 2 0 1 0 2 0 1 0 5 0 0 0 4 0 1 1 0 0 2 0 2-1 2 0 0 0 3 1 1 0 3 0 0 0 4-1 2 0 0 1 2 0 5-1 1 1 0-1 0 1 1-1 1 0 0 1 1-1 0 1 1 0 3 0 0 0 1 0 1-1 0 1 0 0 1 0 1 0 1 0 0 0 1 0 5-1 1 1 0 0 1-1 3 0 0 0 1 1 3 0 5 0 1-1 0 1 1-1 0 0 1 0 0 1 0 0 0 0 1 0 1-1 0 1 1-1 0 1 1-1 1 1 1-1 0 0 0 1 1 0 1-1 0 1 1-1 0 1 2 0 1-1 0 1 1-1 0 0 1 1 1 0 1-1 0 1 0 0 0 0 1 0 0 0 2-1 0 0 0 1 1 0 0 0 3-1 2 1 0 0 0 0 1-1 1 1 1-1 0 0 1 1 0 0 1-1 2 1 3-1 3 0 0 1 1 0 1-1 0 1 1 0 1 0 1 0 0 0 0 0 1-1 1 0 0 1 3 0 1-1 0 1 0 0 4 0 1-1 3 0 0 1 2-1 0 1 3 0 2-1 0 0 2 1 1-1 0 1 2 0 0 0 1 0 2 0 1-1 1 1 1-1 1 1 1-1 1 1 8 0 0 0 1-1 3 0 1 0 1 0-4 2-1 0 0 1-1 0 0 0-1 0-1-1-1 0-2 1-1-1-1 0 0 1-3-1-2 1 0 0-2-1 0 1-2-1-2 0 0 0 0 1-1-1-1 0 0 1-1 0-5-1-2 0 0 0-1 0-1 1-1-1-2 1-2-1 0 1-1 0-1 0-1-1 0 0-1 1-1-1 0 1-3-1 0 1-1-1-2 0 0 0-2 0-3 0 0 0-3 1 0-1-1 0-2 1-1-1-2 1 0 0-1 0 0-1-2 1-1-1 0 1-1-1 0 0-2 1-1-1-2 1 0 0 0 0-1 0-1-1-2 0 0 0-2 1-1-1-1 0 0 0 0 1 0 0-1-1 0 0-1 0-1 0 0 0 0 0-1 0 0 1 0 0-1-1 0 1-1-1-1 1-1-1 0 1-1-1 0 0 0 0 0 1-1-1 0 0-3 0-1 1-2-1 0 1-1-1 0 1-1 0-4-1 0 0-2 0-1 0 0 1-1-1-2 0-2 0-1 0 0 1 0 0-1-1 0 1-1-1-3 0 0 0 0 0-1 0-1 0-2 1-1 0-2 0 0 0-2-1-6 0 0 0-1 0-4 1-2-1-1 0-1 0-1 0-1 0-1 1-2 0-1 0 0 0 0 0-2-1-1 1-2-1-1 1-3-1-1 0 0 0-1 0 0 0-1 0 0 1-3-1 0 0 0 1-1-1-2 0-3 1-1-1-5 0-1 1 0 0-1-1-1 0-3 1 0 0-1-1-1 0 0 0 0 0 0 0-1 0-1 0 0 1-1-1 0 1-3 0 0-1-1 0 0 1 0 0 0 0-1-1-1 1-2-1 0 1-1-1-1 0-1 1 0 0-2-1-1 0 0 0-1 1 0-1 0 1-1 0-1 0-1 0 0 0-1 0-1 0 0 0-1 0-3-1-1 0 0 1-3 0-1-1 0 0-1 0 0 0-1 1-1-1-2 1-2 0-1 0-1-1 0 0 0 1-4 0-1-1 0 1-1-1 0 1-1-1-1 1-1-1-9 1-1 0-3-1-1 1-1-1 0 1-2 0-5-1-3 1-3 0-4-1 0 1 0 0-2 0-1 0-3-1-1 0 0 1-1-1-4 1-3-1 0 0-1 0 0 0-2 1-2-1 0 1-2 0-5-1-1 0 0 1-1 0 0 0-1 0-3-1-1 0-2 0 0 1 0 0 0 0-1-1-4 0-3 0 0 0-1 0-2 0-1 1 0-1-2 0 0 1-1-1-1 0-9 1-2-1 0 0-4 0-2 1 0-1-1 1-4-1-3 1 0-1-2 1-1-1-1 0 0 0 0 0-1 0 0 1-1-1 0 1-1-1 0 1-6 0-1 0-2-1 0 1-3-1 0 1-1 0 0 0-5-1 0 1-3-1-2 0-3 1-2 0-3 0 0 0-1 0 0 0-1 0-3 0-3 0-3-1-6 1-4-1-3 0-16 0-1 0 0 1-5-1 0 1-2-1-2 1-4-1-9 1-56 0-16 0-2 0-14 1 80 0 6 0 15 0 3 0 4 1 1-1 6 0 5 0 8 0 1 1 2 0 2-1 0 0 0 1 3 0 0 0 3-1 5 1 0 0 3-1 0 0 1 1 1-1 1 1 2-1 0 1 2 0 9-1 3 1 3-1 1 0 0 1 0 0 1 0 0 0 3-1 4 1 4 0 0 0 1-1 1 0 2 0 1 0 0 0 3 1 3 0 1-1 1 0 2 1 2 0 1 0 0 0 1 0 1-1 0 1 1-1 1 0 3 1 2-1 0 0 5 0 0 1 2 0 5 0 4-1 1 0 2 0 3 0 0 0 4 1 1 0 0 0 4-1 0 1 3-1 0 0 3 0 1 1 2-1 0 1 0 0 2 0 9-1 0 1 2 0 0 0 4 0 0-1 1 1 4 0 1 0 1-1 2 0 3 0 1 0 5 1 2-1 1 1 3-1 0 0 2 0 2 1 0-1 0 1 1-1 0 1 1-1 4 0 2 0 1 1 0 0 1-1 0 0 0 1 2 0 4-1 1 1 2-1 0 1 1 0 1-1 2 0 1 0 0 0 0 1 0 0 1-1 0 1 1 0 1 0 1-1 1 0 1 0 1 0 1 0 2 1 1-1 1 0 1 0 0 0 2 0 0 1 2 0 1 0 0 0 1-1 0 1 1 0 0 0 1-1 0 0 0 0 0 1 1 0 0-1 0 1 1-1 1 0 0 1 1 0 0 0 1-1 2 1 0 0 1-1 3 0 0 1 3-1 1 1 1-1 0 1 6-1 0 1 1-1 0 0 1 0 0 0 1 0 0 0 3 0 0 0 6 0 2 1 1-1 1 0 2 0 0 1 1 0 0 0 1-1 1 0 1 1 1 0 2-1 1 0 3 0 2 0 0 0 1 0 1 1 1-1 1 0 6 0 1 0 0 0 0 1 1-1 1 0 1 0 2 0 2 0 0 1 1-1 1 1 1-1 0 0 1 0 0 0 0 0 0 1 0 0 1-1 1 1 1-1 0 1 2-1 3 0 0 1 2 0 0 0 1-1 1 0 0 1 0-1 1 1 1-1 0 0 0 1 1 0 1-1 2 0 1 0 2 0 0 1 1 0 1-1 0 1 1 0 2-1 1 0 2 1 1 0 2 0 1-1 0 0 0 1 1 0 2-1 1 1 0 0 1-1 0 1 1 0 1 0 0 0 1-1 0 0 2 1 0 0 1-1 0 0 1 0 1 1 0 0 2 0 0 0 0 0 2 0 1-1 0 1 2 0 1 0 1-1 1 0 5 0 0 0 1 0 3 0 2 0 1 0 0 1 2-1 1 0 0 0 0 0 0 1 0 0 1-1 1 0 1 1 1-1 0 1 1 0 0-1 1 1 1-1 1 1 1-1 0 0 0 1 0 0 2-1 0 0 0 1 1-1 1 0 1 1 1-1 2 1 4-1 0 1 2-1 5 0 0 1 1-1 0 1 1-1 9 0 0 1 10 0 0 1 0 0-1 1-8-1-2 1 0 0-1 0-3-1-2 0 0 0 0 0-2 0-1 1 0 0-2-1-1 0-4 0 0 1-1 0-2 0 0-1-3 0-3 0 0 1-3-1 0 0-2 0 0 0-1 0-2 0 0 0-1 0 0 0-2 0 0 1 0 0 0 0 0 0-3 0-1 0-1-1 0 0-1 0-5 0 0 1 0-1 0 0-5 1-4-1 0 0 0 0 0 1-2-1-1 1 0 0-1 0 0 0-1-1 0 1-1-1 0 0-1 0-2 0-2 0 0 1-1-1-2 1-1-1 0 1-1-1 0 0-2 0-1 1 0 0-2 0-1-1-1 0 0 0 0 1 0 0-1-1-1 0-2 0 0 0 0 1-1 0 0 0-1-1 0 0 0 1-1-1 0 1-1 0-1 0-6-1-1 0-1 1-1-1-1 0 0 1-1 0-1-1 0 0-1 1-1-1-2 0 0 0-2 1 0-1-1 1-1-1 0 0-1 0-1 0 0 1-1-1-1 1-1 0 0 0-1 0-7 0-2 0-1-1 0 1-6 0-1-1 0 0-2 1-1 0 0 0 0 0-1 0-1 0-2-1-2 0-1 0-1 0-1 0 0 0-1 0 0 1 0 0-1 0-4 0-1 0-4-1-4 0-2 0-2 0-3 0 0 0 0 1-1-1-1 0-1 0-2 0-1 0 0 0-2 0-1 1-1 0-1-1 0 1 0 0-1 0-1-1 0 0-2 1-1-1-1 1 0 0-2-1 0 1-1-1 0 0 0 1-1 0-1 0 0 0-1-1 0 0 0 1 0 0-1 0 0 0 0-1-1 0 0 1-1 0 0 0-1-1 0 0 0 0 0 0 0 0-1 0 0 0 0 1-1-1-1 1-1-1 0 1-1-1-3 0-1 1-2-1 0 0 0 1-1 0 0-1 0 1 0 0 0 0 0 0-2-1-2 0-1 0 0 0-1 1-1-1-4 0-1 0 0 1-1 0-2-1 0 1-1-1-1 1 0 0-1-1 0 1-1 0 0 0-1 0-6-1 0 1 0 0-2-1-4 0-1 1-1-1 0 1 0 0-3-1-7 0-4 1-4-1 0 1-1-1-3 1-2-1-4 1-4 0-2 0-1-1-8 1-2-1-2 0-3 1-2-1-1 1-3-1-1 0 0 0 0 1-2-1 0 1-1 0-1-1-1 1 0 0-1-1-2 1-1 0 0-1-1 0 0 0-3 0 0 1 0 0-3 0 0 0-3 0-3-1-1 0 0 0-2 0-1 1-1 0-1-1-1 0-1 1 0-1-3 1 0 0-2-1-2 1-2 0-1 0-3 0-3 0-2 0-1 0-5 0-2 0-2-1-6 0 0 1-5-1 0 1 0 0-5-1-4 0-1 0 0 0-2 1-1 0-4 0-5-1-2 1-7 0-4 0-4-1-1 1-9 0-14 0-4-1 0 1-7-1-22 1-28-1-9 1-32 2 7-1 3 1 24 0 54-1 7 0 8 0 1 0 4 0 2 1 1-1 5 0 1 1 2-1 1 0 10 0 2 0 2 0 0 1 9-1 0 1 4 0 0 0 7 0 3-1 0 1 6-1 2 0 14 0 2 0 0 0 2 1 1-1 0 1 1-1 0 1 3 0 0 0 2 0 0 0 2-1 1 0 1 0 1 0 0 1 1 0 1 0 4 0 4 0 3-1 2 0 0 1 4 0 2-1 2 0 7 1 4-1 8 0 4 1 1-1 1 0 0 1 0 0 1 0 3-1 1 0 3 0 3 1 2 0 1 0 1-1 1 0 3 1 1-1 0 1 1-1 0 0 0 1 4 0 2-1 1 0 2 1 2 0 4 0 1-1 1 0 1 1 1 0 1-1 1 0 0 0 3 0 2 0 0 1 1-1 2 1 1-1 0 0 1 0 0 0 0 1 3-1 0 0 0 0 2 0 3 1 2-1 0 1 6-1 2 1 2 0 0 0 1 0 0 0 1-1 0 1 1 0 0-1 0 1 0 0 1-1 1 0 0 1 0 0 3 0 0 0 1 0 0 0 2-1 1 0 0 0 1 1 2 0 1 0 1-1 1 1 0 0 1-1 2 1 2-1 0 1 1-1 0 1 0 0 0 0 1-1 0 1 1-1 1 0 0 0 0 1 0 0 0 0 0 0 0 0 1-1 0 0 0 0 1 0 0 1 0 0 1-1 1 0 0 0 1 1 1 0 0 0 1-1 0 1 0 0 1 0 1 0 3-1 1 0 0 0 0 1 4-1 1 0 0 1 1-1 1 0 0 1 1-1 2 0 1 0 5 0 1 1 1 0 2-1 1 1 1-1 1 0 0 0 2 0 2 0 2 0 9 1 1-1 1 1 3 0 1-1 2 0 1 1 2-1 0 0 2 0 3 1 1 0 1 0 1 0 1 0 2 0 1-1 0 0 3 1 2-1 1 0 1 0 1 0 1 0 0 1 1-1 4 0 1 1 0 0 0 0 1-1 2 1 3 0 0 0 5-1 1 1 2 0 1 0 1 0 0 0 2-1 1 0 0 1 1-1 1 0 0 1 1-1 0 1 0-1 0 0 2 0 0 1 1-1 1 1 1-1 0 1 2 0 1 0 2-1 1 1 1 0 1 0 3 0 0 0 1 0 1 0 0 0 2-1 1 1 2-1 0 1 2-1 0 1 0 0 1-1 0 1 2-1 1 0 0 1 2-1 1 0 0 1 0 0 1 0 0 0 1-1 0 0 0 1 1 0 2-1 0 0 0 1 2-1 0 0 2 0 0 1 0 0 0 0 2 0 7 0 2 0 1 0 1-1 2 0 0 1 3 0 2-1 0 0 0 1 1 0 4-1 3 0 4 1 1-1 1 0 3 0 1 0 1 1 2-1 4 1 1 2-1 0-1-1-2 0 0 1-1-1-1 0-3 0 0 1-1-1-3 1-1 0-1-1-1 0-1 0-1 1 0 0-2-1-1 1-6-1-3 0-2 0 0 1-1-1-3 1-4-1-3 1-4 0 0 0-1 0-1-1 0 0 0 1-1 0-1-1 0 1-1 0 0 0-1-1 0 1 0 0-2-1-1 1 0-1 0 1 0 0-1 0-1 0-2 0 0 0-1 0-1-1-1 1-1 0 0 0-1-1 0 1 0 0-2 0 0 0-1-1-1 0-1 1-1 0-1 0-2 0 0 0-1-1-1 1-1-1 0 0 0 0-1 0-2 0 0 1-1-1-1 1-3 0-1-1-2 1 0 0 0 0-1-1 0 0 0 1-1-1 0 0 0 1-2-1 0 0-1 1 0 0-2-1-2 1-2-1-1 0-1 0 0 1-3 0-2-1-1 1-1-1 0 0 0 1-6 0-3 0-1-1 0 1-2 0 0 0 0 0-4 0-10-1-1 1-2 0-5 0-6 0-1 0-1-1-4 1 0 0-1 0-2 0-2-1-1 0 0 0 0 0-2 0-1 0-1 1-2-1-5 1 0 0 0 0-2 0 0 0-4-1-4 1-1-1-3 1-1 0-1 0-2 0-1 0-1-1 0 1-3-1 0 1-1-1 0 0 0 1-1-1 0 0 0 1 0 0-2-1 0 0 0 0 0 1 0 0 0 0-1 0 0-1 0 0 0 1-1-1-1 0-1 0 0 1 0-1 0 0 0 1-2-1 0 1 0 0 0 0 0 0-1 0-1-1-2 0-2 0-1 0 0 0-1 0-1 1-1-1-2 0 0 1 0 0-1 0-1 0-1-1-1 0-3 0 0 1-1-1 0 1-1-1-1 0 0 1-1-1 0 0 0 1-1 0 0 0-1 0-1-1-2 1-1 0-2-1-1 1-1-1-1 0 0 0 0 1-1 0-1 0-2-1 0 0-1 1-2 0 0-1 0 1-2-1 0 0 0 1 0 0-3-1-2 1-3-1-3 0 0 1-1 0-1 0-2-1-6 1 0 0 0 0-5 0-1 0-4-1 0 1-1 0-1-1-2 1-3 0-1-1-4 1-1 0-3-1-2 0-1 1-1-1-4 1-1 0-3 0-1-1-1 0-3 1-5-1-1 0 0 0-1 0-3 0-4 1-1-1-1 0-3 0 0 0-4 1-2-1-1 0 0 1-1 0-1-1-1 0-4 0-1 1-1 0-1-1 0 1-1 0-1 0-1-1-1 1-2-1-3 1-1-1 0 1-1-1-1 0-5 1-2 0-2-1 0 1-1-1 0 1-4 0-2-1 0 1-5-1 0 1-1 0-1-1-3 0 0 1-1-1-2 0 0 1-1 0-1-1-2 1-1 0-3 0-1-1-1 1-1 0-17-1 0 0-3 1-3 0-1 0-1 0-1 0-4-1-1 0-1 0 0 1-3-1-6 1-2 0-1-1-4 1-26 0-18 0-5-1-10 0 65 3 4-1 0 1 1-1 0 1 4 0 0 0 1-1 4 1 1-1 2 1 2-1 0 1 4-1 0 0 0 1 0 0 0 0 4-1 0 1 7 0 0 0 9 0 1 0 0 0 2-1 3 1 4 0 3-1 4 1 1 0 1 0 1-1 1 0 0 0 0 1 1-1 3 0 0 1 2 0 4-1 1 1 2 0 5-1 2 0 2 0 1 1 1-1 2 0 0 1 3-1 2 1 1-1 0 1 1-1 0 1 1-1 0 1 1-1 5 0 4 0 0 0 4 1 2 0 3-1 0 1 2-1 0 1 1-1 0 0 1 1 2 0 3-1 0 1 1 0 1 0 2-1 2 0 2 0 2 1 1-1 0 0 0 0 2 1 2 0 3-1 0 0 0 1 1-1 1 0 8 1 2-1 1 1 2-1 0 1 2 0 1-1 0 1 0 0 1-1 2 0 5 1 9 0 6 0 2 0 5 0 0 0 1-1 3 1 0 0 1 0 1 0 0 0 1-1 1 0 2 0 0 1 2-1 0 1 5 0 1-1 0 0 1 0 0 0 0 1 1 0 2-1 1 0 1 0 3 1 1-1 0 0 0 1 0 0 1-1 1 1 0 0 1-1 0 0 0 1 1 0 0 0 0 0 0 0 1-1 2 1 2 0 0 0 1 0 2-1 0 0 1 0 0 0 1 0 0 0 1 0 0 1 0 0 0 0 1-1 1 0 0 1 0 0 1-1 0 0 0 1 2-1 0 1 0 0 0 0 1 0 1-1 3 0 1 0 0 1 0 0 3 0 0 0 1-1 0 0 2 1 1-1 2 0 1 1 1 0 0 0 2 0 0 0 2-1 0 1 2 0 7-1 0 1 2-1 2 0 4 1 3-1 1 0 0 0 4 0 0 0 1 1 0 0 2-1 1 1 3 0 2-1 2 0 4 0 0 0 3 0 1 1 2-1 1 1 4 0 2 0 1-1 5 1 1-1 1 1 4 0 1 0 1-1 0 0 3 1 2 0 1-1 4 0 0 0 1 0 0 0 0 0 1 0 0 0 0 1 3-1 0 1 1-1 0 1 2 0 1-1 0 1 1-1 0 0 1 0 0 1 3-1 4 0 0 0 0 1 0 0 0 0 4-1 2 1 1-1 0 1 1 0 0-1 0 1 1-1 0 0 1 1 0 0 1-1 0 0 0 0 1 0 0 1 2-1 1 1 1-1 0 1 1 0 1-1 0 1 0 0 0 0 1 0 1-1 0 0 0 1 1 0 0 0 1 0 1-1 0 1 1-1 0 1 2-1 1 1 0 0 2-1 2 1 1 0 1 0 1 0 2-1 0 0 0 1 1 0 0 0 1-1 0 0 0 1 0 0 1 0 0 0 1-1 2 0 1 1 1 0 2-1 0 0 2 0 1 0 1 0 2 1 2 0 1-1 0 0 1 0 3 0 1 0 0 1 6 0 0 0 2 0 5 0 4-1 3 0 0 1 2-1 3 0 0 2 0 1-1-1-1 0 0 0-1 0-5 0-1 0-1 1-9-1-1 0-1 1-1-1-3 1 0-1-1 1-1-1-1 1-4-1 0 0-2 1-3 0-1-1-1 1 0 0-1 0 0-1 0 0-1 0 0 1-2-1 0 0-1 0 0 0 0 1 0 0-1-1 0 1-2-1 0 1-1-1-1 1-1 0 0 0-2-1 0 0 0 0-1 0 0 0 0 1-1-1 0 1 0 0-1 0-1-1-5 0 0 1-1 0-1-1-3 1-1 0-4 0-1-1 0 1 0 0-1 0-1 0 0 0-1-1 0 0 0 1 0 0-2-1 0 0 0 1 0-1 0 1 0 0 0 0-1-1-1 0-1 0-1 0 0 1-1 0-1-1 0 1 0 0 0 0-2-1-2 1-1-1 0 0 0 1-1-1 0 1-1 0-1 0-1 0 0 0-2 0 0 0-1-1-1 0-1 0 0 1-1-1 0 0-1 0 0 1-1-1 0 1 0 0-1 0-2 0-1 0-2 0-1-1-1 0 0 1-1-1-1 0 0 0-1 0-2 1-5-1 0 1-2-1 0 0 0 0-1 1-1-1 0 1-4-1-1 0-1 1-1 0-4 0-1-1-4 1-3-1-2 0 0 0-2 1-1-1 0 1-1-1-1 1-2-1-1 1-3 0-2 0-6 0-2 0-3-1-8 0-1 0-3 1-1 0-1 0-2-1 0 0-2 0 0 1-2-1-1 0 0 1 0 0-4-1 0 1-1 0 0 0-1-1-1 0 0 0-1 0 0 1 0 0-2-1-1 1-1-1 0 1-1 0-1 0-1 0-1 0-1 0 0 0 0 0-1-1 0 1 0 0-2-1 0 0 0 1-1-1 0 1-3-1-5 0-1 0 0 1 0 0-1-1 0 0 0 0 0 0-1 0 0 0-1 1-1-1-3 1-1-1-1 0 0 1-2 0-1-1 0 0-1 1-2-1 0 1-1-1 0 1-4-1-1 0-1 0-2 0-1 0 0 0-2 1-2-1-2 1-2 0-2 0-5-1 0 0-3 1-1-1-1 0-1 1-4 0-1-1 0 1-3 0-1 0 0 0 0 0-2 0-1 0 0-1-2 1-3 0-1 0-1-1-3 0-2 0-1 0-3 1-4 0-5 0-3-1-1 1-1-1-2 0-1 0-1 0-6 0 0 1-1-1-3 0-5 1-1 0-3-1-2 1-5 0-1 0-10-1 0 0-3 0-1 0-1 1-3 0-7 0 0 0-1-1-3 0 0 0-3 1 0 0-1 0-3-1-1 1-5-1-1 0-2 1-2 0 0 0-4 0-5 0-10 0-5-1-4 1-2 0-2-1-3 0 0 1-1-1-4 1-3-1-1 1-2-1-1 1-1 0 0 0-1-1-2 0-2 0-1 1-49 0-29-1-14 1-4 0-5 0 23 1 14 0 50 0 9 1 1 0 1-1 1 1 3-1 0 0 1 0 5 1 6 0 2-1 0 1 0 0 2 0 1-1 1 0 1 1 0 0 2 0 11-1 10 1 4 0 4 0 1 0 1-1 0 0 1 0 8 0 0 0 1 1 4 0 0 0 4-1 0 1 6-1 4 1 2-1 1 0 1 0 1 0 1 1 2-1 2 0 2 0 1 0 2 0 0 0 0 1 3-1 1 1 2-1 4 1 1-1 3 1 2-1 1 0 0 1 2-1 0 1 0 0 2 0 3-1 0 0 1 0 0 1 2-1 0 1 1-1 2 1 4-1 0 1 2 0 1-1 1 0 2 0 1 1 0 0 2-1 1 0 1 1 4 0 5-1 0 1 1-1 0 1 2 0 0 0 4 0 1-1 1 0 0 1 8 0 1-1 0 1 2 0 2 0 7 0 2 0 1 0 1 0 3-1 3 0 3 1 1-1 2 1 2-1 5 0 1 0 0 0 1 0 1 0 1 1 0 0 3 0 2-1 0 1 1-1 1 1 1-1 0 0 0 0 1 0 0 0 0 1 1-1 0 0 1 0 1 0 0 1 0 0 1-1 0 1 1-1 0 0 0 1 1-1 1 0 1 0 0 0 0 1 1 0 0 0 1-1 1 1 1-1 0 1 0 0 0 0 1-1 0 0 2 0 0 0 0 1 1-1 1 1 1 0 0 0 0 0 2 0 1-1 1 0 1 0 0 0 0 0 1 0 0 1 0 0 1-1 0 0 0 1 1-1 2 0 1 0 0 1 1-1 1 1 1-1 1 1 1 0 1 0 4-1 0 0 2 0 0 0 0 0 1 0 3 1 3-1 0 0 0 1 3 0 7-1 8 0 0 1 2-1 0 0 2 0 2 0 0 1 2-1 0 0 1 0 2 0 0 0 0 1 0 0 2-1 1 1 4-1 1 1 3-1 4 0 0 1 2 0 1-1 0 0 1 1 1-1 1 1 1 0 5 0 1-1 0 1 4 0 2-1 2 0 0 1 1 0 1 0 0 0 1 0 0 0 1 0 1 0 2-1 1 0 1 0 0 1 0 0 1 0 1-1 0 1 1-1 0 0 0 0 1 0 1 0 1 0 0 0 0 0 1 1 0 0 1 0 0-1 0 1 0 0 1-1 0 1 0 0 2-1 1 0 1 1 3 0 0 0 1-1 0 0 2 0 2 0 0 1 1-1 0 1 1 0 0 0 1 0 1-1 0 0 0 0 1 1 0 0 1 0 3-1 0 1 0 0 2 0 1-1 0 1 1 0 1 0 0 0 1 0 1-1 0 0 1 1 2-1 1 1 1-1 0 1 2-1 1 0 0 1 1-1 0 1 1-1 1 1 0 0 1 0 0 0 0 0 1-1 0 1 0 0 1-1 0 0 0 0 0 0 0 1 1-1 1 0 0 0 3 0 0 0 2 1 1-1 0 0 0 1 2 0 0 0 2 0 1-1 0 1 3-1 2 0 0 1 1-1 0 1 4 0 1 0 1-1 1 1 1-1 3 0 1 0 0 0 3 1 0 0 1 0 4-1 0 1 0 0 2 0 1-1 1 0 1 0 0 0 0 1 2-1 1 3-6-1 0 0-1 0 0 1-2-1 0 0-4 1 0 0-1-1-2 0-4 0-2 0 0 0-2 0-1 0-2 1-4-1 0 0-1 1-2 0-1-1-1 0 0 0-2 0 0 1 0 0-3-1-1 0-1 0 0 0 0 1-3 0-1-1 0 0 0 1 0 0-1-1 0 1 0-1 0 1 0 0-2-1 0 0-1 0 0 1 0 0-1 0 0 0-1-1 0 1 0 0-2-1 0 0 0 1-1 0-2-1 0 1-1-1 0 1 0 0-1 0-1-1 0 0 0 1-1-1-1 1-1-1-2 0 0 1-1-1 0 0 0 1-1-1 0 1-1-1 0 1-1-1-1 0-3 1 0 0-1-1-1 0 0 0-1 1 0-1 0 0 0 1 0 0-2 0-1-1-1 0-1 0 0 1-1 0-5 0-1 0-1 0-1-1-1 0 0 0 0 1-1 0 0 0-2-1-2 0 0 1-2-1-1 0-2 0-1 0 0 1-1 0-1 0 0 0-1 0-2 0-1 0 0 0-4-1-1 0 0 0-1 0-1 1 0 0-4 0-1-1-8 0 0 1-1 0-6-1-1 0-1 0-1 1-8-1-1 0-1 1-1 0 0 0-1-1-1 0-2 1-1 0-3-1-5 0-2 0-2 1-1-1-2 1-1-1-3 1-2-1-1 1-2 0-2-1 0 1 0 0-1-1-1 0 0 1-2-1-2 0 0 1-1 0 0 0-1 0 0 0-2 0 0 0-1 0-1-1 0 0 0 1-1-1-2 1-1-1-1 0 0 1-1-1 0 0-1 0 0 1-1-1 0 1-1-1-2 1-1 0-1 0 0 0-1 0-1-1-1 1-1-1 0 1 0 0-1-1 0 1 0 0-1-1 0 0-1 1-1-1 0 0-1 0-2 1 0 0 0 0-4-1-1 1-2-1 0 1-1-1 0 1 0 0-1 0-3 0 0 0-2-1 0 1-1-1-1 0-1 0 0 1-1-1-1 1-2-1-1 1 0 0-1 0-3 0-1 0-1-1-2 1-3-1-3 1-1-1 0 1-2 0-2 0 0 0-2-1-3 0-1 0-3 0 0 1-3 0-2 0-4 0 0 0-3 0-4 0-5-1-1 0 0 1-1 0-5-1 0 1-2-1 0 1-2-1-2 0-1 0-2 0 0 0 0 1-2-1 0 0 0 1-1 0-1 0-3-1-1 0-1 0-3 0 0 1-6 0-2-1-3 0-5 0-2 0-1 1-4 0-3-1 0 0-1 0-1 0 0 0-2 0-3 0 0 1-1 0 0 0-3 0-5 0-1-1-1 1-4 0-1-1 0 1-2 0 0 0-3-1-1 0 0 1-2 0-4 0-1-1-3 1-3-1-1 0-2 0-12 1-1 0-1-1-5 0-9 0-1 1-1-1-1 1-1 0-1-1 0 0-1 0 0 1-1-1 0 1-1-1-3 1-4-1 0 1-1-1-1 1 0 0 0 0-4 0-4 0-27 0-1-1-25 0-1 0-6 1-15-1-20 0 6 2 49 1 38-1 1 0 1 1 2 0 0 0 2-1 3 0 1 1 1 0 2-1 0 1 0 0 0 0 0 0 1-1 1 1 3 0 1 0 1-1 1 1 2 0 1-1 0 1 0 0 2 0 3-1 13 1 2-1 2 0 4 0 2 0 0 0 3 1 0-1 5 1 2 0 1-1 0 1 3-1 7 0 3 1 1-1 3 1 1 0 1-1 3 1 2 0 1-1 3 0 1 0 0 1 1-1 1 0 0 1 2 0 0 0 2 0 1-1 0 1 3-1 2 1 2-1 1 0 1 0 2 1 2 0 2 0 2 0 8 0 5 0 1-1 2 0 0 0 2 0 3 0 1 1 1 0 3 0 3 0 0 0 2-1 5 0 1 0 5 1 3-1 6 0 1 1 3-1 5 0 5 0 3 0 1 1 6-1 1 0 1 0 4 1 0 0 5 0 2-1 1 1 2-1 2 1 1 0 2 0 1 0 0 0 2-1 0 0 0 1 1-1 1 0 0 1 0 0 3 0 0 0 1-1 1 1 0 0 0 0 2 0 0 0 1-1 0 1 0 0 2-1 1 0 0 1 1-1 0 0 0 1 1-1 1 0 0 0 1 0 0 0 0 1 1-1 0 0 0 1 1 0 0 0 0 0 0 0 0 0 2 0 1 0 1 0 0-1 0 1 0 0 0 0 1-1 1 1 0-1 0 1 1-1 0 1 1-1 0 0 0 0 0 1 1-1 0 0 0 1 0 0 0 0 1 0 1-1 0 0 0 0 0 1 1-1 2 1 0 0 1-1 0 1 1-1 1 0 0 1 2-1 1 0 0 0 0 1 0 0 3 0 1 0 0-1 0 1 2-1 0 1 0 0 0 0 2-1 2 0 0 1 1-1 2 1 1-1 0 1 1-1 2 1 5 0 4-1 0 1 0 0 1-1 1 0 0 1 1 0 4-1 0 1 1 0 1 0 1-1 1 0 0 1 10-1 0 1 2 0 1 0 1-1 0 1 1-1 2 0 2 1 5-1 1 0 2 1 2 0 0-1 1 1 1 0 6-1 3 1 1 0 0 0 2 0 0 0 0 0 2 0 1-1 0 0 0 1 0 0 2 0 2 0 0 0 1 0 1-1 0 1 0 0 0 0 2-1 1 0 2 0 1 0 1 0 0 1 1-1 0 0 0 0 2 0 1 1 1 0 1 0 1-1 1 1 1-1 1 1 2-1 1 1 2-1 1 0 1 0 0 0 1 0 1 0 0 1 1-1 0 1 2-1 0 0 2 0 1 0 0 0 1 1 0 0 2-1 0 1 1 0 0 0 1-1 0 0 1 0 0 0 0 1 2-1 0 1 1-1 1 0 1 0 3 0 1 1 1-1 0 0 0 0 1 0 1 0 0 0 0 1 0 0 1-1 1 1 2-1 0 0 1 0 0 1 0 0 1-1 4 1 0 0 1-1 0 0 5 0 0 1 5-1 3 0 1 1 3 0 1 0 4-1 1 0 0 1 1-1 3 0 0 1 1 0 1-1 2 1 3-1 4 0 0 1 2 0-5 2-1-1-3 0 0 0-4 1-4-1-1 0 0 1-1 0-2 0-1-1 0 0 0 1 0 0-2-1-1 1-3 0-2-1-1 0-1 1-1 0-1-1 0 0 0 1-1-1-5 0-2 0 0 0-3 0-2 1 0 0-1-1 0 1 0 0-1 0 0 0-1-1 0 0 0 0 0 0 0 0 0 0-1 1-1-1 0 1-1 0-3-1 0 1-1-1-1 1 0 0-1 0-1-1-3 1-2 0-4-1 0 1 0 0-1-1 0 1-1 0-1-1-1 1-2-1 0 1-1 0-3 0-2-1-1 0 0 1 0 0-1-1 0 1-1-1 0 1-1 0 0 0-2 0-2-1 0 0 0 1-2 0 0 0-1-1 0 0 0 0 0 1 0 0-1-1-1 1-1-1-1 1-1-1 0 0-3 0-1 1-1-1-1 0-1 0-1 1-1 0-2-1 0 1 0 0-1-1-1 0-1 1-1-1 0 1 0 0-1 0-1 0-1 0-2 0 0 0-3-1-1 0 0 0-1 0-1 0-1 0-4 1-1 0-1 0-1 0-6 0-6 0-1-1-2 1-3-1-1 0-2 0-6 1-3-1-1 1 0 0-1 0-1 0-5 0-1 0-2 0-1 0-2-1 0 0-2 0-1 0 0 0-1 1-1-1 0 1 0 0-1 0 0 0 0 0-1-1-1 0-1 0-3 0-1 0-1 0-1 1-1-1 0 1-2 0 0 0-2 0-2 0-1-1 0 0 0 1-2 0 0 0-1 0 0 0-1-1 0 0 0 1-2-1 0 1 0 0-1-1 0 0 0 0 0 1-1-1 0 1-1-1 0 0 0 1 0 0-1 0-1 0-1-1 0 0 0 0 0 1 0 0-1-1-1 0 0 1 0-1 0 1 0 0 0 0-1 0 0 0-3-1-2 0 0 0-1 0-1 0-1 0 0 0 0 1-1 0-1-1-1 0 0 1 0 0-2-1 0 1-1-1-1 0-2 0-1 1 0 0-1-1-1 0-6 0 0 0-1 1 0 0-2-1 0 1-4 0-2 0-1-1 0 1-7-1-4 0-3 1-2 0-2-1-1 1-1 0-2 0-1-1-3 0-1 1-4 0-4 0 0 0-2-1-1 0-4 1-1 0-6 0 0 0-1-1 0 1-1-1-4 1-3 0-1-1-2 0-5 1-2 0-2-1-3 0-1 1-1-1-1 1-6-1-4 1 0 0-1-1-2 1-1 0-1-1-1 0-5 1-1-1-1 0 0 0-1 0 0 1-1 0-1 0-1-1-1 1-1 0-4-1-2 1-1 0-5-1 0 1-1-1-6 1-2 0-3 0-6-1-1 0-3 0-1 0-3 0-1 0-1 0-2 0 0 0 0 1-8 0-1-1 0 1-2 0-1 0-4-1 0 1-4 0 0 0-1 0 0 0-1 0-1-1-1 0-2 0 0 1 0 0-2 0 0 0-2 0-1-1-1 0 0 1-2-1-1 0-1 0 0 0-2 1-1 0-1-1 0 1-1-1 0 1-1-1-3 0-8 0-3 1-5-1-14 1-51 0-18 0 20 1 5 0 2 0 12 1 21 0 30 0 7-1 0 0 1 1 0 0 2-1 1 1 1-1 0 1 0 0 0 0 2-1 0 1 1-1 0 0 0 1 2-1 1 1 0 0 1 0 1 0 1 0 2-1 0 1 0 0 1 0 2-1 1 0 1 1 1 0 1-1 1 0 0 0 0 1 1-1 0 0 1 1 0 0 2-1 0 1 1-1 2 0 0 0 1 1 3-1 1 0 8 1 5-1 6 0 2 0 2 1 3-1 2 0 3 1 1 0 3-1 4 0 0 1 3 0 4 0 5 0 1 0 3-1 0 1 1 0 0 0 2-1 2 1 1-1 0 1 7-1 0 1 2-1 1 0 5 1 0-1 1 1 2 0 10-1 3 1 0 0 3 0 2-1 2 0 5 1 4-1 1 1 1 0 2 0 1-1 1 1 1 0 0 0 1-1 0 1 3-1 0 0 1 0 0 0 0 1 1 0 4 0 1 0 2 0 2 0 1 0 1 0 5-1 2 0 0 0 0 1 1-1 0 1 0 0 3-1 0 0 2 0 1 1 3-1 0 0 1 0 0 1 0 0 2 0 0-1 1 0 0 1 1-1 3 1 1-1 2 1 0 0 2 0 1 0 3 0 3-1 0 0 1 0 5 0 0 1 2-1 0 1 1 0 2 0 1-1 0 1 1-1 0 0 0 1 0 0 1-1 0 0 0 1 1 0 1 0 1 0 0 0 1-1 0 0 2 0 0 0 0 1 1-1 0 0 1 0 1 0 1 0 0 0 1 1 1 0 1 0 0 0 1-1 0 1 1-1 0 0 1 0 0 1 2-1 0 0 0 1 1-1 0 0 0 0 0 1 1-1 0 0 0 0 0 0 1 0 0 0 0 1 0 0 2-1 1 0 0 0 1 0 0 0 0 0 0 0 1 1 1 0 1-1 1 0 0 1 0 0 1 0 1-1 0 1 0 0 0 0 2-1 1 1 0 0 1-1 1 0 1 0 0 1 1-1 0 1 1 0 1-1 0 1 0 0 0 0 3-1 0 1 1-1 0 1 1 0 1-1 2 0 0 1 1-1 1 1 2 0 1-1 1 0 0 0 1 1 3 0 2 0 1-1 1 1 1-1 0 0 1 0 4 0 4 0 1 0 10 1 2 0 2-1 0 0 3 1 0 0 2-1 0 0 0 1 2 0 2-1 0 0 1 0 0 0 1 1 1-1 1 1 1-1 1 0 0 0 0 1 1-1 2 1 1-1 0 1 1-1 1 0 0 1 3 0 2-1 0 1 2-1 0 1 1-1 1 0 1 0 0 0 2 0 0 0 0 0 0 1 1-1 1 1 1 0 2 0 0 0 1-1 0 0 0 0 0 1 0 0 1 0 1-1 0 0 0 1 1-1 0 0 0 1 2 0 1-1 1 1 1-1 0 1 0 0 0 0 0 0 2-1 0 0 0 1 0 0 1-1 1 1 2-1 0 1 1 0 1 0 0 0 1 0 2 0 1-1 1 0 1 0 0 0 1 0 0 0 0 1 2-1 1 0 0 1 0 0 1 0 0 0 1-1 1 0 0 0 0 1 1 0 1 0 1-1 0 1 1-1 1 0 0 0 0 1 1 0 1-1 1 0 0 1 1-1 1 0 0 1 2-1 0 0 0 0 1 1 0 0 2-1 0 1 1-1 1 1 0 0 0 0 1-1 1 1 2 0 2-1 0 1 2-1 1 0 0 0 4 1 2-1 1 0 0 1 1 0 2 0 1 0 1-1 0 1 3 0 7-1 2 0 2 0 3 0 1 1 2-1 1 1 3-1 0 1 2-1 3 0 1 3 0 0-1-1-2 0-5 1 0 0-2-1-3 0 0 0-11 1-1 0-2 0-1-1-4 0-1 0-1 0-3 0-6 0 0 0-1 0-1 0 0 0 0 1-1-1 0 0-2 0 0 1-1-1 0 1-1-1 0 0-1 0-1 0 0 1-3-1 0 0 0 0 0 0 0 1 0 0-1-1 0 0 0 0-2 1-1-1 0 0 0 1-1-1 0 1 0 0-1 0-1-1 0 0 0 1-1-1 0 1-1-1 0 1 0 0-1-1-1 0 0 1 0 0 0 0-1 0-2 0-1 0 0 0-2 0-1 0-1-1-1 1-2-1-1 0 0 1-2-1 0 1-1 0 0 0-1 0 0 0-2-1 0 0-3 0 0 0-2 1 0 0-1-1-1 1-1-1 0 1-1-1 0 0-2 0 0 1-2-1-1 0-1 1-2 0-2-1 0 1-1-1 0 1-2-1-3 1-2-1-2 0 0 1-1 0 0 0-2-1-3 1-2-1-1 0-8 1 0 0-1-1-1 1-1 0-4 0 0 0 0 0-1-1 0 1-1-1 0 1-1 0-1-1 0 1-1 0-1-1-2 0-9 0-2 1-3-1-1 0-1 1-1-1-3 0-2 1-1 0 0 0-2-1-4 0-1 1-1 0-1 0 0 0-1-1-2 0 0 1-1 0-1 0-1 0-1-1 0 1-1 0-1-1-1 1-1-1 0 1 0 0 0 0 0 0-1-1 0 1 0 0-1 0-1-1 0 0 0 1 0 0-1 0 0 0-1-1-1 0 0 0 0 0 0 1-1-1 0 0-1 1-1-1 0 1-1-1-1 0-3 0 0 1-2-1 0 1-3 0-1-1 0 0 0 0 0 0 0 0-1 0 0 1-1 0-1 0 0 0-2-1 0 1 0 0-1 0 0 0-1-1-1 0-1 1-1-1 0 1-1-1-1 0 0 0-1 1-1-1-1 0-1 1-6-1 0 1-5-1-1 1-2-1-1 0-3 0-1 0-2 1-3 0-2 0-1 0 0-1-3 1 0 0-7-1-2 0-2 1-4 0-8-1 0 0-4 0-2 1-1-1-2 1-2 0-7 0 0 0-3 0-1-1-2 0 0 1-7 0-3 0-2 0-2 0-11-1-5 0-1 1 0 0-2 0-4-1-4 1-3-1-4 1-1 0-1-1 0 0-5 1-3-1-3 1-1-1 0 0-3 1-2-1-2 0-2 0 0 0-1 0-1 0 0 1-4-1-1 0-1 0 0 1-2 0-2-1-7 0-7 0 0 0-1 0-3 0-9 0-1 0-1 1-1-1 0 1-2-1 0 1-1-1 0 1 0 0 0 0 0 0-1 0 0 0-1-1 0 1-2-1 0 0 0 1-1-1-1 0 0 1 0 0-1-1 0 0 0 1 0 0-1-1 0 1-1-1 0 0-1 1-1-1 0 1-1-1 0 1-1-1 0 1-2-1 0 0-1 1-1-1 0 1-1-1 0 0 0 1-1-1-1 0 0 0-1 0-3 0 0 0-3 0-35 0-13 1-3-1-2 1-1 0-1-1-3 0-3 1-2 0-5 0-2 0-5 0-6-1-10 0 22 2 0 1 1-1 1 0 0 1 0 0 2 0 3-1 5 1 0 0 9-1 0 0 11 1 3-1 37 1 2 0 0 0 2-1 1 1 2 0 1 0 0 0 1-1 0 1 0 0 1-1 0 0 1 0 1 1 1-1 0 1 0 0 0 0 1 0 2-1 0 0 0 0 0 1 1-1 0 0 0 1 2-1 0 1 0 0 1-1 0 1 0 0 0 0 1 0 1-1 0 0 0 1 0 0 1-1 0 1 0 0 1-1 0 0 1 0 0 1 1 0 0 0 1-1 0 1 0 0 3-1 0 0 0 1 3-1 1 1 0 0 3-1 0 1 3 0 2 0 1-1 2 0 0 0 3 1 1 0 1-1 1 1 1 0 1-1 2 0 1 0 5 0 1 1 1-1 1 0 1 0 1 0 2 0 2 0 7 0 4 1 2 0 1 0 1-1 0 0 5 1 0 0 1-1 1 0 2 1 5-1 2 0 1 0 8 0 0 1 4-1 4 1 2-1 0 1 8-1 5 0 1 1 0 0 5-1 1 0 1 1 0-1 1 0 2 0 0 1 3 0 0 0 2-1 1 1 1-1 0 0 0 0 0 1 1 0 1-1 2 1 3 0 1 0 6-1 1 0 0 0 0 1 2 0 2-1 3 0 2 0 1 1 1-1 0 0 1 1 0-1 5 0 0 1 1 0 1 0 0 0 1-1 0 1 3 0 1-1 0 1 1 0 1 0 2-1 0 1 3-1 1 0 1 1 6-1 1 1 0 0 2-1 2 1 1-1 5 1 1-1 0 1 0 0 1-1 1 1 1 0 0 0 0 0 1 0 1-1 0 1 0-1 1 0 0 1 1-1 0 1 0 0 2-1 0 1 0 0 1-1 0 0 0 0 0 1 0 0 1 0 1 0 1-1 0 1 1-1 0 1 1-1 0 1 0 0 1 0 3 0 0 0 1-1 0 0 1 0 0 0 1 1 1 0 0 0 0 0 0 0 3-1 1 0 0 1 1-1 1 1 1 0 1-1 1 0 0 1 2-1 0 0 0 0 0 1 0 0 1-1 0 0 1 0 2 1 1 0 0 0 1-1 0 1 0 0 3 0 3-1 1 0 0 1 0 0 1-1 0 1 1 0 1-1 2 0 2 1 2 0 2 0 1 0 2 0 2-1 0 1 4 0 8 0 0 0 1-1 2 1 2-1 0 0 2 0 1 1 2 0 0 0 1 0 2-1 1 1 1-1 0 1 0 0 2 0 1-1 1 1 1 0 0 0 1 0 1-1 0 1 0 0 1-1 1 0 3 0 0 1 0 0 3 0 0 0 1 0 1-1 3 0 0 1 0 0 1 0 1 0 3-1 0 1 1-1 1 1 1 0 0 0 3 0 1 0 1-1 0 0 0 0 1 1 1 0 3 0 1 0 3 0 1 0 1-1 0 1 1-1 6 1 1-1 0 0 1 1 1-1 0 0 0 0 0 1 1-1 0 1 2-1 0 1 1 0 2-1 0 0 0 1 1-1 0 1 1-1 1 1 0 0 3 0 1-1 0 1 1-1 0 0 0 1 0 0 3-1 0 1 0 0 0 0 1 0 1-1 0 0 1 0 2 0 0 0 1 0 1 0 1 0 1 1 1-1 0 1 2-1 1 0 1 1 1-1 0 1 2 0 1 0 1-1 0 0 0 0 0 1 1 0 0 0 1-1 1 1 2-1 4 1 2-1 1 0 3 1 2-1 0 1 3-1 0 0 0 1 3-1 1 0 0 1 2 0 6-1 1 0 3 0 2 1 2-1 2 0 0 1 3-1-3 2 0 1-6 0-1-1-1 0-5 1-1-1-2 0-1 1-3 0-2 0-1 0-1 0-1 0 0 0-1-1-1 1 0 0 0 0-3-1 0 0-4 0 0 0-3 1-1 0-3-1-1 0-1 0 0 0 0 0 0 1 0-1 0 1-3 0 0 0-2-1 0 0 0 1-1-1 0 1-1-1 0 1 0 0-1-1 0 1 0 0-1-1-1 0-1 0 0 1-2-1 0 1 0 0-2 0-1 0-1-1-2 1-1-1-1 1-1 0 0 0 0 0 0 0 0 0 0 0-1-1-1 1 0 0-1 0-1-1-1 1 0 0-1-1-1 1 0 0 0 0-1 0-1-1-1 0 0 1-2 0 0-1 0 1 0 0-1-1-2 1 0 0 0 0-1 0-1 0-1-1-1 1 0 0 0 0-2 0-1 0-1-1 0 1 0 0-1-1-2 0 0 0-1 0 0 0 0 0-1 0-3 1-1 0-1-1-2 0 0 0 0 1 0 0 0 0-2 0-1 0-1 0-2 0-2-1-2 0-1 1-2-1-2 0-1 0 0 0 0 1-1-1-1 0 0 1 0 0-1 0-4 0-1-1-1 0 0 1 0 0-2-1-1 0-1 1 0 0-3-1 0 1-1-1 0 0 0 0 0 0-1 0 0 0 0 0 0 1 0 0-2-1-1 0-1 0 0 1-1-1-1 1-1-1-1 0 0 1-5-1-2 0-3 0-3 1-2 0 0 0-2-1-1 1-1 0-1 0-1-1-1 1-2-1 0 1-1-1 0 0-1 0 0 0-1 0 0 0-1 0 0 1 0-1-2 1-2 0-1-1 0 0-2 0-1 0 0 1 0 0-1-1 0 1-1-1 0 0-1 0 0 1-1 0-2-1-1 0-2 1-1-1 0 0-1 1 0 0-1 0-1 0-2-1 0 0 0 1 0 0-1-1 0 1-1-1 0 1 0 0-1-1 0 0 0 1-1-1 0 1-1-1 0 1-1-1-1 0 0 1-1-1-1 1-2-1-1 1 0 0 0 0-1 0 0 0 0 0-1-1 0 1-1 0-1-1 0 1-1 0-1-1 0 1-1 0-2 0-3-1 0 0 0 0 0 0-1 0 0 1-1-1-1 1-4-1-3 1-3-1 0 0-3 1-3 0-3-1-3 0 0 0-1 1-1 0-1 0-1 0-1-1 0 1-1-1-4 1-1 0-2 0-2-1-2 0-8 1-1 0-2 0-4 0-3-1-1 0 0 0-2 1-7-1-2 1 0 0-2 0-1-1-1 1-4 0-9 0-3-1-3 0 0 1-3-1-5 0-1 0-1 1-1 0-2-1-1 0-4 0 0 1-7-1-2 1 0 0-1-1 0 1 0 0-2 0-2-1-2 0-1 1 0 0-1-1 0 1 0 0-2 0-1-1 0 1-1-1-2 1-1-1 0 1-3 0-2 0-3 0-1 0 0 0-2-1-2 0 0 1-1-1 0 0 0 1-3-1-2 0-2 1-1-1 0 1-1-1-3 0-1 1-1-1 0 0 0 1-1-1 0 0-1 1-1-1-3 1-2-1 0 1-5 0 0 0-9 0 0-1-1 0-4 0-1 1-1-1 0 0 0 1 0 0-1-1 0 0-1 0 0 0 0 1-1-1 0 0 0 0 0 1-1-1 0 1-1-1 0 1 0-1-1 1 0-1 0 0 0 0 0 0-2 1 0 0-1-1 0 1-1-1 0 1-1-1 0 0 0 1-1-1 0 0-1 0-1 1-1 0 0 0-1-1-2 1-2-1-1 0 0 1-1-1-1 0-1 0 0 0-2 0 0 1-1-1-1 0 0 1-1 0-3-1-1 0-28 1-30 0-8 0 0 0-3-1-2 0 0 0 7 3 1-1 11 0 1 1 11-1 7 1 5 0 23 0 5-1 1 0 0 0 2 0 0 0 1 1 2-1 1 1 0 0 1 0 3-1 0 0 0 1 1 0 0 0 1 0 1-1 0 0 0 1 1-1 0 1 0 0 0-1 2 1 0 0 0 0 1 0 1-1 0 1 1 0 0 0 1 0 1 0 1-1 0 0 1 0 1 1 0 0 1-1 1 0 0 0 0 1 0 0 1-1 0 0 1 1 1-1 0 1 0 0 1-1 0 0 0 1 2-1 0 0 0 0 1 0 0 1 1 0 0 0 1-1 0 1 1-1 2 0 1 1 7 0 2-1 0 1 5-1 3 0 1 1 5-1 1 1 0 0 3-1 1 0 2 0 4 1 0 0 2 0 3 0 3 0 5 0 0 0 5-1 0 0 1 1 1-1 0 0 0 1 0 0 1-1 0 1 0 0 1-1 0 0 1 0 0 1 1 0 2 0 1 0 1 0 1 0 4-1 2 1 1-1 2 0 1 0 7 0 2 1 3-1 4 1 3-1 1 0 1 1 3-1 11 1 1 0 4-1 1 0 2 0 1 0 0 0 0 1 2-1 3 1 1 0 4 0 2 0 2 0 1-1 7 1 2 0 1-1 3 1 3 0 2 0 2-1 3 0 2 0 1 0 3 0 1 0 1 1 1 0 2 0 3-1 1 0 5 0 1 0 0 0 0 1 1-1 0 1 1 0 1 0 0 0 1 0 0 0 1 0 1-1 0 1 0 0 3-1 1 1 1 0 1 0 1-1 1 1 1-1 1 0 2 0 1 1 1-1 0 1 0 0 1 0 0 0 1 0 1-1 3 1 4 0 1 0 0 0 3-1 1 0 0 0 0 1 1-1 0 1 1 0 1-1 0 1 1-1 0 1 1 0 1-1 0 0 0 1 1-1 0 1 0-1 0 1 3-1 0 1 0 0 2-1 1 0 0 1 1 0 3 0 2 0 1 0 1-1 2 0 0 1 3 0 1-1 1 0 0 0 0 1 0 0 4 0 2-1 0 0 2 0 1 0 2 0 0 1 1 0 1-1 5 0 0 1 1 0 4 0 1-1 1 1 1-1 2 0 0 1 4-1 2 0 1 1 1-1 0 1 2-1 0 1 2-1 0 0 4 1 2-1 0 1 5 0 1-1 2 1 1 0 1 0 2-1 0 1 2-1 0 0 0 0 2 0 1 1 1-1 0 1 1-1 0 0 0 1 2-1 0 0 0 1 1 0 1-1 1 0 1 0 2 0 1 1 0-1 0 1 1 0 1 0 0 0 1-1 1 0 0 1 1-1 0 0 2 1 1 0 0 0 1 0 3 0 1 0 1-1 0 0 0 1 1 0 1-1 1 0 3 0 2 0 0 1 2 0 2-1 0 1 1-1 0 1 0 0 3-1 1 1 0 0 1-1 2 1 1 0 1 0 1 0 2 0 1 0 1-1 0 0 1 0 0 0 0 1 3 0 1-1 0 0 1 0 0 0 0 1 2-1 0 0 1 0 0 1 1-1 1 1 0 0 0 0 2 0 1-1 0 0 0 1 2-1 3 1 1-1 0 0 3 0 3 0 0 0 1 0 0 1 1-1 0 1 1-1 0 1 2 0 2-1 0 1 1 0 0 0 11-1 3 0 0 1 0 0 6-1 1 0-2 2 0 1-1 0-4 0-1-1 0 1-1-1-8 1-1-1-3 0-1 0-2 0 0 1 0 0-3 0-1-1-1 0-1 0-1 1-1-1-1 0 0 0 0 0 0 1-3-1-1 0-2 1-2 0-1-1-1 1-1-1 0 0-1 1 0-1-1 1-5 0-1 0-2-1 0 1-2-1 0 1-1 0-1-1-1 1-2-1 0 1-1-1 0 1-1 0-1-1 0 1-2-1 0 0 0 0-1 0-1 1 0 0-1-1-4 1 0 0-1-1 0 0-2 0 0 0-1 0 0 0 0 1-3-1-2 0 0 1 0 0 0 0-1-1-1 1 0 0 0 0-1 0-1-1 0 1 0 0-2-1 0 1-1-1-1 0 0 0-1 1 0 0-1-1 0 1-1 0 0 0-1-1 0 0-3 1-2-1 0 0 0 0 0 0-1 1 0-1-1 0 0 1-1-1 0 1-1-1-1 0-1 0 0 0 0 0-2 0-1 0 0 0-1 0-2 1-9-1-5 0 0 1-1 0-1-1-2 1-1-1-5 1-3-1 0 1-1 0-2-1-1 1-2-1 0 0 0 1-1 0-2 0 0 0-2 0-2-1-1 1-1 0-1 0-2 0-1-1 0 1-2-1-2 1-1 0-1-1-2 0 0 1-4-1-4 0-1 0-1 1-4-1-7 0 0 1-1-1-1 0-2 0 0 1-1-1 0 0 0 1-1-1 0 0 0 1-1-1 0 1-1-1 0 1-1-1 0 0 0 1-1-1 0 0-2 1-1 0 0 0 0 0-3-1 0 1-1 0-1-1-1 0-2 1-2-1-1 0-1 1-1 0-1 0-2-1-1 0-1 0-1 0-2 0-5 1-1-1 0 0-1 1 0 0-2 0-2 0 0 0-1-1-1 0-1 1-4 0-1-1-4 1-4-1 0 0-2 0-1 0-1 1-2-1-1 1-1 0-2 0-4-1 0 1-2 0-5-1 0 0-2 1 0 0-3-1 0 1-5-1 0 1-1-1 0 1-1 0-2 0-1-1-5 1 0 0-1 0-2 0-1-1-2 1-2-1-1 0 0 0-1 1-1 0-1 0-1-1-1 1-2 0-4-1-1 0-1 0-1 1-1-1 0 1-4 0-4 0-1-1 0 1-3 0-2 0-1 0-6 0-2-1 0 0-1 0 0 1-1-1-1 0 0 0-9 1-4 0-2 0-1-1 0 1-1-1-2 0-1 0 0 0-1 1-1-1 0 0-3 1-2-1-2 0-2 0-3 1-4-1 0 0-1 0-2 1-1-1-18 0-1 1 0 0-9 0-7-1 0 0 0 0-1 0-1 1-1-1 0 0 0 1-1-1 0 0-1 1 0 0-1-1 0 0 0 1 0 0-1-1 0 1 0 0-1-1 0 0-1 1-2-1 0 0 0 1-1-1-1 0-1 0 0 1 0 0-2-1-2 0 0 1 0 0-1 0-1 0 0 0-1-1 0 0 0 1-1-1 0 1 0 0-2 0 0 0-4-1-2 1-3-1 0 1-1-1-3 0 0 1-28 0-4 0-2 0-6-1-4 1 0-1-5 0-1 1-1 0-4-1-2 1-6-1-5 0-5 3 4-1 4 1 1-1 0 0 3 0 7 1 22 0 2 0 8-1 12 1 18 0 2 0 0 0 1-1 2 0 0 0 1 1 1-1 0 0 0 1 0 0 1-1 0 0 0 1 2 0 1 0 1-1 0 1 2-1 0 1 1-1 0 0 0 0 0 1 0 0 1 0 1-1 1 1 1-1 1 0 0 0 0 1 0 0 2-1 0 0 0 1 1-1 0 0 1 0 1 0 0 0 1 0 1 1 1 0 1 0 2-1 0 0 2 1 8 0 1-1 3 0 1 1 13 0 1 0 1-1 3 1 0-1 2 0 2 1 1 0 0 0 2-1 1 0 2 0 0 1 2-1 0 0 0 1 0 0 2-1 1 0 2 1 1-1 0 1 2 0 1 0 1-1 1 0 0 1 3 0 1-1 0 0 2 0 1 0 2 1 4 0 2-1 2 0 0 0 3 0 0 1 2-1 0 0 4 0 1 1 1 0 5-1 0 1 2 0 8 0 3 0 0 0 1-1 1 0 4 1 1-1 0 1 2 0 0 0 1 0 2 0 1-1 1 0 1 0 1 0 0 1 4-1 0 1 1 0 2 0 3-1 3 1 4-1 4 0 4 1 1 0 2 0 1-1 5 1 1-1 1 1 4-1 1 0 0 1 5-1 1 0 3 1 1 0 1 0 0 0 0 0 1 0 4 0 1-1 0 1 5-1 1 1 1 0 1-1 8 0 2 1 1 0 1 0 2-1 1 0 1 0 1 0 0 0 0 1 2 0 1 0 1 0 1-1 2 1 1-1 0 1 1 0 0 0 0 0 0 0 1-1 1 0 0 0 0 1 0 0 1 0 1-1 0 1 1-1 0 0 0 0 1 1 1 0 0-1 0 0 0 0 1 1 0 0 3-1 1 0 0 1 1-1 0 0 2 0 0 0 1 1 1-1 0 1 1 0 1 0 3 0 1-1 5 0 3 0 1 1 2-1 1 0 5 0 2 0 5 0 2 1 2-1 0 0 1 0 0 1 2-1 2 1 1 0 0 0 1-1 0 1 2-1 1 1 0 0 3-1 1 0 1 1 1-1 2 0 7 1 2-1 2 0 0 0 0 1 1-1 5 0 1 0 2 0 2 0 3 0 2 1 0 0 1-1 4 0 0 1 1 0 1-1 0 1 1-1 2 0 1 1 0-1 1 0 1 0 2 1 1 0 1 0 2 0 1-1 0 0 0 0 0 0 0 1 0 0 1 0 1-1 0 0 0 1 0 0 0 0 1-1 0 1 1-1 1 0 0 0 3 1 0-1 2 0 1 0 1 0 0 0 2 0 1 0 0 0 0 1 1-1 0 1 1 0 1 0 1-1 0 0 0 0 1 0 0 1 0 0 1 0 0 0 1-1 0 0 0 0 0 1 0 0 2-1 0 0 0 1 0 0 1-1 0 0 0 0 1 1 0 0 0 0 1-1 0 1 1 0 0 0 1-1 0 0 1 1 1-1 0 1 1-1 0 0 2 1 2-1 1 0 0 0 1 1 0 0 1-1 0 0 1 0 0 1 1-1 2 0 0 0 0 1 2 0 3 0 8 0 1-1 0 1 1-1 0 0 1 0 1 0 0 1 1-1 1 0 0 1 1-1 0 1 2 0 1 0 6-1 6 0 3 0 0 1 3-1 0 1 2 1-2 1-1-1-2 1-1 0-1-1-2 0-2 0 0 1-3-1-1 1-1 0-1-1 0 0-1 1-1 0-1-1-2 1-2-1 0 0 0 1-1 0 0 0-1-1 0 0-1 1-1 0-1-1 0 0 0 1-1-1-1 0 0 1-2-1 0 0 0 0-1 0-2 1-1-1 0 0 0 1-1 0-4 0 0 0-1-1 0 1-1-1 0 1-3 0-1 0-1-1 0 0-1 0-1 1 0 0-2-1-1 0-1 0-3 1-1-1-2 1-1 0-1 0-2 0 0 0-2-1 0 1-1-1-1 0 0 0 0 1-1 0-1 0-2-1-1 0-1 1-2-1 0 0-2 1-1 0-1-1 0 1-1 0 0 0-3-1-1 0-1 1-1 0 0 0-1-1-1 0 0 1 0 0-1-1-3 0-1 0-2 0 0 1-1-1 0 1-4 0-1-1-3 1-1-1-2 0-4 1-1 0-1-1 0 0-3 0-3 1 0 0-1-1-2 1-3 0-1-1 0 1-4-1-2 0 0 0-2 1-3-1-2 0-2 0 0 0 0 0-1 0-1 0 0 1 0 0-1-1-1 0 0 1-1-1-1 0 0 1-1 0-1 0-1 0 0 0-6-1 0 1-4 0 0 0-1-1 0 0-1 0-1 0-1 1 0 0-1 0 0 0-3 0-4-1 0 1-1 0-1 0 0 0-1-1 0 1-1-1 0 1-4 0-3 0-2-1 0 0-3 1 0-1 0 1-1 0-1 0-1-1 0 0 0 0 0 0 0 1-1 0 0 0-1 0 0 0 0 0-1 0 0 0-1 0 0-1 0 0-3 0 0 0-1 0 0 1-1-1-1 0 0 1-2-1-1 1-1 0 0 0-1-1 0 1-1 0-1-1 0 0 0 0-13 0 0 1-2 0-3 0-1-1 0 1-1-1-5 0-3 0-1 0-4 1-1-1 0 1-6 0-1-1-1 0 0 0-10 0-4 1-2-1 0 1-4 0-2-1 0 1-2-1-2 0-5 1-2-1 0 1-2-1-2 1-1 0-1 0-1-1 0 1-1-1-1 0-1 1-3-1-4 0-1 1-1 0-6 0 0-1-2 1-2-1-2 1-3-1-2 1-2-1 0 1-1 0-1-1-5 0-1 0-2 0-1 0-3 0 0 1-9-1-1 1-4 0-4-1 0 0 0 1-1-1-1 0-7 0-2 1-2 0-2-1 0 0 0 1 0 0-2-1-1 0-2 1-1-1 0 0-4 1-1-1 0 1-6-1-2 0 0 0-1 1-1-1-1 0-6 1-1-1 0 0-1 0-7 1-4 0-1-1 0 0 0 1-1-1-1 1-3-1-2 0 0 1-1-1 0 1 0 0 0 0-1-1 0 1-2 0-1-1 0 1 0 0-1-1 0 1-2-1-1 0-1 0 0 1 0 0 0 0-1-1 0 1 0 0-1-1 0 1-1-1 0 1 0 0-3-1-1 1 0 0-1 0-1 0-1-1 0 0 0 1-1 0 0 0-3-1-1 0 0 1-31-1-5 1-8-1-5 0-1 1-13 0-2-1 0 1-2 0-1-1-7 1-1-1 1 2 7 1 0 0 1-1 0 0 2 0 0 0 5 1 3 0 4 0 1 0 2-1 9 1 6-1 23 0 17 0 0 1 0 0 2-1 0 1 1 0 0 0 1 0 1 0 1-1 0 1 0 0 1 0 0 0 0 0 0 0 1-1 1 0 0 1 1-1 1 0 0 0 0 1 2-1 0 1 1 0 0 0 1-1 0 1 1-1 0 0 1 1 0 0 1 0 0 0 0 0 2 0 0 0 1-1 0 0 0 0 1 0 1 0 0 0 0 1 1-1 0 0 4 1 0 0 4-1 3 1 6 0 1-1 2 1 1-1 0 0 4 1 8 0 1 0 0 0 1-1 11 1 1-1 2 0 5 1 0 0 3 0 0 0 0 0 7 0 4-1 0 1 5-1 2 0 1 1 1-1 3 0 1 0 1 1 0 0 1-1 1 0 0 1 2-1 2 0 1 1 1 0 1-1 0 1 1 0 2-1 0 1 1-1 10 0 4 0 0 0 0 1 1 0 4-1 0 1 7-1 2 0 10 0 0 1 1-1 2 1 5 0 1 0 0 0 3-1 0 0 0 0 1 0 2 0 5 1 1-1 5 0 0 1 0 0 1-1 0 0 1 0 1 0 1 0 5 1 3-1 1 0 1 0 0 1 3-1 1 0 0 1 4-1 0 0 0 1 1 0 5-1 1 0 4 0 1 1 2-1 0 1 4-1 0 1 1-1 0 1 1 0 5-1 7 1 0 0 1-1 1 0 1 0 0 1 1-1 0 1 0 0 0 0 1-1 0 0 0 1 1-1 0 0 1 0 0 1 0 0 1 0 0 0 0 0 1-1 0 0 0 1 1-1 0 0 0 0 0 1 2-1 0 1 0 0 2-1 0 1 1 0 1-1 5 1 2 0 1-1 0 1 2-1 0 0 1 1 10 0 0 0 1-1 0 1 1 0 1 0 6 0 1-1 0 1 2 0 6 0 2-1 2 1 1 0 1 0 2 0 6-1 1 0 0 1 5 0 3 0 0 0 3 0 1 0 1-1 0 0 3 1 0 0 0 0 1-1 1 0 3 0 1 0 0 1 1-1 3 0 0 1 1-1 0 1 1 0 1-1 0 1 1-1 3 0 0 1 3 0 0 0 1-1 0 0 3 0 3 0 0 1 1-1 1 1 1-1 0 0 0 1 1-1 1 0 2 0 0 0 1 1 0 0 1 0 1 0 3 0 0-1 0 1 1 0 2 0 2-1 0 0 0 1 2-1 0 0 1 0 0 0 1 0 0 0 0 1 0 0 2-1 0 1 1 0 1-1 1 0 1 0 1 1 1 0 1-1 0 1 1-1 1 0 0 1 0 0 1-1 1 0 0 0 2 0 0 1 0 0 1-1 4 0 0 0 0 0 1 1 2-1 0 0 6 0 1 1 1-1 0 0 3 0 1 1 1 0 2-1 0 0 0 0 0 1 1-1 1 0 0 0 1 1 1-1 0 0 1 0 1 1 1-1 0 1 1-1 0 1 1-1 1 1 3 0 5 0 1-1 2 0 1 0 0 1 3 0 1-1 1 0 2 0 1 0 0 2-1 1-1-1 0 1-2-1 0 1-1 0 0 0-5 0-1 0-4 0 0 0-3 0 0 0 0 0-1 0-3-1 0 1-2 0 0 0-1 0-1 0-1 0-1-1-1 0 0 1-1 0 0 0-7 0-5-1-1 0-1 1-3-1 0 1 0 0 0 0-1 0 0 0-1-1-1 0-2 0 0 0 0 0-1 1-1-1 0 0-1 0 0 1-1 0-1 0 0 0-3-1 0 0-3 0 0 1 0 0-3-1-2 1-2 0-1 0 0 0-1 0 0 0-2 0-1-1 0 1-1-1 0 0 0 0-3 0-1 1 0 0-4 0-1-1-1 1 0 0-1 0 0 0-1-1 0 1 0 0-1-1 0 1-1-1-4 1-1 0-2-1-1 1 0 0-2-1-1 0-1 1-3 0-1 0-2-1-1 0-1 1 0 0-1 0-2-1 0 1 0 0-8 0-1-1-2 1 0 0-5-1-1 0 0 1-1 0-5-1 0 1-4 0-1-1-3 0-4 0-3 0-2 1-4 0-3 0-1 0-1 0-1-1-5 1 0 0-5 0-1-1 0 1 0 0-2-1-1 0-1 0 0 0 0 1-3 0-1 0 0 0-1 0-1-1 0 1-2-1-2 0-2 0 0 1-1-1 0 1-1-1 0 1 0 0-1 0-1 0 0 0 0 0-1-1 0 0 0 0-1 1-2-1 0 1-1 0 0 0-1-1 0 1-1-1 0 1-7 0-1 0-4 0-1 0-1 0-1-1 0 0-2 1-1 0 0 0-1-1 0 1 0 0-2 0-4-1 0 0-1 1-1 0-1 0-2 0-3 0-1 0-1-1-2 0-3 1-1-1 0 0-3 0-1 0 0 1 0 0-1 0-4-1 0 0 0 0 0 1-1 0-1 0-3-1-2 0-2 1-1-1-1 1-1 0-7 0-2-1-6 0 0 1 0 0-1 0 0-1-1 0-2 0-8 1-1-1-2 1 0 0-2-1-12 0 0 1-1-1 0 1-4-1-6 1-2 0-1 0-3 0-1-1-2 1-4 0-2-1-2 0 0 1-1-1-1 0-1 1 0 0-1 0-1-1 0 1-1-1 0 0 0 1-2-1-3 0-4 0 0 0 0 1-9 0 0 0-1-1-9 0 0 0 0 1-1 0-1-1-9 0 0 1-3-1 0 0 0 1-2 0-1 0-2 0-3 0-6 0-3 0-7 0-4-1-1 1-1-1 0 0-2 1-1-1 0 1-1-1-3 0-1 0 0 0-2 0 0 0 0 1-1-1 0 0 0 1-1-1 0 0-1 0 0 0 0 0 0 1-1-1 0 1 0 0-1-1-1 1 0-1 0 0-1 0 0 0 0 0 0 0 0 1-1-1 0 0-1 0 0 0 0 1 0 0 0 0 0 0-1-1 0 1 0 0-1 0 0 0 0 0 0 0-1-1 0 1 0 0-1-1 0 1 0 0 0 0-1-1 0 0 0 0 0 0 0 1-3-1-6 1-1-1-1 0-4 0-28 0-1 0-4 1-3 0-1-1-1 1-2 0-2 0-1 0-1 0-1 0 0 0-3-1-1 1-3 0-2-1-2 1-1 0-2 0-9 0-1-1 0 0-3 0-4 1-16 1 31 1 1 0 2-1 1 1 5 0 2 0 1-1 0 0 0 0 1 0 0 1 2 0 4-1 17 0 30 0 1 1 1 0 1-1 1 0 1 1 2 0 0 0 1 0 1-1 1 1 0 0 1-1 0 0 1 0 0 0 0 1 1-1 0 0 1 0 0 0 0 1 0 0 2-1 0 0 0 1 0 0 0 0 0 0 0 0 1-1 1 0 0 1 1-1 0 1 0 0 0 0 1-1 0 0 0 1 1-1 0 0 0 1 0 0 1 0 0 0 1 0 0 0 1-1 0 1 2-1 0 0 0 1 0 0 1 0 1 0 1-1 3 0 1 0 0 1 2-1 0 1 2-1 0 1 1 0 0-1 5 0 1 0 1 1 2-1 0 1 1 0 3-1 2 0 3 0 5 0 2 0 1 0 0 1 1 0 2-1 5 0 1 0 3 0 5 0 2 1 3-1 6 0 1 1 1 0 3 0 2 0 2-1 1 0 3 0 1 0 0 0 0 1 2-1 1 1 1-1 0 1 3-1 0 1 1-1 1 0 1 1 3-1 0 0 2 1 1-1 0 0 0 1 1 0 1 0 3-1 0 1 1 0 0 0 3-1 1 1 2 0 1 0 1-1 1 1 5-1 0 1 1 0 4-1 0 1 1-1 3 1 3-1 4 0 2 0 0 1 1-1 0 0 1 1 2 0 1-1 3 0 1 1 4-1 1 1 6-1 0 1 1 0 2-1 0 1 1-1 0 1 3-1 1 1 2-1 3 1 0 0 2-1 0 1 1-1 0 1 1-1 2 0 1 0 0 0 6 1 2 0 1-1 0 1 2-1 0 0 2 0 0 1 1 0 1 0 0 0 3-1 1 1 1 0 2 0 1 0 2 0 1-1 0 1 1-1 1 1 2-1 2 1 1-1 0 0 1 0 0 0 1 0 0 1 2-1 0 1 1-1 2 0 2 1 0-1 2 1 1-1 0 1 1 0 2-1 0 1 0 0 0 0 1-1 0 0 0 1 1-1 1 1 1-1 0 0 0 0 1 0 1 0 0 1 2-1 0 1 2-1 0 1 1-1 1 1 2 0 1-1 0 1 1 0 1 0 1-1 0 1 1-1 0 1 1-1 0 1 2 0 1 0 1 0 2 0 1 0 2-1 0 1 0 0 1-1 0 1 1 0 0 0 2 0 5 0 8-1 0 0 4 1 2-1 5 0 0 1 1-1 5 1 1-1 0 1 1-1 0 0 3 0 2 0 0 0 0 0 0 0 0 1 1-1 1 1 3-1 1 1 1 0 3-1 0 1 4 0 3-1 1 0 1 0 1 0 0 1 2-1 0 1 1 0 0 0 1 0 1 0 2 0 0-1 1 0 1 1 2-1 0 1 1-1 1 0 0 1 2 0 0 0 1-1 1 1 1-1 0 1 1 0 1-1 0 1 1-1 0 1 1-1 0 1 0 0 1 0 1-1 1 0 0 0 0 0 1 0 0 0 1 0 0 0 0 1 0 0 1 0 0 0 1 0 1-1 0 0 0 0 0 1 0 0 1-1 0 0 1 0 0 0 4 1 1-1 3 0 1 0 0 1 2-1 0 1 2-1 0 0 1 1 1-1 1 0 0 1 2 0 0 0 1-1 0 0 0 0 1 1 0 0 1-1 1 0 1 0 0 1 0 0 1-1 2 1 3-1 0 1 1 0 1 0 0 0 0 0 1 0 1-1 0 1 0 0 0 0 0 0 1-1 0 1 3-1 2 1 5-1 1 0 0 0 1 0 1 0 0 1 2-1 0 1 1 0 1-1 1 0 1 1 0-1 0 1 2-1 1 0 0 1 2-1 0 1 1 0 0 0 1 0 3 0 3 0 1 0 1 0 0 0 3-1 1 0 2 1 1-1 0 1 1-1 0 0 0 1 0 0 1-1-5 2 0 1-1-1-2 0 0 0-2 1 0 0-1-1-1 0 0 1-1-1 0 1-5-1-2 0-3 1-3-1-1 1-1-1 0 1-1-1-2 1-2-1-1 0 0 1-1 0 0-1 0 1-1 0 0 0 0 0-2 0-2 0-1 0 0 0-2 0-2 0-2 0-1-1 0 1-1 0 0 0-2-1-2 0 0 1-2-1 0 1-1-1 0 1 0 0-1 0-1 0-2 0-1-1 0 1-1 0-1-1 0 0 0 1 0 0-1-1 0 1-6 0-1-1-3 1 0 0 0 0-1-1 0 0 0 0-1 1 0 0 0 0-1 0-1-1-1 0-1 0 0 0-1 0 0 1 0 0-1-1 0 1-1-1 0 1-1-1 0 1 0 0-1 0-1-1 0 1-1 0-1-1 0 1-1 0-1 0 0 0-2 0-4-1 0 1 0 0 0 0-1 0-2-1-1 0 0 1 0 0 0 0-1-1 0 0-1 0 0 1-1-1 0 1-1-1 0 1-6-1 0 1-1-1 0 1-6-1-1 0 0 0-3 0 0 1-1-1 0 0-8 0 0 1-8 0-1 0-2 0-1-1-1 1-2 0-1-1-3 0 0 1-4-1-3 0-1 1-4 0-2 0-5-1-1 0 0 0-1 1-1 0 0 0-1 0-2-1-1 0 0 1 0 0-2 0-2-1-1 0 0 0 0 1 0 0-1 0-1-1-2 1 0-1 0 1-1-1 0 0-1 1-1 0 0 0-1 0-1-1-1 0-1 0 0 0 0 1-2-1 0 0 0 1 0 0-1-1-1 0 0 0 0 1 0 0-1-1-1 0 0 1-1 0-1 0-1 0 0 0-1-1-1 1 0-1-1 1-1-1-2 0-2 1-1 0-1-1 0 1 0 0-1 0-1-1 0 1-3-1 0 1-2 0-1-1-2 0 0 0 0 1-3-1 0 0-1 1 0 0 0 0-1 0-2-1-1 0-4 1-1-1-1 0 0 1-1 0-2 0-3 0-2-1-2 1 0-1 0 0-2 0 0 0-2 1 0 0-1 0 0-1 0 1 0 0-3 0 0 0-1 0 0 0 0 0-1 0 0 0-1 0-2 0-3-1-1 1-3 0-1 0-1 0-4 0-4 0 0 0-3-1 0 0 0 1-1-1-4 0-2 1-1-1 0 1-2-1-1 1-2 0-1-1-2 0-1 1 0 0-1-1-1 1-2-1-1 1-1 0-15 0-4 0 0 0-7 0-2 0-3 0-1-1-1 0 0 1-1-1 0 0-2 0-5 0 0 0-1 1-1 0-5-1-9 0 0 0-4 1-1-1-2 1-1 0-1-1 0 0 0 0-1 0-1 0 0 1 0 0-2-1 0 1-3-1-1 0-4 0-8 1-2-1 0 1-13 0-3 0-8-1 0 0 0 0 0 1-1-1-1 0 0 0 0 1-3 0-2 0 0-1 0 1-1-1 0 1-1 0-2-1 0 1 0 0 0 0-1 0 0 0 0 0-1 0 0 0-1-1 0 1-1-1 0 0 0 1 0 0 0 0-1-1 0 1-1-1 0 0 0 0-1 0 0 0-1 1 0-1-1 1-1-1 0 0 0 1-1-1 0 1-1-1 0 1-1-1 0 1-1-1-1 0 0 0 0 0-1 1 0 0-1-1 0 1 0 0-1 0-1-1 0 1-1-1-4 1-10 0-25 0-1-1-1 0-1 0-4 1-3-1-5 1-1-1-3 1-1 0-3-1-3 1-16-1-5 3 9-1 13 0 1 0 1 0 3 1 2-1 2 0 0 0 0 1 1 0 0 0 1-1 0 1 3 0 4-1 3 0 20 1 21 0 1 0 2 0 1-1 0 0 1 0 0 0 0 1 1 0 1 0 0 0 0 0 1-1 0 0 1 0 0 0 0 0 0 0 0 1 1-1 0 0 0 1 1-1 0 1 2-1 0 0 0 0 0 1 1-1 0 1 1 0 0 0 0 0 1-1 0 0 0 0 0 1 0 0 0 0 1-1 0 0 0 1 0 0 1-1 0 0 0 1 0 0 1-1 0 0 1 1 1 0 1 0 0 0 1 0 0 0 0 0 0 0 1 0 1 0 0 0 0 0 1-1 0 0 0 1 0 0 0 0 0 0 1-1 0 0 1 0 1 1 2-1 1 0 5 0 6 0 3 0 2 0 1 0 2 1 11 0 1 0 1-1 3 1 1 0 3-1 2 1 2 0 1 0 1 0 3-1 0 1 1-1 3 0 7 0 1 0 1 1 1 0 1-1 2 0 1 1 2-1 4 1 3 0 3 0 1-1 3 1 1 0 1-1 1 1 2-1 4 0 7 0 1 0 0 1 0 0 2-1 0 1 1-1 0 1 7 0 5-1 0 0 1 0 1 1 0 0 1-1 1 1 2-1 5 1 3 0 1 0 2 0 2-1 5 1 1 0 1-1 3 0 1 0 0 1 3-1 0 1 5 0 5-1 1 0 0 0 3 0 0 1 1-1 0 0 1 1 0 0 1-1 1 0 1 1 2-1 0 1 0-1 3 0 1 1 0 0 1-1 4 0 2 0 4 0 5 1 1 0 1-1 1 1 0 0 3-1 0 0 4 0 0 1 1 0 1 0 3-1 0 1 1-1 0 1 0 0 1-1 0 1 2-1 1 0 0 1 0 0 1-1 1 0 0 1 0 0 3-1 0 1 1 0 0-1 0 1 2-1 0 0 1 0 1 0 0 0 0 1 1-1 0 0 0 1 2 0 0 0 1-1 0 1 0 0 1-1 0 1 0 0 0 0 1-1 1 1 1-1 0 0 1 1 3-1 1 0 3 1 2 0 0 0 0 0 3 0 3 0 2-1 0 0 2 1 1-1 0 1 1 0 0 0 1-1 1 0 0 1 3-1 0 1 4 0 5-1 2 1 1-1 5 1 3 0 1 0 1-1 2 0 1 0 2 0 3 0 0 1 1-1 0 0 2 0 0 1 2-1 0 0 1 0 5 0 0 1 3 0 2-1 3 0 0 1 2-1 0 1 1-1 2 1 1-1 0 0 0 0 1 1 1 0 1 0 0 0 1-1 1 1 0 0 3-1 0 0 1 0 4 1 0 0 0 0 1 0 0 0 2-1 1 1 3-1 0 1 1-1 1 0 1 0 0 0 0 0 2 0 0 1 1 0 2-1 1 0 0 1 1-1 0 1 1 0 1 0 0 0 1-1 0 0 1 1 2-1 0 0 1 1 2-1 1 0 0 1 0 0 2-1 1 1 1-1 1 1 1-1 0 0 1 1 3-1 0 1 0 0 1-1 0 1 0 0 2 0 3 0 2 0 2 0 0 0 1 0 1-1 3 0 0 0 4 0 1 0 0 0 1 1 1-1 0 0 0 1 1-1 0 0 3 0 5 0 7 1 1-1 2 1 0 0 2 0 0 0 2-1 0 0 1 1 4 0 2-1 2 0 0 1 1-1 0 1 0 0-1 2-2-1-4 0 0 1-1-1-2 1-2-1-1 1-2 0-1-1-5 0-5 1-5 0-5 0-2-1 0 0-2 0 0 1-1-1-2 0 0 0-1 0-1 0-2 1-2-1-2 1 0-1 0 1-3 0-1 0-2-1-1 1-1-1-3 0 0 1-1-1-1 1-3 0-1-1-1 1 0 0-1 0 0 0-1-1-1 0-1 0-1 1-1-1-1 1-2-1-1 0-1 1-1-1 0 1-2 0-1-1 0 0-2 0-1 1-1 0-1 0-2 0-1 0-1-1 0 1-1-1-2 0-1 0-1 0 0 1-2-1-1 1 0 0 0 0-1 0-1 0-1-1-1 1 0 0-1 0-1 0-1-1-1 1-4-1-1 0 0 0 0 0-1 1-2 0-1-1-1 0-1 0 0 1-3 0-1 0-2-1 0 1-1-1 0 0 0 1-4 0-3-1 0 1 0 0-1-1-2 0 0 1-1 0-1 0-1-1-1 0 0 1-2-1 0 0-1 1-1-1-2 1-1-1 0 1-10-1-3 0 0 0-3 1 0 0 0 0-4-1 0 1-1 0-3-1-1 1-2-1 0 1-1-1-2 0 0 0-2 0-2 0 0 1-3 0-1-1 0 0 0 1-1-1-1 0 0 0-1 0 0 0-1 1-2-1 0 1 0 0-1-1 0 1 0 0 0 0-2 0-1 0 0 0-2-1-2 1 0 0 0 0-1-1 0 1-2-1-2 1-2-1 0 1-2-1 0 1-1-1 0 0-1 0-3 0 0 0 0 1-1-1 0 1-1-1 0 0-2 1-2-1-2 1 0 0-1-1-1 1 0 0-2-1-2 0-6 0 0 1-5-1-3 1-2-1 0 1 0 0-1 0-1 0-1 0-3 0 0 0-1-1-1 1 0 0 0 0-1-1 0 1 0-1-1 0-4 0 0 1-1 0 0 0-2-1-1 1-1 0-1-1 0 0 0 1-1-1-1 0-7 0-1 1-1-1 0 1-1-1-1 1 0 0-2 0-1 0-4-1-3 1-1-1-1 0 0 0-7 0-5 1-2-1-5 0-1 0 0 0-2 1 0 0-2-1-3 0-3 0-1 0 0 1-5-1-1 1-3 0-1 0 0 0-1 0-1-1-2 1-4-1-3 0-1 1-1-1-1 1-1-1-4 0-2 0-1 1-2 0-6 0-5 0-1 0-2 0-1-1-5 0-5 1-3-1-3 1-6-1-1 0-7 1-6 0-1 0-9 0 0 0-2-1-1 0-2 0 0 0 0 1-1-1 0 1-2-1 0 1-1-1 0 0 0 1 0 0-1 0-1-1 0 0 0 1 0 0 0 0 0 0-1 0-1 0 0 0-1-1-1 0 0 0-1 1 0 0-1-1-1 0 0 1-2-1 0 0-1 1-1-1-1 1-1 0-2-1-3 1-2 0-2-1-1 0 0 1-8-1 0 1-2-1-7 1-5 0-5 0-2-1-3 1-5-1-2 1 0 0-1 0-3 0-1-1-2 1-2-1 0 0-1 0-5 1-2-1 0 1-3 0-5-1-3 0-2 0-5 0-5 1 2 2 7-1 11 1 2 0 1-1 8 0 0 1 2 0 1 0 1-1 0 0 1 0 1 0 1 0 1 0 1 1 1 0 1 0 5 0 4 0 14-1 2 1 4-1 8 0 0 1 4-1 0 1 2-1 2 1 1 0 4-1 0 1 1-1 0 1 2-1 0 0 1 1 0 0 1-1 1 1 0 0 1-1 1 1 1-1 0 1 0 0 2-1 1 0 0 0 1 0 0 1 1 0 1-1 0 0 0 1 0 0 1-1 0 0 1 0 0 0 0 1 4-1 5 1 0 0 1-1 2 1 1 0 1-1 2 0 1 0 0 1 19 0 1-1 8 0 3 0 0 0 2 0 2 1 2-1 0 0 0 1 1-1 2 0 0 1 1 0 4 0 4 0 1 0 1-1 1 0 3 0 0 1 1-1 1 0 0 1 1-1 0 1 1 0 1-1 0 1 2 0 2-1 0 0 1 0 0 1 2-1 2 1 3 0 0 0 5-1 6 0 3 0 14 1 2 0 3-1 2 1 6-1 2 1 7 0 0 0 2 0 2-1 1 0 0 1 2-1 3 0 1 1 14 0 0 0 2-1 1 1 1-1 0 1 3-1 0 1 1-1 1 0 2 0 1 0 7 0 2 1 1 0 2 0 1-1 0 0 1 1 1 0 1-1 1 0 0 1 1 0 4 0 1-1 8 0 5 0 1 0 0 1 1 0 3 0 1-1 1 0 0 1 1 0 0-1 1 1 0-1 1 1 1 0 1-1 1 0 0 0 0 1 0 0 0 0 1-1 0 1 1-1 0 1 1 0 1-1 1 1 3-1 1 1 2-1 1 0 1 0 0 0 0 1 1-1 1 0 1 0 4 1 1 0 0 0 3-1 1 1 2 0 1-1 2 0 4 0 3 0 3 0 0 1 0 0 4-1 3 0 3 0 9 1 4 0 1 0 2-1 1 0 4 0 3 0 1 1 0 0 3-1 1 0 0 0 3 0 1 1 0 0 0 0 3-1 3 0 1 0 0 0 1 1 0 0 0 0 1-1 0 0 0 1 1 0 0 0 1-1 0 0 0 0 2 1 1-1 0 1 5-1 1 0 1 0 4 0 0 0 1 0 0 1 2 0 1-1 0 0 0 1 1-1 1 0 0 0 2 1 2-1 1 1 1-1 1 1 1-1 0 1 1 0 0 0 0 0 1-1 1 0 0 1 2-1 0 1 3-1 2 1 2-1 2 0 1 1 3-1 5 0 2 1 0 0 1 0 0 0 3-1 1 0 1 1 2 0 8-1 5 0 0 0 1 0 1 1 2-1 0 0 1 0 9 0 2 1 1 0 3-1 0 0 0 1 1-1 1 0 1 1 1 0 1-1 0 1 1-1-2 3-2-1-1 0-5 1-5 0-2 0-2 0-4-1-3 0-3 1-3-1 0 1-2-1-3 1-1-1 0 1-9-1 0 0-1 1-1 0-1-1-2 0 0 1-5-1 0 0-1 0-3 0-1 0-2 1-2 0-1-1-1 0 0 1-1-1 0 0 0 1-1-1-1 0 0 0 0 1-1-1 0 0-1 1-1 0-1-1 0 0-3 1-1 0 0 0-1-1-1 0 0 0-3 1-2 0-3-1 0 0-3 0 0 1-4 0-2 0-1 0 0 0-5-1 0 0-1 0-1 0 0 1-1-1-1 0-2 0 0 0-1 0-1 1-2-1-2 0-2 1-4-1-4 0 0 1-4 0-1-1-2 0-1 0-7 0-1 0-1 0 0 0 0 1-1 0-1-1 0 1-8-1-2 1-2 0-4 0-3-1-1 0 0 1 0 0-1 0-4-1-1 0 0 1-1-1 0 0-1 1-2-1 0 1 0 0 0 0-1-1-1 1-1-1 0 1-1-1-2 1-1-1 0 0-4 1-2 0 0 0-1-1-3 0-1 1-2-1-1 0 0 1 0 0-2-1-1 0 0 1-1 0-1 0-1-1-1 0-2 1-1-1 0 1-2-1-2 1-1-1-2 0-1 0-8 1-3-1-1 1 0 0-1-1 0 1-1 0-2-1 0 1 0 0-8-1-3 0 0 1-3-1-3 1-2 0-4-1-1 0-6 1-1-1-2 1-2 0-2-1-5 0 0 1-1-1-4 0-4 1-2-1-4 0-4 1 0 0-6-1-6 1-1 0 0 0-1 0-6 0-1-1-3 0-6 0-2 0 0 1-1 0 0 0-4 0-5-1-4 0-5 1-1 0-1 0-2-1 0 1-2 0-1-1 0 1-2-1 0 0-2 0-1 0-1 1-1 0-3-1-4 0-7 0-7 1-1-1-4 0 0 0-6 0 0 1-1-1-5 0 0 0-9 1-1 0-1-1 0 0-1 0-2 1-1 0-6-1-2 0 0 1 0 0-2-1 0 0 0 1-2-1 0 0-1 0 0 1-1-1-3 1 0 0-4 0 0 0-2-1 0 0-1 0-1 0-3 1-1-1-3 1 0 0-2-1-5 1-2-1-1 1-27 0-3 0 0 0-6-1-4 1-1-1-1 1 0-1 0 1-1-1-1 0 0 1 0 0-1 0-2 0-10-1 0 0-2 1-1 0 0 0-11 0-7-1 1 2 13 1 3 0 2 0 3 0 1 0 0 0 5-1 1 0 1 1 1 0 1 0 1-1 1 0 0 1 1 0 2-1 1 0 5 1 0 0 3-1 1 0 3 1 11-1 5 0 5 1 12-1 1 0 0 1 3-1 3 0 1 0 1 0 1 0 0 1 1 0 2 0 1-1 1 1 0 0 3-1 2 1 1 0 2-1 3 0 0 0 6 0 14 0 5 0 4 0 0 0 3 1 1-1 2 0 0 1 0 0 1 0 3-1 0 1 0 0 1-1 1 1 1-1 1 1 1 0 1-1 2 1 5-1 2 0 1 0 2 1 1-1 8 1 0 0 5-1 0 0 2 1 0 0 6-1 3 1 2 0 6 0 3-1 3 0 1 0 1 1 1-1 0 1 0 0 1-1 1 1 2-1 0 1 9-1 0 0 2 0 3 0 1 1 1-1 2 0 1 0 1 0 0 0 2 0 2 0 4 1 5-1 4 0 1 1 2-1 0 0 2 1 2 0 2-1 0 0 2 0 6 1 9-1 2 0 1 0 1 1 3 0 3 0 3-1 1 0 5 0 4 1 0-1 1 0 0 1 2-1 1 0 0 0 1 0 1 1 1-1 0 0 0 0 0 1 0 0 2 0 1-1 1 1 1-1 0 1 1-1 3 0 1 1 0 0 2 0 0 0 4-1 1 1 2 0 3-1 0 0 0 1 1 0 0 0 1 0 1 0 3-1 2 0 1 0 0 1 2-1 1 1 1 0 3-1 2 1 0 0 2-1 4 1 2-1 2 1 4 0 1-1 0 1 1 0 6 0 1 0 3 0 1 0 1 0 1 0 4-1 3 0 3 1 0 0 6 0 2-1 2 1 4-1 0 1 1-1 0 1 3-1 0 0 1 0 1 1 2-1 0 1 1-1 0 1 2-1 1 0 2 1 2-1 7 1 1-1 1 0 1 0 1 0 0 0 1 1 2-1 0 1 0 0 2 0 2 0 0 0 1-1 1 1 0 0 4-1 0 1 1 0 3 0 1-1 0 1 0 0 1 0 2-1 2 1 2-1 0 0 1 0 1 0 0 1 1 0 0 0 0-1 0 1 2-1 0 1 0 0 1-1 0 0 1 0 0 0 1 0 0 0 0 0 1 0 1 0 0 0 0 0 0 1 3-1 1 0 0 0 2 0 0 0 1 0 3 1 1-1 1 0 0 0 0 1 0 0 2 0 3-1 2 0 0 1 0 0 1-1 0 1 1-1 1 0 3 1 3 0 9 0 1 0 7-1 0 1 1-1 1 1 11-1 1 0 10 0 0 1-2 1 0 1-13 0-2 0 0 0-1-1-1 1-2-1 0 1-1-1 0 0 0 1-1-1 0 1-2-1-4 1-2 0-2 0-1 0-12-1-1 0-1 0 0 1-3 0-1-1 0 1-1-1-2 0 0 0-1 1 0 0-1-1-3 0 0 0 0 1-3 0-2 0-1 0-1-1-1 0-1 0-1 1-1-1 0 1-2 0-1-1 0 0 0 1-1-1-2 0 0 0 0 1-1 0-2-1-1 1-1 0-1 0 0 0-1-1-1 0 0 1-2 0-1-1 0 1-2 0 0 0-2-1-1 1-1-1-1 1-3 0 0 0-3-1-1 1-1 0-1-1-4 0-1 0 0 1 0 0-1-1-2 0-2 1-1 0-1-1-2 0-4 1-2 0-1-1-1 1-1-1-1 0 0 1-2 0-4-1-3 1-2-1-2 1-3 0-3-1-2 0 0 0-2 1-7-1-1 1-5 0-5-1-1 0-10 1-1 0-1-1-1 0-2 0-4 0-4 0-1 0-7 0 0 0 0 0-4 1 0 0 0 0-2 0 0 0-6-1-1 0-1 1 0 0-2 0-2-1-1 0 0 1-1 0-1 0-1-1-4 0 0 0-2 0 0 1-3 0-3-1-4 1-1-1 0 0-4 0-4 1-1-1-3 1-1 0-1 0-2-1-1 0 0 0-3 1-2 0-1-1-2 0-3 1-1-1 0 1-4-1-12 1-7-1-1 0-2 1-2 0-1 0-1-1-2 1-1-1-8 0 0 1-1 0-1-1-1 1-5-1-3 0-2 1 0-1-5 0-3 0-4 1-5 0-2-1-4 0-1 0-4 0-1 0 0 0 0 1 0 0-1-1-4 1-1-1-6 1 0 0-1-1-4 1 0 0-4-1-3 0 0 1-1-1-1 1-8 0 0 0-3 0-2 0-5-1 0 1-2 0-1 0-7-1-3 1-5-1 0 1-2 0-1-1 0 1 0-1-1 1-3 0 0-1 0 1 0 0 0 0-2 0-3-1 0 0 0 0-2 1 0 0-1 0-3-1-2 0 0 0-2 0-3 1-6 0-32-1-2 1-1-1 0 1-9-1 0 1-2 0-1-1 0 0 0 0-1 1-1-1 0 0-1 1-1 0 0 0 0 0-3 0-4 0 0 0 0 0-3 0-2-1 0 1-6-1-5 0-8 0-4 0-7 1 17 2 7-1 1 0 0 1 9 0 0 0 0 0 2-1 0 0 1 1 2-1 2 0 0 0 0 0 1 0 0 0 2 0 3 1 1 0 0 0 2 0 1-1 0 1 2-1 5 1 7 0 2-1 28 0 1 1 6 0 2 0 1-1 0 1 0 0 0 0 2 0 1-1 3 0 0 1 1-1 0 0 0 0 1 1 0 0 2-1 0 1 1-1 3 1 1-1 0 0 1 0 1 0 1 0 1 1 2-1 5 1 8-1 0 1 3 0 8-1 21 0 4 1 1-1 0 1 7 0 2-1 3 0 2 0 1 0 0 1 5 0 7-1 1 0 9 0 10 0 4 0 1 0 1 1 2-1 1 1 3 0 5 0 6-1 4 1 2-1 4 0 1 1 2-1 1 1 4-1 1 1 0 0 5 0 1-1 1 0 1 1 1-1 0 1 1 0 2-1 2 1 6-1 2 1 2 0 3-1 5 1 2 0 2 0 2-1 3 0 1 0 2 1 2-1 0 0 0 1 0 0 3 0 1-1 1 0 0 0 4 1 1 0 1-1 2 0 3 0 1 0 1 1 1-1 4 0 3 0 1 0 0 1 5-1 1 1 1 0 1-1 1 1 1 0 2-1 1 1 3-1 3 0 0 0 2 0 0 0 9 0 4 1 1 0 0-1 9 1 4-1 3 0 4 1 4-1 0 1 1 0 0 0 2 0 4-1 1 0 0 1 1-1 6 0 0 1 1-1 6 0 4 1 1 0 3-1 1 1 2 0 1-1 0 1 1-1 3 1 1 0 1-1 0 1 1-1 0 1 2-1 0 1 1-1 0 0 0 1 1-1 1 1 1-1 0 0 4 1 0 0 2-1 0 0 4 0 1 0 3 0 3 1 0 0 0 0 1-1 1 0 1 1 0 0 1-1 0 0 2 1 2-1 0 1 2-1 2 1 1-1 0 0 0 1 1 0 2 0 2 0 0 0 1-1 4 0 1 1 1 0 3 0 0 0 1-1 0 1 1-1 3 1 4-1 2 0 0 1 1-1 0 1 6-1 0 0 1 0 1 1 3 0 1 0 4-1 0 0 1 0 2 0 0 0 1 0 1 1 1 0 0 0 1-1 2 0 2 0 6 0 2 0 0 2-4 0-2 1 0-1 0 1-1 0-1-1 0 1 0-1-2 1-4 0-1-1-2 0 0 1-2-1 0 0-1 0-1 0-2 1-3-1-2 0-7 0-1 0-3 1-6-1-5 1 0 0-3-1 0 1-1 0-1-1-1 0-3 0-4 0 0 0 0 1-1-1 0 1-3-1 0 1 0 0-2-1 0 1-4-1-2 0 0 1-1 0-1 0-1 0-7 0-1 0 0 0-5 0-3-1-1 0 0 0-2 1-2-1-1 0-3 0-1 1-8-1-9 0-1 1-1 0 0 0-4 0-10 0-4 0-4-1 0 0-2 1-1 0-5-1-4 0-1 0-2 1-1 0-3-1 0 1-11 0-1 0-2 0-3-1-1 0-1 0-4 1-3-1 0 0 0 1-2 0-1 0-1-1-2 1-2 0-1 0-4 0-6-1-5 1-1-1 0 0-2 0 0 1 0 0-4-1 0 1 0 0-1-1-5 0 0 1-1 0-5-1-1 0-1 0 0 0-1 0 0 0-3 1-2 0-2-1-8 1-1 0-6-1-2 0-1 1-4 0-3 0-6 0-9 0-11-1 0 1-5 0 0 0-4-1-4 1-5-1 0 1-13 0-4-1-3 1-4-1-7 0-2 1-1-1-2 0-1 0-2 1-1-1-2 0 0 1-6 0-5 0-7-1-6 0-19 0 0 1-1 0-14-1-1 0-2 0 0 0-2 0 0 0 0 1-1-1 0 0-1 1-4-1 0 1-2-1-1 1-1 0-2-1 0 1-5-1-1 1-5-1-2 1-8-1-23 0-2 1-1-1-4 0-2 0 0 0-2 0 0 1-5-1 0 0 0 1-1 0-1 0-1-1-1 0 0 0 0 0-1 1-2-1-1 0 0 1 0 0-1 0-1-1-4 1 0 0-1-1-2 1-1 0-1-1-1 1-2-1-6 1-18-1-2 0-1 2 13 0 13 0 2 0 6 1 0 0 1-1 1 1 1 0 4-1 0 0 0 1 0 0 1 0 0 0 1 0 1-1 0 0 0 1 0 0 1-1 0 1 0 0 0 0 1-1 0 1 2 0 1 0 0 0 1 0 0-1 0 1 0 0 2-1 0 0 0 1 0 0 1 0 0 0 1-1 0 0 0 1 1-1 1 0 0 1 1-1 0 1 2-1 3 1 1 0 1 0 21-1 22 1 1-1 0 0 1 1 1 0 5-1 1 0 6 1 9-1 3 0 11 0 1 0 8 0 4 0 0 1 4 0 1 0 8 0 2 0 2-1 0 1 1-1 2 0 1 0 0 1 0 0 0 0 4 0 1 0 1-1 8 0 2 1 5 0 6-1 17 0 2 1 1 0 1-1 1 1 1-1 3 1 2-1 1 1 1 0 3-1 4 0 0 0 1 0 1 1 4-1 1 0 2 0 2 1 1-1 0 1 2 0 0 0 7-1 0 0 2 1 1 0 4-1 2 0 4 0 3 1 0 0 6-1 8 1 8 0 5-1 2 0 0 1 2 0 3 0 2-1 5 1 1-1 0 1 0 0 1 0 1-1 2 1 1-1 2 0 2 1 5 0 0 0 1 0 2-1 4 1 1-1 3 0 1 1 1-1 0 0 1 1 2-1 9 0 1 1 15 0 6-1 2 0 9 1 1-1 3 0 3 1 1 0 0 0 4-1 1 1 5-1 1 1 4 0 1 0 7-1 1 1 5-1 1 0 5 0 0 1 2-1 1 0 1 1 0 0 1-1 1 0 5 0 1 1 2 0 0 0 1-1 0 1 3-1 2 0 0 1 1 0 3-1 0 0 2 1 1-1 0 1 2 0 1 0 1 0 1-1 1 1 1-1 0 0 1 0 1 0 1 0 1 0 0 1 0 0 3 0 1-1 1 0 0 1 1-1 0 0 1 1 1-1 3 0 1 0 1 1 1 0 1-1 0 0 5 0 1 0 5 0 2 1 4 0 7 0 1-1 0 1 3 0 0-1 3 1 1-1 1 0 1 0 1 1 9-1 0 1 1-1 0 1 2 0 0 2-5-1-10 0-3 1-2 0-2-1-1 1-3 0-5-1-5 0 0 1-2 0-1-1-2 0-2 0-1 0-1 1-3 0-1-1-7 0 0 1-2 0-4 0 0 0-1 0-4-1-1 1-2-1 0 1-3-1-1 1-3-1-2 0-1 1-4 0-4 0-1-1 0 0-1 0 0 1 0 0-3 0-1-1-1 0 0 1-1-1 0 1-4 0-13-1-2 0-1 1-2 0-7-1-2 1-4 0-6-1 0 1-22 0-2 0 0 0-6-1-1 1-2 0-3 0-1 0-1-1-1 0-1 0-1 0-1 1-4 0-1-1 0 1 0 0-1-1 0 0-1 0-2 1-2-1-1 1-2 0-1-1-2 1-5-1-7 0-6 0-1 0 0 0-2 0-1 1-8 0-5 0-1 0-7-1 0 1-5-1-4 0 0 1-1-1-1 0-1 0-2 0-5 1-6-1-1 0-1 0-7 1-2-1 0 1-24 0-2-1-4 0-7 1-3-1-3 1-4-1-1 1-3-1-4 1-1 0-1-1-15 0-2 1-1-1-1 0-1 0-2 0-1 0 0 1-2-1-15 0-2 0-2 0-5 0-6 1-5 0-1-1-7 1 0 0-1 0-2-1-3 0-6 0-4 0 0 0 0 0-6 0-5 0-2 0 0 1-1 0-2 0-1-1 0 1-1 0 0 0-3 0-9-1-1 1-25-1-1 1-1 0-1 0-1-1 0 0-1 0-2 0-1 0 0 0 0 1-1-1 0 0-1 0 0 0 0 1-1-1 0 1-1 0-1-1 0 0-1 0 0 0 0 0 0 1-1-1 0 1 0 0 0 0 0 0 0 0-1-1 0 0 0 1 0 0-1-1 0 0 0 1 0 0 0 0 0 0-1-1-1 0 0 1 0-1 0 1-1-1 0 0 0 1-1-1 0 1-1-1-1 1 0 0 0 0-1-1 0 1-2-1-1 0 0 1 0 0-1-1-3 0 0 0-2 0-5 0-5 1-4 0-5 0-6-1-7 3 6-1 2 1 0 0 11-1 1 0 3 1 6-1 1 0 0 1 2-1 1 0 1 0 2 0 0 1 0 0 1-1 1 0 2 0 0 1 1-1 0 1 0 0 1-1 1 1 0 0 0 0 1-1 0 1 0 0 1 0 0-1 0 1 0 0 1-1 0 0 0 0 0 1 0 0 1-1 0 0 0 0 0 1 0 0 0 0 1-1 0 1 0 0 0 0 1-1 0 0 0 0 0 1 0 0 0 0 1 0 0 0 1-1 0 1 1-1 0 1 1-1 0 0 0 1 0 0 0 0 1-1 0 0 0 1 0 0 1 0 0 0 1 0 0-1 0 0 1 0 1 0 2 1 1-1 0 0 0 1 6-1 11 1 1 0 1-1 1 1 1 0 1-1 13 1 3-1 5 0 0 1 4 0 2 0 0 0 1-1 0 1 2-1 1 0 5 1 2-1 0 1 2 0 2 0 11-1 4 0 2 1 4-1 3 0 6 0 4 0 0 1 0 0 3-1 1 1 4 0 11-1 3 0 2 1 9 0 3 0 7 0 2 0 5 0 4-1 13 1 0 0 1 0 3-1 1 1 14 0 18-1 10 1 1-1 1 1 6 0 3-1 5 1 13-1 1 1 0 0 1 0 3-1 2 0 2 1 3 0 4 0 7 0 1-1 1 1 1-1 3 1 2-1 3 0 4 0 3 0 1 0 0 1 2-1 1 0 0 0 3 0 7 1 0 0 5 0 2 0 0 0 1 0 5 0 25-1 4 0 3 1 16 0 1-1 4 0 0 1 8-1 6 0 0 1 5-1 1 1 11 0 5 0 5-1 1 0 1 1 3-1 1 0 1 0 4 0 0 0 0 1 1 0 4 0 7-1 1 1 0 0 1-1 4 0 0 1 5-1 5 1 1-1 2 0 1 0 4 1 5 0 11 0 9 1-15 0-10 1-3-1-3 0-1 0-2 1-3-1-2 0 0 0 0 1-2 0-1 0-2-1-1 0-5 1-10 0 0 0-1 0-1-1-2 1-3-1-1 1-1-1 0 1-1-1 0 0-3 1-1 0-2 0-3 0 0 0-2 0 0 0-4-1-1 1-1-1 0 1-1 0-2 0-3 0-2-1-15 0-11 0-1 0-2 0-1 0-1 1-7-1-1 0 0 0-10 1-17 0-9 0-5 0-1 0-3 0-2-1-1 0 0 0-4 0 0 1-11 0-2 0-3 0-2-1 0 0-1 1-3-1-4 0-3 0-6 0-8 0-7 0-3 0-6 0-18 0 0 1 0 0-4 0-1-1-5 1 0 0-4-1-3 1-3-1-3 1-2 0-2 0-2-1 0 1-11 0-9-1-5 0-1 1-8 0 0 0-6-1-5 1-2-1-5 1-5-1-2 0-4 1-3-1 0 1 0-1-17 1-6 0-11 0-19 0-1 0-1-1-4 1-2-1 0 1-3-1-5 0 0 0-6 1 0 0-3-1-1 0-6 0-15 0-3 1-6 0-6 0-2 0-1-1 0 1-1 0-1-1 0 0-3 0 0 1 0 0-1 0 0 0 0 0-1 0 0-1 0 1 0 0 0 0-1-1 0 0 0 1 0 0 0 0-1-1 0 1 0 0-1-1 0 0 0 1 0 0 0 0-1-1 0 0 0 0 0 0 0 1 0 0 0 0-1-1 0 1 0 0 0 0-1-1 0 0 0 1 0 0 0 0-1-1 0 1 0 0 0 0 0 0-1-1 0 0-1 1 0 0-2-1 0 1-1 0-1-1 0 0-3 1-3 0-2 0-2 0-2 0-20-1-5 2 10 0 3 0 4 1 1-1 5 1 1 0 5 0 7-1 0 0 1 1 2-1 0 1 1 0 0 0 0 0 1-1 0 0 1 1 0 0 2-1 0 0 0 0 0 1 0 0 1-1 0 0 0 0 0 1 1-1 0 0 0 1 0 0 1-1 0 1 0 0 0 0 1-1 0 0 0 0 0 0 0 1 0 0 1-1 0 0 0 0 1 0 0 0 0 0 0 1 0 0 0 0 1-1 0 1 1-1 0 1 0 0 1-1 0 1 2-1 1 0 0 1 1-1 0 1 3-1 11 0 14 0 1 0 5 1 5-1 1 0 2 1 6 0 10 0 15 0 5 0 3-1 0 0 0 1 3 0 5-1 4 0 0 1 6 0 0-1 1 1 1-1 7 1 18-1 2 0 13 0 0 1 3-1 1 1 6 0 13 0 1 0 1 0 4 0 3-1 3 1 7 0 8 0 11-1 0 1 3-1 0 1 15 0 6-1 1 1 4 0 5-1 5 0 9 0 1 0 8 0 7 1 3-1 1 1 4 0 7-1 1 0 3 0 4 0 1 0 9 0 1 0 0 1 12 0 4-1 25 1 1-1 8 0 4 0 4 1 0 0 8-1 2 0 1 1 8-1 2 0 0 1 2 0 2-1 0 0 0 0 0 1 0 0 1 0 3 0 1 0 2 0 1 0 3-1 1 0 2 0 2 0 2 0 4 0 0 0 0 1 2 0 1-1 2 0 0 1 1-1 2 0 3 0 5 0 0 0 2 0 1 1 2 0 1-1 2 0 1 1 1-1 1 0 3 1 1-1 5 1 37-1 2 3-1 0-9-1-8 0-5 0-4 1-1 0-3 0-6 0-1-1-2 0-1 1-6 0-4 0-1-1-1 0-1 0-2 1-3 0-1-1 0 1 0 0-1-1-3 1 0 0-1-1-6 0-3 1-2-1-1 0-9 0-4 1-3 0-1-1 0 1-8 0-8-1-5 1-4-1 0 1 0 0-7-1-4 1-3-1-14 1 0 0-2 0-2-1-15 0-9 0-4 0-4 0 0 0 0 1-3 0-2 0-7 0 0-1-1 0-5 0-1 1-1 0-2 0-5-1-1 0-2 0 0 1-7-1 0 1-2-1-2 1-2-1-3 1-1-1 0 0-3 1-9 0-9 0-2-1 0 0-8 0-3 1-1 0-2 0-6-1-1 0-2 0-1 1-13 0-1 0-16 0-10-1-1 0-10 0-3 1-9-1-3 0-3 0 0 0 0 1-1-1-10 1-2 0-6 0-2-1-16 1-1-1 0 0-1 0-8 0-4 0-2 1-1-1-7 1-26-1-1 0-17 1-20-1-4 1-2-1-3 1-1 0-1-1-1 0-2 0 0 0 0 0-2 0 0 0 0 1 0 0 0 0-1-1 0 0 0 0 0 0 0 0 0 1-1-1 0 0 0 0 0 0 0 1-1-1 0 0 0 1 0 0-1-1 0 0 0 0 0 0 0 1-1-1 0 0 0 0-1 0 0 0 0 0 0 1 0 0-1 0 0 0-1-1 0 0 0 0 0 1-1-1 0 0 0 0-1 0-2 0 0 0 0 1 0 0 0 0-1-1 0 1-1 0-1-1-7 1-1-1-1 0-11 1-13-1-9 2 6 1 6 0 3-1 12 0 2 1 7 0 1-1 0 0 1 1 4-1 0 1 2-1 1 0 1 0 0 0 0 1 1 0 3 0 1-1 0 1 0 0 1-1 0 0 0 0 0 1 0 0 1 0 1-1 0 0 0 1 1-1 0 0 0 0 1 0 0 0 0 0 0 1 0 0 1-1 0 0 1 0 0 0 0 1 1 0 0 0 1-1 2 0 5 0 2 0 5 1 4-1 4 0 14 1 1 0 9-1 0 1 12 0 3 0 1-1 8 0 0 0 2 0 16 0 2 1 3-1 2 0 0 1 1 0 5-1 1 0 7 1 12-1 1 1 4-1 1 0 0 1 1-1 20 1 1 0 17 0 7-1 19 1 7-1 0 1 1 0 6-1 1 0 1 0 11 0 0 1 6-1 15 0 1 1 11 0 1 0 6 0 5 0 7-1 1 0 1 1 2-1 4 0 3 1 4 0 2-1 0 0 8 0 4 1 1-1 4 0 0 1 16 0 5 0 11 0 2-1 1 1 2 0 1-1 2 1 2 0 7 0 6 0 4-1 2 0 3 1 3-1 8 0 0 1 2 0 2-1 1 0 1 1 6-1 0 1 3 0 2-1 0 1 0 0 1-1 0 1 5 0 4-1 0 1 10-1 0 0 0 1 3-1 1 1 1-1 3 0 1 1 4-1 1 1 5 0 2-1 0 0 2 1 3 0 1 0 2 0 1-1 0 1 5 0 9 0 6 0 10 2-1 0-7 0-4-1-4 0-1 0-8 1-4 0-9-1 0 0-1 0-5 1-13 0-6-1-2 1-3-1-3 0-10 0-2 1-1-1-2 0-6 1-4 0-3 0-6 0-8 0-3-1-8 1-6 0-13 0-4-1-1 1-1-1 0 0-2 0-4 1-4 0-7-1-1 1-6-1-3 0 0 1-4 0-10-1-2 1-5-1-14 0-2 0-2 0-1 0-1 1-3-1-1 1-2-1 0 1 0 0-1 0 0 0-4-1-2 1-1-1 0 1-5 0-6-1-2 0-3 1-8 0-9-1-5 1-1-1 0 1-2 0-1-1-2 1-7-1-11 0-1 1-7-1-4 1-1-1-2 0-3 1-10-1-4 1-4 0-2 0-1 0-6 0 0 0-5-1-1 1-2 0-3-1-1 1-2 0-1-1 0 1-25 0-3 0-2-1-1 1-4 0-2-1-2 1-1-1-1 0-10 1-3 0-7-1-6 0-20 1-11 0-4-1-1 0-8 0 0 1-1 0-1 0-5 0 0-1-3 0-1 1-1-1 0 0-2 1 0 0-2-1 0 1-1-1 0 0 0 0 0 0-1 0 0 1-1-1 0 0-1 1 0 0 0 0-1 0-1-1-3 1 0 0 0 0-1-1 0 0 0 1-1-1 0 1 0 0 0 0-1-1 0 0-1 1-2-1 0 0-9 0-4 0-1 0-4 1-5-1-12 0-5 2 8 1 19-1 1 0 1 0 6 0 1 0 2 0 3 0 2 0 0 0 0 0 0 1 1-1 0 0 0 1 0 0 0 0 1-1 0 0 0 1 1-1 0 0 0 1 1-1 0 0 0 1 0 0 1-1 0 1 0-1 0 1 0 0 1-1 0 0 0 1 1-1 0 0 0 1 1 0 0 0 0 0 1-1 0 0 0 1 1-1 0 0 0 0 0 1 1-1 0 0 0 1 1-1 0 0 0 1 0 0 0 0 1 0 1-1 0 1 1 0 0 0 1-1 1 0 0 1 4-1 0 0 1 0 0 0 0 1 5 0 5 0 6 0 7 0 3 0 8-1 15 0 16 0 3 0 1 1 8 0 1-1 5 1 4-1 11 1 17 0 0 0 6-1 1 1 9-1 6 1 12 0 9 0 11 0 1 0 5-1 1 0 9 1 2 0 7 0 1 0 2 0 1-1 2 1 2 0 3-1 1 1 1 0 5-1 3 0 0 0 8 1 8 0 3 0 3 0 2 0 4-1 0 1 15 0 5 0 3-1 3 0 1 0 6 1 12 0 2-1 2 0 0 1 8 0 0 0 18-1 1 1 9-1 1 0 2 0 1 0 0 1 6-1 0 0 0 1 1 0 8 0 1-1 4 1 7 0 3-1 4 0 5 0 0 1 0 0 3 0 2-1 0 0 3 0 4 1 8-1 2 0 1 0 3 0 2 0 1 0 0 0 1 1 1-1 1 0 0 0 1 0 6 1 6 0 4 0 1 0 3-1 4 0 3 1 2-1 1 1 5-1 1 1 4 0 14 0 4 0 7 2-13-1-3 0-13 1-3-1-1 0 0 1-1-1-2 1-1 0-3 0-5-1-2 1-7-1 0 1 0 0-4-1-1 0 0 0-6 0 0 0-3 1-12 0-1-1-7 0-1 0-4 1-9-1-3 0 0 1-8 0-1 0 0 0-3-1-2 1 0 0-2-1 0 1-6 0-17 0-4 0-1-1-1 1-1-1-2 1-1 0-1 0-11 0-2 0-2-1-1 1-7-1-1 0-3 1 0 0-1-1-7 1-8 0-4-1-4 1-7 0-2 0-1-1-6 0 0 1-1-1-1 0-1 1-2 0-2 0-2 0-1-1-4 1-1 0-1 0-1 0-1-1-1 1-7-1-6 1-6-1-1 0-2 0-6 1-1-1-2 1-2-1-1 0-3 1-2 0-8-1-8 0-3 0-3 1-19-1-3 1-2-1-4 0-2 1-8-1-14 1-6-1-1 0-3 1-3 0-7-1-5 1-5 0-3 0-7-1-5 1-1 0-9-1-4 1-6-1-6 1-6-1-17 1-16-1-1 1-2-1 0 0 0 1-2 0-1-1 0 1 0 0-1 0-1-1 0 1-2-1-1 0-1 0 0 0 0 1-1-1 0 1-1-1-1 0-1 0 0 0 0 0 0 0 0 1-1-1 0 1-1-1 0 0 0 1 0 0 0 0 0 0-1-1 0 1 0 0 0 0-1-1 0 1-1-1 0 0 0 0 0 1-1-1 0 0 0 1 0 0 0 0-3 0-2 0-1 0 0 0-4 0-3 0-1 0-1-1-4 0-9 1-2 0-2-1-6 0-6 0 12 3 4 0 3 0 8 0 4 0 8-1 2 1 1-1 0 1 1-1 0 0 0 1 1-1 0 0 0 0 0 1 0 0 0 0 0 0 1-1 0 1 0 0 1-1 0 1 1-1 0 0 0 1 0 0 0 0 0 0 1-1 0 0 0 0 0 1 0 0 1-1 0 0 0 0 0 0 0 1 0 0 0 0 1-1 0 0 0 0 0 1 2-1 0 0 0 0 0 0 0 0 0 1 0 0 1 0 0 0 0 0 2-1 1 0 1 1 0 0 5-1 1 0 1 1 1-1 1 0 10 1 12 0 21-1 9 1 1 0 3 0 6 0 11 0 3 0 0 0 0 0 4-1 2 0 4 1 11-1 1 1 0 0 2-1 1 1 1-1 11 1 5-1 7 0 6 1 9-1 6 1 4 0 2 0 2-1 1 0 5 1 4-1 3 0 4 1 4-1 8 1 1-1 1 0 2 1 2 0 2 0 2 0 4-1 1 1 3 0 5 0 3 0 2 0 1-1 1 0 5 1 8-1 5 0 0 1 3-1 3 0 2 1 0 0 2-1 6 0 1 0 0 1 3-1 0 1 1-1 6 1 1 0 8 0 1-1 1 0 1 0 0 0 3 0 0 1 4 0 1-1 1 0 4 1 3 0 9-1 6 1 4 0 1-1 0 1 4 0 2 0 9-1 6 1 3 0 7 0 2 0 4 0 1-1 3 0 2 0 0 0 0 1 7-1 2 0 2 1 0 0 1-1 0 1 12 0 4-1 4 1 2-1 2 0 0 1 4 0 2-1 5 0 0 1 1 0 2-1 2 0 0 1 4 0 2-1 1 0 2 1 4-1 3 0 0 1 5 0 1-1 1 0 4 0 5 0 1 1 3-1 1 1 1 0 1 0 2 0 1-1 7 0 1 1 3-1 1 1 7-1 0 0 3 1 2 0 2-1 3 1-1 1-1 0-2 0-4 0-9 0-14 0-2 0-4 0-2 0 0 0 0 0 0 0-2 1-2-1 0 0-1 1-1-1-7 1-5 0-3 0-2-1-7 0-1 0-6 1-1 0-6 0-9 0 0 0-2-1-2 1-1-1-4 1 0 0-2 0-2 0 0 0-2-1-6 1-15 0-1 0 0 0-1-1-1 0-2 0-6 1-8-1-1 1-4 0-3 0-2-1-3 0 0 1-1 0-6 0-4-1-2 0 0 0-2 1-1-1-2 0-3 0-8 0-1 0-9 1-5-1-7 1-8-1-5 0-11 0-2 0-3 0 0 0-3 0-1 1-7-1 0 0-2 0-9 0-6 1-8-1 0 0-1 0 0 0 0 1-4-1 0 0-2 0-1 0-1 1-3 0-1-1-2 0-5 0-12 0-6 1-1 0 0 0-1-1-1 0-6 1-3 0-2-1-2 1-14 0-6-1-2 1-1 0-2 0-12-1-14 0-9 1-4-1 0 1-6-1-1 0 0 0-4 1-3-1-4 0-3 1-10 0-11-1-3 0-11 0-4 1-7-1-6 0-9 0 0 1-1 0-1 0-1 0-1 0 0 0-2 0 0 0-1-1 0 0-1 1 0-1 0 1 0 0-1-1 0 0 0 0 0 1-1-1-1 0 0 0 0 0 0 1 0 0 0 0-1-1 0 0 0 0 0 0 0 0 0 1-1-1 0 0 0 0-1 0 0 0 0 1-1-1-2 1 0 0 0 0 0 0-1 0 0-1 0 1-1 0 0 0-2-1-1 0 0 0 0 1 0 0-2-1-1 0 0 1 0 0 0 0-1-1-2 0 0 1-3-1 0 1 0 0-2 0-2 0-12-1-10 0 21 3 5-1 3 0 2 0 1 1 3 0 2-1 1 0 0 1 1-1 0 0 1 0 0 1 0 0 1-1 0 0 0 1 1-1 0 1 1 0 0 0 0 0 1-1 1 0 0 0 1 1 0 0 1 0 0 0 1-1 0 0 1 1 1-1 1 1 0 0 1-1 0 0 3 0 1 1 3 0 1 0 1-1 1 1 12-1 3 1 28-1 7 1 4 0 9-1 5 0 3 0 5 0 2 1 2 0 5-1 1 0 0 1 2 0 3-1 2 0 1 1 3 0 6-1 4 1 5 0 7 0 0 0 5 0 2-1 4 0 24 0 0 1 3-1 6 1 5-1 11 0 4 0 3 0 1 0 2 0 3 1 1 0 2-1 4 0 2 0 0 1 1 0 5 0 1-1 2 0 18 0 0 1 1 0 3 0 4-1 3 1 0 0 3-1 6 1 6 0 7-1 13 1 19 0 14 0 12 0 2 0 2-1 4 1 3-1 9 0 1 0 10 1 4-1 4 0 6 0 10 0 5 1 10-1 1 1 5-1 7 1 12 0 5-1 2 1 1 0 0 0 2-1 1 0 0 1 1-1 4 1 2-1 0 1 4-1 4 0 8 0 14 1 5 1-10 1-8-1-1 1-4 0-9 0-3-1-6 0 0 1-8 0-17-1-20 1-8 0-6-1-2 1-12-1-1 1-2 0-2 0-12-1 0 1-3-1-6 0-2 1-8-1-1 1-2-1-4 0 0 1-6 0-3-1-4 0-5 0-2 1-2-1 0 1-4-1-6 1-3-1-3 1-3-1-7 0-2 1-5 0-2-1-4 0-7 1-22 0-4 0 0 0-7 0-1 0-3-1-2 0 0 1-1 0-8-1-3 1-1-1-2 0-2 1 0 0-17 0-5 0-3 0-5-1-2 1 0 0-1-1-3 1-5 0-2 0 0 0-5-1-7 1-2 0-2 0-1 0-1-1-1 0-9 1-9 0-2-1-1 1-16 0-7-1 0 0-6 1-3-1-6 0-6 0-4 0-1 0-2 1-7-1-3 1-17 0 0 0-12 0-5 0-14-1-3 1 0 0 0 0-1-1 0 1-1-1-1 1-1 0-1 0-3-1-1 0 0 0 0 1 0 0-1-1 0 1-1-1-1 0 0 0 0 1-2-1 0 1-1-1 0 1-1-1 0 1 0 0-2-1 0 0-2 0 0 0-5 0 0 1 0 0-2-1-1 0 0 1-2-1-6 1-1 0-3-1-5 1-5 0 6 1 4 0 4 1 11-1 3 1 2 0 0 0 2-1 0 1 1-1 0 1 1 0 0 0 1-1 1 1 0 0 2-1 0 1 1 0 2-1 0 0 0 1 1 0 1-1 1 1 0 0 0 0 1 0 0 0 2-1 2 0 1 0 0 1 1-1 0 0 0 0 0 0 1 1 2-1 6 0 6 0 10 0 0 1 34-1 6 1 4-1 3 1 6 0 4-1 12 1 13-1 0 1 4-1 3 0 1 0 9 0 1 1 2 0 2-1 12 0 5 1 2-1 7 1 2 0 2-1 0 1 3 0 5 0 1 0 5-1 14 1 5 0 2 0 2-1 0 1 2-1 1 1 1-1 3 0 0 1 0-1 3 0 6 0 1 0 5 1 2-1 4 1 3-1 12 1 4-1 3 0 4 0 2 0 0 1 6-1 10 1 4 0 0 0 2 0 9-1 2 0 3 0 1 0 0 1 2 0 1-1 1 1 4 0 1 0 3-1 0 0 4 0 17 0 0 1 1-1 2 0 3 0 3 0 1 0 4 0 3 1 19-1 1 0 0 0 8 0 5 1 10 0 5-1 1 1 3-1 7 0 15 1 4-1 2 0 1 0 5 1 1-1 1 0 0 1 2-1 0 1 3-1 4 1 2-1 1 1 6 0 6-1 3 1 2-1 5 1 3 0 2-1 6 1 1 1-2 0-1 0-4 1-16-1-5 0-4 0-4 0-8 0-4 0-28 1-5 0-1-1-10 1-11 0-3-1-9 1-3 0-9 0-6 0-2-1-2 1-9 0-2-1-2 0-7 1-1-1-3 0-2 1-2 0-5-1-1 0-2 1-3-1-8 0-4 0 0 1-3 0-6 0-7-1-10 0-11 1 0 0-10-1-1 1-1-1-17 1-2-1 0 1-1 0-2-1-5 0-1 1-2 0-4-1-1 1-1 0-1-1-2 1-3 0-13 0-8 0 0 0-1 0-1-1 0 1-7-1-3 1-3 0-1-1 0 0-1 1-1 0-7 0-3-1-2 0-1 1-5-1 0 1-13-1-1 1-1 0-3 0-24 0-4-1-3 1-1-1-1 1-3 0-41-1-14 0-29 0-1 1-4-1 0 1 0-1 0 1-1-1-1 0-1 0 0 0 0 1-3-1-4 0-1 0 0 1-2-1 0 0-1 0 0 1-2 0-3-1-1 1-5 0-3-1-21 1-3 0 15 1 7 0 5 0 4 1 2-1 2 0 1 0 0 0 2 1 1 0 1-1 1 0 0 1 1-1 0 0 0 1 3 0 2 0 1-1 0 0 1 0 0 0 0 0 1 0 0 0 1 1 0 0 0 0 2-1 0 0 1 0 0 0 34 0 6 1 4 0 22 0 7 0 16-1 0 0 2 0 1 0 6 0 0 0 1 1 11-1 1 0 5 0 7 0 1 1 1-1 2 0 4 1 1-1 4 0 3 1 5 0 1 0 1-1 4 0 7 0 5 0 2 0 3 0 1 1 4 0 11 0 6-1 14 1 12-1 0 1 1-1 1 0 2 0 1 0 8 0 0 0 1 0 3 1 2-1 10 1 4-1 0 0 1 0 1 1 9-1 1 1 5-1 3 0 1 0 1 0 1 0 9 0 10 0 4 0 1 0 4 0 1 0 1 0 15 0 0 1 4 0 4 0 8 0 13-1 2 0 2 0 0 0 3 1 14-1 0 1 15-1 3 0 5 0 6 1 6-1 10 1 2 0 2-1 3 0 0 1 3-1 9 1 1-1 1 1 4-1 20 1 1 0 5 0 8-1 3 1 4-1 0 1 0 0 4 0 1-1 1 1 0 2-10 0-2 0-3 0-1 0-5 0-4-1-12 1-20-1-2 1-7 0-1-1-15 1-1 0-3 0-6-1-3 1-3-1-2 1-7 0-4 0-4 0-1 0-2 0-5 0-1-1-2 1-4-1-2 1-1 0-10 0-3 0-12-1-1 1-4-1-8 0-5 0-2 0-9 0-1 1 0 0-1 0-3 0-1 0-4-1-10 0-7 0-1 1-4-1-5 1 0 0-3-1-2 0-4 1-2-1-1 1-3 0-3-1-8 1-5-1-3 0-3 1-1-1-2 1-2 0-1-1 0 0-2 1-3 0-2 0-2 0-3 0-1-1-2 0-1 0-4 1 0 0 0 0-13 0-2 0-9 0-17 0-10-1-1 0-8 1-4-1 0 0-2 0-13 1-4 0-3 0-2 0-1 0-3-1-7 0-1 0-3 0-5 1-11 0-3-1-3 1-10 0-17-1-23 1-2 0-2 0-16-1-1 0 0 0-2 0 0 1-2 0-1-1 0 1-5 0-1-1-1 1-7 0-31-1-12 2 0 1 6 0 20-1 1 1 14 0 1 0 2-1 4 1 3-1 0 0 1 0 0 0 0 0 0 1 1-1 1 0 3 1 0 0 0 0 3-1 0 1 4-1 3 1 5-1 0 0 2 1 8-1 0 0 21 0 5 1 4 0 2-1 19 0 4 0 7 0 1 0 2 0 16 0 19 0 5 0 1 1 9-1 5 1 4 0 5 0 4-1 2 1 1 0 8-1 0 0 4 1 1 0 1 0 4-1 4 1 0 0 9-1 7 0 6 0 4 1 2 0 9-1 1 0 2 1 10-1 0 1 1 0 4 0 5 0 2-1 1 0 0 0 11 0 2 0 13 1 3-1 0 1 4 0 2 0 6-1 10 1 0 0 1 0 9-1 9 0 5 1 4-1 2 1 2-1 4 0 4 1 10 0 13-1 1 0 2 1 9-1 28 1 15-1 8 0 5 1 2 0 8-1 1 0 3 1 9-1 1 0 14 0 1 0 15 1 1-1 1 3-1 0-6 0-6-1-22 0-12 0-2 1-12-1-9 1 0 0 0 0-4 0-2 0 0 0-1-1-1 0-4 0-4 0-15 0-3 0-4 0-1 1-1-1-11 0-4 1-3 0-3-1-3 0 0 1-1-1-1 0-2 1-6 0-7-1-2 0-1 0-2 0-3 0-13 1-1 0-4 0-8 0-3-1-3 0 0 0-6 0 0 1-7 0-2-1-2 1-5-1-5 1-14 0-10 0-3-1 0 0-1 1-2-1 0 0-10 0-1 1-1-1-7 1-1 0-9 0-1 0-5 0-1 0-1-1-3 0-2 0-3 1-1-1-11 1-6-1 0 1-4-1-3 1 0 0-2 0-4 0-5-1-8 1-2-1-6 0-6 0 0 1-1-1-11 1-2 0-3 0-8 0-17-1-3 1-9 0-5-1-4 1-1-1-2 1-8-1-30 1-1 0-23-1-4 0-1 0 0 0-6 1-3 0 0 0-6-1-10 1 0 0-6 0-18-1 10 2 21 1 1-1 4 1 3-1 1 0 2 0 1 0 1 0 0 1 1 0 1 0 3-1 0 0 2 0 2 1 1-1 1 0 2 0 2 1 3-1 33 0 8 1 5-1 9 0 1 1 21 0 7-1 10 1 7-1 10 0 9 0 0 1 4-1 6 0 4 0 22 1 3 0 6-1 2 0 12 1 1 0 6-1 3 0 11 0 5 0 2 0 0 1 4 0 0 0 10-1 2 1 1-1 0 1 6 0 2-1 1 1 6-1 1 0 1 0 5 1 1 0 2 0 2 0 1 0 6 0 1-1 7 0 4 1 2 0 17 0 1-1 9 0 7 0 2 0 7 1 3-1 0 1 5 0 3-1 10 0 1 1 3 0 16-1 0 1 1-1 1 0 20 1 1-1 6 0 4 1 9-1 2 1 3 0 3-1 0 0 0 1 6-1 9 1 4-1 4 0 0 1 3-1 17 1 10-1 3 1 1-1 1 1 10-1-1 2-2 1-5 0-2-1-6 0-6 0-13 1-2-1-1 0-1 0-3 0-2 1-1-1-3 1-5 0-11-1-1 0-2 1-6-1-4 1-6-1-4 0-5 1 0 0-4 0-3-1-3 0-13 0-7 0-1 0 0 0-5 0 0 1-2 0 0 0-1 0 0 0-2-1-4 1-2 0-3-1-7 0-6 0-9 1-3 0-1-1-10 0-1 0 0 1-1-1 0 1-1 0-2 0-8 0-8 0-7-1-2 1-4 0-2 0-13-1 0 0-3 0-4 0-1 1-1 0-1-1-5 0-3 1-5 0-4-1-1 1-2 0-1 0-2 0-2 0-18 0-5-1-5 0-3 1-7 0-2 0-4 0-1 0-7 0-11-1-4 1-2-1-1 1-3-1-2 0-1 0-1 0 0 1 0 0-5-1-24 0-4 0-2 1-9-1-3 0-3 0-14 0-7 0-11 0-1 1-9-1-14 0 0 0-2 1-9 0-38 0-3 0-1-1-11 0-17 0-18 0 8 2 26 1 9-1 14 0 3 1 1 0 3 0 28 0 12 0 4 0 32 0 4 0 4 0 4-1 6 0 0 0 1 1 17 0 7 0 7 0 1-1 1 1 25 0 4 0 2 0 1 0 3 0 6-1 2 0 7 1 3 0 7-1 0 1 2-1 2 1 7-1 3 0 18 1 2 0 14 0 11 0 1-1 10 0 4 1 1-1 3 0 1 0 0 0 3 0 3 1 26-1 1 0 4 0 3 0 2 0 1 1 1-1 1 1 2-1 4 1 2-1 2 1 2-1 1 0 2 1 2 0 0 0 4 0 9 0 1-1 2 0 5 0 5 0 3 1 1-1 2 0 0 1 2-1 1 0 0 1 4-1 3 0 8 1 1-1 4 0 2 0 1 0 11 1 4 0 1-1 0 0 6 0 0 0 6 1 4 0 13-1 0 0 8 1 5-1 6 0 0 1 2-1 1 0 9 0 2 0 1 1 2-1 1 0 0 1 1 0 3 1-9 1-1-1-6 1-8 0-1 0-16-1-2 0-8 1-5-1-2 1-6 0-5-1-4 0-5 0-1 1-7-1-6 0-3 0-3 0-1 0-12 0-1 0-1 0-2 1-5-1-1 1-4 0-14-1-2 1-2 0-8 0-9-1-2 1-10-1 0 0-5 1-11 0-3-1-1 1-9-1-4 0-6 1-7 0-3-1 0 0 0 1-4 0-1-1-2 0-13 0-4 0-2 1-5-1-1 1-4-1-3 0-3 1-1 0-4 0-1 0-10-1 0 0 0 0-4 0-5 1-4 0-3-1 0 1-8 0-2-1-4 0-4 1-1 0-3-1-9 0-5 1-3 0-7-1-1 0-1 1-3-1-7 1-7 0-9-1 0 1-9 0-16-1-12 0-1 1-1-1-3 0-1 1-7-1-7 0-11 1-1 0-43-1-32 1-3-1-20 3 1 0 6 0 13 0 4 0 11 0 9-1 3 0 8 1 1 0 39-1 24 1 2 0 15 0 1 0 2 0 3-1 1 0 0 0 1 1 12 0 0 0 10 0 1-1 7 0 13 1 3 0 1 0 2-1 0 0 0 1 3-1 4 0 0 1 2-1 3 1 3 0 7-1 16 1 3 0 1-1 6 1 5 0 0 0 1 0 2-1 4 1 1-1 2 1 9-1 4 1 13 0 2-1 2 0 0 1 1 0 6 0 3 0 1-1 0 1 15 0 2-1 6 0 7 0 4 0 3 0 1 1 20-1 0 0 3 1 1 0 2-1 3 0 3 1 2-1 0 0 3 1 3 0 7-1 3 1 0 0 2-1 4 1 1-1 1 0 1 1 3 0 7 0 1-1 0 0 4 0 0 1 4-1 6 0 0 1 12 0 4 0 2 0 8 0 2 0 5 0 0 0 8 0 3 0 3 0 7 0 5 0 0 0 1-1 12 1 10 0 5 0 1-1 3 1 5-1 15 0 0 1 2-1 6 1 1 0 3 0-3 2-5 0-3 0-3 0-1-1-4 0-3 1-6 0-8 0-5-1-1 1-11-1-2 1-3-1-8 1-3-1-1 0-1 0-11 1-2 0-3-1-4 1-3 0-1-1 0 1-1-1 0 1-1-1-2 0 0 0 0 1-3-1-5 0 0 1-1 0-1 0-7 0-2-1-9 1-4 0-2-1 0 0-1 0-2 0-2 0-1 1-5-1-4 0-1 1-5-1-1 0-4 1-12 0-3-1 0 1-3 0-4 0-4 0-1-1-2 1-7 0 0 0-5 0-3 0-1 0-5-1-1 1-4 0-1 0-6-1-6 0-1 0-2 1-5-1-11 0-4 1-3 0-3-1-18 1-2 0-1-1 0 1-4-1-15 0-1 1-4 0-14-1-3 0-10 0-15 0-1 0-1 1-1-1 0 0-6 0-1 0-3 0-1 1-1-1-3 1-1-1-16 0 0 0-1 1-6 0-10 0-5 0-6 0-12 0-7 0-4-1-2 0-6 1-39-1 0 0-9 1-22-1-23 3 29 0 9 0 1 0 7 0 7-1 3 1 26-1 23 1 2 0 18-1 1 1 1-1 2 1 3 0 4-1 10 1 3 0 5-1 8 1 7 0 0 0 5 0 2 0 3-1 2 1 2 0 2-1 5 1 4 0 2 0 1-1 3 1 4 0 11-1 2 0 9 0 1 0 15 0 1 0 0 0 5 1 3-1 5 1 1 0 6 0 11-1 0 1 6-1 2 1 2 0 1-1 15 1 3-1 13 0 1 1 13-1 8 0 2 0 0 1 6-1 1 0 3 1 1 0 3-1 3 0 0 1 4-1 1 0 19 0 1 1 2-1 10 1 3-1 4 0 1 0 3 0 7 0 6 1 3 0 1-1 17 1 1-1 2 1 11 0 7 0 5-1 2 0 7 1 6-1 1 1 1 0 0 0 1 0 4-1 12 0 0 1 6-1 4 1 8-1 5 1 2-1 8 1-11 1-6 1 0 0-2-1-4 1 0 0-2 0 0 0-3 0-12 0-2-1-3 1-4-1 0 0-1 1-5-1-7 0-3 0-6 1-1-1-1 0-1 0-2 0-9 1-4 0 0 0-3 0-10 0-11-1-5 0-3 0-17 1-12 0-2 0-4-1-5 0-9 0-2 1-2-1-5 1-2-1-4 1-5-1-7 1-5-1-1 1 0 0-8-1 0 1-2 0-10-1 0 1 0 0-14-1-4 0 0 1-6-1-4 1-1 0-3-1-1 0-3 0-2 1-7-1 0 1-9-1-2 0-4 0-10 0-7 1-7 0-2-1-1 0-3 0-2 1-6 0-2 0-7 0-1-1-9 0-1 1-1 0-2 0-4 0 0 0-2 0 0 0-11-1-1 0-3 1-10-1-4 0-11 1-5-1-7 0-1 1-8 0-4 0-11-1-9 1-80 0-4 0-5 0-3 0-4 0-13 0 29 2 0 0 16 0 6 0 2 0 22 0 11-1 27 0 2 1 14-1 9 0 2 1 4 0 3-1 2 0 4 1 6 0 1 0 7-1 2 0 9 0 1 0 7 0 7 0 9 0 2 0 6 1 1 0 3 0 3-1 0 1 1 0 6-1 2 1 13 0 1-1 7 0 2 0 4 0 7 1 9 0 4 0 1 0 4-1 7 0 3 1 2-1 3 1 7-1 4 1 3-1 10 0 7 0 4 1 5 0 3 0 3 0 2-1 4 0 14 1 1 0 2 0 4 0 0 0 8-1 0 1 0 0 2-1 0 1 3 0 1 0 5 0 1-1 3 0 5 1 4-1 0 0 2 1 5-1 0 1 1-1 2 0 1 1 0-1 4 1 6 0 2-1 1 0 7 1 3-1 7 0 4 0 1 0 0 1 5-1 1 0 0 0 0 1 8-1 0 0 1 0 3 0 0 1 8-1 13 0 9 1 1-1 0 1 1-1 21 1 2 0 1 0 21 0-7 2-3 0-15-1-2 1-29 0-7 0-6 0-2 0-3 0-4 0-5-1-8 0-1 0-1 0-4 1-1-1-2 0-3 1-7-1-5 0-2 0-4 1-1-1 0 0 0 0-2 0-2 0-2 1-4 0-3-1-1 0-8 0-5 0-2 1 0 0-6 0-5-1 0 0-2 1-2 0 0 0-1 0-3-1-4 0-7 0-3 0-1 0-1 1-12 0-4-1-4 0-3 0-3 1-1 0-3 0-5-1-2 0-10 1-9 0-9-1-3 1-2 0-6 0-4 0-1-1 0 0-3 0-1 0-13 0-5 1-2-1-1 0-6 0-1 1-5-1-5 0-3 1-3 0-19-1-4 0-4 0-6 1-1 0-10-1-5 1-17-1-5 1-10-1-4 1-10-1-4 0-6 0-1 1-4-1 0 1-16 0-22 0-2-1-5 0-26 0-8 0-33 1 18 1 2 1 4-1 50 0 17 1 12-1 0 0 16 0 4 1 5-1 3 1 20-1 4 1 2 0 3 0 3 0 4 0 2 0 11-1 16 0 8 0 2 1 9 0 7-1 6 0 0 0 7 0 3 1 1-1 0 1 2-1 0 0 1 1 5-1 0 1 2 0 4-1 3 0 6 0 5 1 9-1 6 0 1 1 1-1 6 0 4 0 6 0 7 1 4 0 4-1 4 0 0 0 3 1 2-1 3 1 2-1 0 0 2 0 1 1 4-1 2 0 4 0 3 1 4-1 1 1 1 0 8-1 1 1 4-1 1 0 0 1 1 0 1-1 2 1 4-1 3 1 2-1 13 0 9 0 0 0 7 1 20-1 8 0 3 0 1 0 2 0 0 0 1 0 3 0 19 0 0 0 6 0 1 0 16 1 14-1 13 0 3 1 11 0 3-1 0 1 4-1 2 1 2-1-15 3 0 0-3-1 0 0-6 0-4 0-5 0-10 0-23 0-8 1-1 0 0 0-7-1-10 1-1 0-2-1-1 0-4 0 0 1-4 0-9-1-3 0-6 0 0 0-1 1 0 0-11 0-1-1-2 0 0 1-11-1 0 1-6 0-3 0-1-1-4 1-5-1-11 1-1 0-2-1-4 0-15 0-1 0-4 0-8 0-1 1 0 0-1-1 0 1-7 0-2-1-5 0-2 1-2 0-2 0-4 0-6-1-3 0-2 0-4 0-6 0-7 0-1 0-2 0-3 0-3 0-3 1-3-1-2 0-1 1-6 0-2 0-4-1-2 0-7 0-2 0-11 1-1-1-6 1-2-1-5 0-2 0-8 0 0 1-9 0-3-1-6 1-10-1-1 1-2 0-9-1-6 0-1 0-4 0 0 1-1-1 0 1-1 0-3-1 0 1-2 0 0 0-14-1-9 1-12 0-10-1-4 1-27-1 0 1-4-1-33 0-13 1 23 1 4 1 4 0 64 0 24-1 10 0 8 1 3-1 5 1 4-1 0 0 0 1 2 0 1 0 1 0 1 0 1-1 0 1 1-1 3 1 1-1 3 0 3 1 3-1 1 0 1 0 5 1 2 0 1-1 7 1 8 0 3 0 0 0 7 0 1 0 1 0 5 0 2 0 7-1 1 0 0 1 1-1 4 1 4-1 14 0 2 0 0 0 4 0 4 0 8 1 1 0 3-1 11 1 3 0 6 0 1 0 2-1 0 1 3 0 3 0 6-1 0 0 0 1 4-1 3 0 0 1 1-1 5 1 1-1 0 1 1 0 2 0 1-1 1 1 1-1 8 0 4 1 1-1 3 1 1-1 2 1 2 0 0 0 3 0 8 0 1-1 2 0 10 0 2 1 2 0 1-1 4 1 4 0 4 0 34 0 6-1 7 0 17 0 9 1 14-1 5 1 2-1 2 1 1-1 2 0 8 1 2-1 1 0 14 1 1-1 1 1 1-1 17 1-17 2-3 0-44-1-8 0-15 0-1 1-3 0-8-1-3 0 0 0-1 0-10 0-7 0 0 1-7 0 0 0-1 0-10 0-6 0-8 0-4 0-6-1 0 1-8-1-9 1 0 0-2-1-2 1-3-1-1 0-2 0-4 0 0 1-2 0-1-1 0 1-3 0-2-1-4 1-5-1-1 0-7 1 0-1 0 1-5-1-2 1-3-1-2 0-5 1-13 0-2 0-5 0-4 0-1 0-2 0-3-1 0 1-7 0-2-1-10 1-10 0-4 0-3-1-1 1-8 0-8 0-1-1-1 1-2 0-6 0-3-1-5 1-1-1-5 0-1 0 0 0-6 1-20-1-1 1-3-1-16 0-2 1-12-1-4 1-4-1-4 1-5 0-7 0-1-1-3 0-19 1-64-1-25 3 42 0 5-1 14 0 4 1 14-1 13 1 9-1 8 1 5-1 10 1 1 0 3 0 10-1 4 0 0 0 5 0 1 1 1-1 1 1 1 0 5-1 0 1 1-1 17 0 0 0 12 0 5 0 4 1 1 0 2-1 4 1 5-1 6 1 3 0 2-1 1 1 3 0 8-1 7 1 11 0 4-1 1 0 6 0 1 1 2-1 9 1 2 0 1-1 1 1 7 0 1-1 5 1 8 0 0 0 0 0 2 0 4 0 9-1 3 1 2-1 1 1 10-1 0 1 5-1 9 1 4 0 9 0 8-1 5 0 2 0 10 1 2-1 1 0 1 1 1-1 1 0 3 1 0 0 2 0 1 0 4-1 0 0 4 1 14-1 15 1 2-1 6 1 6-1 6 0 19 1 2 0 0 0 8 0 6 0 5 0 14-1 6 1 1 0 4-1 5 1 19-1-4 2-4 1-1 0-9 0-2-1-12 0-7 0-8 1-17 0-3-1-6 1-12 0-7-1-13 1-1-1-19 0-2 1-3-1-3 0 0 1-13-1-9 0-5 1-1-1-5 1-4 0 0 0-5-1 0 0 0 0-4 0-1 1-7 0-1 0-1 0-4-1-2 0-4 0-2 1-3-1 0 0 0 0-1 1-1 0-4 0-1 0-7 0 0 0 0 0-1 0-7-1-6 0-1 1 0 0-3-1-5 0-3 1-1-1-2 1-3 0-1-1 0 1-1-1-3 0 0 1-1-1-3 0-17 0 0 0-5 0-6 0-2 0-4 1-4-1-11 0-5 0-1 1-9-1-8 1-8-1-3 0-3 0-1 1-7-1-32 1-1-1-2 1-5 0-20-1-24 1-15 0-24-1-5 0-1 1-22-1-18 1-7-1-9 3 7-1 18 1 17 0 61 0 1 0 6 0 10-1 2 1 2-1 0 1 12 0 2-1 1 0 21 0 2 0 6 1 8-1 1 1 19-1 14 1 1 0 16 0 3 0 0 0 1 0 1-1 0 1 2-1 7 0 0 0 6 0 15 0 4 1 1 0 3-1 1 0 6 0 1 0 0 1 1-1 2 1 1-1 3 0 1 0 2 0 1 0 1 0 1 1 1-1 4 0 7 0 3 0 10 1 2 0 11 0 8 0 0 0 5-1 2 1 4 0 1 0 1 0 1 0 7-1 2 1 6 0 1 0 2 0 0 0 2 0 1 0 3-1 1 1 1 0 8-1 2 0 2 1 3-1 4 0 2 1 5 0 1 0 2-1 0 1 3-1 6 1 14 0 4 0 6-1 15 1 10-1 3 1 14-1 1 1 1 0 2 0 7 0 9 0 3-1 7 0 0 0 1 0 2 0 4 0 1 1 3-1 3 0 1 0 1 1 2-1 2 0 8 0 0 1 2 0-14 1-3 0-6 0-1 0 0 0-8 1-37-1-11 0-2 1-1-1 0 0-2 0-2 1-9 0-7 0-2-1-2 0-10 0-2 0-6 0-7 1-3 0-13-1-1 1-6-1-4 0 0 0-10 1-1 0-1-1 0 0-1 0 0 1-3-1-3 0 0 0-5 0-5 0 0 0-2 0 0 1-1 0 0 0-1 0-1-1-3 1-1 0-7 0-1 0-8 0-3-1-2 0-4 1-2 0-2 0-2-1-3 0-3 0 0 1-2 0-2 0-5-1-4 1-11 0-6 0-1-1-2 0-9 0-8 0-8 1-1-1-8 1-2 0-2-1-2 0-1 1-12 0-4 0-13 0-2-1-12 0 0 0-8 1-4-1-1 1-1 0-7 0-1 0-11 0-5 0-11 0-3 0-5 0-2 0-10 0-1-1-4 0-46 1-32 0-1-1-5 0-25 3 1 0 17-1 12 1 37 0 25-1 19 0 7 0 3 0 5 1 5-1 3 0 11 1 8-1 1 1 1 0 0 0 6 0 1-1 1 0 4 0 0 0 19 1 1-1 2 0 7 1 6 0 1-1 1 0 7 1 6 0 2 0 0 0 7-1 2 0 1 0 0 1 1-1 0 1 3 0 1-1 3 0 0 1 2-1 6 0 3 1 7-1 9 1 5 0 4 0 1-1 0 1 0 0 1 0 0 0 1 0 1-1 1 1 1-1 3 0 0 1 3-1 3 1 3-1 1 0 0 1 1-1 0 1 2 0 1-1 1 1 16-1 3 0 5 0 1 1 1 0 6 0 1-1 3 0 3 1 1-1 1 0 3 0 6 0 2 1 6 0 2-1 0 1 6 0 3-1 1 0 3 1 3-1 0 1 0 0 8-1 7 0 1 0 15 1 14 0 8 0 4 0 1 0 2-1 15 0 2 0 5 1 3-1 17 1 32-1 8 1 3-1 12 0 5 3-3 0-3 0-9-1-2 0-3 1-2-1 0 1-2 0-1-1 0 0-6 0-1 0 0 1-1 0-22 0-1-1 0 1-3-1-3 1-2 0-9 0-14 0-1-1-5 1-10-1-2 0-2 1-10-1 0 0 0 1-1 0-1 0-2 0-31-1-3 1-11 0-4 0-2 0-11-1-2 0-5 1-3 0-14-1-1 1-8-1-4 1-7-1-4 0 0 1-23-1-1 0-2 1 0 0-3-1-1 1-1-1 0 1-4-1 0 0-1 1-3 0-1-1-4 1 0 0-1 0-2 0-8 0-2-1-4 1-6-1-3 0-1 1-4 0-1-1-3 0-1 0-2 0-4 0 0 1-1 0 0-1 0 1-2-1-2 1 0 0-4-1-5 0-2 0-1 0-2 1-16 0-1 0-1-1-4 0-11 0-1 1 0 0 0 0-4 0 0 0-2 0-2-1-5 0-9 0-10 0-6 1-15-1-24 1-6-1-16 0-8 1-36 0-6-1-3 0-17 1 15 1 6 0 8 1 6 0 18-1 30 1 4 0 14-1 18 0 2 1 16 0 8-1 5 1 11-1 3 1 1-1 7 1 1-1 2 1 7-1 3 1 3 0 8 0 1 0 3 0 2-1 4 0 4 0 4 1 10 0 3 0 2 0 3-1 1 0 2 1 3 0 1-1 7 0 0 0 0 1 1-1 7 1 12-1 0 0 1 0 4 0 2 1 2-1 2 1 4-1 2 0 0 0 1 0 2 0 0 1 3-1 6 0 1 1 4-1 3 1 1 0 4-1 2 1 1-1 12 1 10-1 14 1 8 0 1-1 5 1 3-1 5 0 0 1 1-1 2 1 5-1 2 0 16 0 1 1 3-1 6 0 19 0 8 1 6 0 1-1 8 0 0 0 4 0 1 0 3 1 11 0 6 0 1 0 11-1 3 1 0 0 5-1 18 1 1-1 1 0 5 0 21 0 1 1-24 1-6 0-1 1-13-1-4 1-7 0-2 0-5-1-10 1-7 0-4 0-1-1-1 1-3-1-5 0-3 0-14 0-10 1-2-1-11 0-1 0-5 0-9 0-3 0 0 0-3 1-3-1-3 0 0 0-3 0-3 0-8 0 0 1-3 0-4 0-2 0-1-1-4 0-2 1-3 0-1-1 0 1-1 0-2-1-12 0-2 1-6-1-4 1-10-1-2 1-5-1-14 1-2 0-1 0-1-1 0 0 0 1-1-1-2 0-4 0 0 0-8 1-3-1-2 0-2 0-1 0-1 1-9 0-3-1 0 0 0 0-7 1-3-1-22 0-7 0-4 0-3 1-8 0-10-1-8 0-14 1-1-1-3 1-5-1-9 0-23 1-1 0-3 0-6 0-39 0-4-1-7 1-28 0-15 0-15 0 2 2 18 0 54-1 19 1 1 0 12-1 1 0 1 0 0 1 3-1 7 0 2 0 2 0 1 1 2 0 0-1 21 1 1-1 4 1 40 0 4 0 1 0 1-1 2 0 20 0 1 1 0 0 3 0 0 0 12 0 1 0 4 0 11-1 4 0 1 0 2 1 7-1 0 1 3-1 9 1 6-1 9 0 2 0 0 1 4 0 11 0 4 0 14 0 27-1 1 1 0 0 3-1 0 1 8-1 0 1 6-1 0 1 1 0 8-1 4 0 0 1 1-1 2 1 9 0 3-1 11 1 0 0 2-1 4 1 1-1 2 1 0 0 5-1 8 1 14 0 7-1 5 1 2 0 1-1 6 1 13 0 12-1 10 1 4-1 3 0 6 1 6-1 1 0 1 0 8 0-7 2-32 1-8 0-2 0-6 0-9-1-1 1-2 0-15 0-4 0-8 0-8-1-12 0-1 0-9 0-8 0-2 0-10 1-8 0-1-1-4 0-1 1-7-1-1 0 0 1-2 0-2 0-1-1 0 1-6-1-1 1-5 0-3 0-4-1-5 1-10 0-16-1-1 1-2-1-4 0-6 1-2 0-2 0-4-1-2 1-1-1-3 1-18-1-3 1-1-1-16 1-1-1-1 1-1-1-1 0-2 0-4 1-2-1-2 1-8-1-1 0-4 0-1 0-2 0-8 1-1 0-1-1-3 0-2 1-1-1-1 1-5 0 0 0-4 0-3 0-4 0-7-1-18 0-10 0-8 0-1 1-77-1-4 1-30-1-12 0-18 1 32 2 29 0 4 0 6-1 5 1 0 0 26 0 5 0 11 0 7 0 1 0 11-1 8 1 1-1 1 1 6-1 11 1 1-1 3 0 1 0 4 1 5 0 6 0 2 0 9-1 1 0 6 1 9-1 9 1 1-1 1 1 0 0 2-1 1 1 1-1 6 1 1 0 7-1 4 0 2 1 2-1 2 0 9 1 6-1 23 0 1 1 1 0 5-1 4 1 3-1 4 1 2-1 16 0 10 1 10-1 10 0 2 1 1-1 3 1 1 0 6 0 1 0 6 0 3-1 1 1 2-1 2 0 0 0 9 1 2-1 11 1 12 0 15-1 11 1 2-1 5 0 28 0 4 1 9-1 0 1 4-1 2 0 3 0 4 1 1-1 1 1 14 0 4-1 0 1 6-1 9 1 2 0-7 2-16 0-3-1-4 0-12 1-2 0-6 0-5-1 0 1-5 0-2 0-20 0-3-1-19 0-15 1-2 0 0 0-8-1-25 0-8 0-5 0 0 1-5 0-5-1-1 1-1-1-12 0-3 0-6 1 0 0-10-1-1 0-1 1-4 0-2-1-9 1-1 0-3-1-1 1-9-1-10 1 0 0-1 0-2 0-1 0-13 0-21 0-2-1-1 1-14-1-5 1-1-1 0 0-8 0-1 0-5 0 0 0-4 0-10 1-1 0-1-1-5 0-3 0-2 0-4 0-9 1-4-1-2 0-3 1 0-1-19 1-5-1-5 0-5 1-3 0-7 0-1-1-3 1-3-1-10 0-6 0-19 0-7 0-2 1-10 0-42 0-1 0-19 0 24 2 7-1 27 0 29 0 14 1 23 0 3 0 2-1 5 0 2 0 4 1 17 0 6-1 4 1 0-1 0 1 6-1 12 1 10 0 14 0 12-1 9 0 10 1 4 0 3-1 15 1 1 0 10-1 1 1 3 0 9 0 3-1 1 0 0 1 6 0 13-1 0 1 7 0 1 0 5-1 0 1 4-1 4 1 1-1 1 0 1 1 5 0 1 0 1 0 8-1 2 0 3 1 0 0 0 0 4-1 4 1 1 0 0 0 0 0 1-1 1 0 6 1 1-1 2 1 7-1 0 0 5 1 3 0 7 0 1 0 3-1 3 1 1 0 1-1 1 0 15 1 5 0 8-1 16 0 7 1 18-1 12 1 13-1 8 0 8 1 1 0 12 0 1-1 3 1 0 0 7-1 1 0-4 3-6-1-36 0 0 0-4 0-23 1-1 0-6-1-2 0-7 0-5 1-5 0-2 0-10-1-2 0-4 1-6 0-9-1-1 0-4 0-1 1 0 0-14-1-5 1-10-1-2 1-3-1-2 0-1 0-1 0-4 0 0 0-2 1-9 0 0-1-5 1-5 0-3-1-3 1-2-1-8 0-5 0-6 0-4 1-2-1-1 0 0 1-2 0-2 0-4 0-4 0-19-1-5 1-5-1 0 0 0 0-1 1-3-1-4 0-13 1-5-1-2 0-11 0 0 1-1-1-14 0-5 1-5 0-5 0-12-1-5 0-21 0-10 1-11-1-7 0-1 0-25 1-5-1-42 1-37-1-5 2 6 1 18-1 14 1 3 0 3-1 31 1 8-1 10 0 6 0 1 1 2-1 3 0 10 0 0 0 1 1 8-1 6 0 8 0 4 0 1 1 4 0 15-1 8 0 4 0 1 1 14-1 1 1 3 0 10 0 7-1 9 0 8 0 0 0 10 1 1 0 1 0 2-1 11 1 3-1 3 1 7 0 1-1 13 1 1-1 5 0 1 1 7 0 4-1 0 0 3 0 6 0 0 0 0 1 8 0 4 0 18 0 6 0 3 0 23 0 4 0 2-1 0 1 5 0 3-1 3 0 6 1 4 0 1 0 4 0 0-1 1 1 4-1 0 0 1 0 3 1 1-1 6 1 3 0 6-1 9 1 21-1 1 0 8 0 1 1 11 0 5 0 3 0 9-1 2 0 0 1 8-1 6 0 0 1 11 0 1-1 0 1-5 2-2-1-13 0-6 0-6 0-13 1-4-1 0 1-2 0-2-1-1 1-9 0-1 0-1 0-2 0-28 0-4 0-1-1-9 0-5 0-4 1-3-1-9 0-1 1 0 0-3-1-1 1-3-1-3 0-2 0-3 1-3 0-1-1-2 0-5 1-3 0-3 0-2-1 0 1-5 0 0 0-11 0-1-1-7 1-11-1-9 1-12-1-1 0-2 1-2 0-1 0-1 0-1-1-2 1-3-1-1 1-17 0-9 0-14 0-3 0-10-1-1 1-4 0-2-1-2 1 0-1-3 0 0 1-1 0-4 0-1-1-19 1-10 0-4 0-3 0-19 0-3 0-9-1-5 0-2 0-7 0-1 0-3 1-4 0-5 0-4 0-12-1-9 0 0 1-14 0-9-1-74 1-10 2 12 0 47-1 1 0 51 1 14 0 13 0 17-1 1 0 7 0 8 1 6-1 5 0 4 0 0 1 10 0 3 0 2 0 1 0 10 0 1 0 7-1 2 1 7-1 5 0 0 1 2-1 6 0 0 0 4 1 1 0 4 0 1-1 21 0 10 1 7-1 9 1 2-1 1 1 5 0 10-1 10 1 0 0 2 0 2 0 8 0 10 0 1-1 9 1 3 0 7-1 19 1 3 0 1-1 5 1 2 0 2-1 0 1 3-1 1 1 3-1 2 0 0 0 0 0 11 0 0 1 4-1 10 0 2 0 0 1 2-1 6 0 27 0 4 1 5 0 4-1 2 1 2-1 9 1 31 0 2 0 3-1-27 3-18-1-8 0-3 0-2 0-1 1-3-1-6 1-27-1-4 0-15 0-1 0-6 0 0 1-2 0-5 0-6 0-1-1-3 1-6 0-14 0-14-1-1 0-4 0-2 0-9 1-12-1-6 1-4-1-16 0-4 1-7 0-11-1-11 0-3 0-5 1-4-1-1 0-18 0 0 1-7-1-2 1-21 0-4-1-2 1-18 0-1 0-39-1-3 0-3 1-8-1-11 1-4 0-11 0-5 0-18-1-28 1-8 0-27 0-12 0-10 2 0 0 2-1 10 0 36 1 12-1 35 1 2 0 9-1 0 1 9-1 4 1 18 0 15-1 6 1 2 0 0 0 2 0 7-1 16 1 1 0 2-1 0 1 15 0 2-1 16 1 7-1 6 1 14 0 2 0 7-1 0 1 3-1 8 1 5-1 0 1 12-1 2 1 1 0 4-1 3 0 9 0 3 1 4 0 3-1 5 1 6-1 5 1 8 0 6 0 11-1 0 1 6 0 4 0 1-1 1 1 3-1 7 1 1 0 1-1 1 1 0 0 0 0 3-1 1 0 47 1 1 0 5 0 13-1 10 1 0 0 14 0 1-1 3 1 7-1 0 0 0 0 0 1 24-1 16 2-14 0-20 0-5 0-2 1-10 0-3-1-3 0-6 0-2 0-10 0-3 1-10-1-4 1-1-1-15 1-5 0-3-1 0 0-1 0-10 0-7 0 0 1-5-1-27 1-1-1 0 1-1-1-2 1-1-1-4 0-1 1-9-1-10 1-1 0-5 0-8-1-7 0-3 1-2-1-5 1-10-1-1 1-8-1-46 0 0 0-3 0-1 0-10 1-14-1-8 0-8 1-3 0-14-1-4 0-12 1-20 0-82-1-51 2 10 1 7 0 35 0 4 0 20-1 26 0 29 1 1 0 14-1 1 1 6-1 5 1 6 0 5 0 4 0 2-1 3 1 9 0 2 0 11 0 2-1 4 0 5 1 5 0 6-1 7 0 7 0 3 1 15 0 0 0 1-1 6 0 3 1 17 0 1 0 0 0 6 0 10 0 3 0 6 0 6-1 3 1 1 0 1-1 1 1 2-1 2 0 10 1 11-1 3 0 16 0 2 1 6-1 5 0 3 0 0 1 2-1 3 0 4 0 4 0 0 0 13 0 5 1 1 0 7-1 4 0 9 1 2 0 20-1 9 0 17 0 1 0 4 1 14-1 5 0 5 1 8-1 1 0 7 3-3 0-28-1-14 1-28 0-25-1 0 0-5 1-1 0-7 0-5-1-8 1-10-1-8 0-2 0-4 1-3 0-2-1-5 1-8 0-7-1-1 0-8 0-6 0-5 0-1 1-8 0-3-1-9 0-9 1-2-1-17 1-10 0-6-1-3 0-1 0 0 1-1 0-7 0-3 0-1-1-6 0-3 0-9 1-14 0 0 0-3 0-6-1-3 1-6 0-5 0-4 0-5-1-1 1-3 0-3-1-4 0-2 1-3-1 0 1-13-1-18 1-11-1-11 0-4 0-3 0-5 0-15 0-41 1-14-1-27 0-12 2 16 1 2 0 33-1 1 1 31-1 8 1 6-1 8 0 37 1 9-1 9 1 3-1 0 0 2 0 25 1 7 0 2 0 2-1 0 1 5 0 11 0 4 0 3-1 4 1 3 0 6-1 8 1 2 0 4 0 7 0 11 0 1 0 4 0 3 0 4-1 0 1 5 0 7-1 2 0 3 0 1 1 19 0 12-1 9 0 16 0 4 1 2-1 1 1 1 0 8 0 18 0 7-1 3 0 5 0 21 1 2-1 6 1 0 0 3-1 3 1 13-1 5 1 0 0 5 0 3 0 6-1 10 0 15 1 8-1 4 1 14 0 3-1 0 1-19 1-2 0-37 0-3 0-4 0-1 1-7-1-10 0-25 0-7 1-4 0-5 0-15 0-8 0-1-1-13 0-8 1-1 0-19 0-2 0-3-1-5 0-1 1-11 0-2 0-9 0-2-1 0 1-11 0-1-1 0 1-2-1-2 1-3 0-16 0 0 0-8-1-7 1-2-1-1 0-2 0-7 0-1 1-9-1-4 0-7 0-1 1-3 0-2-1-4 0-1 0-1 0 0 1-8 0-12 0-16-1-4 0-1 1-2-1 0 1-4-1-1 1 0 0-3-1-7 1-10-1-3 0-11 0-2 0-56 0-2 1-12-1-32 1-18 0 3 2 12-1 11 0 14 0 33 0 2 0 11 0 13 0 3 1 3-1 12 1 3 0 17-1 19 1 5 0 1 0 2-1 5 0 0 1 4 0 1-1 5 0 13 1 1-1 0 1 2 0 13-1 3 1 1 0 11-1 1 0 2 1 0 0 4 0 11 0 0 0 2-1 4 1 11 0 2-1 1 0 21 1 0 0 1-1 5 0 4 1 23-1 24 0 3 0 3 1 2 0 23 0 7-1 0 1 1-1 10 0 7 1 1-1 3 1 9 0 2-1 3 1 9-1 7 0 12 1 12-1 2 0 7 1 7 0 35-1 5 0 9 1 4-1 2 1-8 2-3 0-3-1-1 0-19 0-11 0-11 1-16 0-10 0-6-1-5 1-19-1-20 1-10 0-2-1-1 1-19 0-7 0-13 0-2 0 0 0-11-1-1 0-9 1-30-1-1 1-3 0-5-1-5 0-6 1-4 0-3 0-3 0-2-1-2 1 0 0 0 0-13-1-1 0-41 1-15 0 0 0-5-1 0 1-9 0-2-1-2 1-12-1-2 1-32 0-3 0-2-1-23 1-8-1-86 0-3 1 20 1 5 1 15-1 23 0 3 1 8-1 35 0 13 1 17-1 3 1 31 0 14 0 3-1 12 0 1 1 1 0 8-1 14 0 11 1 2-1 9 0 1 0 2 1 2 0 2 0 5 0 5-1 2 0 7 1 9-1 5 0 10 1 1-1 16 1 15 0 1-1 16 1 4 0 6-1 15 1 32-1 7 0 53 0 5 0 5 1 6 0 2 0 14 0 18 0 0 0 4-1 0 1 1 2-2 0-1-1-9 0-8 0-4 0-8 1-14 0-9-1-2 0-7 1-1-1-1 0-4 1-4 0-8-1-2 0-31 1-4 0-12-1-10 0-20 0-21 0-8 0-1 0-5 1-19 0-1 0-7 0-5 0-16 0-1-1 0 0-8 0-19 0-2 1-10-1-9 1-12-1 0 1-2-1-2 1-1 0-4 0-5 0-1-1-14 0-6 0-1 0-1 1-2-1-6 1-6 0-1 0-4-1-20 0-11 0-66 0-27 3 26 0 20-1 37 1 16-1 6 0 19 0 19 1 1-1 21 0 22 1 1-1 2 0 0 1 17 0 2 0 7 0 12-1 13 0 16 0 1 1 5-1 5 1 8 0 1 0 9 0 28-1 18 1 34 0 5-1 0 0 3 1 9-1 15 1 2 0 20-1 7 0 2 0 1 0 9 0 15 0 19 1 1 0 20-1 1 1 6 2-3-1-5 1-35-1-13 0-1 0-8 1-2-1 0 0-8 0-16 0-18 1-1-1-1 0-8 0-6 0-9 1 0 0-5-1-7 0-2 0 0 1-48-1-19 1-12 0-12-1-2 1-14 0-3 0-5-1-2 0-50 0-8 0-2 0 0 0-15 0-5 1-16-1-4 1-1 0-6 0-12-1-31 0-7 0-5 0-36 1-2 0-13 0-5-1-53 1 3 2 77-1 11 1 9-1 50 1 11 0 21 0 7-1 12 0 3 1 14-1 12 0 4 0 8 0 6 0 1 0 3 1 1 0 2-1 2 1 5-1 11 1 6 0 8-1 6 1 22-1 17 0 24 1 10-1 7 0 5 0 17 1 34-1 19 0 7 1 26 0 16-1 1 1 22-1 14 3-12 0-1 0-2-1-18 1-1 0-3 0-19-1-14 1-2-1-10 1-12 0-25-1-23 0-5 0-19 0-14 0-5 1-5-1-26 0-9 1-26-1-8 1-8 0-1 0-2 0-3 0-1-1-2 0-34 1-1-1 0 0-5 1-2-1-5 0-23 0-14 0-74 1-15-1-26 0-7 0-19 0-14 1-10 0 4 1 11 0 17 1 42 0 20-1 19 0 27 1 9-1 1 0 3 1 16 0 0 0 3-1 12 1 0 0 36-1 2 1 16-1 7 0 7 1 7-1 3 0 1 0 5 0 26 0 3 0 3 1 0 0 9-1 6 1 3-1 1 0 2 1 5 0 1 0 10 0 18 0 6-1 5 0 3 0 6 0 20 1 23-1 3 1 9-1 46 1 11-1 4 0 18 1 18 2-16 0-19 0-30-1-7 0-19 0 0 1-4-1-1 0-5 0-14 0-1 0 0 0-7 1-16 0-10-1-6 0-8 0-16 1-1-1-1 0-4 0-4 0-5 1-4-1-9 1-28 0-4-1-9 1-1-1-3 1-3 0-6 0-6 0-34-1 0 1-19 0-37 0-1 0-14 0-3 0-17 0 0 0-4 0-18 0-34 0-32 0-6-1-8 1-39 2 62-1 35 0 13 1 7 0 2-1 30 1 2-1 4 1 2 0 17-1 70 0 10 0 8 0 6 0 1 1 2 0 7 0 11 0 8 0 14 0 2 0 14 0 17-1 2 0 16 1 11-1 9 0 15 1 12 0 21 0 15-1 12 1 28 0 1 0 1-1 2 1 4 0 19-1 8 0 1 1 2-1-26 3-1-1-20 0-2 1-51-1-14 0-25 1-3-1 0 1-2 0-12 0-4 0-6-1-16 0-22 1-8-1-17 0-21 0-9 0-3 0-9 0-1 1-2-1-20 0-65 1-7 0-7 0-2 0-5 0-53 0-31-1-3 0-26 2 52 1 53-1 6 1 17-1 23 1 9-1 13 0 7 1 9-1 14 0 3 1 1 0 19-1 21 1 32-1 7 0 13 1 3-1 12 0 10 0 14 1 13-1 0 0 5 1 3-1 1 1 16 0 8 0 8 0 3 0 37 0 17 0 2-1 2 0 12 0 10 0 5 0 13 0 3 0 1 1 9 1-10 0-7 1-13 0-14 0-3-1-8 0-7 0-2 0-4 1-33 0-11-1-17 0-4 0-19 0-31 1-3-1-13 0-11 1-19-1-24 1-3-1-1 1-1-1-7 1-50 0-6-1-7 0-22 1-19 0-2 0-9 0-3-1-21 1-5-1-15 0-57 0 122 3 61 0 6 0 1-1 8 1 11 0 12 0 23 0 5 0 4 0 1 0 3 0 13 0 38 0 5-1 8 0 14 1 1-1 4 0 7 1 4 0 6 0 11-1 16 1 6 0 1-1 2 1 7-1 25 1 44 0 3-1-15 2-26 0-4 1-9-1-5 1-6 0-5 0-8 0-4-1-1 0-4 0-18 1-44-1-36 0-2 1-3-1-1 0-1 0-4 1-14-1-4 0-15 1-1 0-11-1 0 1-9 0-24 0-13-1-6 0-19 0-13 0-46 0-41 1-4-1-15 1-4 0-2-1-56 2 25 1 58 0 17 0 41 0 41 0 5-1 15 0 18 0 5 0 11 0 6 1 2 0 6 0 7-1 6 1 4-1 10 0 21 0 5 1 6-1 2 0 5 0 10 0 2 1 34-1 2 1 3-1 59 0 10 1 67 0-3 1-13 0-2 1-11 0-13 0-38-1-10 1-15-1-3 0-2 1-58 0-1-1-26 1-42 0-2 0-18-1-9 1-2 0-39-1-34 0 0 1-6-1-2 1-6 0-4 0-11 0-21-1-7 1-1 0-30 0-25 0-83-1 6 3 51 0 33 0 26-1 19 0 31 0 2 0 26 0 6 0 3 0 36 1 18 0 1-1 27 1 4-1 11 1 14 0 0 0 5-1 7 0 19 1 31 0 4-1 13 1 26 0 17 0 37-1 12 0 11 1 32 1-1 0-13 1-25 0-4-1-11 0-2 0-30 1-20-1-15 1-7 0-19 0-52-1-16 1-22-1-13 1-23-1 0 0-7 1-1-1-1 1-12 0-6-1-15 0-12 0-50 1-7 0-1-1-5 1-2-1-8 0-122 0-3 0-6 3 2 0 35-1 56 0 30 0 48 1 3 0 45-1 27 0 35 0 1 0 0 0 34 0 13 1 13-1 2 0 34 1 0 0 9 0 28 0 6 0 12-1 47 0 6 1 11-1 5 0 13 1 15 2-110-1-1 0-11 0-16 1-17-1 0 0-18 0-4 0-3 0-10 0-23 1-22 0-16-1-20 1-7-1-3 1-17-1-18 0-3 1-14-1-14 1-8-1-87 0-70 1-19 0 4 2 56 0 67 0 8 0 5-1 18 0 38 0 21 0 13 1 7-1 35 1 9-1 10 0 14 1 2 0 3-1 21 1 15 0 4 0 21 0 12 0 21 0 28 0 33 0 16 0 42-1-29 2-63 1-1-1-11 1-28-1-20 0-24 0-7 0-5 0-52 1-6-1-5 0-4 1-8-1-4 1-32-1-21 1-1-1-11 0-14 1-5-1-73 0-22 1-8 0-43 0-22-1 171 2 9 0 35 1 30-1 4 1 6 0 30 0 12-1 39 0 52 1 1-1 38 1 16-1 20 1 3-1 6 0 10 1 51 2-51 0-85-1-1 0-1 0-5 1-21 0-49-1-1 1-12-1-14 0-22 1-10 0-8-1-17 1-3-1-21 0-13 0-10 0-2 0-37 1-36 0-20-1-30 1-11-1 129 2 8 1 58-1 28 0 24 1 34-1 5 0 0 0 177 1 21 0-11 1-93 0-78 0-30 1-33 0 0 0-8-1-49 0-62 1-1 0-60-1-48 0-32 1-7-1-30 3 71-1 60 1 31 0 26-1 7 1 4 0 49-1 23 0 25 0 21 0 14 1 5 0 24 0 9 0 72-1 18 1 24 0 11 0-136 1-34 0-26 1-2-1-2 0-12 1-3 0-10-1-11 1-59 0-37-1-12 0-37 0-20 1 64 1 9 1 85 0 34 0 41 0 17-1 59 0 7 1 4 0 26 0 65 0 13 0 3-1 15 2-10 1-11 0-14 0-104 0-84-1-19 1-42 0-9-1-6 0-7 1-17-1-145 0-33 2 59 0 82 0 15 1 30-1 78 1 42 0 10 0 22-1 3 1 13-1 7 0 10 0 2 0 12 1 26-1 14 1 10-1 12 1 42 2-62-1-9 1-96 0-23 0-9 0-4 0-39-1-8 0-4 0-1 1-56 0-93 0 73 1 2 0 43 0 8 0 23 1 39 0 6 0 14-1 111 1 47-1 4 0 45 1-14 2-44 0-101 0-78-1-15 1-21-1-9 0-19 0-21 1-77 0-60 0 65 2 74 0 4 0 33 0 7-1 6 1 13-1 39 1 98 0 18 0 41 0 57-1 0 1 13-1-10 2 0 0-45 1-71-1-52 1-73-1-31 0-6 0-23 0-3 0-96 1-104 2 30 0 69-1 50 1 27 0 5-1 8 1 52 0 96 0 17-1 57 1 23 0-22 1-70 1-57-1-47 0-2 1-18 0-36-1-23 0-13 0-17 1 15 2 0 0 15-1 34 0 11 1 4 0 43 0 85-1 168 1 10 0-46 2-44-1-6 0-52 0-118 0-2 1-99-1 0 1-63-1 81 2 123 1 84-1 26 1 71-1 10 2-35 1-19 0-15-1-3 1-59 0-32 0-16-1-14 1-175 0-139 2 199-1 101 1 77-1 14 0 95 1 12 1-4 1-18 0-17 0-2-1-30 0-244 1-90 0 126 2 96-1 74 0 56 3-87 0-50-1-79 0-176 1 140 2 60 0 108-1 104 0 28 1 9 2-23-1-164 0-4 0-100 0-61 1-2 0 33 1 18 0 19 1 86 0 25 0 6 0 79 0 30-1 18 0-12 3-40-1-251 0-3 2 170 0 26 1 1-1 32 1-25 2-153-1-20 1-61-1-20 3 4-1 30 0 20 0 146 1 129-1-2 2-7 1-179-1-21 1-27-1-28 1-30-1-60 1-56 2 267-1 137 0 65 0-129 3-199 0-13-1-104 1 120 1 47 1 249-1 54 0 0 0-25 3-129 0-181 0-83 0-78 2 111-1 82 1 135-1 29 3-196 0-39 0-22 1 1 0 146 0 253 2-149 0-152 1-38-1-150 2 92 0 383 0-25 3-23-1-60 1-217-1-74 2 74 0 182 1 10-1 65 0 14 1-87 1-82 0-33 0-222 2 181 0 28 0 114 0 44 3-266-1 154 2 26 1 8 0 120-1 23 1 44 0-47 1-314 3 204 0 78 1-224 0-132 0 278 3 24-1 115 0 20 3-43-1-253 0-135 0 105 3 230-1-179 2-66 1-14 2 217 0 98 2-298-1-130 3 362-1 8 0-187 8 242 0-328 3-80 1 72 0 100 0 57 3-112-1-74 1 194 2 199-1-118 2-57 1-192-1 128 6 218 1 61 1-241 1-166 1 245 11-88 3-96 1-81 3 173 4-262 2 186 0 275 1-128 1-302 0 55 3 60 1-26 6 36 1 174 0 21-1-370 2 388 2-22 2-185 0-137 3-7 4 222 1-197 7 465 1-169 3 137 0-154 5-172 3 74 0 32 0-57 2-57-1-90 3 370 2-332 5 50 2-153 1 236 2 27 4 260-1-228 2" fill="none" marker-start="url(#n)" marker-mid="url(#n)" marker-end="url(#n)"/><path transform="scale(0.5)" d="m1186 108 14 0-343 7-27 1 522 2-16 1-369 0-14 2 96 0 22-1 67 1 0 0 3-1 4 0 158 0 7 1 5 0 18 2-21-1-23 1-28 0-21 0-3 0-60 0-30-1-3 1-8-1-79 0-18 1-63 0-31 0-57-1 24 2 7 0 45 0 7 0 2 0 20 0 44 0 38 0 1 1 81-1 25 1 40 0 130-1 1 2-12 1-12 0-25 0-23-1-1 1-14 0-25-1-43 0-18 0-22 0-13 0-23 0-5 0-53 0-16 0-23 1-14 0-39-1-11 1-5-1-5 1-26 0-19 2 18-1 4 0 28 1 23-1 40 0 58 0 95 0 14 0 25 0 16 1 15-1 19 1 3 0 19 0 20-1 16 0 35 3-123-1-203 0-8 1-128-1-17 3 46-1 146 0 115 0 22 0 70 0 7 0 63 1 12 2-182 0-3-1-317 3 360 0 118 0 16-1-23 2-484 1 310 1 72 1 79 0 7 0 42 0-12 2-4 0-12-1-14 0-12 1-266 0-134 2 187-1 21 1 105-1 112 0 28 1-38 2-77-1-73 0-250 0 57 3 107-1 92 1 30-1 4 0 20 0 5 0 65 0 36 1 23 2-2-1-2 0-1 1-48 0-107 0-10-1-9 0-87 0-81 0-16 1 7 1 16 0 51 1 81 0 31-1 14 1 1 0 9 0 26-1 6 0 25 1 49 0 1 0 5 0 5 0 1 0 2-1 4 0 2 1 4 0 5 0 2 0 3 0 1 0 5 0 10-1-1 3-3-1-3 1 0 0-4-1-1 0-1 0-1 0-6 0-2 0-2 1-5-1-4 0-22 1-4 0-48 0-57-1-6 0-4 1-23 0-88-1-1 1-66-1-78 1 34 1 33 1 29-1 4 1 21 0 0 0 12-1 2 1 0 0 5 0 1-1 4 0 12 0 20 1 39-1 2 1 31-1 7 1 2-1 1 1 8-1 10 1 2 0 12 0 8-1 5 1 4 0 1-1 56 1 8-1 8 1 15 0 1-1 4 1 3-1 0 1 3 0 10-1 2 1 2-1 2 0 3 1 1-1 1 1 3 0 1 1-1 0-5 1-3-1-1 0-4 0 0 1-1 0-2-1-6 0-5 0-5 0-16 1-9 0-30-1-2 1-14 0-21-1-31 0 0 1-9 0-27 0-28-1-1 0-63 0-4 0-2 1-4 0-2 0-7 0-8 0-26-1 0 0-26 0-13 1-59 0-95 1 95 0 6 0 46 1 21 0 25 0 18 0 9 0 13-1 1 0 4 1 1-1 3 0 3 1 9-1 0 1 2 0 11-1 71 0 9 0 0 0 3 1 6 0 3 0 6-1 8 0 5 0 0 0 96 0 0 1 20 0 3-1 0 0 5 1 0 0 2-1 1 1 1-1 2 1 1 0 1 0 1 0 1-1 3 0 2 0 0 1 1-1 3 0 0 1 1-1 1 1 1-1 0 0 3 0 2 0 1 1-2 1-1 0-3 1 0 0-1 0-2-1-4 0-1 0-4 1-1-1 0 0-5 1 0-1-2 0-2 1-2-1-5 1-3 0-14-1-5 0-14 1-11-1-31 0-4 0-5 1-8 0-13 0-7 0-8-1-3 0-2 0-1 0-4 0-1 0-6 0-2 0-3 0-9 1-5-1-3 0 0 0-7 0-31 1-17-1-31 0-24 1-16 0-10 0-1 0-5-1-4 0-4 0-1 0-72 1-2-1-14 1 8 2 8-1 6 0 36 0 6 0 10 0 3 0 11 0 6 0 1 0 0 1 6 0 5 0 13 0 4 0 0 0 3-1 5 0 2 1 8-1 17 0 1 1 24 0 4 0 8 0 3 0 11-1 1 1 19-1 1 1 6-1 6 1 6 0 4 0 4-1 3 0 0 1 2-1 0 1 1 0 1 0 0 0 2-1 33 1 8-1 7 1 19-1 2 0 5 0 24 1 3 0 12-1 5 0 1 1 0 0 3-1 0 0 3 1 2 0 2-1 3 0 6 1 1-1 3 1 1 0 2-1 1 0 1 1 3-1 0 0 2 0 0 1 1 0 0 0 2-1 1 1 0 0 2-1 2 1 2 0 0 0 1 0 0 0 1-1 0 0 0 0 2 0 0 0 2 0 3 1 0 1 0 1-4 0 0 0-2-1-4 0-1 0 0 1-2-1 0 1-4 0 0 0-3-1-1 1-2 0-5-1-1 1 0 0-3-1 0 1-5 0-1 0-5 0-2 0-1 0-1 0-3 0-1 0-3-1-4 1-21 0-3-1-35 0-5 1-2 0-10 0-3 0-1-1-7 1 0 0-8 0-3-1-4 0-1 0-1 0-10 1-3-1-1 0-5 0-5 0-2 0-47 1-2-1-2 1-3-1-14 0-4 1-2-1-9 1-1-1-2 0-3 1-3-1-2 0-2 1-8 0-6 0-2 0-13 0-4-1 0 1-6 0-1 0-4-1-3 1-1 0-5-1-1 0-4 1-21 0-2-1-4 1-4 0-39-1-10 1-8-1 0 1-1 0-5-1-4 2 4 0 5 0 0 0 1 0 0 1 0 0 1 0 1-1 1 0 0 0 0 1 1 0 2 0 1 0 2-1 4 1 5 0 5-1 4 1 18-1 19 1 17 0 3-1 0 0 0 0 1 1 1 0 1 0 1-1 4 1 4-1 3 0 7 0 0 1 2 0 5 0 2 0 0 0 2-1 1 0 0 1 4 0 2 0 2-1 1 1 0 0 3 0 1-1 1 0 3 0 1 1 1 0 1-1 7 1 1 0 3-1 16 1 1-1 2 0 3 1 3-1 0 1 11 0 3 0 19 0 2 0 12 0 4 0 12-1 6 0 0 1 1 0 5-1 1 1 4 0 3 0 1 0 0 0 15-1 3 1 1 0 0 0 4 0 6-1 1 0 21 1 11 0 31 0 5-1 9 1 4 0 1-1 2 0 2 1 2-1 2 1 6-1 1 0 3 0 2 1 3 0 0 0 2 0 1-1 1 1 4-1 2 0 1 0 9 0 0 1 2-1 0 1 2-1 0 0 1 0 0 1 2 0 1-1 3 0 0 0 0 1 0 0 3-1 2 2-1 0-1 0 0 0-1 1-1 0-1-1 0 1-1-1-2 1 0 0 0 0-1-1 0 0-1 0 0 1 0 0-1 0 0 0-2 0-2 0 0-1 0 1-3-1 0 0-1 0-1 0 0 0-1 1-3-1 0 1 0 0-1-1-2 1-2-1 0 0-1 0-2 1-1-1-2 0-1 0-2 1-2 0-4-1-3 1 0-1-4 0-2 0-1 0-2 0-10 0-13 0-6 1-13-1-1 0-1 0-2 1-12-1-3 1-3-1 0 1-10 0 0 0-3 0-2 0-6-1-8 0-2 0-1 1-2 0-2 0-8-1-8 0-2 0-1 1-4-1-1 0-1 0-6 0-1 1-20-1-26 0-30 0-1 0-6 1-6 0-7-1-6 0 0 1-1 0-1 0-7 0-5 0-7-1 0 1 0 0-1-1-2 0-1 1-6 0-2 0 0 0-7 0-1 0-3 0-2-1-2 0-1 0-2 1-2-1-1 0-5 0-2 0 0 1-8-1-13 1-2-1-12 0-5 0-20 1-7 0-2 0-4-1-1 0 0 1-1-1-1 1-6 0-1-1 0 3 1-1 0 1 1 0 2-1 1 0 3 0 0 0 1 0 1 0 0 0 1 0 0 0 3 1 0 0 4-1 0 0 3 1 2 0 1 0 11-1 6 1 4 0 5-1 3 0 1 1 9 0 6 0 18 0 6-1 4 1 2 0 0 0 4-1 0 0 0 1 2-1 2 1 1 0 3-1 6 0 0 1 1 0 2 0 1-1 1 1 1 0 1-1 9 0 0 1 1 0 9 0 1 0 3-1 5 0 2 0 0 0 4 0 6 1 8 0 1 0 3-1 9 1 2-1 1 1 6 0 4-1 14 0 2 0 1 1 20-1 1 0 5 0 0 0 11 0 2 0 0 0 0 1 4-1 2 0 3 1 1 0 3-1 6 0 2 1 1 0 3 0 1 0 1 0 7 0 6 0 2 0 2-1 11 0 8 1 35 0 4-1 0 1 1 0 5-1 4 1 0 0 1-1 2 0 12 1 2-1 6 0 3 1 2 0 1 0 0 0 0 0 3-1 1 0 2 1 1-1 3 0 3 1 1-1 0 1 0 0 1-1 0 1 0 0 1-1 1 1 0 0 2 0 1-1 1 1 0 0 1 0 0 0 1-1 3 0 1 0 1 1 1 0 0-1 1 0 2 1 2 0 2 0 0 0 1-1 0 0 0 1 1-1 1 1 1 0-1 2-2-1 0 1 0 0-3-1-1 1 0 0 0 0-1 0-1-1-1 0-1 0-2 0-1 1-1 0-1 0-2 0-2-1-3 0 0 0 0 1-7-1-5 0 0 1-2-1-3 0-2 0-4 1-4 0-6 0-7 0-4 0-3-1-20 0-24 0-1 0-12 0 0 1 0 0-1-1 0 1-3 0-1-1-1 0-2 1-2-1-8 1-1-1-1 0-3 0 0 1-3-1 0 1-1-1-3 0-1 1-4 0-5-1-1 1-2 0-2-1-10 1-2-1-5 0-11 1-33-1-12 1-9-1-1 1 0 0-2-1-4 0 0 0 0 0-3 0-1 0-1 1-1-1-3 1-4 0-2-1-10 0-3 1-1 0-6-1-1 0-2 0-4 0-4 1-2 0-4 0-5 0-10 0-5 0-2-1-1 0-8 0-1 0 0 1-2-1-2 1-1-1-2 1-9-1-5 0-12 1-7 0-1-1-24 0-5 0-2 1-2-1-2 1-1 0-4-1-1 0 0 1-3-1 0 1 0 0-3 0-3-1-14 0-42 2 15 0 40 0 0 0 5 1 1 0 2-1 1 0 1 1 1 0 1 0 5 0 0 0 0 0 2 0 1 0 0 0 10-1 4 1 12 0 7-1 6 1 4-1 1 0 2 0 3 0 0 0 1 0 1 1 5-1 0 0 7 1 0-1 1 1 2-1 3 1 1-1 1 0 0 1 2-1 0 1 1 0 6-1 0 1 2 0 4-1 0 0 1 1 2-1 1 0 1 0 3 1 0 0 2-1 15 1 3 0 1 0 1 0 3-1 0 0 0 1 2 0 0 0 1-1 0 1 1-1 5 0 0 1 1-1 5 0 1 0 1 0 1 0 1 0 2 0 2 1 3-1 2 0 3 1 1 0 4-1 1 0 2 1 4 0 1-1 0 1 3 0 12-1 1 1 1 0 2 0 7-1 4 0 2 0 23 1 9-1 0 1 6 0 3-1 1 0 3 1 0-1 2 0 1 1 2-1 3 0 1 0 1 1 1 0 1 0 0 0 3 0 3 0 3-1 1 1 0 0 1 0 1 0 1-1 0 1 2-1 1 0 0 0 0 0 0 0 1 0 1 1 1-1 0 0 1 1 1-1 5 0 0 0 2 1 1 0 2 0 1-1 11 1 2 0 3-1 20 0 6 0 26 0 4 0 1 0 1 1 5 0 2-1 0 1 1 0 8 0 1 0 0 0 1 0 1-1 2 0 1 0 3 1 4 0 1 0 1-1 1 1 3 0 4 0 1-1 3 0 1 0 0 1 1 0 4-1 1 1 1 0 0 0 0 0 1 0 1-1 2 0 0 0 0 0 0 0 0 1 2-1 0 1 1-1 0 1 1 2 0 0-2-1 0 0-1 1 0 0-1-1 0 0 0 0-1 0 0 1 0 0-1 0 0-1-2 1-4 0-1 0-2-1 0 1-3-1 0 0-1 1-1-1-1 1-2-1-2 0-1 0-1 0-1 1-2 0-1 0-1 0-2 0-1 0-1-1-1 1-1-1 0 1-4 0 0 0 0 0-3 0-3-1-7 0-10 1-11-1-4 1-37-1 0 1-7-1-2 1-5 0-4-1-7 0-6 0 0 0-3 1-1-1 0 0 0 1-1 0-1 0-2 0-1 0-1-1-1 1-3-1 0 1-6 0-3 0-3 0-1 0-1-1-2 1 0 0-1-1-5 1-2 0-1 0-11-1-3 0-8 1-18 0-5 0-1-1-15 0-1 0-4 0-2 0-4 1-4 0-2-1-2 0 0 1-1-1 0 0 0 1-1 0 0 0-2 0-1-1-2 1-1 0-1-1-1 1-2-1 0 0-2 1-3-1-2 1-2-1-1 0-1 0-1 0-6 1-3 0 0 0-2-1 0 1-1-1-1 1-2-1 0 1-1-1-3 0-2 1 0 0-1-1-1 1-1 0-1-1 0 0-5 0-2 0-2 1-2-1 0 1-1 0-1-1 0 1-5-1-6 0-4 1-1-1-1 0-2 0 0 1-2-1-3 0-9 1 0-1 0 1-4 0-1-1-9 1-2-1-2 0-7 0-9 1-12-1 0 1-1-1-6 1-1 0-2 0-5 0-2-1 0 0-2 1-1-1-1 0 0 1-1 0-2-1-1 0 0 1-4 0-57 2 11 0 1 0 0 0 8 0 6 0 35 0 5-1 0 1 1-1 1 0 0 0 0 1 2 0 2 0 2 0 1-1 3 1 2-1 10 0 7 0 4 1 6 0 3-1 2 0 4 0 4 1 5-1 1 1 9-1 0 1 2-1 1 1 3-1 0 1 0 0 1 0 3-1 2 0 0 1 1 0 2-1 0 0 4 0 1 1 2 0 1-1 4 1 0 0 2 0 0 0 1-1 0 1 2-1 0 1 1-1 3 0 1 1 1 0 0 0 0 0 1-1 1 0 0 0 1 0 0 0 0 1 2-1 1 0 0 0 0 1 0 0 1-1 0 0 1 0 1 1 2 0 3-1 0 1 3-1 0 0 2 0 1 0 0 0 0 1 1 0 4-1 3 1 2 0 4 0 1 0 2 0 4 0 0-1 1 1 1-1 1 0 0 0 0 1 3-1 0 1 1-1 0 0 3 0 0 0 1 1 2-1 0 1 0 0 1 0 3 0 3-1 1 1 1-1 2 1 0-1 1 1 1 0 2 0 8 0 4-1 2 1 3 0 11 0 22-1 0 1 1 0 4 0 8-1 0 1 3 0 5 0 4 0 1 0 0 0 3 0 3 0 0 0 0 0 1 0 1-1 0 0 2 0 1 1 1 0 6 0 2 0 1-1 1 0 1 1 1-1 0 0 2 0 0 1 1-1 0 0 2 1 1-1 5 0 3 0 0 1 1 0 0-1 0 1 4 0 1 0 1-1 0 0 1 1 2 0 3 0 1 0 8 0 1 0 8 0 4 0 13 0 4-1 19 0 8 0 1 1 4 0 2-1 4 0 1 0 3 0 0 0 0 1 5-1 0 0 0 0 1 0 0 1 1-1 0 0 1 0 2 1 3 0 4-1 1 0 1 1 0 0 1-1 0 1 3 0 1 0 3 0 1-1 3 0 2 1 1-1 0 1 1-1 0 0 0 1 1-1 0 1 0 0 1 0 1-1 1 0 0 1 1-1 0 1 1-1 1 1 1 0 1 0 0 1-1 0 0 0 0 0-1 0-1 0-1 1-2-1-1 0 0 0 0 0 0 1-2-1 0 1 0-1-1 0 0 0-1 0 0 0-5 0-3 0-1 0 0 1-2-1 0 0 0 0-1 1 0 0-1 0-3-1 0 0 0 0-2 0 0 0-1 0 0 0-1 0 0 1-1 0-1-1 0 1-1-1-2 0 0 0 0 0-1 1 0 0-2-1-1 0-3 0-5 0-2 0-9 1-13-1-21 1 0 0-7-1 0 0-9 1-9-1-1 0-3 1-1 0-3 0-4-1 0 1-3-1-2 1-1-1-2 0 0 1-2 0-2 0-1-1-1 0-3 0-2 0-1 0 0 0 0 1 0 0-1-1-1 1-1-1-2 0 0 0 0 1-1-1-1 0-1 0-1 0-3 0-4 1-6-1-4 0-1 1-1 0 0 0-2 0-2-1-2 1 0 0 0 0-3-1-5 1-3 0-4-1-2 0 0 1-6 0-9-1-23 1-8 0-1 0-3-1-6 0 0 1-3-1-3 1 0 0-4-1-1 0 0 1-1-1 0 0 0 0-1 0-1 1 0 0-1 0-2-1-1 1-6 0 0 0-1 0-3 0-5-1-1 0 0 1-3 0-3 0-1-1-2 0 0 1 0 0-2 0 0 0 0 0-3 0-1-1-1 0 0 1 0 0-2-1-2 0 0 1-1 0-1 0-1 0-5 0-1-1 0 0 0 0-3 1 0 0-1-1-1 0-1 0 0 1-2 0-1-1 0 1-1 0-2 0-1-1 0 1-1-1-1 1-1-1-2 0 0 0 0 0-2 1-3-1 0 0 0 1-1 0-7 0-1-1-2 0 0 0-4 0-11 1-2-1 0 0-8 0 0 1-6-1-1 1 0-1-8 0-12 1-2-1-2 1-1 0-3-1 0 1-1-1 0 0 0 1-1 0 0 0 0 0-2 0-1 0-3-1-2 1-1-1-1 1-1-1 0 1-1-1-1 1-3 0-1-1-36 1-5-1 0 1-3 0-2 0-2-1 0 1-1 0-1 0 0 0-3 0-17 1 3 1 3 0 1 0 7-1 0 0 0 1 3-1 4 0 1 0 1 0 0 1 4 0 42-1 0 1 0 0 2-1 5 0 1 0 0 1 3-1 3 1 1-1 0 1 4 0 2 0 1-1 2 0 3 0 1 0 13 1 9 0 2-1 10 0 1 1 1-1 0 1 1-1 2 0 1 0 3 1 1 0 2-1 6 0 2 1 3-1 5 0 0 0 1 1 0-1 3 0 1 0 2 0 0 0 0 1 1-1 0 1 1-1 2 0 0 0 0 1 2-1 0 1 1-1 0 0 0 1 2 0 0 0 1-1 0 1 0 0 2 0 0 0 2-1 0 1 1-1 1 0 1 0 1 0 1 0 0 1 1 0 1-1 0 1 1 0 2-1 0 1 0 0 1 0 1-1 0 0 0 1 1-1 1 1 1 0 1 0 1-1 1 0 0 1 1-1 1 0 1 1 0 0 2 0 3-1 0 0 0 0 4 0 1 0 0 1 2-1 5 1 3-1 3 1 3 0 1-1 1 1 2-1 5 0 1 0 2 0 0 0 1 0 0 1 5-1 2 1 3-1 0 0 1 0 4 0 8 1 1 0 7-1 1 0 0 0 4 0 0 1 1-1 18 0 16 0 1 1 1 0 1 0 2-1 4 0 0 1 2-1 0 1 1-1 4 1 3 0 1 0 4-1 1 0 1 0 1 1 1 0 2-1 3 1 0 0 1 0 0 0 4 0 1-1 1 0 1 1 0 0 2-1 0 0 0 0 2 0 1 1 2-1 1 0 1 0 5 0 0 1 2 0 0 0 2-1 1 0 3 0 1 1 4-1 0 0 8 0 4 0 3 1 4-1 12 1 22 0 9-1 10 1 1-1 3 1 6 0 2-1 0 1 2-1 4 0 1 0 3 0 0 1 1 0 2-1 1 0 0 0 0 1 2-1 0 0 1 1 1 0 2-1 3 0 1 1 11-1 1 1 4-1 0 3-2-1 0 1-1 0-2 0-3 0-1 0-1-1 0 1 0 0-1 0-2 0-1-1 0 0 0 0 0 0 0 0 0 1-1-1 0 0 0 1-1 0-1-1 0 1-1 0-3-1 0 1 0 0-2 0-1 0-2-1 0 0-2 0-3 1-1 0-6-1 0 1-1 0-3-1-3 1-2 0-1-1-2 0-11 1-18 0-3-1-2 1-11 0-1 0-2-1-5 0-3 1-2-1-2 1 0 0-6-1-1 1-2-1-6 1 0 0-2 0-2-1-2 0-5 1-1 0-4 0-1 0-1 0-1-1 0 1-5 0-4-1-1 0-2 0 0 0 0 1 0 0 0 0 0 0-1 0-1 0-1 0-1-1-1 1-1 0-1-1 0 1 0 0 0 0-1 0-2 0-2 0-2 0-2 0-3-1-14 0 0 1-1 0-2-1-26 1-7-1-9 0-2 1-7 0 0 0-2-1-1 0-1 1-1-1-1 0-1 1-4-1 0 1-2-1-2 0-1 1-4 0-2-1 0 1-3-1-1 0 0 1-1 0-3 0 0 0-1-1 0 1-1-1 0 1-1-1-2 1-1-1 0 0-4 1-3-1-2 1-1-1-6 1 0 0-2-1 0 1-3-1 0 1-1 0-1-1 0 0 0 1-1-1-3 0 0 0 0 0-1 0 0 1 0 0 0 0-2-1-1 0 0 1-1-1 0 1-1-1-2 0 0 1 0 0-1 0 0 0 0 0 0 0-1-1 0 0-1 0 0 0 0 1 0 0-1 0 0 0-2 0 0 0-2-1 0 0 0 0-1 1 0-1 0 0 0 1-1 0 0 0 0 0-1 0 0 0-2 0-1 0 0-1 0 0-1 0-1 1-1 0-1-1-1 1-1 0-10-1 0 1-5 0-1-1-1 0 0 1-2 0-1 0-8-1-2 1-1-1-3 0-1 0-16 1-2 0-23 0-3-1-1 0 0 1-1-1-1 0-1 0-1 0 0 1 0 0-2 0-1 0 0 0-1-1 0 1-1-1-1 0 0 1-1-1-2 0-1 0-1 0-1 0-1 0-1 0-1 0-2 0 0 0-41 0-2 1-1-1-2 0-1 0-3 1-1 0-3 0-3 0-6 0-25 2 18 0 1-1 5 0 0 1 11 0 0 0 3-1 0 1 4 0 2-1 1 0 0 1 43-1 4 0 3 1 1-1 0 0 2 0 1 1 0 0 1-1 0 1 1-1 0 0 1 0 1 0 3 0 3 1 7-1 20 1 1-1 1 1 0 0 1 0 2-1 2 0 5 0 9 1 3-1 4 0 3 0 0 0 4 0 1 0 0 1 1 0 1-1 0 1 2-1 1 1 1 0 4 0 1-1 1 0 0 1 1-1 1 1 5-1 0 0 1 0 0 1 1-1 0 1 1-1 1 0 0 0 1 0 0 1 1 0 2 0 3-1 0 1 1-1 0 0 1 0 2 0 0 0 0 0 0 1 1 0 1-1 0 0 0 0 1 0 1 1 0 0 0 0 1-1 0 1 2-1 1 0 1 1 1-1 0 1 1-1 0 1 1 0 0 0 1 0 7 0 0 0 0 0 1-1 0 1 1-1 2 1 6-1 2 0 3 0 0 1 1-1 1 0 0 0 0 1 3 0 0 0 1-1 0 1 2-1 1 0 0 1 1 0 2-1 0 1 2-1 1 0 1 0 2 0 0 1 0 0 3-1 8 0 0 0 0 1 1 0 1-1 4 0 3 0 2 0 4 1 5-1 2 0 6 0 1 1 4 0 25-1 10 1 6-1 4 0 0 1 1 0 2-1 0 1 1-1 1 0 1 1 2 0 1-1 2 1 1-1 2 0 1 1 1-1 0 0 1 0 1 0 2 1 0 0 4-1 1 0 1 0 0 1 3 0 5 0 2-1 4 0 4 0 2 0 2 0 0 0 2 1 1-1 1 0 0 0 3 0 3 0 1 0 4 1 1 0 8 0 1-1 1 1 2-1 2 0 3 0 2 1 31 0 1 0 6 0 12-1 0 1 3 0 5-1 4 0 4 1 1-1 0 0 0 0 1 0 0 0 0 1 2 0 0 0 0 0 1-1 1 1 1 0 2-1 0 1 1-1 1 0 1 0 1 0 2 1 2-1 4 0 0 1 1 0 1 1-1 0 0 1-3 0-1 0-2-1-1 0-1 1-1 0 0 0 0 0-2-1-1 0 0 1-1-1 0 1 0 0-2 0 0-1-1 1-2-1-1 0-1 0 0 0-2 0 0 1 0 0-1-1 0 1-1-1-1 0 0 0 0 1 0 0-1 0-2-1-11 0-1 1-1 0-8 0-13-1-5 1-4 0-4-1-14 0-2 1-1 0-2 0-1-1-2 1 0 0-6 0-5 0-9-1 0 0-1 0-1 1-6-1-2 0 0 1-2 0-9-1-1 1-1-1 0 1-6-1 0 0-1 0 0 1-1-1 0 0-2 0-2 1-2-1-1 0 0 1 0 0-1-1 0 1-3-1 0 1-1 0-2-1 0 0 0 1-4 0-11-1 0 0 0 1-1-1-2 0-3 1 0 0-2-1-9 1-25-1 0 1-4-1-2 0-1 1-9-1 0 1-3 0-1-1-1 0-2 0-2 1-4 0-2-1-6 0 0 1-3-1-4 1-3-1-3 0-3 1-1 0-2-1 0 0 0 0 0 1-2-1-9 1-1-1-1 1 0 0-1-1-1 0-5 1-1-1-3 1-1 0-3-1 0 0-2 0-1 0 0 0-2 0 0 1-1 0 0 0-3-1 0 1-1-1-2 0 0 1 0 0-1-1-2 1-1-1 0 1 0 0-1 0-1 0 0 0-1-1-1 0 0 0 0 1 0 0-1 0-1-1 0 0-1 0 0 1 0 0-1 0-3-1-2 0-2 0-1 1-2-1 0 1-1-1-2 0-1 0-3 1-1-1 0 1 0 0-1 0-1 0-1 0-1-1-4 0 0 0 0 1-3 0-2 0-3-1 0 1-1-1-3 0-3 1-1-1-2 0 0 1 0 0-1 0-2-1-1 1-1-1-1 0 0 1-1-1-4 0-2 0-4 0-14 0-6 0-1 1-8-1-1 1 0 0-1 0-1-1 0 1 0 0-1-1-1 1-3-1 0 0-1 0 0 0 0 1-9-1 0 1-23 0-9 0-4 0-2 0-1-1-2 0-1 0 0 1-2 0-1 0-1-1-1 1 0 0 0 0-3-1-2 0-2 0-7 1 1 1 1 1 2-1 2 0 0 1 5-1 0 0 2 1 1 0 0 0 2-1 0 1 0 0 1-1 1 1 0 0 1-1 1 0 1 1 0 0 2 0 1-1 1 0 0 0 1 1 2-1 36 0 3 0 6 0 0 1 1-1 0 1 1-1 0 0 0 0 1 1 1 0 1 0 4-1 0 1 2 0 1 0 3-1 3 1 3 0 17-1 1 0 2 0 1 1 3 0 0 0 1 0 2 0 4-1 2 1 9-1 0 0 0 1 1-1 0 0 0 1 2 0 3 0 3-1 2 1 1-1 2 0 0 1 1 0 1 0 0 0 2 0 1-1 1 1 5-1 0 0 0 0 0 1 1-1 0 1 0 0 1 0 2-1 2 1 2-1 1 0 1 0 0 0 1 0 0 1 4 0 0 0 2-1 2 1 1 0 1-1 0 1 3-1 1 0 2 1 3-1 0 1 2 0 4 0 0 0 1-1 2 1 5-1 2 0 1 1 5 0 3 0 3-1 1 1 1-1 2 1 1 0 1 0 2-1 0 1 2-1 0 1 5 0 7-1 0 1 2 0 1-1 0 0 2 1 3 0 1-1 1 1 1 0 2-1 2 1 1 0 3-1 2 0 0 0 2 0 3 0 7 1 1-1 4 0 1 1 1 0 3-1 14 1 13 0 4 0 0 0 1 0 2 0 3 0 3-1 2 0 5 0 0 0 4 1 2 0 4 0 3-1 0 0 1 1 1-1 2 1 3-1 0 1 4-1 0 0 3 1 1 0 1-1 0 1 2 0 2 0 1 0 6-1 8 0 5 1 7 0 3 0 4 0 6 0 1 0 14 0 13-1 4 0 8 1 1-1 2 1 7-1 3 0 2 1 2-1 1 0 0 1 1 0 6-1 2 1 1 0 0 0 3-1 1 0 0 1 0 0 0 0 1-1 0 1 4-1 1 0 0 0 2 0 1 1 1 0 1-1 0 0 1 0 0 0 0 1 0 0 1 0 1-1 0 1 2-1 2 0 2 0 1 1 1 1-3 0-2 0 0 1-1-1-1 1-4-1-1 0 0 1-1-1-1 0 0 0 0 1-1-1 0 1-1-1 0 1-1-1-1 1-1-1 0 0-2 0-2 1 0 0-3-1 0 1-2 0 0 0-1-1-1 0 0 0 0 1-2-1-1 0 0 0 0 0-1 1-2 0 0 0-1-1-1 1 0 0-1 0-2 0-1 0-5-1-1 0-2 0-5 0-36 0-3 0-5 1-2-1-4 1-11-1-4 0-3 0 0 1-1-1-6 0-4 1 0-1-5 0 0 1-1-1-2 0 0 1-2 0 0 0-1-1-1 0 0 0-1 0-1 1-4-1-1 0 0 1-2 0-4 0-1 0-2-1-3 0-1 0-4 1-1-1 0 1-12-1-3 0-12 0-11 1-16 0-9-1-1 0-1 0-1 1-1-1-2 1-8-1-3 0-2 0-1 1-2 0-7 0-2-1-2 1-3-1-1 0-1 1-1 0 0 0-1-1 0 1 0 0-1-1 0 0-3 0 0 0-1 0 0 1-1 0-1 0-2-1-1 1-2-1-9 0-4 0-2 0 0 1-1-1-1 1-2 0-1-1-1 1-4 0-1 0-1-1 0 1 0 0 0 0-2 0 0 0-1 0-2-1 0 0 0 1-1 0 0 0-1-1 0 1 0 0-1-1-1 0 0 1 0 0-1 0-1 0-1-1 0 1 0 0-1-1-3 0 0 0-1 0-3 0 0 0 0 0-5 1-1-1 0 0 0 1 0 0-1-1 0 1 0 0-1 0-2-1 0 0-1 1 0 0-1 0-1-1 0 0-1 1-2 0-1-1 0 1-1-1 0 0-1 0 0 0 0 0-5 0-1 0 0 1 0 0 0 0-1 0 0 0-1 0-1-1-1 0-1 1-2 0-1 0-1-1-1 0 0 1-2 0-3 0-1-1-4 1-1 0-2-1 0 0 0 1-2-1 0 1-1-1-1 0-1 0-5 1-13-1-1 1-9 0-2-1 0 1-2 0-1-1 0 0-4 1 0 0-2-1-3 1-4-1-1 0-4 1-2-1-22 0-3 1-4 0-1 0-2 0-3 0 0 0-2-1 0 1-1-1-1 1-1-1 0 1-1-1 0 0-1 0 0 0 0 0 0 1 0 0 0 0 0 0-1 0 0 0 0 0 0 0-1 0-1 0-1-1 0 1-2 0-1-1-2 0-2 1-2-1-1 1-8-1-6 3 7-1 3 0 3 0 0 0 2 0 0 0 1 1 0 0 3-1 1 0 0 1 0 0 1 0 1 0 0 0 1-1 0 1 0 0 1 0 0 0 2-1 0 1 1-1 0 1 2 0 1-1 0 1 1 0 1 0 0 0 1-1 0 0 0 1 0 0 2-1 0 1 1-1 1 0 0 0 0 1 1-1 1 1 0 0 3-1 0 0 2 0 37 1 1-1 2 1 2-1 1 0 2 1 2-1 2 1 17 0 0-1 11 1 4-1 0 1 3 0 0 0 1-1 5 0 1 1 1-1 3 0 1 0 0 1 0 0 1-1 0 0 2 1 1 0 1-1 0 0 0 1 1-1 0 1 1-1 0 0 0 1 0 0 1-1 0 0 0 0 1 0 1 1 1 0 1-1 2 1 0 0 3 0 1-1 0 0 0 1 1-1 3 1 3-1 2 0 0 1 1 0 1-1 1 0 0 0 0 1 1 0 0 0 1-1 2 0 1 0 1 0 0 1 1-1 0 1 1 0 1 0 1-1 1 1 1 0 1-1 0 1 2-1 2 1 0 0 0 0 1 0 3 0 1 0 1-1 0 1 1-1 0 0 0 1 0 0 1 0 2-1 0 1 1-1 0 1 0 0 1-1 2 1 4-1 2 1 1 0 1-1 1 1 1-1 0 1 0-1 1 1 4-1 0 0 0 0 1 0 0 0 10 0 3 0 0 0 0 0 0 0 0 1 3 0 0 0 2 0 1 0 0-1 0 1 1-1 2 0 0 0 0 1 1-1 0 1 3-1 7 0 6 0 2 0 4 1 1-1 0 0 0 0 3 1 2 0 0 0 1 0 4-1 0 0 5 1 1 0 14 0 9-1 12 0 0 0 8 0 11 1 3-1 0 1 2 0 1 0 1-1 5 0 0 1 3 0 2-1 0 0 0 1 2-1 1 1 1 0 3 0 3 0 3-1 3 0 6 1 4-1 8 1 1-1 0 0 2 0 2 1 2 0 1-1 0 0 0 1 1 0 5-1 9 1 1-1 16 0 23 0 18 0 2 0 0 0 2 1 0 0 1 0 1-1 0 1 3 0 1-1 1 1 1-1 2 1 1-1 6 0 3 1 0 0 2 0 3-1 1 0 1 1 1 0 2 0 1-1 3 0 0 1 2 0 1-1 1 1 4 0 0 1-2 0-1 0-3 1-2-1 0 0 0 0-3 1-5-1-2 0-1 0 0 1-5 0 0-1-5 1-3-1-2 0 0 1-2 0 0 0-2-1-6 1-14 0-37-1-5 0-19 1-1 0-2-1-3 0-10 0-5 0-1 0 0 0-2 1 0 0-1-1-2 0-1 0-1 0-1 0-5 0-2 0 0 1-3-1-1 0 0 1-1-1 0 0 0 0-1 0-1 1-3-1 0 0-4 1-10-1-4 1-2 0-5-1-15 0 0 0-15 1-2-1-4 0-14 0-5 0-1 1-1-1-3 1-2-1-4 1-3 0-1 0-4 0-1-1 0 0-1 1-1 0-4 0-2 0-1 0 0 0-1-1-1 0-2 1-1-1-1 0-1 1-2 0-1-1-5 0-1 0-1 1-2 0-1-1-1 1-1 0-1 0-2-1 0 1-1-1-1 0-1 0-1 0 0 0-1 0-2 0-4 1-4 0-1-1-2 0 0 1-4-1 0 0-1 0-1 1-3 0-3 0-3-1 0 0 0 1-1 0-1 0-1 0 0-1 0 1-1-1 0 1 0 0-3-1-1 0-1 0-2 0 0 0-1 1-1-1 0 0-1 1 0 0-2-1-1 0 0 0 0 1-1-1-3 0-1 0 0 1-1-1 0 1-1-1-1 1 0 0-1-1 0 1-1-1-2 1-1-1 0 1-1 0-1-1 0 1-1-1-1 0-1 1-1-1-3 0-1 1-1-1-3 1-2-1 0 0 0 0-2 0-4 1-3-1-1 0-5 1-5 0-7-1-20 0 0 1 0 0-4-1-2 1-16 0-27-1-3 1 0 0-1-1 0 0 0 1-1 0 0 0 0 0-2 0-1-1 0 0 0 1-2 0-1 0 0 0-1 0-1-1 0 1 0 0-1 0-1-1 0 0 0 1-5-1 0 0 0 1-1-1 0 0-2 0-3 0-1 1-3 0 5 2 2-1 1 1 3-1 0 0 0 1 1-1 2 1 1-1 0 1 1-1 2 1 1-1 0 0 0 0 0 1 0 0 1 0 0-1 0 0 1 0 0 0 0 1 1-1 0 1 1-1 0 0 0 1 1-1 0 1 0 0 1-1 0 0 3 1 0 0 1-1 1 1 2-1 2 1 4 0 38 0 0-1 9 0 16 0 10 1 4 0 2-1 0 0 1 1 2 0 1-1 1 0 1 0 0 0 0 1 1 0 2 0 0 0 1-1 1 0 1 0 0 1 0 0 1-1 1 1 4-1 1 0 0 0 2 0 1 1 1-1 0 1 1 0 1-1 0 0 3 0 0 0 0 1 1-1 0 1 1-1 0 1 0-1 1 0 1 0 0 1 1-1 2 1 0 0 5-1 1 0 0 1 0 0 0 0 1 0 1-1 0 1 1 0 0 0 1 0 1 0 0 0 0 0 1 0 1-1 0 0 0 0 1 1 1-1 1 0 2 0 2 0 0 0 0 1 1-1 0 0 0 1 1-1 1 0 0 1 0 0 0 0 0 0 2-1 2 0 1 0 0 0 1 0 2 1 1 0 1-1 0 0 0 0 0 1 5 0 1-1 0 0 4 0 0 0 2 0 2 0 0 0 4 1 1 0 0 0 2-1 0 0 3 0 0 1 2-1 0 0 0 1 1 0 0 0 1 0 1 0 4 0 1-1 1 0 1 0 0 1 1-1 0 1 2 0 0 0 3 0 3 0 0 0 3-1 0 0 1 0 1 0 0 0 3 0 1 0 0 0 2 1 2 0 0 0 2-1 1 0 2 1 3-1 2 0 2 0 1 0 0 1 11-1 20 0 1 0 1 0 5 0 3 1 30-1 0 1 2 0 6 0 6-1 0 1 2 0 1-1 0 0 1 0 1 1 0 0 1-1 0 1 3 0 1-1 4 1 5 0 2-1 3 1 1-1 1 1 3-1 3 0 11 0 13 0 2 0 2 1 1 0 1-1 0 1 3-1 2 1 1 0 2 0 1 0 4 0 7 0 10 0 24 0 3-1 0 1 1-1 0 0 7 1 3 0 2-1 1 0 1 0 1 1 3 0 1-1 9 0 0 1 2-1 0 1 1-1 1 1 2 0 3 1-2 1-1-1-3 0-2 1-6 0-2-1 0 1-2-1-2 0 0 1-1-1-5 1-2 0-4 0-10-1-3 0-33 0-2 0-36 0-32 1-1 0-1 0-3-1-2 1 0 0-1 0 0 0 0 0-1 0-3-1-8 0-4 1-3-1-15 1-18-1-9 1-1-1-3 0-18 0-2 0-4 0-5 1-4-1-1 0-1 0-2 0-2 1-1 0-4 0-2-1-4 0-2 0-1 1-1 0-5 0-2 0-1-1 0 0 0 0 0 1-2-1-1 0-1 0 0 0 0 1-1 0-2-1-3 0-2 0 0 1-2-1-1 0-1 1-5-1-10 0-2 1-1-1 0 0-1 0 0 0 0 1-2-1-2 1-1-1 0 0-1 1-1-1-2 1-2-1 0 1 0 0-1 0 0 0 0 0-6 0-1-1 0 0 0 1 0 0-2-1 0 1 0 0-2-1-1 0 0 1-1-1-2 0-1 0 0 0-1 0 0 1-1 0-1-1 0 1-1-1 0 1 0 0-2-1 0 1-1-1 0 1-1-1 0 1-1 0-1-1 0 0 0 1-1-1-1 0 0 1-1-1 0 1-3-1-1 0 0 0-1 1-4 0 0-1-3 0-2 1-1-1 0 1-1-1 0 1-3-1-2 1 0 0-1-1-1 1-3-1 0 1 0 0-2 0-8-1 0 1-7-1-8 0-5 0-12 0-34 1-4-1-5 0 0 0 0 0-1 1-1-1 0 1-3-1 0 1 0 0-1-1 0 0 0 1-1-1 0 0 0 1-1-1 0 1 0 0-1-1 0 1 0 0 0 0 0 0-1-1-1 1-1-1 0 0-1 0 0 0-1 0 0 1-1 0 0 0-4 0-2 0-2-1-41 1 43 1 2 0 1 1 2-1 3 0 0 1 1-1 1 0 0 1 0 0 0 0 1-1 1 1 0-1 0 0 1 0 0 0 0 0 0 1 0 0 2 0 0 0 1-1 0 0 0 0 0 0 0 1 2-1 0 1 1-1 0 0 3 0 1 1 2 0 0 0 3-1 0 0 0 0 2 0 43 1 5 0 14-1 5 0 10 0 2 0 3 1 0 0 1-1 1 0 1 1 1 0 0 0 1 0 0 0 4 0 1-1 5 0 1 0 0 1 2-1 0 0 0 0 1 1 2-1 2 0 0 0 0 1 2 0 2 0 0 0 2 0 1-1 1 1 0 0 1-1 0 0 2 1 1-1 2 0 1 1 2 0 4-1 0 1 1-1 0 0 0 0 1 1 2 0 1-1 0 1 1 0 0 0 1-1 0 0 2 0 0 1 0 0 4-1 1 0 0 0 0 1 1 0 1-1 3 1 3 0 0 0 2 0 2-1 2 0 3 0 1 1 2-1 1 0 0 1 5 0 0 0 1-1 2 0 1 1 1 0 2 0 1-1 0 1 3-1 0 1 1-1 0 0 0 0 1 0 0 1 0 0 1 0 2-1 1 0 1 0 1 0 1 1 0 0 6-1 0 1 2-1 0 0 1 0 1 0 0 1 0 0 2 0 1-1 1 0 0 0 0 0 0 0 2 0 0 0 0 1 2 0 1-1 0 1 0 0 1-1 1 0 0 1 0 0 2-1 0 1 2-1 7 1 3-1 0 0 5 1 1 0 23-1 10 0 2 0 18 0 0 1 1-1 3 1 3 0 7-1 10 1 0 0 2 0 1 0 1 0 2 0 11-1 5 0 1 0 0 1 1 0 6 0 4 0 2-1 12 1 13-1 6 0 55 0 6 0 6 0 1 1 9-1 8 0 1 1 3-1 1 1-3 2 0 0 0 0-1 0-3-1-1 1-2-1-2 0-1 0-1 0-5 1-2-1-6 1-6-1-16 0-19 0-23 0-19 1-4-1-27 1-8-1-1 0-4 0-4 1-1-1-7 0-6 0-1 1 0 0-3-1-7 0-25 0-16 1-15-1-5 1-4-1-3 0 0 0-1 0-2 1-1 0 0 0-2-1 0 1-1 0 0-1-1 0 0 1-1-1 0 1-2 0-1-1-1 1 0 0-1-1-1 1 0 0-11 0-1-1-2 0 0 1-1-1-1 0-2 1-2 0-3-1-4 0-6 1 0 0-7 0-1 0-1-1-4 0 0 1-1-1 0 1-2-1 0 1-1 0-2 0-1-1 0 0-2 1-1-1-2 1 0 0 0 0-2-1 0 1-1-1-1 0 0 0 0 1 0 0-1 0-2 0-3-1-5 0 0 0-3 0 0 1-5 0-2-1 0 0 0 0 0 1-2-1-4 0 0 0-1 1-1 0-1-1-1 0 0 1-1-1 0 0-1 1-1-1 0 1-2-1 0 1-1-1 0 1-1-1-3 1-3-1-1 0 0 1-1-1-2 1-3 0-1-1-1 1-1-1-7 0-9 0-14 1-20 0-32 0-8-1-2 1-1-1 0 0 0 0-2 0-1 0-1 0-1 0 0 0-1 0 0 1-1-1 0 1-1-1-1 0-1 0-2 0 0 1-1 0 0 0-4 0-4 1 2 1 3-1 0 1 3-1 0 0 0 0 2 0 2 0 0 1 1 0 1-1 0 0 2 1 4-1 0 0 1 0 3 0 0 0 2 1 0 0 1-1 44 1 1-1 23 1 6-1 12 0 1 1 1-1 1 0 2 1 3-1 1 0 1 0 1 0 2 1 3 0 3-1 0 1 2-1 0 0 1 0 2 1 1-1 0 1 0 0 1-1 1 0 2 0 0 0 0 1 1-1 1 1 4 0 1-1 0 0 0 1 6-1 3 0 0 1 3 0 1 0 2-1 1 1 1-1 1 0 2 0 2 1 1-1 3 0 0 0 1 1 1-1 0 0 0 0 0 1 1-1 0 0 0 0 1 0 1 1 1-1 0 1 2-1 0 0 2 0 1 1 1-1 1 0 0 1 3 0 0 0 0 0 4-1 1 0 0 0 2 1 1-1 2 0 4 1 0 0 1-1 1 1 2-1 1 1 2-1 2 0 0 0 4 0 0 1 0 0 0 0 1 0 1-1 0 0 0 1 3 0 0 0 3 0 1 0 3 0 2-1 0 1 3-1 1 1 1-1 1 1 1-1 0 0 0 1 2-1 2 1 1-1 0 0 0 1 4-1 1 0 2 0 4 0 13 0 3 1 5 0 32 0 2 0 5-1 6 0 3 1 7 0 9 0 9-1 1 1 1-1 7 0 4 0 6 0 2 1 10 0 23 0 1-1 21 0 12 1 7 0 4 0 18-1 0 1 2 0 3 0 11-1 0 1 8-1 5 0 0 1 5-1 2 1-1 2-13-1-17 0-101 0-15 1-20-1-11 1-3-1-31 1-2-1-6 1-14-1-17 1-3-1 0 1-1 0-1 0-3-1 0 1-3 0 0 0 0 0-1-1 0 1-1 0-1-1 0 1-2-1 0 0-4 1-6-1-3 1-2 0 0 0 0 0-2-1-2 1-1-1 0 1-1-1-1 1-1-1-1 0-2 1-2-1-1 0 0 0 0 1-1-1 0 1-2 0-1-1-1 0-1 0 0 1-1-1-2 1-2 0 0 0-1-1 0 1 0 0-1 0-1 0-2-1 0 1-3-1-3 1-2 0-1-1 0 0-2 0 0 0-2 1 0 0 0 0-2-1-1 1-5-1-1 1-3-1 0 0-3 0 0 1 0 0-1-1-2 0-4 0-4 0-3 0-3 0 0 1-1-1 0 1-1-1 0 0-3 1-1-1-1 1 0 0-1-1-2 0 0 0-2 1 0 0-2-1 0 1-1 0-12-1-1 1-3-1 0 1-8 0-73-1-7 0 0 1-1 0-1 0-1 0-1-1-3 1 0 0-6 0-1-1-5 0-1 0-1 0-3 1-9 1 10 0 0 0 2 1 1 0 4-1 1 0 0 1 0 0 0 0 2 0 1-1 0 0 0 0 1 0 2 0 2 1 82-1 7 1 3-1 0 1 5 0 4-1 6 1 1-1 6 0 1 0 0 1 1-1 2 1 1-1 1 0 1 0 3 1 0 0 1-1 1 0 3 1 2-1 2 0 1 1 2-1 7 1 1-1 1 0 10 0 0 1 4-1 0 1 0 0 1 0 1 0 1-1 1 0 1 1 2 0 3-1 2 0 1 0 4 0 3 1 3-1 1 0 2 0 6 0 0 1 1-1 3 0 1 0 2 0 2 0 0 1 5 0 8 0 2 0 2 0 2 0 1-1 0 1 1 0 2-1 6 0 0 0 1 0 11 1 1-1 8 0 1 0 13 1 10 0 10-1 1 1 25-1 7 1 1 0 1 0 1-1 0 1 4 0 27-1 62 1 30 0 10-1 9 0 2 0 9 1 0 0 2 0 3 0 5 2-4 0-9-1-20 1-29 0-62 0-7-1-14 1-5-1-6 0-21 1-26-1-27 1-18-1-4 1-4-1-7 1 0 0-3-1-4 0-2 1-2 0-9 0-2 0-1-1 0 1-1 0-3-1 0 1-1 0-1 0-1 0 0 0-1 0-3 0-2-1-1 1 0 0-1 0 0 0-2 0-2-1 0 0 0 0-1 0 0 1-4-1 0 1-1 0-8 0-1 0-1 0-2-1-1 0 0 1-1-1 0 0 0 1-1 0-8 0 0 0-2-1-2 0-1 0-5 0 0 1-11-1 0 0 0 0 0 1-2 0-1-1-5 0-2 0 0 1-4 0-10 0-1 0-2-1-1 0 0 1-4 0-1-1-2 0-1 0 0 0-1 1-3 0 0 0 0 0-80-1-2 1-2 0-6 0-2 0-4-1-2 0-1 0-2 2 1 0 3 1 0-1 2 0 1 1 2 0 92-1 3 0 2 1 15-1 3 0 6 0 1 0 0 1 2-1 2 0 1 1 3-1 0 1 2-1 2 1 2 0 2 0 1 0 3 0 3-1 0 0 0 1 5 0 13 0 2-1 10 1 3-1 2 0 0 1 1-1 1 1 0 0 2-1 0 1 1 0 6-1 0 0 1 0 0 1 1 0 4-1 0 1 1 0 3 0 1 0 1 0 1 0 1 0 7 0 2 0 6-1 1 0 1 1 2-1 4 1 3 0 9-1 7 0 22 0 17 0 2 1 10-1 12 0 3 0 11 1 13 0 39 0 5-1 3 0 0 0 23 1 4 0 40-1 1 0 16 2-4 0-14 1-17-1-3 1-25 0-10 0-8 0-22 0-32-1-8 0-3 1-5-1-38 1-43 0-4-1-2 0-3 0 0 0-2 1-30 0-3-1 0 0-2 0-3 1-2-1-2 1-3-1-3 0-2 0-4 1-1 0-1 0-3 0-5-1-5 0-10 0 0 0 0 0-2 0-1 0 0 1-2-1-1 0-3 0 0 0-1 0-2 1-1-1-1 0 0 0-1 0-6 0-6 1-3-1-9 1-15 0-90-1-1 1-4 2 1-1 4 1 1 0 1-1 3 0 86 0 19 1 0 0 1 0 2 0 3-1 0 1 1 0 2-1 2 0 2 0 3 1 0 0 2-1 0 1 1 0 1-1 4 0 0 1 3-1 1 1 1-1 8 1 8 0 9 0 4-1 4 0 0 0 4 0 0 0 2 0 1 1 0 0 4-1 0 1 1-1 10 1 13 0 9-1 1 0 0 1 3-1 3 1 1 0 13 0 34 0 26 0 16 0 2-1 4 0 7 1 9 0 29 0 24-1 55 0 12 1 1-1 23 1-30 2-40 0-61-1-6 1-11-1-12 0-33 1-14-1-19 0-7 1-10 0-18 0-4 0-8-1-15 0-2 1-4 0-1-1-2 0-2 1-7-1-9 0-1 0 0 0 0 1-1 0-10 0-2-1-6 0-2 1-1-1 0 1 0 0-5-1-1 1-2 0-2 0-3 0-1-1 0 1-2-1 0 1-2 0-8-1-1 1-3-1-9 0-3 1-7-1-99 0-6 2 92 0 19 0 2 1 8-1 2 1 7 0 7-1 10 1 1-1 1 0 1 1 1-1 0 1 10 0 7 0 4 0 12-1 3 1 1-1 5 1 0 0 1 0 4 0 10-1 21 1 31 0 6-1 1 0 63 1 2 0 8-1 15 1 15-1 34 0 6 0 46 1 10 0 25 0 5 1-100 1-13 0-39 0-33-1-31 1-15-1-26 0-7 0-6 1-4 0-7-1-8 0-4 0-3 0-6 1-3-1-5 1-1 0-1-1-13 0-1 0-2 1 0 0-17 0-5 0-3-1-10 0-1 1-2-1 0 1-2 0-2-1-6 0-53 1 38 2 2-1 14 1 0 0 10 0 2 0 1-1 5 0 2 1 0 0 1 0 2-1 5 1 1 0 7-1 2 0 6 0 10 0 6 0 7 1 4-1 5 1 19 0 6 0 6-1 2 1 35 0 6-1 1 1 106-1 40 1 24 0 7 0 43 2-2-1-15 0-37 1-1-1-36 1-19 0-35-1-65 0-7 1-61 0-21-1-11 1-8-1-1 1-5 0-9-1-4 0-4 1-1-1 0 1-1-1-6 1-7 0-2-1-2 0 0 1-4 0-1-1-2 0-10 1-3-1-125 1 29 2 113-1 1 1 25-1 12 1 5-1 16 0 17 1 10-1 177 1 48 0 9-1 30 0-111 3-130-1-31 1-18-1-40 0-4 1-7-1-64 0-52 1 39 2 42 0 23 0 9-1 18 0 14 0 2 0 35 1 11 0 101 0 131 0 30 2-242-1-34 1-6-1-11 1-55-1-4 0-3 0-130 0 151 2 5 0 3 1 8-1 37 3-46 0-23-1-58 0-5 2 57 1 11-1 356 2-307 1-17 0-39-1-60 3 36-1 186 1 203 6-265-1 1 4-56 3 132-1 22 3-255 2 394 1-191 1-221-1 337 4-394 3 504 2-369 1 118 0 21 2-249 2 466 5-185 4-189 1 279 5 39 9-435 2 48 3 108 4 142 3-262 4 56 1 318 2-239 9 279 21-233 9-220 7" fill="none" marker-start="url(#g)" marker-mid="url(#g)" marker-end="url(#g)"/><path transform="scale(0.5)" d="m306 807 62 3 24 3-27 1-8 9 2 6 72 7-66 5 243 19-19 32-174 2-19 0-41 14 10 1-12 4-1 2 11 1 16 0 18 0-25 6 188 9-29-1-53 1-119 2 77 0-81 2 112 4-104 0-24 0 265 4-249-1-13 3 6-1 15 1 27 2 62 2 43 0-43 3-98 7-2 1 190 0-95 2-62 1-205 0 167 1 21 0 110 3-86 0-221 0 181 1 188 1-69 1-123 1 6 1 102 1 46 0-34 2-110-1-6 0-3 3 131 1-112 1-16-1 0 0-12 1 1 1 59 0 65 0 83 3-84 0-102 0-18-1 2 3 11-1 7 1 110-1 85 0-4 3-56-1-30 0-75 0-49 1-2 1 15 0 53 0 59 1-116 1 271 4-121 0-136 1-7-1-9 1-33-1-114 3 152-1 112 1 82 0-266 4 75-1 2 0 2 0 31 0 104 0 104 0-244 2-4 0-4 1-14 0 17 1 32 0 183 1-97 2-114-1-8 1 18 2 9-1 4 0-2 2-11 1-5-1-24 0 17 2 3 1 1-1 4 1 2-1 14 0 89 0 24 0 38 0 60 0-84 3-67-1-101 0-142 1 164 2 11 0 6 0 12-1 85 0 114 1-49 2-74-1-34 0-50 0-12 1-13 0-48 0 23 1 19 1 6 0 2-1 6 1 2-1 7 1 0-1 117 1 28-1 42 3-126 0-70 0-4-1-10 0-6 3 1-1 2 0 52 1 172-1 58 1-51 2-59 0-137-1-60 0 14 2 14 0 2 0 15 0 17 1 82 0 7 0 137 2-68 0-14 0-36-1-129 0-24 0-12 3 12-1 31 1 36 0 25-1 28 0 18 1 118-1-207 2-10 1 0-1-22 0-26 1-106 0 111 2 7-1 8 0 16 1 58-1 181 3-224 0-16 0-3 0-20 0 0-1-25 3 40 0 0-1 3 0 3 1 2-1 1 1 32-1 0 1 33 0 84-1 55 0 18 1-18 1-195 1-1 0-16-1-24 2 21 0 20 0 81 1 51-1 125 2-86 0-49 0-25 0-47 1-43-1-23 1-6-1-20 2 4 0 13 1 12-1 8 0 5 0 144 1 84 2-8-1-15 1-219-1-6 1-14 0-30 1 30 0 4 0 10 0 4 1 5 0 25 0 93-1 5 0 78 1 46-1-120 2-66 1-28-1-15 1-1-1-2 0-1 1-7 0-2-1-8 0-3 1-12-1 7 2 0 1 7-1 4 0 8 1 30 0 68-1 102 1 10 0-16 2-33 0-26 0-11 0-122 0-10-1-2 1-95 0 69 2 7 0 8-1 0 0 7 1 11-1 13 0 48 0 79 0 28 1 4 2-54-1-111 1-5-1-23 1-2 0-7 0 0-1-10 0-11 2 44 1 6-1 19 0 187 1 27 0-18 1-27 0-46 0-114 0-12 0-21 0-3 0-1 1-2 0-11-1-5 1-12 1 7 0 27 1 220 1-15 1 0-1-190 0-23 0-45 1-56 2 78-1 10 1 15-1 1 0 23 0 49 1 9 0-57 1-9 1-1-1-19 0-2 0-22 0 8 2 4 0 5 1 8 0 20-1 8 1 241 0-248 1-1 0-6 1 0-1-4 0-16 0-10 3 10-1 7 1 5 0 1-1 7 0 10 3-13 0-8-1-9 0-19 0-65 0 3 2 76 0 9 1 2 0 37 0 2-1 55 0 100 0 52 0 17 1-13 2-229 0-17 0-11-1-27 3 12 0 16-1 15 1 1-1 43 0 63 0 14 0 9 0 89 0 22 3-66-1-66 1-101 0-15 0-3-1 0 0-3 1-12-1 0 1-133 0-12 0 126 1 23 0 1 1 10-1 0 1 4 0 14-1 161 0 54 0-183 3-16-1-18 0-12 0-7 1 0-1-76 0 54 2 36 1 2-1 1 1 3 0 6-1 9 1 3-1 105 1 68-1 63 3-254-1-3 2 2 0 204 0-117 2-99 1-154-1-2 0 130 3 1-1 6 1 267 2-60 0-169 0-1-1-9 1-44 1 12 0 15 1 2-1 22 0-1 2-18 0-35 2 30 0 8 0 13 1 177 1-140 1-13 0-32-1-8 0-38 1-73 2 100 0 32 0 4-1 95 1 78-1-190 3-10-1-9 1 13 2 14 0 201 0 10 0-176 1-51 1-16-1-4 0 5 2 24 1 5 0 132-1-124 3-9 0-9-1-1 1 5 2 18-1 171 1 86 0-258 1-31 0 24 3 92 0 153 1-178 1-67 2 36-1 142 0 12 3-226 1 6 1 177 2-37 0-124 0-102 2 59-1 111 0 207 1-258 1-28 0 293 2-294 2 17 3 14 0 12 2-53 0 213 4-121 4-258-1 56 3 189 2-75 0-3 2 23 0 8 0 55 1-53 3 142-1-73 5 139-1-148 2-139 1 180 4-197 1 105 3-67 0-137 1 185 0 18 0 5 3-34 0 4 2 53-1-62 3-163 1 177 0 3 1 10-1 10 0 3 1 55-1 130 3-213 0-30 1 68 0 12 2-106 3 79-1 45 0 222 0-257 2 12 3 210 1-105 0-141 0-142 2 131 1 61-1 37 2-61 1-39 0 20 1 0 0 227 0-197 2-17 0-34 0-27 1 66 2-20 2 256 1-420 2 133 3 24-1 57 1 128 2-186 0-69 1 26 1 43 0 25 0 101 0 151 2-183 0-74-1-76 1 42 2 14-1 33 0 146 3-168-1-7 0 10 2 3 3-7-1-3 0-13 1 9 2 10-1 23 3-16 0-25 0-28-1-4 1 37 2 8 0 2 0-6 2-67-1 53 3 121 0-111 1-114 0 129 2 130 3-99-1-43 1-45 2 281 2-214 0-16 1 3 1 99-1-98 3-15 0-37 0-20-1 214 3-135 3 34 1-31 2-10 0 13 4-17 3-6 1 182 8-222 0 45 3-189 1 184 1 19 0 243 2-162 2-103 5" fill="none" marker-start="url(#N)" marker-mid="url(#N)" marker-end="url(#N)"/><path transform="scale(0.5)" d="m1072 781-19 3 17 2-10 3 19-1-4 3-11-1 246 3-242 1 32 5-113 1 93 1-39 4 30-1-38 11-41-1 63 2-15 8 5 6-2 3 7 0-2 1-14 30-150 29 294 8 130 4-45 2-109 4 19 6 107 3 46 4-295 12 20 1-3 5-3 3 8-1 1 0 128 3-40-1-88 0-1 0-6 3 0 0 6 0 133 0-139 1-5 1 6 2 1-1 9 0 4 1 1 0-18 2 4 1 66 1 225 0-14 1-29 0-236 0-6 1-10-1 12 2 286 2-290 3 62-1 50 3-104-1-9 1-9 2 25 0 115-1-82 2-30 1-22-1-1 1-5-1 10 2 5 0 3 0 4 1 33 0 95-1-99 2-32 1-3 0-2-1 0 1-2 0-5 2 4 0 5-1 1 1 6-1 37 0 253 3-291-1-12 0-1 0-2 0 0 1-1 0-94 1 102 1 4 1-5 1-4 1 9 0 6 0 74 2-86 1-8-1 7 3 144 0 133 0-59 1-214 0-2 1-2-1-5 3 20 0 43 0 43 0 30 0-29 2-32 0-54-1-19 1-100-1 116 3 6 0 37 0 191 1-168 0-70 1-156 0 149 2 4 0 2-1 71 1 136 0 30-1-202 2-19 0-3 0-6 1 0 0-5-1 0 3 34 0 8 0 170 2-75 0-124 0-7 0-82 2 66-1 2 0 4 0 6 0 245 3-158-1-39 0-49 1-4 0-1 0 0 2 8-1 42 1 64-1 101 0 4 1-21 1-56 1-139 0-5 0-5 0 10 2 111 0 33 0 61-1 52 0-4 3-30 0-93 0-120 0-12-1-8 2 9 0 1 1 100 0 94 0 46 0 1 0-240 1 0 0-3 1-181 0 178 1 2 0 244 2-69 0-168 1-7-1-2 1 9 1 36 0 20 0 172 0 18 3-30-1-192 0-19 1-4-1-1 0-1 1-2 0-102 2 98-1 3 1 3-1 3 1 11-1 20 1 32-1 176 0-27 2-164 0-20 0-25 1-1 0-17 0-205 2 214 0 40-1 15 1 188-1-17 3-11 0-99 0-96-1-12 0-1 1-1 0-13-1-24 0-69 0 108 2 31 1 181-1 22 3-233 0-4 0 0-1-12 1-124 1 125 0 5 0 1 1 63 0 34 0 23 0 86-1 64 2-174 0-79 0-4 0-3 0-11 1-3-1-3 0-157 3 155-1 3 0 3 0 7 0 0 1 2 0 1 0 5-1 1 0 33 1 2 1-9 0-27 0-1 1-1-1-3 1-3-1-167 0 95 2 71 1 2 0 1 0 3 0 1 0 1-1 6 1 19-1 114 1-60 1-76 0-4 0-3 0-4 1-1 0-2-1 6 3 4 0 1-1 0 1 3 0 1 0 2 0 9-1 83 3-7-1-76 1-14-1-2 0-2 1 0-1-33 2 26 1 4 0 69 0 174 1-237 0-8 1-4-1-31 3 34 0 14 0 16-1 222 2-242 1-6-1-6 0-3 0-1 0-76 2 40 1 20 0 28-1 59 0 6 0-85 2 36 2 29 0-66 5 33-1 6 0 3 1 75 2-2-1-87 1-10 0 95 1-95 4 11 1 6 0 264-1-202 2-64 1-8 0 0 0-55-1-30 0 96 3 94 0 18 0 59 0-11 1-199 1-36 2 32-1 39 0 95 3-23 0-76 0-99-1 85 2 5 1 1-1 5 1 0 1-45 3 37-1 8 0 4 0 98 1-68 2-29-1-6 0-35 0 27 3 12-1 181 0-30 3-55-1-73 1-19-1-4 0-4 1-1-1-75 1 13 2 139 0 8 0 9 0-76 2-90 0 79 2 29 0 71-1-43 3-61-1-33 1-7 0-158-1 162 3 12-1 3 1 18-1 5 0 10 1 2 0 6 1-237 3 108 0 82 0 7 0 8 2-26 0 14 1 150 2-127 0-89 3 87-1 84 0 42 2-63 0-89 0-7 1-10-1 13 2 32 0 13 0 218 1-161 2-33-1-4 0-21 1-7-1-4 1-36-1-50 0 77 2 48 1 49 1-74 1-3-1-6 0-19 0-47 2 41 1 11-1 159 1-134 2-44 1 1 1 28-1 2 1 0-1 6 0-11 2-1 0-7 0-7 0-13 1-8 1 53 1 5 0 39-1 38 3-91 0-7-1-5 1-14 0-14 0-1 0-136 2 79-1 103 1 4 2-10 0-21 1 8 1 11 0 1-1 145 0-144 2-7 0-29 1-55 0 2 2 44 0 41-1-50 3-24-1 36 3 3-1 22 1 34-1 51 1-45 1-78 1-7 0 14 1 230 3-108-1-46 0-33 1-1 0-3 0-6 0-4 0-10-1-27 0-16 2 16 0 183 3-90 0-16 0-33-1-25 0-70 1-70-1-47 1 152 2 61-1 190 1 63-1-207 3-61 0-19-1-17 3 15 0 9 0 0 0 5 2 44 1 244 1-260 2-5 0-13 0-116 0 286 2-122 2-49-1-21 1-172 2 180 0 41-1 55 0 102 2-185 1-6 0-18-1 51 3 0-1-7 2-29 2 25 1 100-1 94 1-224 1-67 0 98 2 4 0 28 0 0 0 95 1-119 1-13 3 73 1-135 1 36 2 29 0 54 1-76 0 0 2-112 3 48 1 48 0 35 7-46-1 94 3 83 1-152 1-105 1 94 3 132 1-169 3 293 2 9 1-404 1 163 1 129 2-18 1-111 1 8 2 79 4-80 4 151 8-238 2 217 8-174 8-15 15" fill="none" marker-start="url(#N)" marker-mid="url(#N)" marker-end="url(#N)"/><path transform="scale(0.5)" d="m842 799 203 42-5 4 3 0 4 0 0 1-1 0-1 1-8 1 5 1 5-1-9 2-2 3 7 0 5 0-8 2 1 2 2 2-2-1-7 2 13 5 5-1-4 4-11 5 3 0 4 0 3 4 2-1 1 2-8 3 1 1-1 3 5 5-7 0 5 4 7 3-9 1 250 8-246 5-3 0 0 0 229 11-219 2 232 5-235 7 247 1-246 2-14 0 13 1 53 0-15 3-38-1-4 1-3 2 303 1-262 5-30-1 0 1-3-1-2 2 251 2-18 1-133-1-99 1-2 0 9 4 0-1-6 0-2 2 45 1-46 1 2 2 46 0 199 1-13 2-133 0-56 0-44-1 1 3 230 0-175 2-49 0-11 3 5 3 5 0 100-1 131 0 4 1-91 1-144 1-8 1 46 0 55 0 23 2-80 3 85 1-118 2 45 3-55 2 7 0 7 2 0 0-1-1-4 1-6 0 6 1-2 3-1 0-226 1 307 2-80 1-2 1 1 1 5 0 4 0 247-1-245 2 242 2-250 3-5 0-1 1 12 2-3 0-1 0 1 2-3 3 0 1 6 0 2 3-9 2 3 0 7 2-2 0-9-1 5 2 1 1 2-1 8 1-5 2-7 0 0 0 11 2-6 2-1 1-7 2 8 3-1 1-6 0 5 4-4 1 5 2 10 1-15 1 3 1 232 44 5 11-210 0-248 37" fill="none" marker-start="url(#G)" marker-mid="url(#G)" marker-end="url(#G)"/>
<path d="M56.52 319.50v3.5M56.52 44.50v-3.5M75.16 319.50v3.5M75.16 44.50v-3.5M112.44 319.50v3.5M112.44 44.50v-3.5M131.08 319.50v3.5M131.08 44.50v-3.5M149.72 319.50v3.5M149.72 44.50v-3.5M168.36 319.50v3.5M168.36 44.50v-3.5M205.64 319.50v3.5M205.64 44.50v-3.5M224.28 319.50v3.5M224.28 44.50v-3.5M242.92 319.50v3.5M242.92 44.50v-3.5M261.56 319.50v3.5M261.56 44.50v-3.5M298.84 319.50v3.5M298.84 44.50v-3.5M317.48 319.50v3.5M317.48 44.50v-3.5M93.80 319.50v6.3M93.80 44.50v-6.3M187.00 319.50v6.3M187.00 44.50v-6.3M280.20 319.50v6.3M280.20 44.50v-6.3M55.50 44.50h-3.5M330.50 44.50h3.5M55.50 57.00h-3.5M330.50 57.00h3.5M55.50 82.00h-3.5M330.50 82.00h3.5M55.50 94.50h-3.5M330.50 94.50h3.5M55.50 107.00h-3.5M330.50 107.00h3.5M55.50 119.50h-3.5M330.50 119.50h3.5M55.50 144.50h-3.5M330.50 144.50h3.5M55.50 157.00h-3.5M330.50 157.00h3.5M55.50 169.50h-3.5M330.50 169.50h3.5M55.50 182.00h-3.5M330.50 182.00h3.5M55.50 207.00h-3.5M330.50 207.00h3.5M55.50 219.50h-3.5M330.50 219.50h3.5M55.50 232.00h-3.5M330.50 232.00h3.5M55.50 244.50h-3.5M330.50 244.50h3.5M55.50 269.50h-3.5M330.50 269.50h3.5M55.50 282.00h-3.5M330.50 282.00h3.5M55.50 294.50h-3.5M330.50 294.50h3.5M55.50 307.00h-3.5M330.50 307.00h3.5M55.50 69.50h-6.3M330.50 69.50h6.3M55.50 132.00h-6.3M330.50 132.00h6.3M55.50 194.50h-6.3M330.50 194.50h6.3M55.50 257.00h-6.3M330.50 257.00h6.3M55.50 319.50h-6.3M330.50 319.50h6.3" stroke="#000" stroke-width="1.15" fill="none"/>
<rect x="55.50" y="44.50" width="275.00" height="275.00" fill="none" stroke="#000" stroke-width="2.2"/>
<text x="93.80" y="339.30" text-anchor="middle">−122.85</text>
<text x="187.00" y="339.30" text-anchor="middle">−122.80</text>
<text x="280.20" y="339.30" text-anchor="middle">−122.75</text>
<text x="45.90" y="74.20" text-anchor="end">0</text>
<text x="45.90" y="136.70" text-anchor="end">−5</text>
<text x="45.90" y="199.20" text-anchor="end">−10</text>
<text x="45.90" y="261.70" text-anchor="end">−15</text>
<text x="45.90" y="324.20" text-anchor="end">−20</text>
<path d="M405.52 322.20v3.5M405.52 47.20v-3.5M424.16 322.20v3.5M424.16 47.20v-3.5M461.44 322.20v3.5M461.44 47.20v-3.5M480.08 322.20v3.5M480.08 47.20v-3.5M498.72 322.20v3.5M498.72 47.20v-3.5M517.36 322.20v3.5M517.36 47.20v-3.5M554.64 322.20v3.5M554.64 47.20v-3.5M573.28 322.20v3.5M573.28 47.20v-3.5M591.92 322.20v3.5M591.92 47.20v-3.5M610.56 322.20v3.5M610.56 47.20v-3.5M647.84 322.20v3.5M647.84 47.20v-3.5M666.48 322.20v3.5M666.48 47.20v-3.5M442.80 322.20v6.3M442.80 47.20v-6.3M536.00 322.20v6.3M536.00 47.20v-6.3M629.20 322.20v6.3M629.20 47.20v-6.3M404.50 47.20h-3.5M679.50 47.20h3.5M404.50 59.70h-3.5M679.50 59.70h3.5M404.50 84.70h-3.5M679.50 84.70h3.5M404.50 97.20h-3.5M679.50 97.20h3.5M404.50 109.70h-3.5M679.50 109.70h3.5M404.50 122.20h-3.5M679.50 122.20h3.5M404.50 147.20h-3.5M679.50 147.20h3.5M404.50 159.70h-3.5M679.50 159.70h3.5M404.50 172.20h-3.5M679.50 172.20h3.5M404.50 184.70h-3.5M679.50 184.70h3.5M404.50 209.70h-3.5M679.50 209.70h3.5M404.50 222.20h-3.5M679.50 222.20h3.5M404.50 234.70h-3.5M679.50 234.70h3.5M404.50 247.20h-3.5M679.50 247.20h3.5M404.50 272.20h-3.5M679.50 272.20h3.5M404.50 284.70h-3.5M679.50 284.70h3.5M404.50 297.20h-3.5M679.50 297.20h3.5M404.50 309.70h-3.5M679.50 309.70h3.5M404.50 72.20h-6.3M679.50 72.20h6.3M404.50 134.70h-6.3M679.50 134.70h6.3M404.50 197.20h-6.3M679.50 197.20h6.3M404.50 259.70h-6.3M679.50 259.70h6.3M404.50 322.20h-6.3M679.50 322.20h6.3" stroke="#000" stroke-width="1.15" fill="none"/>
<rect x="404.50" y="47.20" width="275.00" height="275.00" fill="none" stroke="#000" stroke-width="2.2"/>
<text x="442.80" y="342.00" text-anchor="middle">−122.85</text>
<text x="536.00" y="342.00" text-anchor="middle">−122.80</text>
<text x="629.20" y="342.00" text-anchor="middle">−122.75</text>
<text x="394.90" y="76.90" text-anchor="end">0</text>
<text x="394.90" y="139.40" text-anchor="end">−5</text>
<text x="394.90" y="201.90" text-anchor="end">−10</text>
<text x="394.90" y="264.40" text-anchor="end">−15</text>
<text x="394.90" y="326.90" text-anchor="end">−20</text>
<path d="M75.14 654.70v3.5M75.14 379.70v-3.5M88.23 654.70v3.5M88.23 379.70v-3.5M101.33 654.70v3.5M101.33 379.70v-3.5M114.42 654.70v3.5M114.42 379.70v-3.5M140.62 654.70v3.5M140.62 379.70v-3.5M153.71 654.70v3.5M153.71 379.70v-3.5M166.81 654.70v3.5M166.81 379.70v-3.5M179.90 654.70v3.5M179.90 379.70v-3.5M206.10 654.70v3.5M206.10 379.70v-3.5M219.19 654.70v3.5M219.19 379.70v-3.5M232.29 654.70v3.5M232.29 379.70v-3.5M245.38 654.70v3.5M245.38 379.70v-3.5M271.58 654.70v3.5M271.58 379.70v-3.5M284.67 654.70v3.5M284.67 379.70v-3.5M297.77 654.70v3.5M297.77 379.70v-3.5M310.86 654.70v3.5M310.86 379.70v-3.5M62.04 654.70v6.3M62.04 379.70v-6.3M127.52 654.70v6.3M127.52 379.70v-6.3M193.00 654.70v6.3M193.00 379.70v-6.3M258.48 654.70v6.3M258.48 379.70v-6.3M323.96 654.70v6.3M323.96 379.70v-6.3M55.50 379.70h-3.5M330.50 379.70h3.5M55.50 392.20h-3.5M330.50 392.20h3.5M55.50 417.20h-3.5M330.50 417.20h3.5M55.50 429.70h-3.5M330.50 429.70h3.5M55.50 442.20h-3.5M330.50 442.20h3.5M55.50 454.70h-3.5M330.50 454.70h3.5M55.50 479.70h-3.5M330.50 479.70h3.5M55.50 492.20h-3.5M330.50 492.20h3.5M55.50 504.70h-3.5M330.50 504.70h3.5M55.50 517.20h-3.5M330.50 517.20h3.5M55.50 542.20h-3.5M330.50 542.20h3.5M55.50 554.70h-3.5M330.50 554.70h3.5M55.50 567.20h-3.5M330.50 567.20h3.5M55.50 579.70h-3.5M330.50 579.70h3.5M55.50 604.70h-3.5M330.50 604.70h3.5M55.50 617.20h-3.5M330.50 617.20h3.5M55.50 629.70h-3.5M330.50 629.70h3.5M55.50 642.20h-3.5M330.50 642.20h3.5M55.50 404.70h-6.3M330.50 404.70h6.3M55.50 467.20h-6.3M330.50 467.20h6.3M55.50 529.70h-6.3M330.50 529.70h6.3M55.50 592.20h-6.3M330.50 592.20h6.3M55.50 654.70h-6.3M330.50 654.70h6.3" stroke="#000" stroke-width="1.15" fill="none"/>
<rect x="55.50" y="379.70" width="275.00" height="275.00" fill="none" stroke="#000" stroke-width="2.2"/>
<text x="62.04" y="674.50" text-anchor="middle">−20</text>
<text x="127.52" y="674.50" text-anchor="middle">−10</text>
<text x="193.00" y="674.50" text-anchor="middle">0</text>
<text x="258.48" y="674.50" text-anchor="middle">10</text>
<text x="323.96" y="674.50" text-anchor="middle">20</text>
<text x="45.90" y="409.40" text-anchor="end">0</text>
<text x="45.90" y="471.90" text-anchor="end">−5</text>
<text x="45.90" y="534.40" text-anchor="end">−10</text>
<text x="45.90" y="596.90" text-anchor="end">−15</text>
<text x="45.90" y="659.40" text-anchor="end">−20</text>
<path d="M424.14 655.30v3.5M424.14 380.30v-3.5M437.23 655.30v3.5M437.23 380.30v-3.5M450.33 655.30v3.5M450.33 380.30v-3.5M463.42 655.30v3.5M463.42 380.30v-3.5M489.62 655.30v3.5M489.62 380.30v-3.5M502.71 655.30v3.5M502.71 380.30v-3.5M515.81 655.30v3.5M515.81 380.30v-3.5M528.90 655.30v3.5M528.90 380.30v-3.5M555.10 655.30v3.5M555.10 380.30v-3.5M568.19 655.30v3.5M568.19 380.30v-3.5M581.29 655.30v3.5M581.29 380.30v-3.5M594.38 655.30v3.5M594.38 380.30v-3.5M620.58 655.30v3.5M620.58 380.30v-3.5M633.67 655.30v3.5M633.67 380.30v-3.5M646.77 655.30v3.5M646.77 380.30v-3.5M659.86 655.30v3.5M659.86 380.30v-3.5M411.04 655.30v6.3M411.04 380.30v-6.3M476.52 655.30v6.3M476.52 380.30v-6.3M542.00 655.30v6.3M542.00 380.30v-6.3M607.48 655.30v6.3M607.48 380.30v-6.3M672.96 655.30v6.3M672.96 380.30v-6.3M404.50 380.30h-3.5M679.50 380.30h3.5M404.50 392.80h-3.5M679.50 392.80h3.5M404.50 417.80h-3.5M679.50 417.80h3.5M404.50 430.30h-3.5M679.50 430.30h3.5M404.50 442.80h-3.5M679.50 442.80h3.5M404.50 455.30h-3.5M679.50 455.30h3.5M404.50 480.30h-3.5M679.50 480.30h3.5M404.50 492.80h-3.5M679.50 492.80h3.5M404.50 505.30h-3.5M679.50 505.30h3.5M404.50 517.80h-3.5M679.50 517.80h3.5M404.50 542.80h-3.5M679.50 542.80h3.5M404.50 555.30h-3.5M679.50 555.30h3.5M404.50 567.80h-3.5M679.50 567.80h3.5M404.50 580.30h-3.5M679.50 580.30h3.5M404.50 605.30h-3.5M679.50 605.30h3.5M404.50 617.80h-3.5M679.50 617.80h3.5M404.50 630.30h-3.5M679.50 630.30h3.5M404.50 642.80h-3.5M679.50 642.80h3.5M404.50 405.30h-6.3M679.50 405.30h6.3M404.50 467.80h-6.3M679.50 467.80h6.3M404.50 530.30h-6.3M679.50 530.30h6.3M404.50 592.80h-6.3M679.50 592.80h6.3M404.50 655.30h-6.3M679.50 655.30h6.3" stroke="#000" stroke-width="1.15" fill="none"/>
<rect x="404.50" y="380.30" width="275.00" height="275.00" fill="none" stroke="#000" stroke-width="2.2"/>
<text x="411.04" y="675.10" text-anchor="middle">−20</text>
<text x="476.52" y="675.10" text-anchor="middle">−10</text>
<text x="542.00" y="675.10" text-anchor="middle">0</text>
<text x="607.48" y="675.10" text-anchor="middle">10</text>
<text x="672.96" y="675.10" text-anchor="middle">20</text>
<text x="394.90" y="410.00" text-anchor="end">0</text>
<text x="394.90" y="472.50" text-anchor="end">−5</text>
<text x="394.90" y="535.00" text-anchor="end">−10</text>
<text x="394.90" y="597.50" text-anchor="end">−15</text>
<text x="394.90" y="660.00" text-anchor="end">−20</text>
<text class="big" x="2" y="21.5"><tspan class="pp" dy="1.3">(</tspan><tspan dy="-1.3">a</tspan><tspan class="pp" dy="1.3">)</tspan></text>
<text class="big" x="354" y="21.5"><tspan class="pp" dy="1.3">(</tspan><tspan dy="-1.3">b</tspan><tspan class="pp" dy="1.3">)</tspan></text>
<text class="big" x="5" y="367"><tspan class="pp" dy="1.3">(</tspan><tspan dy="-1.3">c</tspan><tspan class="pp" dy="1.3">)</tspan></text>
<text class="big" x="354.5" y="367"><tspan class="pp" dy="1.3">(</tspan><tspan dy="-1.3">d</tspan><tspan class="pp" dy="1.3">)</tspan></text>
<text class="ax" transform="translate(13.5,182) rotate(-90)" text-anchor="middle">Depth (km)</text>
<text class="ax" transform="translate(13.5,517) rotate(-90)" text-anchor="middle">Depth (km)</text>
<text class="ax" x="192.5" y="696" text-anchor="middle">Distance (km)</text>
<text class="ax" x="541.5" y="696" text-anchor="middle">Distance (km)</text>
</svg></body></html>
